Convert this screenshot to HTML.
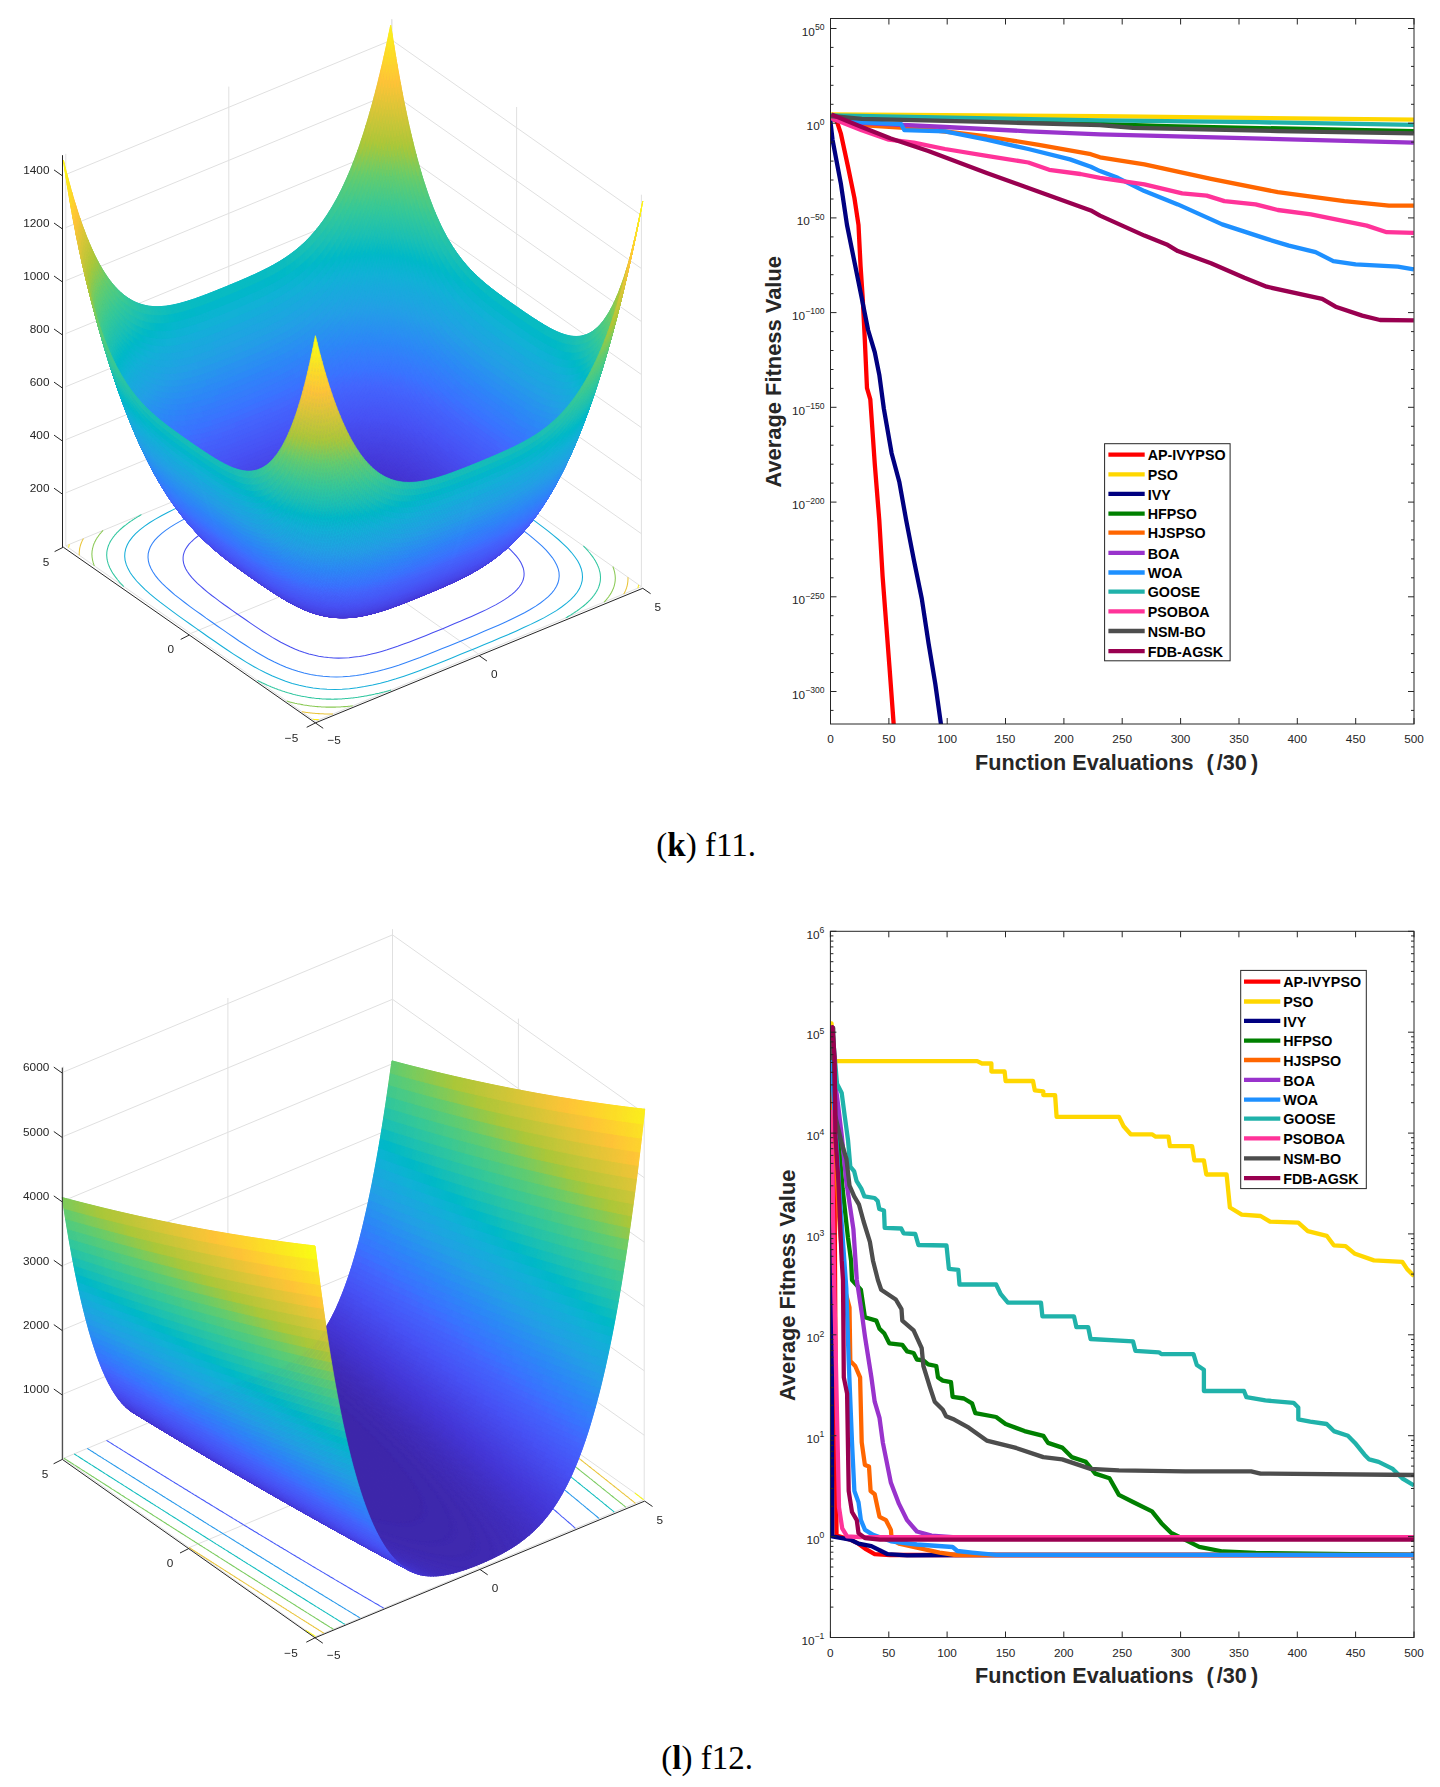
<!DOCTYPE html>
<html><head><meta charset="utf-8"><style>
html,body{margin:0;padding:0;background:#fff;}
body{position:relative;width:1440px;height:1787px;overflow:hidden;}
svg,canvas{display:block;position:absolute;left:0;}
</style></head><body>
<svg width="1440" height="1787" viewBox="0 0 1440 1787" style="top:0">
<rect width="1440" height="1787" fill="#fff"/>
<line x1="65.8" y1="545.8" x2="65.8" y2="153.8" stroke="#e0e0e0" stroke-width="1"/><line x1="228.8" y1="478.5" x2="228.8" y2="86.6" stroke="#e0e0e0" stroke-width="1"/><line x1="391.8" y1="411.3" x2="391.8" y2="19.3" stroke="#e0e0e0" stroke-width="1"/><line x1="641.4" y1="586.7" x2="641.4" y2="194.7" stroke="#e0e0e0" stroke-width="1"/><line x1="516.6" y1="499.0" x2="516.6" y2="107.0" stroke="#e0e0e0" stroke-width="1"/><line x1="391.8" y1="411.3" x2="391.8" y2="19.3" stroke="#e0e0e0" stroke-width="1"/><line x1="65.8" y1="492.8" x2="391.8" y2="358.3" stroke="#e0e0e0" stroke-width="1"/><line x1="391.8" y1="358.3" x2="641.4" y2="533.7" stroke="#e0e0e0" stroke-width="1"/><line x1="65.8" y1="439.7" x2="391.8" y2="305.2" stroke="#e0e0e0" stroke-width="1"/><line x1="391.8" y1="305.2" x2="641.4" y2="480.6" stroke="#e0e0e0" stroke-width="1"/><line x1="65.8" y1="386.7" x2="391.8" y2="252.2" stroke="#e0e0e0" stroke-width="1"/><line x1="391.8" y1="252.2" x2="641.4" y2="427.6" stroke="#e0e0e0" stroke-width="1"/><line x1="65.8" y1="333.6" x2="391.8" y2="199.1" stroke="#e0e0e0" stroke-width="1"/><line x1="391.8" y1="199.1" x2="641.4" y2="374.5" stroke="#e0e0e0" stroke-width="1"/><line x1="65.8" y1="280.6" x2="391.8" y2="146.1" stroke="#e0e0e0" stroke-width="1"/><line x1="391.8" y1="146.1" x2="641.4" y2="321.5" stroke="#e0e0e0" stroke-width="1"/><line x1="65.8" y1="227.6" x2="391.8" y2="93.1" stroke="#e0e0e0" stroke-width="1"/><line x1="391.8" y1="93.1" x2="641.4" y2="268.5" stroke="#e0e0e0" stroke-width="1"/><line x1="65.8" y1="174.5" x2="391.8" y2="40.0" stroke="#e0e0e0" stroke-width="1"/><line x1="391.8" y1="40.0" x2="641.4" y2="215.4" stroke="#e0e0e0" stroke-width="1"/><line x1="315.4" y1="721.2" x2="65.8" y2="545.8" stroke="#e0e0e0" stroke-width="1"/><line x1="478.4" y1="654.0" x2="228.8" y2="478.5" stroke="#e0e0e0" stroke-width="1"/><line x1="641.4" y1="586.7" x2="391.8" y2="411.3" stroke="#e0e0e0" stroke-width="1"/><line x1="315.4" y1="721.2" x2="641.4" y2="586.7" stroke="#e0e0e0" stroke-width="1"/><line x1="190.6" y1="633.5" x2="516.6" y2="499.0" stroke="#e0e0e0" stroke-width="1"/><line x1="65.8" y1="545.8" x2="391.8" y2="411.3" stroke="#e0e0e0" stroke-width="1"/><path d="M446.8 502.7 442.3 499.7 437.6 496.8 433.5 494.3 428.5 491.5 424.2 489.1 419.6 486.8 414.8 484.6 410.7 482.8 405.4 480.8 400.7 479.3 396.2 478.0 391.4 476.9 386.8 476.0 381.8 475.3 376.4 474.7 371.8 474.5 366.5 474.4 361.5 474.6 355.8 475.1 350.4 475.7 345.0 476.6 339.9 477.5 334.7 478.7 329.3 480.1 323.7 481.6 318.3 483.3 312.2 485.3 307.0 487.2 301.1 489.3 295.2 491.6 290.2 493.5 284.4 495.8 278.6 498.1 272.9 500.4 267.2 502.8 261.5 505.1 255.8 507.5 250.1 509.9 244.5 512.3 238.8 514.7 234.1 516.8 228.5 519.3 223.1 521.8 218.5 524.0 213.5 526.6 208.9 529.1 204.7 531.6 201.3 533.8 197.4 536.5 194.4 538.9 191.6 541.5 189.0 544.2 187.2 546.6 185.5 549.3 184.3 551.9 183.4 554.8 183.1 557.3 183.1 560.1 183.6 563.1 184.4 565.8 185.7 568.7 187.3 571.5 189.3 574.4 191.7 577.4 194.5 580.4 197.4 583.4 200.6 586.2 204.4 589.5 207.8 592.3 211.8 595.5 215.4 598.2 219.6 601.3 223.9 604.5 228.2 607.5 232.5 610.6 236.9 613.7 241.3 616.8 245.7 619.8 250.1 622.9 254.5 625.9 259.0 628.9 262.9 631.5 267.6 634.4 272.3 637.4 276.5 639.8 280.8 642.2 285.3 644.5 289.9 646.8 294.8 649.0 299.1 650.7 304.3 652.5 308.9 653.9 313.6 655.1 318.6 656.2 323.7 657.0 328.3 657.6 333.8 658.0 338.5 658.1 343.8 658.0 349.1 657.7 354.3 657.1 359.4 656.4 365.3 655.4 370.3 654.3 376.0 652.9 381.6 651.4 387.1 649.8 392.4 648.0 397.6 646.3 403.6 644.1 409.5 641.9 414.5 640.0 420.3 637.7 426.1 635.4 431.9 633.1 437.6 630.7 443.3 628.4 449.0 626.0 454.7 623.6 460.3 621.3 466.0 618.8 471.5 616.4 476.3 614.3 481.8 611.8 486.4 609.6 491.7 606.9 496.1 604.6 500.4 602.1 504.5 599.6 508.2 597.1 511.6 594.6 514.5 592.1 517.2 589.4 519.2 587.0 521.2 584.1 522.6 581.4 523.4 579.0 524.0 576.0 524.1 573.4 523.8 570.5 523.2 568.0 522.0 565.0 520.6 562.1 518.8 559.3 516.4 556.2 514.1 553.6 511.3 550.6 508.1 547.5 504.5 544.4 501.1 541.6 497.1 538.4 493.0 535.2 489.4 532.5 485.1 529.4 480.9 526.3 476.5 523.2 472.2 520.1 467.8 517.0 463.4 514.0 459.0 510.9 454.6 507.9 450.1 504.9 446.8 502.7" fill="none" stroke="#474ff0" stroke-width="1.05"/><path d="M483.5 502.1 477.9 498.2 472.2 494.3 466.5 490.5 460.6 486.6 455.3 483.2 449.2 479.5 443.6 476.2 437.8 473.1 431.7 470.0 426.1 467.4 420.3 465.0 414.0 462.7 407.8 460.7 401.6 459.1 395.5 457.8 389.2 456.8 382.8 456.1 376.0 455.6 369.4 455.6 363.3 455.8 356.3 456.3 349.7 457.2 342.4 458.4 335.3 459.8 328.6 461.4 321.1 463.4 314.8 465.3 306.9 467.9 299.9 470.3 293.1 472.8 285.5 475.7 278.0 478.6 270.6 481.6 263.2 484.6 256.7 487.2 249.3 490.2 242.0 493.3 234.7 496.3 228.2 499.0 220.9 502.1 213.7 505.2 206.5 508.3 199.8 511.4 193.3 514.5 187.2 517.5 181.3 520.6 175.6 523.9 170.7 526.9 165.6 530.4 161.8 533.3 157.9 536.9 154.8 540.2 152.3 543.5 150.3 547.0 149.0 550.5 148.2 553.7 148.0 557.2 148.4 561.1 149.3 564.5 150.9 568.3 152.8 571.8 155.4 575.6 158.4 579.3 162.1 583.3 166.1 587.2 170.4 591.0 174.8 594.8 179.4 598.4 184.7 602.5 190.1 606.6 195.6 610.6 201.2 614.5 206.1 618.1 211.7 622.0 217.3 626.0 223.0 629.9 228.0 633.4 233.7 637.3 239.4 641.2 245.3 645.0 251.2 648.9 256.6 652.2 262.2 655.5 267.9 658.7 273.9 661.7 280.3 664.7 286.1 667.2 292.3 669.5 297.9 671.3 304.0 673.0 310.5 674.5 316.5 675.5 323.0 676.3 329.8 676.8 336.5 676.9 342.7 676.8 349.8 676.3 356.4 675.5 362.8 674.5 369.9 673.1 376.7 671.6 384.2 669.6 391.5 667.4 398.6 665.2 405.6 662.8 412.4 660.3 420.0 657.5 427.5 654.5 435.0 651.6 442.3 648.6 448.9 645.9 456.2 642.9 463.6 639.9 470.9 636.9 477.4 634.2 484.7 631.1 491.9 628.0 499.1 624.9 506.2 621.7 512.4 618.8 518.5 615.8 524.5 612.7 530.2 609.5 535.8 606.1 540.4 603.0 544.7 599.7 548.3 596.6 551.7 593.1 554.2 590.0 556.5 586.2 558.0 582.8 558.8 579.6 559.2 576.1 559.0 572.4 558.2 568.8 556.8 565.2 554.7 561.2 552.5 557.8 549.3 553.8 546.1 550.2 542.1 546.2 537.9 542.4 533.5 538.7 528.7 534.7 523.7 530.9 518.3 526.8 512.8 522.8 507.3 518.9 502.3 515.3 496.7 511.4 491.1 507.4 485.5 503.5 483.5 502.1" fill="none" stroke="#3182f9" stroke-width="1.05"/><path d="M491.6 490.5 485.3 486.2 478.9 481.9 472.4 477.6 466.4 473.8 459.7 469.6 453.4 465.9 446.8 462.4 440.5 459.2 433.6 456.0 426.9 453.2 420.6 450.9 414.0 448.8 406.8 446.9 400.1 445.5 392.8 444.3 385.9 443.5 378.8 443.1 371.0 443.0 363.6 443.3 356.7 443.9 349.0 444.8 341.0 446.2 333.6 447.7 325.9 449.6 317.6 451.8 309.6 454.2 301.5 456.9 293.7 459.6 286.1 462.4 277.7 465.6 269.4 468.9 261.1 472.2 253.8 475.2 245.6 478.5 237.4 481.9 229.3 485.3 221.1 488.6 213.0 492.0 205.8 495.1 197.7 498.5 189.8 502.0 182.1 505.5 174.9 508.9 168.1 512.2 161.4 515.7 155.0 519.4 149.5 522.8 144.3 526.4 139.8 529.9 135.6 533.7 132.4 537.1 129.4 541.1 127.3 544.8 125.7 548.8 124.9 552.7 124.7 556.3 125.1 560.3 126.3 564.7 128.0 568.6 130.3 572.8 133.1 576.7 136.6 581.0 140.6 585.2 145.1 589.6 149.9 593.9 155.0 598.1 160.1 602.2 166.1 606.7 172.1 611.2 178.2 615.6 183.8 619.6 190.0 624.0 196.2 628.4 202.4 632.8 208.7 637.2 215.0 641.5 220.7 645.5 227.0 649.8 233.5 654.1 240.1 658.3 246.2 662.1 252.4 665.8 258.9 669.4 265.6 672.8 271.9 675.8 278.6 678.6 285.6 681.3 292.3 683.4 299.3 685.3 306.0 686.8 313.1 688.0 319.8 688.8 327.0 689.3 334.9 689.5 342.2 689.3 349.4 688.7 357.1 687.8 364.5 686.6 372.6 685.0 380.3 683.2 387.8 681.2 396.0 678.8 404.0 676.2 411.8 673.5 419.4 670.7 427.8 667.5 436.2 664.3 444.4 661.0 451.8 658.0 460.0 654.6 468.1 651.3 476.3 647.9 484.4 644.6 492.5 641.2 499.8 638.1 507.9 634.7 515.9 631.2 523.7 627.6 530.7 624.4 537.6 621.0 544.3 617.6 550.8 613.9 556.4 610.6 561.6 607.0 566.6 603.2 570.7 599.7 574.3 595.9 577.2 592.3 579.5 588.6 581.2 584.4 582.2 580.6 582.5 576.9 582.2 572.9 581.3 569.0 579.7 564.8 577.6 560.8 574.6 556.5 571.3 552.3 567.6 548.2 563.1 543.8 558.4 539.5 553.4 535.3 548.2 531.2 542.3 526.7 536.3 522.2 530.2 517.7 524.7 513.8 518.5 509.4 512.3 505.0 506.0 500.6 499.8 496.2 493.5 491.8 491.6 490.5" fill="none" stroke="#15aed9" stroke-width="1.05"/><path d="M257.4 680.5 258.1 680.8 258.9 681.2 259.7 681.6 260.4 681.9 261.2 682.3 261.7 682.6 262.0 682.7 262.8 683.1 263.6 683.4 264.4 683.8 265.2 684.2 265.5 684.3 266.0 684.5 266.8 684.9 267.6 685.2 268.4 685.6 269.0 685.9 269.2 686.0 270.1 686.3 270.9 686.7 271.7 687.0 272.2 687.2 272.6 687.4 273.5 687.7 274.3 688.0 275.1 688.4 275.2 688.4 276.1 688.7 276.9 689.0 277.8 689.4 277.9 689.4 278.7 689.7 279.6 690.0 280.5 690.3 280.6 690.4 281.5 690.7 282.4 691.0 283.1 691.2 283.3 691.3 284.3 691.6 285.2 691.9 285.5 692.0 286.2 692.2 287.1 692.5 287.8 692.7 288.1 692.8 289.1 693.1 290.0 693.3 290.1 693.4 291.1 693.6 292.1 693.9 292.1 693.9 293.1 694.2 294.2 694.5 294.2 694.5 295.2 694.7 296.1 694.9 296.3 695.0 297.4 695.2 298.1 695.4 298.5 695.5 299.6 695.7 300.0 695.8 300.7 696.0 301.8 696.2 301.8 696.2 303.0 696.4 303.6 696.5 304.1 696.6 305.3 696.8 305.3 696.8 306.5 697.0 307.0 697.1 307.7 697.2 308.7 697.4 308.9 697.4 310.2 697.6 310.3 697.6 311.4 697.8 311.9 697.9 312.7 698.0 313.5 698.0 314.0 698.1 315.0 698.2 315.3 698.3 316.6 698.4 316.7 698.4 318.1 698.5 318.1 698.5 319.5 698.6 319.5 698.7 320.9 698.8 321.0 698.8 322.3 698.9 322.4 698.9 323.8 698.9 323.8 698.9 325.2 699.0 325.3 699.0 326.6 699.1 326.9 699.1 327.9 699.1 328.5 699.1 329.3 699.1 330.1 699.1 330.6 699.1 331.7 699.2 331.9 699.2 333.2 699.2 333.4 699.2 334.5 699.1 335.2 699.1 335.7 699.1 336.9 699.1 337.0 699.1 338.2 699.0 338.8 699.0 339.4 699.0 340.6 698.9 340.7 698.9 341.8 698.9 342.6 698.8 343.0 698.8 344.2 698.7 344.6 698.7 345.4 698.6 346.5 698.5 346.7 698.5 347.7 698.4 348.8 698.3 348.9 698.3 350.0 698.2 351.1 698.1 351.1 698.1 352.2 698.0 353.3 697.9 353.5 697.8 354.4 697.7 355.5 697.6 355.9 697.5 356.6 697.4 357.7 697.3 358.5 697.2 358.8 697.1 359.8 697.0 360.9 696.8 361.1 696.8 361.9 696.6 363.0 696.5 364.0 696.3 364.0 696.3 365.0 696.1 366.1 695.9 367.0 695.7 367.1 695.7 368.1 695.5 369.1 695.3 370.1 695.1 370.2 695.1 371.1 694.9 372.1 694.7 373.1 694.5 373.6 694.4 374.1 694.3 375.1 694.1 376.1 693.8 377.0 693.6 377.4 693.6 378.0 693.4 379.0 693.2 379.9 692.9 380.9 692.7 381.4 692.6 381.9 692.5 382.8 692.2 383.8 692.0 384.7 691.7 385.6 691.5 386.0 691.4 386.6 691.2 387.5 691.0 388.4 690.7 389.4 690.5 390.3 690.2 391.1 690.0" fill="none" stroke="#2fc69f" stroke-width="1.05"/><path d="M141.5 514.6 140.9 514.9 140.2 515.3 139.5 515.8 138.8 516.2 138.1 516.6 137.6 516.9 137.4 517.0 136.7 517.4 136.0 517.9 135.3 518.3 134.6 518.7 134.3 518.9 134.0 519.2 133.3 519.6 132.6 520.0 132.0 520.5 131.5 520.8 131.3 520.9 130.6 521.4 130.0 521.8 129.3 522.3 129.0 522.5 128.7 522.7 128.1 523.2 127.4 523.7 126.8 524.1 126.8 524.1 126.2 524.6 125.6 525.1 124.9 525.5 124.9 525.6 124.3 526.0 123.7 526.5 123.1 527.0 123.1 527.0 122.5 527.5 122.0 528.0 121.5 528.4 121.4 528.5 120.8 529.0 120.2 529.5 120.1 529.7 119.7 530.0 119.1 530.6 118.8 530.9 118.6 531.1 118.1 531.6 117.6 532.1 117.5 532.2 117.0 532.7 116.5 533.2 116.5 533.2 116.0 533.8 115.5 534.3 115.5 534.4 115.0 534.9 114.6 535.4 114.5 535.5 114.1 536.1 113.8 536.5 113.6 536.7 113.1 537.3 113.0 537.5 112.7 537.9 112.3 538.5 112.3 538.5 111.9 539.1 111.6 539.4 111.5 539.7 111.1 540.3 111.1 540.4 110.7 541.0 110.5 541.3 110.3 541.6 110.0 542.2 110.0 542.3 109.6 543.0 109.6 543.0 109.3 543.6 109.2 543.9 109.0 544.3 108.8 544.8 108.7 545.0 108.5 545.6 108.4 545.8 108.2 546.4 108.2 546.5 107.9 547.2 107.9 547.2 107.7 548.0 107.7 548.0 107.5 548.7 107.5 548.8 107.3 549.5 107.3 549.6 107.1 550.3 107.1 550.3 107.0 551.1 107.0 551.1 106.9 551.8 106.9 552.0 106.8 552.5 106.8 552.8 106.8 553.2 106.8 553.7 106.8 554.0 106.7 554.6 106.7 554.7 106.7 555.4 106.7 555.5 106.8 556.0 106.8 556.4 106.8 556.7 106.9 557.4 106.9 557.4 106.9 558.1 107.0 558.4 107.0 558.7 107.1 559.4 107.1 559.4 107.2 560.0 107.3 560.4 107.4 560.7 107.5 561.3 107.6 561.5 107.7 561.9 107.9 562.6 107.9 562.6 108.0 563.2 108.2 563.8 108.2 563.8 108.4 564.4 108.7 565.0 108.7 565.0 108.9 565.6 109.1 566.2 109.2 566.3 109.4 566.8 109.6 567.4 109.7 567.6 109.9 568.0 110.2 568.5 110.4 569.0 110.5 569.1 110.8 569.7 111.1 570.3 111.2 570.4 111.4 570.8 111.7 571.4 112.0 571.9 112.1 572.0 112.4 572.5 112.7 573.1 113.0 573.5 113.1 573.6 113.5 574.2 113.8 574.7 114.2 575.2 114.2 575.3 114.6 575.8 115.0 576.3 115.4 576.9 115.6 577.1 115.7 577.4 116.2 577.9 116.6 578.4 117.0 579.0 117.1 579.1 117.4 579.5 117.8 580.0 118.3 580.5 118.7 581.0 118.9 581.3 119.1 581.6 119.6 582.1 120.0 582.6 120.5 583.1 121.0 583.6 121.1 583.8 121.4 584.1 121.9 584.6 122.4 585.1 122.9 585.6 123.3 586.1 123.8 586.5" fill="none" stroke="#2fc69f" stroke-width="1.05"/><path d="M565.7 617.9 566.3 617.6 567.0 617.2 567.7 616.7 568.4 616.3 569.1 615.9 569.6 615.6 569.8 615.5 570.5 615.1 571.2 614.6 571.9 614.2 572.6 613.8 572.9 613.6 573.2 613.3 573.9 612.9 574.6 612.5 575.2 612.0 575.7 611.7 575.9 611.6 576.6 611.1 577.2 610.7 577.9 610.2 578.2 610.0 578.5 609.8 579.1 609.3 579.8 608.8 580.4 608.4 580.4 608.4 581.0 607.9 581.6 607.4 582.3 607.0 582.3 606.9 582.9 606.5 583.5 606.0 584.1 605.5 584.1 605.5 584.7 605.0 585.2 604.5 585.7 604.1 585.8 604.0 586.4 603.5 587.0 603.0 587.1 602.8 587.5 602.5 588.1 601.9 588.4 601.6 588.6 601.4 589.1 600.9 589.6 600.4 589.7 600.3 590.2 599.8 590.7 599.3 590.7 599.3 591.2 598.7 591.7 598.2 591.7 598.1 592.2 597.6 592.6 597.1 592.7 597.0 593.1 596.4 593.4 596.0 593.6 595.8 594.1 595.2 594.2 595.0 594.5 594.6 594.9 594.0 594.9 594.0 595.3 593.4 595.6 593.1 595.7 592.8 596.1 592.2 596.1 592.1 596.5 591.5 596.7 591.2 596.9 590.9 597.2 590.3 597.2 590.2 597.6 589.5 597.6 589.5 597.9 588.9 598.0 588.6 598.2 588.2 598.4 587.7 598.5 587.5 598.7 586.9 598.8 586.7 599.0 586.1 599.0 586.0 599.3 585.3 599.3 585.3 599.5 584.5 599.5 584.5 599.7 583.8 599.7 583.7 599.9 583.0 599.9 582.9 600.1 582.2 600.1 582.2 600.2 581.4 600.2 581.4 600.3 580.7 600.3 580.5 600.4 580.0 600.4 579.7 600.4 579.3 600.4 578.8 600.4 578.5 600.5 577.9 600.5 577.8 600.5 577.1 600.5 577.0 600.4 576.5 600.4 576.1 600.4 575.8 600.3 575.1 600.3 575.1 600.3 574.4 600.2 574.1 600.2 573.8 600.1 573.1 600.1 573.1 600.0 572.5 599.9 572.1 599.8 571.8 599.7 571.2 599.6 571.0 599.5 570.6 599.3 569.9 599.3 569.9 599.2 569.3 599.0 568.7 599.0 568.7 598.8 568.1 598.5 567.5 598.5 567.5 598.3 566.9 598.1 566.3 598.0 566.2 597.8 565.7 597.6 565.1 597.5 564.9 597.3 564.5 597.0 564.0 596.8 563.5 596.7 563.4 596.4 562.8 596.1 562.2 596.0 562.1 595.8 561.7 595.5 561.1 595.2 560.6 595.1 560.5 594.8 560.0 594.5 559.4 594.2 559.0 594.1 558.9 593.7 558.3 593.4 557.8 593.0 557.3 593.0 557.2 592.6 556.7 592.2 556.2 591.8 555.6 591.6 555.4 591.5 555.1 591.0 554.6 590.6 554.1 590.2 553.5 590.1 553.4 589.8 553.0 589.4 552.5 588.9 552.0 588.5 551.5 588.3 551.2 588.1 550.9 587.6 550.4 587.2 549.9 586.7 549.4 586.2 548.9 586.1 548.7 585.8 548.4 585.3 547.9 584.8 547.4 584.3 546.9 583.9 546.4 583.4 546.0" fill="none" stroke="#2fc69f" stroke-width="1.05"/><path d="M449.8 452.0 449.1 451.7 448.3 451.3 447.5 450.9 446.8 450.6 446.0 450.2 445.5 449.9 445.2 449.8 444.4 449.4 443.6 449.1 442.8 448.7 442.0 448.3 441.7 448.2 441.2 448.0 440.4 447.6 439.6 447.3 438.8 446.9 438.2 446.6 438.0 446.5 437.1 446.2 436.3 445.8 435.5 445.5 435.0 445.3 434.6 445.1 433.7 444.8 432.9 444.5 432.1 444.1 432.0 444.1 431.1 443.8 430.3 443.5 429.4 443.1 429.3 443.1 428.5 442.8 427.6 442.5 426.7 442.2 426.6 442.1 425.7 441.8 424.8 441.5 424.1 441.3 423.9 441.2 422.9 440.9 422.0 440.6 421.7 440.5 421.0 440.3 420.1 440.0 419.4 439.8 419.1 439.7 418.1 439.4 417.2 439.2 417.1 439.1 416.1 438.9 415.1 438.6 415.1 438.6 414.1 438.3 413.0 438.0 413.0 438.0 412.0 437.8 411.1 437.6 410.9 437.5 409.8 437.3 409.1 437.1 408.7 437.0 407.6 436.8 407.2 436.7 406.5 436.5 405.4 436.3 405.4 436.3 404.2 436.1 403.6 436.0 403.1 435.9 401.9 435.7 401.9 435.7 400.7 435.5 400.2 435.4 399.5 435.3 398.5 435.1 398.3 435.1 397.0 434.9 396.9 434.9 395.8 434.7 395.3 434.6 394.5 434.5 393.7 434.5 393.2 434.4 392.2 434.3 391.9 434.2 390.6 434.1 390.5 434.1 389.1 434.0 389.1 434.0 387.7 433.9 387.7 433.8 386.3 433.7 386.2 433.7 384.9 433.6 384.8 433.6 383.4 433.6 383.4 433.6 382.0 433.5 381.9 433.5 380.6 433.4 380.3 433.4 379.3 433.4 378.7 433.4 377.9 433.4 377.1 433.4 376.6 433.4 375.5 433.3 375.3 433.3 374.0 433.3 373.8 433.3 372.7 433.4 372.0 433.4 371.5 433.4 370.3 433.4 370.2 433.4 369.0 433.5 368.4 433.5 367.8 433.5 366.6 433.6 366.5 433.6 365.4 433.6 364.6 433.7 364.2 433.7 363.0 433.8 362.6 433.8 361.8 433.9 360.7 434.0 360.5 434.0 359.5 434.1 358.4 434.2 358.3 434.2 357.2 434.3 356.1 434.4 356.1 434.4 355.0 434.5 353.9 434.6 353.7 434.7 352.8 434.8 351.7 434.9 351.3 435.0 350.6 435.1 349.5 435.2 348.7 435.3 348.4 435.4 347.4 435.5 346.3 435.7 346.1 435.7 345.3 435.9 344.2 436.0 343.2 436.2 343.2 436.2 342.2 436.4 341.1 436.6 340.2 436.8 340.1 436.8 339.1 437.0 338.1 437.2 337.1 437.4 337.0 437.4 336.1 437.6 335.1 437.8 334.1 438.0 333.6 438.1 333.1 438.2 332.1 438.4 331.1 438.7 330.2 438.9 329.8 438.9 329.2 439.1 328.2 439.3 327.3 439.6 326.3 439.8 325.8 439.9 325.3 440.0 324.4 440.3 323.4 440.5 322.5 440.8 321.6 441.0 321.2 441.1 320.6 441.3 319.7 441.5 318.8 441.8 317.8 442.0 316.9 442.3 316.1 442.5" fill="none" stroke="#2fc69f" stroke-width="1.05"/><path d="M286.8 701.1 287.6 701.3 288.6 701.6 289.0 701.7 289.7 701.9 290.7 702.2 291.0 702.2 291.8 702.4 292.8 702.7 293.0 702.7 293.9 702.9 294.9 703.2 295.0 703.2 296.1 703.4 296.8 703.6 297.2 703.7 298.3 703.9 298.6 704.0 299.4 704.1 300.4 704.3 300.6 704.3 301.8 704.6 302.2 704.6 302.9 704.8 303.9 704.9 304.1 705.0 305.4 705.2 305.6 705.2 306.6 705.3 307.2 705.4 307.8 705.5 308.8 705.7 309.1 705.7 310.4 705.9 310.4 705.9 311.7 706.0 312.0 706.1 313.0 706.2 313.5 706.2 314.4 706.3 315.0 706.4 315.7 706.4 316.5 706.5 317.1 706.6 317.9 706.6 318.6 706.7 319.4 706.7 320.0 706.8 320.8 706.8 321.5 706.9 322.2 706.9 323.0 706.9 323.6 707.0 324.5 707.0 325.0 707.0 326.1 707.1 326.3 707.1 327.7 707.1 327.7 707.1 329.0 707.1 329.3 707.1 330.3 707.1 331.0 707.1 331.6 707.1 332.7 707.1 332.9 707.1 334.1 707.1 334.4 707.1 335.4 707.1 336.2 707.0 336.6 707.0 337.9 707.0 338.1 707.0 339.1 706.9 340.0 706.9 340.3 706.9 341.5 706.8 341.9 706.8 342.7 706.7 343.9 706.7 343.9 706.6 345.0 706.6 346.0 706.5 346.2 706.5 347.3 706.4 348.1 706.3 348.5 706.3 349.6 706.2 350.4 706.1 350.7 706.0 351.9 705.9 352.7 705.8" fill="none" stroke="#89c953" stroke-width="1.05"/><path d="M103.1 530.4 102.7 530.8 102.2 531.4 102.0 531.5 101.7 531.9 101.2 532.5 101.0 532.7 100.7 533.1 100.2 533.6 100.1 533.7 99.7 534.2 99.3 534.8 99.3 534.8 98.8 535.4 98.5 535.8 98.4 536.0 98.0 536.6 97.8 536.8 97.5 537.2 97.2 537.7 97.1 537.8 96.7 538.4 96.6 538.7 96.3 539.1 96.0 539.6 96.0 539.7 95.6 540.4 95.5 540.5 95.3 541.0 95.1 541.4 94.9 541.7 94.7 542.2 94.6 542.4 94.3 543.1 94.3 543.1 94.0 543.8 93.9 543.9 93.7 544.5 93.6 544.8 93.5 545.2 93.3 545.6 93.2 546.0 93.1 546.4 93.0 546.7 92.9 547.2 92.8 547.5 92.7 547.9 92.6 548.3 92.5 548.7 92.4 549.1 92.4 549.5 92.3 549.9 92.2 550.2 92.2 550.7 92.1 550.9 92.1 551.5 92.0 551.7 92.0 552.4 92.0 552.4 92.0 553.1 91.9 553.3 91.9 553.8 91.9 554.2 91.9 554.5 91.9 555.1 92.0 555.2 92.0 555.9 92.0 556.0 92.0 556.5 92.1 557.0 92.1 557.2 92.2 557.9 92.2 558.0 92.3 558.5 92.4 559.0 92.4 559.2 92.5 559.8 92.6 560.1 92.6 560.5 92.8 561.1 92.8 561.1 93.0 561.7 93.1 562.3 93.1 562.4 93.3 563.0 93.5 563.4 93.5 563.6 93.7 564.2 93.9 564.6 93.9 564.8 94.2 565.4 94.4 565.9" fill="none" stroke="#89c953" stroke-width="1.05"/><path d="M604.1 602.1 604.5 601.7 605.0 601.1 605.2 601.0 605.5 600.6 606.0 600.0 606.2 599.8 606.5 599.4 607.0 598.9 607.1 598.8 607.5 598.3 607.9 597.7 607.9 597.7 608.4 597.1 608.7 596.7 608.8 596.5 609.2 595.9 609.4 595.7 609.7 595.3 610.0 594.8 610.1 594.7 610.5 594.1 610.6 593.8 610.9 593.4 611.2 592.9 611.2 592.8 611.6 592.1 611.7 592.0 611.9 591.5 612.1 591.1 612.3 590.8 612.5 590.3 612.6 590.1 612.9 589.4 612.9 589.4 613.2 588.7 613.3 588.6 613.5 588.0 613.6 587.7 613.7 587.3 613.9 586.9 614.0 586.5 614.1 586.1 614.2 585.8 614.3 585.3 614.4 585.0 614.5 584.6 614.6 584.2 614.7 583.8 614.8 583.4 614.8 583.0 614.9 582.6 615.0 582.3 615.0 581.8 615.1 581.6 615.1 581.0 615.2 580.8 615.2 580.1 615.2 580.1 615.2 579.4 615.3 579.2 615.3 578.7 615.3 578.3 615.3 578.0 615.3 577.4 615.2 577.3 615.2 576.6 615.2 576.5 615.2 576.0 615.1 575.5 615.1 575.3 615.0 574.6 615.0 574.5 614.9 574.0 614.8 573.5 614.8 573.3 614.7 572.7 614.6 572.4 614.6 572.0 614.4 571.4 614.4 571.4 614.2 570.8 614.1 570.2 614.1 570.1 613.9 569.5 613.7 569.1 613.7 568.9 613.5 568.3 613.3 567.9 613.3 567.7 613.0 567.1 612.8 566.6" fill="none" stroke="#89c953" stroke-width="1.05"/><path d="M420.4 431.4 419.6 431.2 418.6 430.9 418.2 430.8 417.5 430.6 416.5 430.3 416.2 430.3 415.4 430.1 414.4 429.8 414.2 429.8 413.3 429.6 412.3 429.3 412.2 429.3 411.1 429.1 410.4 428.9 410.0 428.8 408.9 428.6 408.6 428.5 407.8 428.4 406.8 428.2 406.6 428.2 405.4 427.9 405.0 427.9 404.3 427.7 403.3 427.6 403.1 427.5 401.8 427.3 401.6 427.3 400.6 427.2 400.0 427.1 399.4 427.0 398.4 426.8 398.1 426.8 396.8 426.6 396.8 426.6 395.5 426.5 395.2 426.4 394.2 426.3 393.7 426.3 392.8 426.2 392.2 426.1 391.5 426.1 390.7 426.0 390.1 425.9 389.3 425.9 388.6 425.8 387.8 425.8 387.2 425.7 386.4 425.7 385.7 425.6 385.0 425.6 384.2 425.6 383.6 425.5 382.7 425.5 382.2 425.5 381.1 425.4 380.9 425.4 379.5 425.4 379.5 425.4 378.2 425.4 377.9 425.4 376.9 425.4 376.2 425.4 375.6 425.4 374.5 425.4 374.3 425.4 373.1 425.4 372.8 425.4 371.8 425.4 371.0 425.5 370.6 425.5 369.3 425.5 369.1 425.5 368.1 425.6 367.2 425.6 366.9 425.6 365.7 425.7 365.3 425.7 364.5 425.8 363.3 425.8 363.3 425.9 362.2 425.9 361.2 426.0 361.0 426.0 359.9 426.1 359.1 426.2 358.7 426.2 357.6 426.3 356.8 426.4 356.5 426.5 355.3 426.6 354.5 426.7" fill="none" stroke="#89c953" stroke-width="1.05"/><path d="M301.9 711.7 302.7 711.8 303.6 712.0 303.9 712.0 305.1 712.2 305.2 712.2 306.4 712.4 306.8 712.5 307.7 712.6 308.4 712.7 309.0 712.7 310.0 712.8 310.3 712.9 311.5 713.0 311.6 713.0 313.0 713.2 313.0 713.2 314.3 713.3 314.5 713.3 315.7 713.4 316.0 713.4 317.2 713.5 317.4 713.5 318.6 713.6 318.9 713.6 320.1 713.7 320.3 713.7 321.6 713.8 321.7 713.8 323.0 713.8 323.1 713.8 324.4 713.9 324.7 713.9 325.7 713.9 326.3 713.9 327.1 713.9 327.9 714.0 328.4 714.0 329.6 714.0 329.7 714.0 331.0 714.0 331.3 714.0 332.2 713.9 333.0 713.9" fill="none" stroke="#e9c438" stroke-width="1.05"/><path d="M83.4 538.5 83.2 538.9 82.9 539.4 82.8 539.6 82.5 540.3 82.5 540.3 82.2 540.9 82.0 541.2 81.8 541.6 81.7 542.0 81.5 542.3 81.3 542.9 81.3 543.0 81.0 543.7 81.0 543.7 80.7 544.5 80.7 544.5 80.5 545.2 80.5 545.3 80.3 546.0 80.2 546.1 80.1 546.7 80.0 546.9 79.9 547.5 79.9 547.7 79.7 548.3 79.7 548.4 79.6 549.1 79.6 549.2 79.5 549.9 79.5 550.0 79.4 550.6 79.4 550.8 79.3 551.4 79.3 551.7 79.3 552.1 79.3 552.5 79.2 552.8 79.2 553.4 79.2 553.5 79.2 554.2 79.2 554.3 79.3 554.9 79.3 555.3" fill="none" stroke="#e9c438" stroke-width="1.05"/><path d="M623.8 594.0 624.0 593.6 624.3 593.1 624.4 592.9 624.7 592.2 624.7 592.2 625.0 591.6 625.2 591.3 625.4 590.9 625.5 590.5 625.7 590.2 625.9 589.6 625.9 589.5 626.2 588.8 626.2 588.8 626.5 588.0 626.5 588.0 626.7 587.3 626.7 587.2 626.9 586.5 627.0 586.4 627.1 585.8 627.2 585.6 627.3 585.0 627.3 584.8 627.5 584.2 627.5 584.1 627.6 583.4 627.6 583.3 627.7 582.6 627.7 582.5 627.8 581.9 627.8 581.7 627.9 581.1 627.9 580.8 627.9 580.4 627.9 580.0 628.0 579.7 628.0 579.1 628.0 579.0 628.0 578.3 628.0 578.2 627.9 577.6 627.9 577.2" fill="none" stroke="#e9c438" stroke-width="1.05"/><path d="M405.3 420.8 404.5 420.7 403.6 420.5 403.3 420.5 402.1 420.3 402.0 420.3 400.8 420.1 400.4 420.0 399.5 419.9 398.8 419.8 398.2 419.8 397.2 419.7 396.9 419.6 395.7 419.5 395.6 419.5 394.2 419.3 394.2 419.3 392.9 419.2 392.7 419.2 391.5 419.1 391.2 419.1 390.0 419.0 389.8 419.0 388.6 418.9 388.3 418.9 387.1 418.8 386.9 418.8 385.6 418.7 385.5 418.7 384.2 418.7 384.1 418.7 382.8 418.6 382.5 418.6 381.5 418.6 380.9 418.6 380.1 418.6 379.3 418.5 378.8 418.5 377.6 418.5 377.5 418.5 376.2 418.5 375.9 418.5 375.0 418.6 374.2 418.6" fill="none" stroke="#e9c438" stroke-width="1.05"/><path d="M312.7 719.3 313.2 719.3 314.1 719.4 314.6 719.4 315.6 719.5 316.0 719.5 317.0 719.6 317.5 719.6 318.4 719.7 319.0 719.7" fill="none" stroke="#fbec1e" stroke-width="1.05"/><path d="M69.4 544.3 69.3 544.6 69.1 545.1 69.1 545.4 68.9 545.9 68.9 546.1 68.8 546.7 68.7 546.9 68.6 547.4 68.5 547.7" fill="none" stroke="#fbec1e" stroke-width="1.05"/><path d="M637.8 588.2 637.9 587.9 638.1 587.4 638.1 587.1 638.3 586.6 638.3 586.4 638.4 585.8 638.5 585.6 638.6 585.1 638.7 584.8" fill="none" stroke="#fbec1e" stroke-width="1.05"/><path d="M394.5 413.2 394.0 413.2 393.1 413.1 392.6 413.1 391.6 413.0 391.2 413.0 390.2 412.9 389.7 412.9 388.8 412.8 388.2 412.8" fill="none" stroke="#fbec1e" stroke-width="1.05"/><g transform="scale(0.1)" stroke-width="9" stroke-linejoin="round"><path fill="#4434cf" stroke="#4434cf" d="M3660 6151l41-10-31 6-41 9zM4019 6038l41-16-31 10-41 15zM3937 6068l41-15-31 10-41 15zM3506 6174l41-4-32 2-41 4zM3896 6083l41-15-31 10-41 14zM3619 6158l41-7-31 5-41 8zM3855 6096l41-13-31 9-41 14zM3815 6109l40-13-31 10-41 13zM3320 6171l41 4-31-4-41-4zM3774 6121l41-12-32 10-41 12zM3908 4845l41-44-32-33-41 44zM3144 6133l41 11-32-11-41-11zM3578 6164l41-6-31 6-41 6zM3804 4818l41-41-32-37-41 41zM3248 6160l41 7-32-7-41-7zM4043 4890l41-49-31-28-41 48zM3733 6132l41-11-32 10-41 10zM4012 4861l41-48-32-29-41 48zM3692 6141l41-9-32 9-41 10zM3876 4812l41-44-31-35-41 44zM3175 6142l41 11-31-9-41-11zM3537 6168l41-4-31 6-41 4zM3352 6172l41 4-32-1-41-4zM4255 5942l41-17-31 14-41 17zM4214 5959l41-17-31 14-41 17zM4296 5925l41-17-31 14-41 17zM4173 5976l41-17-31 14-41 17zM4337 5908l41-17-31 14-41 17zM4133 5992l40-16-31 14-41 16zM4378 5891l41-17-32 13-40 18zM4092 6008l41-16-32 14-41 16zM4419 5874l41-18-32 14-41 17zM3772 4781l41-41-31-40-41 41zM4051 6024l41-16-32 14-41 16zM3279 6164l41 7-31-4-41-7zM4460 5856l41-18-32 13-41 19zM4010 6040l41-16-32 14-41 15zM3980 4832l41-48-31-32-41 49zM4501 5838l41-19-32 14-41 18zM3071 6108l41 14-31-12-41-15zM3651 6149l41-8-32 10-41 7zM3969 6055l41-15-32 13-41 15zM3928 6069l41-14-32 13-41 15zM3887 6083l41-14-32 14-41 13zM3845 4777l41-44-32-37-41 44zM3207 6149l41 11-32-7-41-11zM3497 6170l40-2-31 6-41 1zM4147 4894l41-53-31-25-41 52zM3846 6096l41-13-32 13-40 13zM3949 4801l41-49-32-32-41 48zM3103 6119l41 14-32-11-41-14zM3610 6155l41-6-32 9-41 6zM4116 4868l41-52-32-27-41 52zM3805 6107l41-11-31 13-41 12z"/><path fill="#4539d8" stroke="#4539d8" d="M3741 4741l41-41-32-43-41 41zM3311 6165l41 7-32-1-41-7zM3383 6170l41 4-31 2-41-4zM4084 4841l41-52-31-29-41 53zM4705 5737l41-23-31 14-41 23zM3764 6118l41-11-31 14-41 11zM3917 4768l41-48-31-35-41 48zM3134 6128l41 14-31-9-41-14zM3569 6159l41-4-32 9-41 4zM3813 4740l41-44-31-40-41 44zM3238 6153l41 11-31-4-41-11zM3456 6168l41 2-32 5-41-1zM4053 4813l41-53-32-29-41 53zM2999 6076l41 19-32-15-41-18zM3723 6127l41-9-31 14-41 9zM4287 5924l41-17-32 18-41 17zM4246 5941l41-17-32 18-41 17zM4021 4784l41-53-31-31-41 52zM4328 5907l41-17-32 18-41 17zM4205 5957l41-16-32 18-41 17zM3030 6089l41 19-31-13-41-19zM3682 6135l41-8-31 14-41 8zM4369 5890l41-17-32 18-41 17zM4164 5974l41-17-32 19-40 16zM4410 5873l40-18-31 19-41 17zM4123 5990l41-16-31 18-41 16zM4450 5855l41-18-31 19-41 18zM4082 6006l41-16-31 18-41 16zM3886 4733l41-48-32-38-41 49zM3166 6134l41 15-32-7-41-14zM3528 6160l41-1-32 9-40 2zM4491 5837l41-18-31 19-41 18zM4041 6021l41-15-31 18-41 16zM4532 5819l41-19-31 19-41 19zM4000 6036l41-15-31 19-41 15zM3709 4698l41-41-31-46-41 41zM3342 6163l41 7-31 2-41-7zM4573 5800l41-19-31 19-41 19zM2800 5968l41 24-31-20-41-23zM3959 6050l41-14-31 19-41 14zM3782 4700l41-44-32-43-41 44zM3270 6154l41 11-32-1-41-11zM3415 6164l41 4-32 6-41-4zM4220 4867l41-58-32-25-41 57zM4614 5781l41-20-31 19-41 20zM2832 5987l41 24-32-19-41-24zM3918 6064l41-14-31 19-41 14zM3990 4752l41-52-32-33-41 53zM3062 6100l41 19-32-11-41-19zM3641 6141l41-6-31 14-41 6zM4188 4841l41-57-31-26-41 58zM4655 5761l41-20-31 18-41 21zM2863 6005l41 24-31-18-41-24zM3878 6077l40-13-31 19-41 13zM4157 4816l41-58-32-27-41 58zM4696 5741l41-22-32 18-40 22zM2895 6022l41 24-32-17-41-24zM3837 6089l41-12-32 19-41 11zM3854 4696l41-49-31-40-41 49zM3197 6138l41 15-31-4-41-15zM3487 6159l41 1-31 10-41-2zM3958 4720l41-53-31-35-41 53zM3093 6109l41 19-31-9-41-19zM3600 6145l41-4-31 14-41 4zM4125 4789l41-58-31-28-41 57zM4737 5719l41-23-32 18-41 23zM2926 6038l41 24-31-16-41-24zM3796 6100l41-11-32 18-41 11zM4094 4760l41-57-32-29-41 57zM4778 5696l41-25-32 19-41 24zM2958 6052l41 24-32-14-41-24zM3755 6109l41-9-32 18-41 9zM3678 4652l41-41-32-49-41 41zM3750 4657l41-44-31-46-41 44zM3301 6152l41 11-31 2-41-11zM3374 6157l41 7-32 6-41-7zM3927 4685l41-53-32-37-41 52zM3125 6115l41 19-32-6-41-19zM3560 6146l40-1-31 14-41 1zM4062 4731l41-57-31-31-41 57zM4819 5671l41-26-32 19-41 26zM2989 6065l41 24-31-13-41-24zM3714 6117l41-8-32 18-41 8zM3605 4640l41-37-31-54-41 38zM3823 4656l41-49-32-43-41 49zM3229 6139l41 15-32-1-41-15zM3446 6155l41 4-31 9-41-4z"/><path fill="#463ede" stroke="#463ede" d="M4318 5900l41-17-31 24-41 17zM4277 5917l41-17-31 24-41 17zM2570 5816l41 28-31-22-41-28zM4359 5883l41-17-31 24-41 17zM4236 5934l41-17-31 24-41 16zM2602 5837l41 29-32-22-41-28zM4400 5866l41-17-31 24-41 17zM4196 5950l40-16-31 23-41 17zM4441 5849l41-17-32 23-40 18zM2633 5858l41 29-31-21-41-29zM4155 5966l41-16-32 24-41 16zM4482 5832l41-18-32 23-41 18zM4114 5982l41-16-32 24-41 16zM4523 5814l41-18-32 23-41 18zM2696 5900l41 29-31-21-41-29zM4073 5998l41-16-32 24-41 15zM4324 4857l41-62-32-24-41 63zM4564 5796l41-19-32 23-41 19zM2728 5920l41 29-32-20-41-29zM4032 6013l41-15-32 23-41 15zM4031 4700l41-57-32-33-41 57zM3021 6076l41 24-32-11-41-24zM3673 6122l41-5-32 18-41 6zM4292 4834l41-63-31-24-41 62zM4605 5777l41-19-32 23-41 19zM2759 5940l41 28-31-19-41-29zM3991 6027l41-14-32 23-41 14zM4261 4809l41-62-32-25-41 62zM4646 5758l41-20-32 23-41 20zM2791 5958l41 29-32-19-41-28zM3950 6041l41-14-32 23-41 14zM3895 4647l41-52-31-40-41 52zM3156 6119l41 19-31-4-41-19zM3519 6145l41 1-32 14-41-1zM4229 4784l41-62-32-26-40 62zM4687 5738l41-21-32 24-41 20zM2822 5976l41 29-31-18-41-29zM3909 6053l41-12-32 23-40 13zM3719 4611l41-44-32-50-41 45zM3333 6146l41 11-32 6-41-11zM3999 4667l41-57-32-35-40 57zM4198 4758l40-62-31-27-41 62zM3052 6085l41 24-31-9-41-24zM3632 6126l41-4-32 19-41 4zM4728 5717l40-22-31 24-41 22zM2854 5993l41 29-32-17-41-29zM3868 6065l41-12-31 24-41 12zM3646 4603l41-41-31-54-41 41zM3791 4613l41-49-31-46-41 49zM3260 6137l41 15-31 2-41-15zM3405 6148l41 7-31 9-41-7zM4166 4731l41-62-32-28-40 62zM4768 5695l41-23-31 24-41 23zM2886 6009l40 29-31-16-41-29zM3827 6076l41-11-31 24-41 11zM3574 4587l41-38-32-58-41 38zM3864 4607l41-52-32-43-41 52zM3188 6120l41 19-32-1-41-19zM3478 6141l41 4-32 14-41-4zM4135 4703l40-62-31-30-41 63zM4809 5672l41-24-31 23-41 25zM2917 6024l41 28-32-14-40-29zM3786 6085l41-9-31 24-41 9zM3968 4632l40-57-31-38-41 58zM3084 6092l41 23-32-6-41-24zM3591 6128l41-2-32 19-40 1zM4103 4674l41-63-32-31-40 63zM4850 5648l41-26-31 23-41 26zM2949 6036l40 29-31-13-41-28zM3745 6093l41-8-31 24-41 8zM3687 4562l41-45-31-53-41 44zM3760 4567l41-49-32-49-41 48zM3292 6132l41 14-32 6-41-15zM3364 6137l41 11-31 9-41-11zM3936 4595l41-58-32-40-40 58zM2466 5738l41 34-31-22-41-34zM2498 5760l41 34-32-22-41-34zM4072 4643l40-63-31-33-41 63zM4350 5871l41-17-32 29-41 17zM4309 5888l41-17-32 29-41 17zM3116 6096l40 23-31-4-41-23zM3550 6126l41 2-31 18-41-1zM4891 5622l41-28-31 24-41 27zM2435 5716l41 34-32-22-41-34zM2529 5781l41 35-31-22-41-34zM4391 5854l41-17-32 29-41 17zM4268 5905l41-17-32 29-41 17zM2980 6047l41 29-32-11-40-29zM3704 6099l41-6-31 24-41 5zM2403 5694l41 34-31-23-41-34zM2561 5803l41 34-32-21-41-35zM4432 5837l41-17-32 29-41 17zM4227 5921l41-16-32 29-40 16zM2372 5671l41 34-32-22-41-34zM4473 5820l41-17-32 29-41 17zM2592 5824l41 34-31-21-41-34zM4186 5937l41-16-31 29-41 16zM4428 4841l40-67-31-23-41 67zM2340 5649l41 34-31-23-41-34zM4514 5803l40-18-31 29-41 18zM2624 5845l41 34-32-21-41-34zM4145 5953l41-16-31 29-41 16zM4396 4818l41-67-32-24-40 68zM2309 5626l41 34-32-24-41-34zM4554 5785l41-18-31 29-41 18zM2656 5866l40 34-31-21-41-34zM4104 5969l41-16-31 29-41 16zM3615 4549l41-41-32-58-41 41zM3832 4564l41-52-31-46-41 52zM3219 6118l41 19-31 2-41-19zM3437 6134l41 7-32 14-41-7zM4365 4795l40-68-31-23-41 67zM2277 5602l41 34-31-23-41-35zM4595 5767l41-19-31 29-41 19zM2687 5886l41 34-32-20-40-34zM4063 5984l41-15-31 29-41 15zM4333 4771l41-67-32-25-40 68zM2246 5578l41 35-32-25-41-34zM4636 5748l41-19-31 29-41 19zM2719 5905l40 35-31-20-41-34zM4022 5998l41-14-31 29-41 14zM4302 4747l40-68-31-25-41 68zM2214 5554l41 34-31-25-41-34zM4677 5729l41-20-31 29-41 20zM2750 5924l41 34-32-18-40-35zM3981 6012l41-14-31 29-41 14z"/><path fill="#4644e4" stroke="#4644e4" d="M4040 4610l41-63-32-35-41 63zM4932 5594l41-30-31 24-41 30zM3012 6056l40 29-31-9-41-29zM3664 6103l40-4-31 23-41 4zM4270 4722l41-68-32-26-41 68zM2183 5529l41 34-32-26-41-34zM4718 5709l41-21-31 29-41 21zM2782 5942l40 34-31-18-41-34zM3941 6025l40-13-31 29-41 12zM4238 4696l41-68-31-27-41 68zM4759 5688l41-22-32 29-40 22zM2813 5959l41 34-32-17-40-34zM3900 6036l41-11-32 28-41 12zM3542 4529l41-38-31-62-41 38zM3905 4555l40-58-31-42-41 57zM3147 6097l41 23-32-1-40-23zM3509 6122l41 4-31 19-41-4zM4207 4669l41-68-32-28-41 68zM4800 5666l41-23-32 29-41 23zM2845 5975l41 34-32-16-41-34zM3859 6047l41-11-32 29-41 11zM3728 4517l41-48-31-54-41 49zM3323 6122l41 15-31 9-41-14zM4008 4575l41-63-31-37-41 62zM4973 5564l41-32-31 24-41 32zM3043 6063l41 29-32-7-40-29zM3623 6104l41-1-32 23-41 2zM3656 4508l41-44-32-58-41 44zM3801 4518l41-52-32-50-41 53zM3251 6113l41 19-32 5-41-19zM3396 6123l41 11-32 14-41-11zM4175 4641l41-68-31-29-41 67zM4841 5643l41-24-32 29-41 24zM2876 5990l41 34-31-15-41-34zM3818 6056l41-9-32 29-41 9zM4144 4611l41-67-32-31-41 67zM4882 5619l41-26-32 29-41 26zM2908 6002l41 34-32-12-41-34zM3777 6064l41-8-32 29-41 8zM3583 4491l41-41-31-62-41 41zM3873 4512l41-57-32-46-40 57zM3179 6095l40 23-31 2-41-23zM3468 6115l41 7-31 19-41-7zM3977 4537l41-62-32-40-41 62zM3075 6067l41 29-32-4-41-29zM3582 6103l41 1-32 24-41-2zM4112 4580l41-67-31-33-41 67zM4923 5593l41-28-32 29-41 28zM2939 6013l41 34-31-11-41-34zM3736 6070l41-6-32 29-41 6zM2426 5698l40 40-31-22-41-40zM2457 5720l41 40-32-22-40-40zM4381 5837l41-17-31 34-41 17zM4340 5853l41-16-31 34-41 17zM2629 4763l41-17-31-79-41 17zM2394 5676l41 40-32-22-41-40zM2489 5741l40 40-31-21-41-40zM4422 5820l41-17-31 34-41 17zM4299 5870l41-17-31 35-41 17zM2588 4779l41-16-31-79-41 16zM2362 5654l41 40-31-23-41-40zM2520 5763l41 40-32-22-40-40zM4463 5803l41-18-31 35-41 17zM4259 5886l40-16-31 35-41 16zM4500 4796l41-73-32-23-41 74zM2547 4795l41-16-31-79-41 16zM2331 5631l41 40-32-22-41-41zM4504 5785l41-17-31 35-41 17zM2552 5784l40 40-31-21-41-40zM4218 5902l41-16-32 35-41 16zM4468 4774l41-74-31-23-41 74zM2299 5608l41 41-31-23-41-40zM4545 5768l41-18-32 35-40 18zM2583 5805l41 40-32-21-40-40zM4177 5918l41-16-32 35-41 16zM4437 4751l41-74-32-23-41 73zM2268 5586l41 40-32-24-41-40zM4586 5750l41-18-32 35-41 18zM2615 5826l41 40-32-21-41-40zM4136 5934l41-16-32 35-41 16zM4405 4727l41-73-31-24-41 74zM2236 5562l41 40-31-24-41-40zM4627 5732l41-19-32 35-41 19zM2646 5846l41 40-31-20-41-40zM4095 5949l41-15-32 35-41 15zM3697 4464l41-49-32-57-41 48zM3769 4469l41-53-32-53-40 52zM3282 6103l41 19-31 10-41-19zM3355 6108l41 15-32 14-41-15zM4081 4547l41-67-32-35-41 67zM4964 5565l41-30-32 29-41 30zM2971 6022l41 34-32-9-41-34zM3695 6074l41-4-32 29-40 4zM4374 4704l41-74-32-24-41 73zM2205 5538l41 40-32-24-41-40zM4668 5713l41-19-32 35-41 19zM2678 5865l41 40-32-19-41-40zM4054 5963l41-14-32 35-41 14zM3511 4467l41-38-32-68-41 38zM3945 4497l41-62-31-43-41 63zM3106 6068l41 29-31-1-41-29zM3541 6099l41 4-32 23-41-4zM4342 4679l41-73-31-26-41 74zM2173 5514l41 40-31-25-41-40zM4709 5694l41-20-32 35-41 20zM2709 5884l41 40-31-19-41-40zM4013 5977l41-14-32 35-41 14zM4311 4654l41-74-32-25-41 73zM2142 5489l41 40-32-26-41-40zM4750 5674l41-21-32 35-41 21zM2741 5902l41 40-32-18-41-40zM3972 5990l41-13-32 35-40 13zM3624 4450l41-44-31-62-41 44zM3842 4466l40-57-31-50-41 57zM3210 6089l41 24-32 5-40-23zM3427 6104l41 11-31 19-41-11zM4279 4628l41-73-31-27-41 73zM2110 5463l41 40-31-27-41-40zM4791 5653l41-22-32 35-41 22zM2772 5919l41 40-31-17-41-40zM3931 6001l41-11-31 35-41 11z"/><path fill="#4749ea" stroke="#4749ea" d="M4049 4512l41-67-31-38-41 68zM5005 5535l41-32-32 29-41 32zM3002 6029l41 34-31-7-41-34zM3654 6075l41-1-31 29-41 1zM4248 4601l41-73-32-29-41 74zM2079 5436l41 40-32-28-41-40zM4832 5631l40-23-31 35-41 23zM2804 5935l41 40-32-16-41-40zM3890 6012l41-11-31 35-41 11zM4216 4573l41-74-31-29-41 74zM2047 5408l41 40-31-30-41-40zM4872 5608l41-24-31 35-41 24zM2835 5950l41 40-31-15-41-40zM3849 6021l41-9-31 35-41 9zM3552 4429l41-41-32-67-41 40zM3914 4455l41-63-32-46-41 63zM3138 6066l41 29-32 2-41-29zM3500 6092l41 7-32 23-41-7zM4018 4475l41-68-32-40-41 68zM5046 5503l40-35-31 29-41 35zM3034 6033l41 34-32-4-41-34zM3613 6074l41 1-31 29-41-1zM4185 4544l41-74-32-31-41 74zM2016 5378l41 40-32-31-41-40zM4913 5584l41-26-31 35-41 26zM2867 5962l41 40-32-12-41-40zM3808 6029l41-8-31 35-41 8zM3738 4415l40-52-31-58-41 53zM3314 6089l41 19-32 14-41-19zM3665 4406l41-48-31-63-41 49zM3810 4416l41-57-32-54-41 58zM3242 6079l40 24-31 10-41-24zM3386 6090l41 14-31 19-41-15zM4153 4513l41-74-31-33-41 74zM4954 5558l41-28-31 35-41 28zM2898 5973l41 40-31-11-41-40zM3767 6035l41-6-31 35-41 6zM3479 4399l41-38-31-72-41 37zM3986 4435l41-68-31-43-41 68zM3593 4388l41-44-32-68-41 45zM3882 4409l41-63-31-49-41 62zM5086 5468l41-37-31 29-41 37zM3065 6034l41 34-31-1-41-34zM3572 6070l41 4-31 29-41-4zM3169 6060l41 29-31 6-41-29zM3459 6081l41 11-32 23-41-11zM2680 4651l41-17-32-85-41 16zM2639 4667l41-16-32-86-41 17zM2385 5651l41 47-32-22-41-47zM2416 5673l41 47-31-22-41-47zM2721 4634l41-17-32-86-41 18zM2598 4684l41-17-32-85-41 17zM4413 5795l41-17-32 42-41 17zM4372 5812l41-17-32 42-41 16zM4604 4767l41-80-32-22-41 80zM2353 5629l41 47-32-22-40-47zM2448 5695l41 46-32-21-41-47zM4454 5778l41-17-32 42-41 17zM4331 5829l41-17-32 41-41 17zM4122 4480l41-74-32-35-41 74zM1953 5314l41 40-32-35-41-40zM4995 5530l41-30-31 35-41 30zM2762 4617l40-18-31-85-41 17zM2557 4700l41-16-32-85-41 16zM4572 4745l41-80-31-22-41 80zM2930 5982l41 40-32-9-41-40zM3727 6039l40-4-31 35-41 4zM2322 5607l40 47-31-23-41-46zM2479 5717l41 46-31-22-41-46zM4495 5761l41-17-32 41-41 18zM4290 5845l41-16-32 41-40 16zM2802 4599l41-17-31-85-41 17zM2516 4716l41-16-32-85-41 16zM4541 4723l41-80-32-23-41 80zM2290 5585l41 46-32-23-40-46zM2511 5738l41 46-32-21-41-46zM4536 5744l41-17-32 41-41 17zM4249 5861l41-16-31 41-41 16zM4509 4700l41-80-31-23-41 80zM2475 4732l41-16-32-85-40 16zM2259 5562l40 46-31-22-41-47zM4577 5727l40-18-31 41-41 18zM2542 5759l41 46-31-21-41-46zM4208 5877l41-16-31 41-41 16zM4478 4677l41-80-32-23-41 80zM2434 4748l41-16-31-85-41 16zM2227 5539l41 47-32-24-40-46zM4617 5709l41-18-31 41-41 18zM2574 5779l41 47-32-21-41-46zM4167 5892l41-15-31 41-41 16zM4446 4654l41-80-31-24-41 80zM2393 4763l41-15-31-85-41 15zM2196 5516l40 46-31-24-41-46zM4658 5691l41-19-31 41-41 19zM2605 5800l41 46-31-20-41-47zM4126 5907l41-15-31 42-41 15zM4415 4630l41-80-32-24-41 80zM2352 4777l41-14-31-85-41 14zM2164 5492l41 46-32-24-41-46zM4699 5672l41-19-31 41-41 19zM2637 5819l41 46-32-19-41-46zM4085 5922l41-15-31 42-41 14zM4383 4606l41-80-31-26-41 80zM2132 5468l41 46-31-25-41-46zM4740 5653l41-20-31 41-41 20zM2668 5838l41 46-31-19-41-46zM4045 5936l40-14-31 41-41 14zM4352 4580l41-80-32-25-41 80zM2101 5443l41 46-32-26-41-46zM4781 5633l41-21-31 41-41 21zM2700 5856l41 46-32-18-41-46zM4004 5948l41-12-32 41-41 13zM4090 4445l41-74-31-37-41 73zM5036 5500l41-32-31 35-41 32zM2961 5989l41 40-31-7-41-40zM3686 6040l41-1-32 35-41 1zM3706 4358l41-53-32-63-40 53zM3778 4363l41-58-31-57-41 57zM3273 6066l41 23-32 14-40-24zM3346 6071l40 19-31 18-41-19zM4320 4555l41-80-31-27-41 80zM2069 5417l41 46-31-27-41-46zM4822 5612l41-22-31 41-41 22zM2731 5873l41 46-31-17-41-46zM3963 5960l41-12-32 42-41 11z"/><path fill="#474ff0" stroke="#474ff0" d="M3520 4361l41-40-31-73-41 41zM3955 4392l41-68-32-46-41 68zM3097 6032l41 34-32 2-41-34zM3531 6063l41 7-31 29-41-7zM4289 4528l41-80-32-29-41 80zM2038 5390l41 46-32-28-41-46zM4863 5590l41-23-32 41-40 23zM2763 5889l41 46-32-16-41-46zM3922 5971l41-11-32 41-41 11zM3634 4344l41-49-32-67-41 48zM3851 4359l41-62-32-54-41 62zM3201 6051l41 28-32 10-41-29zM3418 6066l41 15-32 23-41-14zM4257 4499l41-80-31-29-41 80zM2006 5362l41 46-31-30-41-46zM4904 5567l41-24-32 41-41 24zM2794 5903l41 47-31-15-41-46zM3881 5980l41-9-32 41-41 9zM4059 4407l41-73-32-40-41 73zM5077 5468l41-35-32 35-40 35zM2993 5993l41 40-32-4-41-40zM3645 6039l41 1-32 35-41-1zM4226 4470l41-80-32-31-41 80zM1975 5332l41 46-32-31-41-46zM4945 5543l41-26-32 41-41 26zM2826 5916l41 46-32-12-41-47zM3840 5988l41-8-32 41-41 8zM3561 4321l41-45-31-73-41 45zM3923 4346l41-68-31-49-41 68zM3128 6026l41 34-31 6-41-34zM3490 6052l41 11-31 29-41-11zM4194 4439l41-80-31-33-41 80zM1943 5301l41 46-31-33-41-46zM4986 5517l41-28-32 41-41 28zM2857 5927l41 46-31-11-41-46zM3799 5994l41-6-32 41-41 6zM3448 4326l41-37-32-79-41 37zM4027 4367l41-73-31-43-41 73zM5118 5433l41-37-32 35-41 37zM3024 5994l41 40-31-1-41-40zM3604 6035l41 4-32 35-41-4zM3747 4305l41-57-32-63-41 57zM3305 6047l41 24-32 18-41-23zM3675 4295l40-53-31-67-41 53zM3819 4305l41-62-31-58-41 63zM4163 4406l41-80-32-35-41 80zM3232 6037l41 29-31 13-41-28zM3377 6047l41 19-32 24-40-19zM1912 5268l41 46-32-35-41-46zM5027 5489l41-30-32 41-41 30zM2889 5936l41 46-32-9-41-46zM3758 5998l41-4-32 41-40 4zM2648 4565l41-16-31-92-41 16zM2607 4582l41-17-31-92-41 17zM4676 4709l41-87-31-22-41 87zM4708 4731l41-87-32-22-41 87zM2344 5598l41 53-32-22-41-53zM2375 5620l41 53-31-22-41-53zM2689 4549l41-18-32-92-40 18zM2566 4599l41-17-31-92-41 17zM4444 5747l41-17-31 48-41 17zM4403 5764l41-17-31 48-41 17zM4645 4687l41-87-32-22-41 87zM2312 5576l41 53-31-22-41-53zM2407 5642l41 53-32-22-41-53zM4485 5730l41-17-31 48-41 17zM4363 5781l40-17-31 48-41 17zM2730 4531l41-17-32-92-41 17zM2525 4615l41-16-31-92-41 16zM4613 4665l41-87-31-22-41 87zM2281 5554l41 53-32-22-41-53zM2438 5663l41 54-31-22-41-53zM4526 5713l41-17-31 48-41 17zM4322 5797l41-16-32 48-41 16zM2771 4514l41-17-32-92-41 17zM2484 4631l41-16-31-92-41 16zM4582 4643l41-87-32-23-41 87zM2249 5532l41 53-31-23-41-53zM2470 5685l41 53-32-21-41-54zM4567 5696l41-17-31 48-41 17zM4281 5813l41-16-32 48-41 16zM2812 4497l41-18-32-92-41 18zM4550 4620l41-87-31-23-41 87zM2444 4647l40-16-31-92-41 16zM2218 5509l41 53-32-23-41-53zM4608 5679l41-18-32 48-40 18zM2501 5706l41 53-31-21-41-53zM4240 5829l41-16-32 48-41 16zM2853 4479l41-18-32-92-41 18zM4519 4597l41-87-32-23-41 87zM2403 4663l41-16-32-92-41 16zM2186 5486l41 53-31-23-41-53zM4649 5661l41-18-32 48-41 18zM2533 5726l41 53-32-20-41-53zM4199 5844l41-15-32 48-41 15zM2894 4461l41-19-32-92-41 19zM4487 4574l41-87-31-24-41 87zM2362 4678l41-15-32-92-41 15zM2155 5463l41 53-32-24-41-53zM4690 5643l41-19-32 48-41 19zM2564 5746l41 54-31-21-41-53zM4158 5859l41-15-32 48-41 15zM3489 4289l41-41-32-79-41 41zM3996 4324l41-73-32-46-41 73zM5159 5396l41-41-32 35-41 41zM3056 5992l41 40-32 2-41-40zM3563 6028l41 7-32 35-41-7zM4456 4550l41-87-32-24-41 87zM2321 4692l41-14-32-92-41 14zM2123 5439l41 53-32-24-40-53zM4731 5624l41-19-32 48-41 19zM2596 5766l41 53-32-19-41-54zM4117 5874l41-15-32 48-41 15zM4131 4371l41-80-31-37-41 80zM3602 4276l41-48-31-73-41 48zM3892 4297l41-68-32-54-41 68zM5068 5459l41-32-32 41-41 32zM2920 5943l41 46-31-7-41-46zM3717 5999l41-1-31 41-41 1zM3160 6017l41 34-32 9-41-34zM3449 6037l41 15-31 29-41-15zM4424 4526l41-87-31-25-41 86zM2280 4706l41-14-32-92-41 14zM2092 5415l40 53-31-25-41-54zM4772 5605l41-20-32 48-41 20zM2627 5785l41 53-31-19-41-53zM4076 5888l41-14-32 48-40 14z"/><path fill="#4754f5" stroke="#4754f5" d="M4393 4500l41-86-32-26-41 87zM2239 4719l41-13-32-92-41 13zM2060 5389l41 54-32-26-40-53zM4813 5585l41-21-32 48-41 21zM2659 5803l41 53-32-18-41-53zM4035 5900l41-12-31 48-41 12zM4361 4475l41-87-31-27-41 87zM2029 5364l40 53-31-27-41-53zM4854 5564l41-22-32 48-41 22zM2690 5820l41 53-31-17-41-53zM3994 5912l41-12-31 48-41 12zM4330 4448l41-87-32-28-41 86zM1997 5337l41 53-32-28-40-54zM4895 5542l40-23-31 48-41 23zM2722 5836l41 53-32-16-41-53zM3953 5923l41-11-31 48-41 11zM4100 4334l41-80-32-40-41 80zM1849 5196l41 46-32-40-41-46zM5109 5427l40-35-31 41-41 35zM2952 5947l41 46-32-4-41-46zM3676 5998l41 1-31 41-41-1zM4298 4419l41-86-31-30-41 87zM1966 5308l40 54-31-30-41-53zM4935 5519l41-24-31 48-41 24zM2753 5850l41 53-31-14-41-53zM3912 5932l41-9-31 48-41 9zM3715 4242l41-57-31-67-41 57zM3788 4248l41-63-32-62-41 62zM3264 6018l41 29-32 19-41-29zM3336 6023l41 24-31 24-41-24zM3530 4248l41-45-32-79-41 45zM3964 4278l41-73-31-50-41 74zM5200 5355l41-45-32 35-41 45zM3087 5986l41 40-31 6-41-40zM3522 6017l41 11-32 35-41-11zM4267 4390l41-87-32-31-41 87zM1934 5279l41 53-32-31-41-53zM4976 5495l41-26-31 48-41 26zM2785 5863l41 53-32-13-41-53zM3871 5940l41-8-31 48-41 8zM3643 4228l41-53-32-73-40 53zM3860 4243l41-68-31-57-41 67zM3191 6003l41 34-31 14-41-34zM3409 6018l40 19-31 29-41-19zM3416 4247l41-37-31-85-41 37zM4068 4294l41-80-31-43-41 80zM5149 5392l41-37-31 41-41 37zM2983 5948l41 46-31-1-41-46zM3635 5994l41 4-31 41-41-4zM4235 4359l41-87-31-33-41 87zM1902 5248l41 53-31-33-41-53zM5017 5469l41-28-31 48-41 28zM2816 5874l41 53-31-11-41-53zM3830 5946l41-6-31 48-41 6zM4204 4326l41-87-32-35-41 87zM1871 5215l41 53-32-35-41-53zM5058 5441l41-30-31 48-41 30zM2848 5883l41 53-32-9-41-53zM3790 5950l40-4-31 48-41 4zM3571 4203l41-48-32-79-41 48zM3933 4229l41-74-32-53-41 73zM5241 5310l41-48-32 35-41 48zM3119 5977l41 40-32 9-41-40zM3481 6002l41 15-32 35-41-15zM3457 4210l41-41-31-85-41 41zM4037 4251l41-80-32-46-41 80zM5190 5355l41-41-31 41-41 41zM3015 5945l41 47-32 2-41-46zM3594 5987l41 7-31 41-41-7z"/><path fill="#4659f8" stroke="#4659f8" d="M2617 4473l41-16-32-100-41 17zM2576 4490l41-17-32-99-41 17zM4717 4622l41-94-31-22-41 94zM4749 4644l41-94-32-22-41 94zM2303 5538l41 60-32-22-41-60zM2658 4457l40-18-31-99-41 17zM2334 5560l41 60-31-22-41-60zM2535 4507l41-17-32-99-41 17zM4686 4600l41-94-32-22-41 94zM4476 5692l41-17-32 55-41 17zM4435 5709l41-17-32 55-41 17zM4780 4666l41-94-31-22-41 94zM2271 5516l41 60-31-22-41-60zM2366 5581l41 61-32-22-41-60zM4517 5675l41-17-32 55-41 17zM4394 5725l41-16-32 55-40 17zM2698 4439l41-17-31-99-41 17zM2494 4523l41-16-32-99-41 16zM4654 4578l41-94-31-22-41 94zM4812 4688l41-95-32-21-41 94zM2240 5494l41 60-32-22-41-61zM2397 5603l41 60-31-21-41-61zM4558 5658l41-17-32 55-41 17zM4353 5742l41-17-31 56-41 16zM4172 4291l41-87-31-37-41 87zM3756 4185l41-62-31-68-41 63zM1839 5180l41 53-31-37-41-53zM2739 4422l41-17-31-100-41 18zM2453 4539l41-16-32-99-41 16zM4623 4556l41-94-32-23-41 94zM5099 5411l41-32-31 48-41 32zM2879 5889l41 54-31-7-41-53zM3749 5951l41-1-32 48-41 1zM2208 5471l41 61-31-23-41-60zM2429 5624l41 61-32-22-41-60zM4599 5641l41-18-32 56-41 17zM4312 5758l41-16-31 55-41 16zM3295 5995l41 28-31 24-41-29zM2780 4405l41-18-31-99-41 17zM4591 4533l41-94-31-23-41 94zM2412 4555l41-16-32-99-41 16zM2177 5449l41 60-32-23-41-60zM4640 5623l40-18-31 56-41 18zM2460 5645l41 61-31-21-41-61zM4271 5774l41-16-31 55-41 16zM2821 4387l41-18-31-100-41 19zM4560 4510l41-94-32-23-41 94zM2371 4571l41-16-32-99-40 15zM2145 5426l41 60-31-23-41-61zM4680 5605l41-18-31 56-41 18zM2492 5666l41 60-32-20-41-61zM4230 5789l41-15-31 55-41 15zM2862 4369l41-19-31-99-41 18zM4528 4487l41-94-31-24-41 94zM2330 4586l41-15-31-100-41 15zM2114 5402l41 61-32-24-41-61zM4721 5587l41-18-31 55-41 19zM2523 5686l41 60-31-20-41-60zM4189 5804l41-15-31 55-41 15zM3684 4175l41-57-32-73-41 57zM3829 4185l41-67-32-63-41 68zM3223 5984l41 34-32 19-41-34zM3368 5995l41 23-32 29-41-24zM2903 4350l41-19-31-99-41 19zM4497 4463l41-94-32-24-41 94zM2289 4600l41-14-31-100-41 15zM2082 5378l41 61-31-24-41-61zM4762 5569l41-20-31 56-41 19zM2555 5706l41 60-32-20-41-60zM4148 5819l41-15-31 55-41 15zM2944 4331l41-20-32-99-40 20zM4465 4439l41-94-31-25-41 94zM2248 4614l41-14-31-99-41 14zM2051 5354l41 61-32-26-41-60zM4803 5549l41-20-31 56-41 20zM2586 5724l41 61-31-19-41-60zM4108 5832l40-13-31 55-41 14zM4434 4414l41-94-32-26-41 94zM2207 4627l41-13-31-99-41 12zM2019 5329l41 60-31-25-41-61zM4844 5529l41-20-31 55-41 21zM2618 5742l41 61-32-18-41-61zM4067 5845l41-13-32 56-41 12zM4402 4388l41-94-31-27-41 94zM4141 4254l41-87-32-40-41 87zM2166 4638l41-11-31-100-41 12zM1988 5303l41 61-32-27-41-61zM1808 5143l41 53-32-40-41-53zM4885 5509l41-22-31 55-41 22zM5140 5379l41-35-32 48-40 35zM2649 5759l41 61-31-17-41-61zM4026 5857l41-12-32 55-41 12zM2911 5893l41 54-32-4-41-54zM3708 5950l41 1-32 48-41-1zM3498 4169l41-45-31-85-41 45zM4005 4205l41-80-31-50-41 80zM5231 5314l41-45-31 41-41 45zM3046 5940l41 46-31 6-41-47zM3553 5976l41 11-31 41-41-11zM3612 4155l40-53-31-79-41 53zM3901 4175l41-73-31-58-41 74zM3150 5963l41 40-31 14-41-40zM3440 5983l41 19-32 35-40-19zM4371 4361l41-94-32-28-41 94zM2126 4649l40-11-31-99-41 11zM1956 5276l41 61-31-29-41-60zM4926 5487l41-23-32 55-40 23zM2681 5775l41 61-32-16-41-61zM3985 5868l41-11-32 55-41 11zM4339 4333l41-94-31-30-41 94zM1925 5248l41 60-32-29-41-60zM4967 5464l41-25-32 56-41 24zM2712 5790l41 60-31-14-41-61zM3944 5877l41-9-32 55-41 9zM3385 4162l41-37-32-92-41 37zM4109 4214l41-87-31-43-41 87zM1776 5103l41 53-31-43-41-53zM5181 5344l41-38-32 49-41 37zM2942 5894l41 54-31-1-41-54zM3667 5946l41 4-32 48-41-4zM4308 4303l41-94-32-31-41 94zM1893 5219l41 60-32-31-40-61zM5008 5439l41-25-32 55-41 26zM2744 5802l41 61-32-13-41-60zM3903 5885l41-8-32 55-41 8zM4276 4272l41-94-31-33-41 94zM3539 4124l41-48-32-85-40 48zM3974 4155l41-80-32-53-41 80zM1862 5187l40 61-31-33-41-60zM5049 5414l41-28-32 55-41 28zM5272 5269l41-48-31 41-41 48zM2775 5813l41 61-31-11-41-61zM3862 5890l41-5-32 55-41 6zM3078 5930l41 47-32 9-41-46zM3512 5961l41 15-31 41-41-15zM3725 4118l41-63-32-72-41 62zM3797 4123l41-68-31-67-41 67zM3254 5961l41 34-31 23-41-34zM3327 5966l41 29-32 28-41-28zM3426 4125l41-41-32-92-41 41zM4078 4171l41-87-32-46-41 87zM5222 5306l41-40-32 48-41 41zM2974 5892l41 53-32 3-41-54zM3626 5939l41 7-32 48-41-7z"/><path fill="#455ffa" stroke="#455ffa" d="M3652 4102l41-57-31-79-41 57zM3870 4118l41-74-32-63-41 74zM4245 4239l41-94-32-35-41 94zM3182 5944l41 40-32 19-41-40zM3399 5960l41 23-31 35-41-23zM1830 5155l41 60-32-35-40-60zM5090 5386l41-30-32 55-41 30zM2807 5822l41 61-32-9-41-61zM3821 5894l41-4-32 56-40 4zM4213 4204l41-94-31-37-41 94zM1799 5120l40 60-31-37-41-61zM5131 5356l41-32-32 55-41 32zM2838 5829l41 60-31-6-41-61zM3780 5896l41-2-31 56-41 1zM2585 4374l41-17-31-107-41 17zM2544 4391l41-17-31-107-41 17zM4758 4528l41-101-31-23-41 102zM4790 4550l41-102-32-21-41 101zM2626 4357l41-17-32-107-40 17zM2262 5470l41 68-32-22-41-68zM2503 4408l41-17-31-107-41 17zM2293 5492l41 68-31-22-41-68zM4727 4506l41-102-32-22-41 102zM4507 5629l41-17-31 63-41 17zM4466 5646l41-17-31 63-41 17zM4821 4572l41-102-31-22-41 102zM2230 5448l41 68-31-22-41-69zM2325 5513l41 68-32-21-41-68zM4548 5612l41-17-31 63-41 17zM4426 5662l40-16-31 63-41 16zM2667 4340l41-17-32-107-41 17zM2462 4424l41-16-31-107-41 16zM4695 4484l41-102-31-22-41 102zM4853 4593l41-101-32-22-41 102zM2199 5425l41 69-32-23-41-68zM2356 5535l41 68-31-22-41-68zM4589 5595l41-17-31 63-41 17zM4385 5679l41-17-32 63-41 17zM3580 4076l41-53-32-85-41 53zM3942 4102l41-80-31-58-41 80zM5313 5221l41-53-31 41-41 53zM2708 4323l41-18-32-107-41 18zM2421 4440l41-16-31-107-41 16zM4664 4462l41-102-32-23-41 102zM4884 4615l41-102-31-21-41 101zM3109 5916l41 47-31 14-41-47zM3472 5942l40 19-31 41-41-19zM2167 5403l41 68-31-22-41-69zM2388 5556l41 68-32-21-41-68zM4630 5578l41-18-31 63-41 18zM4344 5695l41-16-32 63-41 16zM2749 4305l41-17-32-107-41 17zM4632 4439l41-102-31-23-41 102zM2380 4456l41-16-31-107-41 16zM4916 4636l41-102-32-21-41 102zM2136 5380l41 69-32-23-41-69zM4671 5560l41-18-32 63-40 18zM2419 5577l41 68-31-21-41-68zM4303 5711l41-16-32 63-41 16zM2790 4288l41-19-32-107-41 19zM4601 4416l41-102-32-23-41 102zM2340 4471l40-15-31-107-41 15zM4947 4656l41-102-31-20-41 102zM2104 5357l41 69-31-24-41-68zM4712 5542l41-18-32 63-41 18zM2451 5598l41 68-32-21-41-68zM4262 5726l41-15-32 63-41 15zM3467 4084l41-45-32-92-41 45zM4046 4125l41-87-31-50-41 87zM5263 5266l41-45-32 48-41 45zM3005 5887l41 53-31 5-41-53zM3585 5928l41 11-32 48-41-11zM2831 4269l41-18-32-107-41 18zM4569 4393l41-102-31-24-41 102zM2299 4486l41-15-32-107-41 15zM2073 5334l41 68-32-24-41-68zM4753 5524l41-19-32 64-41 18zM2482 5618l41 68-31-20-41-68zM4221 5741l41-15-32 63-41 15zM2872 4251l41-19-32-107-41 19zM4538 4369l41-102-32-24-41 102zM2258 4501l41-15-32-107-41 15zM2041 5310l41 68-31-24-41-68zM4794 5505l41-19-32 63-41 20zM2514 5637l41 69-32-20-41-68zM4180 5755l41-14-32 63-41 15zM2913 4232l40-20-31-107-41 20zM4506 4345l41-102-31-25-41 102zM2217 4515l41-14-32-107-41 14zM2010 5286l41 68-32-25-41-68zM4835 5486l41-20-32 63-41 20zM2545 5656l41 68-31-18-41-69zM4139 5769l41-14-32 64-40 13zM4182 4167l41-94-32-40-41 94zM1767 5082l41 61-32-40-40-61zM5172 5324l41-35-32 55-41 35zM2870 5833l41 60-32-4-41-60zM3739 5895l41 1-31 55-41-1zM2953 4212l41-21-31-107-41 21zM4475 4320l41-102-32-26-41 102zM2176 4527l41-12-32-107-41 12zM1978 5261l41 68-31-26-41-68zM4876 5466l41-20-32 63-41 20zM2577 5674l41 68-32-18-41-68zM4098 5782l41-13-31 63-41 13zM3766 4055l41-67-32-73-41 68zM3286 5932l41 34-32 29-41-34zM2994 4191l41-22-31-107-41 22zM4443 4294l41-102-31-27-41 102zM2135 4539l41-12-32-107-41 12zM1947 5235l41 68-32-27-41-68zM4917 5446l41-22-32 63-41 22zM2608 5691l41 68-31-17-41-68zM4057 5794l41-12-31 63-41 12zM3693 4045l41-62-31-79-41 62zM3838 4055l41-74-31-67-41 74zM3213 5921l41 40-31 23-41-40zM3358 5931l41 29-31 35-41-29zM4412 4267l41-102-32-28-41 102zM2094 4550l41-11-32-107-40 11zM1915 5208l41 68-31-28-41-68zM4958 5424l40-23-31 63-41 23zM2640 5707l41 68-32-16-41-68zM4016 5805l41-11-31 63-41 11zM3353 4070l41-37-31-100-41 38zM4150 4127l41-94-31-43-41 94zM1736 5042l40 61-31-43-41-61zM5213 5289l40-38-31 55-41 38zM2901 5834l41 60-31-1-41-60zM3698 5891l41 4-31 55-41-4zM4380 4239l41-102-31-30-41 102zM2053 4559l41-9-31-107-41 9zM1884 5180l41 68-32-29-41-69zM4998 5401l41-25-31 63-41 25zM2671 5721l41 69-31-15-41-68zM3975 5814l41-9-31 63-41 9zM3508 4039l40-48-31-92-41 48zM4015 4075l41-87-32-53-41 87zM5304 5221l41-48-32 48-41 48zM3037 5877l41 53-32 10-41-53zM3544 5913l41 15-32 48-41-15zM4349 4209l41-102-32-31-41 102zM2012 4567l41-8-31-107-41 8zM1852 5150l41 69-31-32-41-68zM5039 5376l41-26-31 64-41 25zM2703 5734l41 68-32-12-41-69zM3934 5822l41-8-31 63-41 8z"/><path fill="#4464fc" stroke="#4464fc" d="M3621 4023l41-57-32-85-41 57zM3911 4044l41-80-32-63-41 80zM5354 5168l41-57-31 41-41 57zM3141 5898l41 46-32 19-41-47zM3431 5918l41 24-32 41-41-23zM4317 4178l41-102-32-33-40 102zM1971 4573l41-6-31-107-41 6zM1821 5119l41 68-32-32-41-69zM5080 5350l41-27-31 63-41 28zM2735 5745l40 68-31-11-41-68zM3894 5827l40-5-31 63-41 5zM3394 4033l41-41-31-99-41 40zM4119 4084l41-94-32-46-41 94zM1704 4999l41 61-32-46-41-61zM5253 5251l41-41-31 56-41 40zM2933 5832l41 60-32 2-41-60zM3657 5883l41 8-31 55-41-7zM4286 4145l40-102-31-35-41 102zM1789 5086l41 69-31-35-41-69zM5121 5323l41-30-31 63-41 30zM2766 5754l41 68-32-9-40-68zM3853 5831l41-4-32 63-41 4zM3548 3991l41-53-31-92-41 53zM3983 4022l41-87-31-58-41 87zM5345 5173l41-53-32 48-41 53zM3068 5863l41 53-31 14-41-53zM3503 5894l41 19-32 48-40-19zM3734 3983l41-68-31-79-41 68zM3807 3988l41-74-32-73-41 74zM3245 5892l41 40-32 29-41-40zM3317 5897l41 34-31 35-41-34zM4254 4110l41-102-32-37-40 102zM1758 5051l41 69-32-38-41-68zM5162 5293l41-32-31 63-41 32zM2798 5761l40 68-31-7-41-68zM3812 5833l41-2-32 63-41 2zM3435 3992l41-45-31-99-41 45zM4087 4038l41-94-32-50-40 94zM5294 5210l41-44-31 55-41 45zM2965 5826l40 61-31 5-41-60zM3616 5872l41 11-31 56-41-11zM3662 3966l41-62-32-85-41 62zM3879 3981l41-80-31-67-41 80zM3172 5874l41 47-31 23-41-46zM3390 5890l41 28-32 42-41-29zM2554 4267l41-17-32-115-41 17zM2513 4284l41-17-32-115-41 17zM4799 4427l41-111-31-22-41 110zM4831 4448l41-110-32-22-41 111zM2595 4250l40-17-31-115-41 17zM2472 4301l41-17-32-115-41 16zM2221 5393l41 77-32-22-41-77zM2252 5415l41 77-31-22-41-77zM4768 4404l41-110-32-22-41 110zM4862 4470l41-110-31-22-41 110zM4539 5558l41-17-32 71-41 17zM4498 5574l41-16-32 71-41 17zM2189 5371l41 77-31-23-41-76zM2284 5437l41 76-32-21-41-77zM4580 5541l41-17-32 71-41 17zM4457 5591l41-17-32 72-40 16zM2635 4233l41-17-31-115-41 17zM2431 4317l41-16-32-116-41 17zM4736 4382l41-110-31-22-41 110zM4894 4492l41-111-32-21-41 110zM2158 5349l41 76-32-22-41-77zM2315 5458l41 77-31-22-41-76zM4621 5524l41-18-32 72-41 17zM4416 5607l41-16-31 71-41 17zM2676 4216l41-18-31-115-41 18zM2390 4333l41-16-32-115-41 16zM4705 4360l41-110-32-23-41 110zM4925 4513l41-110-31-22-41 111zM2126 5326l41 77-31-23-41-76zM2347 5480l41 76-32-21-41-77zM4662 5506l41-17-32 71-41 18zM4375 5623l41-16-31 72-41 16zM2717 4198l41-17-31-116-41 18zM4673 4337l41-110-31-23-41 110zM2349 4349l41-16-32-115-41 16zM4957 4534l41-110-32-21-41 110zM4223 4073l40-102-31-40-41 102zM2095 5304l41 76-32-23-41-76zM4703 5489l41-18-32 71-41 18zM2378 5500l41 77-31-21-41-76zM4334 5639l41-16-31 72-41 16zM1726 5014l41 68-31-40-41-68zM5203 5261l41-35-31 63-41 35zM2829 5765l41 68-32-4-40-68zM3771 5832l41 1-32 63-41-1zM2758 4181l41-19-31-115-41 18zM4642 4314l41-110-32-23-41 110zM2308 4364l41-15-32-115-40 15zM4988 4554l41-110-31-20-41 110zM2063 5281l41 76-31-23-41-76zM4744 5471l40-18-31 71-41 18zM2410 5521l41 77-32-21-41-77zM4293 5655l41-16-31 72-41 15zM2799 4162l41-18-31-115-41 18zM4610 4291l41-110-31-24-41 110zM2267 4379l41-15-31-115-41 15zM5020 4575l41-111-32-20-41 110zM2032 5258l41 76-32-24-41-76zM4784 5453l41-19-31 71-41 19zM2441 5541l41 77-31-20-41-77zM4252 5670l41-15-31 71-41 15zM2840 4144l41-19-32-116-40 20zM4579 4267l41-110-32-24-41 110zM2226 4394l41-15-31-115-41 14zM5051 4594l41-110-31-20-41 111zM2000 5234l41 76-31-24-41-77zM4825 5434l41-19-31 71-41 19zM2473 5561l41 76-32-19-41-77zM4212 5684l40-14-31 71-41 14zM2881 4125l41-20-32-116-41 20zM4547 4243l41-110-32-25-40 110zM2185 4408l41-14-31-116-41 14zM5083 4613l41-110-32-19-41 110zM1969 5209l41 77-32-25-41-77zM4866 5415l41-20-31 71-41 20zM2505 5580l40 76-31-19-41-76zM4171 5698l41-14-32 71-41 14z"/><path fill="#416afe" stroke="#416afe" d="M2922 4105l41-21-32-115-41 20zM4516 4218l40-110-31-26-41 110zM2144 4420l41-12-31-116-41 13zM1937 5184l41 77-31-26-41-77zM4907 5395l41-21-31 72-41 20zM2536 5598l41 76-32-18-40-76zM4130 5711l41-13-32 71-41 13zM3589 3938l41-57-31-92-41 57zM3952 3964l41-87-32-62-41 86zM5386 5120l41-57-32 48-41 57zM3100 5845l41 53-32 18-41-53zM3462 5870l41 24-31 48-41-24zM2963 4084l41-22-32-115-41 22zM4484 4192l41-110-32-27-40 110zM2103 4432l41-12-31-115-41 12zM1906 5158l41 77-32-27-41-77zM4948 5374l41-22-31 72-41 22zM2568 5615l40 76-31-17-41-76zM4089 5723l41-12-32 71-41 12zM3476 3947l41-48-32-99-40 48zM4056 3988l40-94-31-53-41 94zM5335 5166l41-49-31 56-41 48zM2996 5817l41 60-32 10-40-61zM3576 5858l40 14-31 56-41-15zM3322 3971l41-38-32-107-41 38zM4191 4033l41-102-32-43-40 102zM1695 4974l41 68-32-43-41-68zM5244 5226l41-38-32 63-40 38zM2861 5766l40 68-31-1-41-68zM3730 5827l41 5-32 63-41-4zM3004 4062l41-23-32-115-41 23zM4453 4165l40-110-31-28-41 110zM2063 4443l40-11-31-115-41 11zM1874 5131l41 77-31-28-41-77zM4989 5352l41-23-32 72-40 23zM2599 5630l41 77-32-16-40-76zM4048 5733l41-10-32 71-41 11zM3045 4039l41-24-32-116-41 25zM4421 4137l41-110-32-30-40 110zM2022 4452l41-9-32-115-41 9zM1843 5103l41 77-32-30-41-76zM5030 5329l41-24-32 71-41 25zM2631 5645l40 76-31-14-41-77zM4007 5742l41-9-32 72-41 9zM3775 3915l41-74-31-79-41 74zM3276 5857l41 40-31 35-41-40zM4390 4107l40-110-31-31-41 110zM1981 4460l41-8-32-115-41 8zM1811 5074l41 76-31-31-41-76zM5071 5305l41-26-32 71-41 26zM2662 5658l41 76-32-13-40-76zM3966 5750l41-8-32 72-41 8zM3703 3904l41-68-32-85-41 68zM3848 3914l41-80-32-73-41 80zM3204 5845l41 47-32 29-41-47zM3349 5856l41 34-32 41-41-34zM3363 3933l41-40-32-107-41 40zM4160 3990l40-102-31-46-41 102zM1663 4931l41 68-32-46-40-68zM5285 5188l41-41-32 63-41 41zM2892 5764l41 68-32 2-40-68zM3689 5820l41 7-32 64-41-8zM4358 4076l41-110-32-33-41 110zM1940 4466l41-6-32-115-41 5zM1780 5043l41 76-32-33-41-76zM5112 5279l41-28-32 72-41 27zM2694 5669l41 76-32-11-41-76zM3925 5756l41-6-32 72-40 5zM3517 3899l41-53-32-99-41 53zM4024 3935l41-94-32-58-40 94zM5376 5117l41-52-31 55-41 53zM3028 5803l40 60-31 14-41-60zM3535 5839l41 19-32 55-41-19zM3630 3881l41-62-31-92-41 62zM3920 3901l41-86-31-68-41 87zM5427 5063l40-62-31 48-41 62zM3131 5821l41 53-31 24-41-53zM3421 5842l41 28-31 48-41-28zM4326 4043l41-110-31-35-41 110zM1899 4470l41-4-32-116-41 4zM1748 5010l41 76-31-35-41-76zM5153 5251l41-30-32 72-41 30zM2725 5678l41 76-31-9-41-76zM3884 5760l41-4-31 71-41 4zM3404 3893l41-45-32-107-41 45zM4128 3944l41-102-32-50-41 102zM1632 4885l40 68-31-49-41-68zM5326 5147l41-44-32 63-41 44zM2924 5758l41 68-32 6-41-68zM3648 5809l41 11-32 63-41-11z"/><path fill="#3c71ff" stroke="#3c71ff" d="M4295 4008l41-110-32-37-41 110zM1858 4471l41-1-32-116-41 2zM1717 4975l41 76-32-37-41-77zM5194 5221l41-32-32 72-41 32zM2757 5684l41 77-32-7-41-76zM3843 5761l41-1-31 71-41 2zM3558 3846l41-57-32-99-41 57zM3993 3877l40-94-31-62-41 94zM5417 5065l41-57-31 55-41 57zM3059 5784l41 61-32 18-40-60zM3494 5815l41 24-32 55-41-24zM4263 3971l41-110-31-40-41 110zM1817 4470l41 1-32-115-41-1zM1685 4937l41 77-31-40-41-76zM5235 5189l41-35-32 72-41 35zM2788 5688l41 77-31-4-41-77zM3802 5760l41 1-31 72-41-1zM3744 3836l41-74-32-85-41 74zM3816 3841l41-80-31-79-41 80zM3235 5810l41 47-31 35-41-47zM3308 5816l41 40-32 41-41-40zM2522 4152l41-17-31-124-41 17zM2481 4169l41-17-31-124-41 17zM4840 4316l41-119-31-22-41 119zM4872 4338l41-119-32-22-41 119zM2563 4135l41-17-32-124-40 17zM2440 4185l41-16-31-124-41 16zM2180 5308l41 85-32-22-41-85zM2211 5330l41 85-31-22-41-85zM4809 4294l41-119-32-22-41 119zM4903 4360l41-119-31-22-41 119zM4570 5477l41-17-31 81-41 17zM4529 5494l41-17-31 81-41 16zM2148 5286l41 85-31-22-41-85zM2243 5351l41 86-32-22-41-85zM4611 5460l41-17-31 81-41 17zM4489 5511l40-17-31 80-41 17zM2604 4118l41-17-32-124-41 17zM2399 4202l41-17-31-124-41 16zM4777 4272l41-119-32-22-40 119zM4935 4381l41-119-32-21-41 119zM2117 5264l41 85-32-23-41-85zM2275 5373l40 85-31-21-41-86zM4652 5443l41-17-31 80-41 18zM4448 5527l41-16-32 80-41 16zM2645 4101l41-18-32-124-41 18zM2358 4218l41-16-31-125-41 17zM4746 4250l40-119-31-23-41 119zM4966 4403l41-119-31-22-41 119zM2085 5241l41 85-31-22-41-86zM2306 5394l41 86-32-22-40-85zM4693 5426l41-17-31 80-41 17zM4407 5543l41-16-32 80-41 16zM3445 3848l40-48-31-107-41 48zM4096 3894l41-102-31-53-41 102zM1600 4836l41 68-32-54-40-68zM5367 5103l41-49-32 63-41 49zM2955 5748l41 69-31 9-41-68zM3607 5795l41 14-32 63-40-14zM2686 4083l41-18-32-124-41 18zM4714 4227l41-119-32-23-40 119zM2317 4234l41-16-31-124-41 15zM4998 4424l41-119-32-21-41 119zM2054 5218l41 86-32-23-41-85zM4734 5409l41-18-31 80-41 18zM2338 5415l40 85-31-20-41-86zM4366 5559l41-16-32 80-41 16zM2727 4065l41-18-32-124-41 18zM4683 4204l40-119-31-23-41 119zM2277 4249l40-15-31-125-41 16zM5029 4444l41-119-31-20-41 119zM2022 5196l41 85-31-23-41-86zM4775 5391l41-18-32 80-40 18zM2369 5436l41 85-32-21-40-85zM4325 5574l41-15-32 80-41 16zM2768 4047l41-18-32-125-41 19zM4651 4181l41-119-32-24-40 119zM2236 4264l41-15-32-124-41 15zM5061 4464l41-119-32-20-41 119zM1991 5172l41 86-32-24-41-86zM4816 5373l41-19-32 80-41 19zM2401 5456l40 85-31-20-41-85zM4284 5589l41-15-32 81-41 15zM2809 4029l40-20-31-124-41 19zM4620 4157l40-119-31-24-41 119zM2195 4278l41-14-32-124-41 14zM5092 4484l41-119-31-20-41 119zM1959 5148l41 86-31-25-41-85zM4857 5354l41-19-32 80-41 19zM2432 5475l41 86-32-20-40-85zM4243 5604l41-15-32 81-40 14zM2849 4009l41-20-31-124-41 20zM4588 4133l41-119-32-26-41 120zM2154 4292l41-14-32-124-41 14zM5124 4503l41-119-32-19-41 119zM1928 5124l41 85-32-25-41-85zM4898 5335l41-20-32 80-41 20zM2464 5494l41 86-32-19-41-86zM4202 5618l41-14-31 80-41 14zM3671 3819l41-68-31-92-41 68zM3889 3834l41-87-32-73-41 87zM5467 5001l41-68-31 48-41 68zM3163 5792l41 53-32 29-41-53zM3380 5808l41 34-31 48-41-34zM3290 3864l41-38-31-115-41 38zM4232 3931l41-110-32-43-41 110zM1654 4898l41 76-32-43-41-76zM5276 5154l40-37-31 71-41 38zM2890 3989l41-20-31-125-41 21zM4556 4108l41-120-31-25-41 119zM2820 5689l41 77-32-1-41-77zM2113 4305l41-13-32-124-41 13zM3761 5756l41 4-31 72-41-5zM5155 4521l41-119-31-18-41 119zM1896 5099l41 85-31-26-41-85zM4939 5315l41-21-32 80-41 21zM2495 5512l41 86-31-18-41-86zM4161 5630l41-12-31 80-41 13zM2931 3969l41-22-31-124-41 21zM4525 4082l41-119-32-27-41 119zM2072 4317l41-12-32-124-41 12zM5187 4538l41-119-32-17-41 119zM1865 5073l41 85-32-27-41-85zM4980 5294l41-22-32 80-41 22zM2527 5529l41 86-32-17-41-86zM4120 5642l41-12-31 81-41 12zM2972 3947l41-23-31-124-41 23zM4493 4055l41-119-31-28-41 119zM2031 4328l41-11-32-124-41 10zM1833 5046l41 85-31-28-41-85zM5021 5272l41-23-32 80-41 23zM2558 5545l41 85-31-15-41-86zM4079 5653l41-11-31 81-41 10zM3013 3924l41-25-31-124-41 25zM4462 4027l41-119-32-30-41 119zM1990 4337l41-9-32-125-40 10zM1802 5018l41 85-32-29-41-86zM5062 5249l40-24-31 80-41 24zM2590 5559l41 86-32-15-41-85zM4038 5662l41-9-31 80-41 9z"/><path fill="#3877fd" stroke="#3877fd" d="M3599 3789l41-62-32-100-41 63zM3961 3815l41-94-32-68-40 94zM3485 3800l41-53-31-107-41 53zM4065 3841l41-102-32-58-41 102zM3331 3826l41-40-31-116-41 41zM4200 3888l41-110-31-46-41 110zM5458 5008l41-63-32 56-40 62zM1569 4782l40 68-31-57-41-69zM5408 5054l41-52-32 63-41 52zM1622 4855l41 76-31-46-41-76zM3091 5761l40 60-31 24-41-61zM3453 5786l41 29-32 55-41-28zM5316 5117l41-41-31 71-41 41zM2987 5735l41 68-32 14-41-69zM3566 5776l41 19-31 63-41-19zM2851 5687l41 77-31 2-41-77zM3720 5749l41 7-31 71-41-7zM3054 3899l41-26-31-124-41 26zM4430 3997l41-119-31-31-41 119zM1949 4345l41-8-31-124-41 7zM1770 4988l41 86-31-31-41-86zM5102 5225l41-26-31 80-41 26zM2621 5572l41 86-31-13-41-86zM3997 5670l41-8-31 80-41 8zM3095 3873l41-27-32-124-40 27zM4399 3966l41-119-32-33-41 119zM1908 4350l41-5-31-125-41 6zM1739 4957l41 86-32-33-41-86zM5143 5199l41-28-31 80-41 28zM2653 5583l41 86-32-11-41-86zM3957 5676l40-6-31 80-41 6zM3785 3762l41-80-32-85-41 80zM3267 5769l41 47-32 41-41-47zM4367 3933l41-119-31-35-41 119zM1867 4354l41-4-31-124-41 4zM1707 4924l41 86-31-35-41-86zM5184 5171l41-30-31 80-41 30zM2684 5592l41 86-31-9-41-86zM3916 5680l41-4-32 80-41 4zM3372 3786l41-45-31-115-41 44zM4169 3842l41-110-32-50-41 110zM1591 4809l41 76-32-49-41-77zM5357 5076l41-45-31 72-41 44zM2883 5681l41 77-32 6-41-77zM3679 5738l41 11-31 71-41-11zM3712 3751l41-74-31-92-41 74zM3857 3761l41-87-32-78-40 86zM3195 5757l40 53-31 35-41-53zM3339 5768l41 40-31 48-41-40zM3526 3747l41-57-31-107-41 57zM4033 3783l41-102-31-62-41 102zM5449 5002l41-58-32 64-41 57zM3018 5716l41 68-31 19-41-68zM3525 5752l41 24-31 63-41-24zM4336 3898l41-119-32-37-41 119zM1826 4356l41-2-31-124-41 2zM1676 4889l41 86-32-38-41-85zM5225 5141l41-32-31 80-41 32zM2716 5599l41 85-32-6-41-86zM3875 5681l41-1-32 80-41 1zM3640 3727l41-68-32-99-41 67zM3930 3747l40-94-31-73-41 94zM5499 4945l41-68-32 56-41 68zM3122 5732l41 60-32 29-40-60zM3412 5752l41 34-32 56-41-34zM3413 3741l41-48-32-116-40 49zM4137 3792l41-110-31-53-41 110zM1559 4759l41 77-31-54-41-76zM5398 5031l41-48-31 71-41 49zM2914 5672l41 76-31 10-41-77zM3639 5723l40 15-31 71-41-14zM3218 3784l41-35-32-124-41 34zM4304 3861l41-119-31-40-41 119zM1785 4355l41 1-31-124-41-2zM1644 4852l41 85-31-39-41-86zM5266 5109l41-35-31 80-41 35zM2747 5603l41 85-31-4-41-85zM3834 5680l41 1-32 80-41-1z"/><path fill="#347dfb" stroke="#347dfb" d="M2491 4028l41-17-32-134-41 17zM2450 4045l41-17-32-134-41 17zM4881 4197l41-128-32-22-40 128zM4913 4219l40-128-31-22-41 128zM2532 4011l40-17-31-134-41 17zM2409 4061l41-16-32-134-41 17zM2139 5213l41 95-32-22-40-95zM4850 4175l40-128-31-22-41 128zM2171 5235l40 95-31-22-41-95zM4944 4241l41-128-32-22-40 128zM4602 5388l41-17-32 89-41 17zM4561 5404l41-16-32 89-41 17zM2108 5191l40 95-31-22-41-95zM2202 5257l41 94-32-21-40-95zM4643 5371l41-17-32 89-41 17zM4520 5421l41-17-32 90-40 17zM2572 3994l41-17-31-134-41 17zM2368 4077l41-16-32-133-41 16zM4818 4153l41-128-32-23-41 129zM4976 4262l40-128-31-21-41 128zM2076 5169l41 95-32-23-40-95zM2234 5278l41 95-32-22-41-94zM4684 5354l41-18-32 90-41 17zM4479 5437l41-16-31 90-41 16zM2613 3977l41-18-31-134-41 18zM2327 4094l41-17-32-133-41 16zM4786 4131l41-129-31-22-41 128zM5007 4284l41-129-32-21-40 128zM2045 5146l40 95-31-23-41-94zM2265 5299l41 95-31-21-41-95zM4725 5336l41-17-32 90-41 17zM4438 5454l41-17-31 90-41 16zM2654 3959l41-18-31-133-41 17zM4755 4108l41-128-32-23-41 128zM2286 4109l41-15-32-134-41 16zM5039 4305l41-129-32-21-41 129zM2013 5124l41 94-32-22-41-95zM4766 5319l41-18-32 90-41 18zM2297 5320l41 95-32-21-41-95zM4397 5469l41-15-31 89-41 16zM2695 3941l41-18-31-134-41 19zM4723 4085l41-128-31-24-41 129zM2245 4125l41-16-32-133-40 15zM5070 4325l41-128-31-21-41 129zM1981 5101l41 95-31-24-41-95zM4807 5301l40-18-31 90-41 18zM2328 5341l41 95-31-21-41-95zM4356 5485l41-16-31 90-41 15zM3259 3749l41-38-32-124-41 38zM4273 3821l41-119-32-43-41 119zM1745 4350l40 5-31-125-41-4zM1613 4812l41 86-32-43-41-86zM5307 5074l41-37-32 80-40 37zM2779 5604l41 85-32-1-41-85zM3793 5676l41 4-32 80-41-4zM2736 3923l41-19-31-133-41 18zM4692 4062l41-129-32-23-41 128zM2204 4140l41-15-31-134-41 15zM5102 4345l41-128-32-20-41 128zM1950 5077l41 95-32-24-41-94zM4847 5283l41-19-31 90-41 19zM2360 5361l41 95-32-20-41-95zM4315 5500l41-15-31 89-41 15zM2777 3904l41-19-32-133-40 19zM4660 4038l41-128-31-25-41 129zM2163 4154l41-14-31-134-41 15zM5133 4365l41-128-31-20-41 128zM1918 5054l41 94-31-24-41-95zM4888 5264l41-19-31 90-41 19zM2391 5381l41 94-31-19-41-95zM4275 5514l40-14-31 89-41 15zM3567 3690l41-63-31-107-41 63zM4002 3721l41-102-32-68-41 102zM2818 3885l41-20-32-133-41 20zM4629 4014l41-129-32-25-41 128zM2122 4168l41-14-31-133-41 14zM5165 4384l41-129-32-18-41 128zM5490 4944l41-62-32 63-41 63zM1887 5029l41 95-32-25-41-95zM4929 5245l41-20-31 90-41 20zM2423 5400l41 94-32-19-41-94zM4234 5528l41-14-32 90-41 14zM3050 5693l41 68-32 23-41-68zM3484 5723l41 29-31 63-41-29zM2859 3865l41-21-32-133-41 21zM4597 3988l41-128-31-26-41 129zM2081 4181l41-13-31-133-41 12zM5196 4402l41-129-31-18-41 129zM1855 5004l41 95-31-26-41-95zM4970 5225l41-21-31 90-41 21zM2454 5418l41 94-31-18-41-94zM4193 5541l41-13-32 90-41 12zM3753 3677l41-80-31-92-41 80zM3826 3682l40-86-31-86-41 87zM3226 5716l41 53-32 41-40-53zM3298 5721l41 47-31 48-41-47zM2900 3844l41-21-32-134-41 22zM4566 3963l41-129-32-27-41 129zM3454 3693l41-53-32-115-41 52zM2040 4193l41-12-31-134-41 12zM4106 3739l41-110-32-58-41 110zM5228 4419l41-129-32-17-41 129zM1824 4978l41 95-32-27-41-95zM1528 4706l41 76-32-58-41-76zM5011 5204l41-21-31 89-41 22zM2486 5435l41 94-32-17-41-94zM5439 4983l41-53-31 72-41 52zM4152 5553l41-12-32 89-41 12zM2946 5658l41 77-32 13-41-76zM3598 5704l41 19-32 72-41-19zM2941 3823l41-23-32-134-41 23zM4534 3936l41-129-31-28-41 129zM1999 4203l41-10-31-134-41 11zM5259 4435l41-129-31-16-41 129zM1792 4951l41 95-31-28-41-95zM5052 5183l41-23-31 89-41 23zM2517 5450l41 95-31-16-41-94zM4111 5563l41-10-32 89-41 11zM3300 3711l41-41-32-124-41 41zM4241 3778l41-119-31-46-41 119zM1704 4343l41 7-32-124-41-7zM1581 4769l41 86-31-46-41-86zM5348 5037l41-41-32 80-41 41zM2810 5602l41 85-31 2-41-85zM3752 5669l41 7-32 80-41-7zM2982 3800l41-25-32-133-41 24zM4503 3908l41-129-32-29-41 128zM1959 4213l40-10-31-133-41 9zM5291 4449l41-128-32-15-41 129zM1761 4923l41 95-32-30-41-94zM5093 5160l41-25-32 90-40 24zM2549 5465l41 94-32-14-41-95zM4070 5573l41-10-32 90-41 9zM3681 3659l41-74-32-99-41 74zM3898 3674l41-94-32-79-41 95zM5540 4877l41-73-32 55-41 74zM3154 5697l41 60-32 35-41-60zM3371 5712l41 40-32 56-41-40zM3023 3775l41-26-32-133-41 26zM4471 3878l41-128-31-31-41 128zM1918 4220l41-7-32-134-41 8zM5322 4462l41-129-31-12-41 128zM1729 4894l41 94-31-31-41-94zM5134 5135l41-26-32 90-41 26zM2580 5478l41 94-31-13-41-94zM4029 5580l41-7-32 89-41 8z"/><path fill="#3182f9" stroke="#3182f9" d="M3064 3749l40-27-31-134-41 28zM4440 3847l41-128-32-33-41 128zM1877 4226l41-6-32-133-41 6zM5354 4473l41-129-32-11-41 129zM1698 4863l41 94-32-33-41-94zM5175 5109l41-28-32 90-41 28zM2612 5489l41 94-32-11-41-94zM3988 5586l41-6-32 90-40 6zM3341 3670l41-44-32-124-41 44zM4210 3732l41-119-32-50-41 119zM1663 4332l41 11-32-124-41-11zM1550 4723l41 86-32-50-41-85zM5389 4996l41-45-32 80-41 45zM2842 5596l41 85-32 6-41-85zM3711 5658l41 11-32 80-41-11zM3495 3640l41-57-32-116-41 58zM4074 3681l41-110-31-62-41 110zM1496 4648l41 76-31-62-41-77zM5480 4930l41-57-31 71-41 58zM2977 5640l41 76-31 19-41-77zM3557 5681l41 23-32 72-41-24zM3608 3627l41-67-31-107-41 67zM3970 3653l41-102-31-73-41 102zM5531 4882l40-68-31 63-41 68zM3081 5664l41 68-31 29-41-68zM3443 5689l41 34-31 63-41-34zM3104 3722l41-30-31-134-41 30zM4408 3814l41-128-31-35-41 128zM1836 4230l41-4-32-133-41 4zM1666 4830l41 94-31-35-41-94zM5216 5081l41-29-32 89-41 30zM2643 5498l41 94-31-9-41-94zM3947 5590l41-4-31 90-41 4zM4377 3779l41-128-32-38-41 129zM1795 4232l41-2-32-133-41 1zM1635 4795l41 94-32-37-41-95zM5257 5052l41-33-32 90-41 32zM2675 5504l41 95-32-7-41-94zM3906 5591l41-1-31 90-41 1zM3382 3626l40-49-31-124-41 49zM4178 3682l41-119-31-53-41 119zM1622 4318l41 14-32-124-41-14zM1518 4674l41 85-31-53-41-86zM5430 4951l41-48-32 80-41 48zM2873 5587l41 85-31 9-41-85zM3670 5643l41 15-32 80-40-15zM3794 3597l41-87-32-92-40 87zM3258 5668l40 53-31 48-41-53zM3722 3585l41-80-32-99-41 80zM3866 3596l41-95-31-85-41 94zM3185 5656l41 60-31 41-41-60zM3330 5666l41 46-32 56-41-47zM3186 3659l41-34-31-134-41 35zM4345 3742l41-129-31-40-41 129zM1754 4230l41 2-32-134-41-1zM1603 4757l41 95-31-40-41-95zM5298 5019l41-34-32 89-41 35zM2706 5508l41 95-31-4-41-95zM3865 5590l41 1-31 90-41-1zM3536 3583l41-63-32-115-41 62zM4043 3619l41-110-32-68-41 110zM5521 4873l41-62-31 71-41 62zM3009 5616l41 77-32 23-41-76zM3516 5652l41 29-32 71-41-29z"/><path fill="#2d88f6" stroke="#2d88f6" d="M3227 3625l41-38-31-134-41 38zM4314 3702l41-129-32-42-41 128zM1713 4226l41 4-32-133-40-4zM1572 4717l41 95-32-43-41-94zM5339 4985l40-38-31 90-41 37zM2738 5509l41 95-32-1-41-95zM3824 5586l41 4-31 90-41-4zM3649 3560l41-74-31-107-41 74zM3939 3580l41-102-32-78-41 101zM5571 4814l41-73-31 63-41 73zM3113 5629l41 68-32 35-41-68zM3402 5649l41 40-31 63-41-40zM3422 3577l41-52-31-124-41 52zM4147 3629l41-119-32-58-41 119zM1487 4620l41 86-32-58-41-86zM5471 4903l41-53-32 80-41 53zM2905 5573l41 85-32 14-41-85zM3629 5624l41 19-31 80-41-19zM2459 3894l41-17-32-143-40 17zM2418 3911l41-17-31-143-41 17zM4922 4069l41-138-32-22-41 138zM4953 4091l41-139-31-21-41 138zM2500 3877l41-17-32-143-41 17zM2377 3928l41-17-31-143-41 16zM4890 4047l41-138-31-23-41 139zM2098 5108l41 105-31-22-41-105zM2130 5130l41 105-32-22-41-105zM4985 4113l41-139-32-22-41 139zM4633 5288l41-17-31 100-41 17zM4593 5305l40-17-31 100-41 16zM2067 5086l41 105-32-22-41-105zM2161 5152l41 105-31-22-41-105zM4674 5271l41-17-31 100-41 17zM4552 5321l41-16-32 99-41 17zM2541 3860l41-17-32-143-41 17zM2336 3944l41-16-31-144-41 16zM4859 4025l41-139-32-22-41 138zM5016 4134l41-138-31-22-41 139zM2035 5064l41 105-31-23-41-104zM2193 5173l41 105-32-21-41-105zM4715 5254l41-17-31 99-41 18zM4511 5338l41-17-32 100-41 16zM2582 3843l41-18-32-143-41 18zM2295 3960l41-16-31-144-41 17zM4827 4002l41-138-31-23-41 139zM5048 4155l41-138-32-21-41 138zM2004 5042l41 104-32-22-41-105zM2224 5195l41 104-31-21-41-105zM4756 5237l41-18-31 100-41 17zM4470 5354l41-16-32 99-41 17zM2623 3825l41-17-32-144-41 18zM4796 3980l41-139-32-23-41 139zM2254 3976l41-16-31-143-41 15zM5080 4176l40-138-31-21-41 138zM1972 5019l41 105-32-23-40-105zM4797 5219l41-17-31 99-41 18zM2256 5216l41 104-32-21-41-104zM4429 5370l41-16-32 100-41 15zM2664 3808l41-19-32-143-41 18zM4764 3957l41-139-31-23-41 138zM2214 3991l40-15-31-144-41 16zM5111 4197l41-138-32-21-40 138zM1941 4996l40 105-31-24-41-104zM4838 5202l41-19-32 100-40 18zM2287 5236l41 105-31-21-41-104zM4388 5385l41-15-32 99-41 16zM2705 3789l41-18-32-144-41 19zM4733 3933l41-138-32-24-41 139zM2173 4006l41-15-32-143-41 15zM5143 4217l40-138-31-20-41 138zM1909 4973l41 104-32-23-40-105zM4879 5183l41-18-32 99-41 19zM2319 5256l41 105-32-20-41-105zM4347 5400l41-15-32 100-41 15zM2746 3771l40-19-31-144-41 19zM4701 3910l41-139-31-24-41 138zM2132 4021l41-15-32-143-41 14zM5174 4237l41-139-32-19-40 138zM1878 4949l40 105-31-25-41-104zM4920 5165l41-19-32 99-41 19zM2350 5276l41 105-31-20-41-105zM4306 5415l41-15-32 100-40 14zM2786 3752l41-20-31-144-41 20zM4670 3885l41-138-32-25-41 138zM2091 4035l41-14-32-144-41 14zM5206 4255l40-138-31-19-41 139zM1846 4925l41 104-32-25-40-104zM4961 5146l41-20-32 99-41 20zM2382 5295l41 105-32-19-41-105zM4265 5428l41-13-31 99-41 14zM2827 3732l41-21-31-144-41 21zM4638 3860l41-138-31-26-41 138zM2050 4047l41-12-32-144-41 13zM5237 4273l41-138-32-18-40 138zM1815 4900l40 104-31-26-41-104zM5002 5126l41-21-32 99-41 21zM2413 5313l41 105-31-18-41-105zM4224 5441l41-13-31 100-41 13zM3268 3587l41-41-31-133-41 40zM4282 3659l41-128-31-47-41 129zM1672 4219l41 7-31-133-41-7zM1540 4675l41 94-31-46-41-94zM5379 4947l41-41-31 90-41 41zM2769 5507l41 95-31 2-41-95zM3783 5579l41 7-31 90-41-7zM2868 3711l41-22-31-143-41 21zM4607 3834l41-138-32-27-41 138zM2009 4059l41-12-32-143-41 12zM5269 4290l41-138-32-17-41 138zM1783 4874l41 104-32-27-41-104zM5043 5105l41-22-32 100-41 21zM2445 5330l41 105-32-17-41-105zM4183 5453l41-12-31 100-41 12zM2909 3689l41-23-31-143-41 23zM4575 3807l41-138-31-28-41 138zM1968 4070l41-11-32-143-41 10zM5300 4306l41-138-31-16-41 138zM1751 4847l41 104-31-28-41-104zM5084 5083l41-23-32 100-41 23zM2476 5346l41 104-31-15-41-105zM4142 5464l41-11-31 100-41 10zM2950 3666l41-24-31-144-41 25zM4544 3779l41-138-32-30-41 139zM1927 4079l41-9-32-144-40 10zM5332 4321l41-139-32-14-41 138zM1720 4819l41 104-32-29-41-105zM5125 5060l40-24-31 99-41 25zM2508 5360l41 105-32-15-41-104zM4101 5473l41-9-31 99-41 10zM3577 3520l41-67-32-116-41 68zM4011 3551l41-110-31-73-41 110zM5562 4811l41-68-32 71-40 68zM3040 5587l41 77-31 29-41-77zM3475 5618l41 34-32 71-41-34zM3463 3525l41-58-31-124-41 58zM4115 3571l41-119-31-62-41 119zM1455 4562l41 86-31-63-41-85zM5512 4850l41-57-32 80-41 57zM2936 5554l41 86-31 18-41-85zM3588 5600l41 24-31 80-41-23zM2991 3642l41-26-31-144-41 26zM4512 3750l41-139-31-31-41 139zM1886 4087l41-8-31-143-41 7zM5363 4333l41-138-31-13-41 139zM1688 4789l41 105-31-31-41-105zM5165 5036l41-26-31 99-41 26zM2539 5373l41 105-31-13-41-105zM4060 5481l41-8-31 100-41 7zM3763 3505l40-87-31-99-41 87zM3835 3510l41-94-32-92-41 94zM3217 5608l41 60-32 48-41-60zM3289 5613l41 53-32 55-40-53zM3309 3546l41-44-32-134-40 45zM4251 3613l41-129-32-49-41 128zM1631 4208l41 11-31-133-41-11zM1509 4629l41 94-32-49-41-95zM5420 4906l41-44-31 89-41 45zM2801 5501l41 95-32 6-41-95zM3742 5568l41 11-31 90-41-11zM3032 3616l41-28-32-143-40 27zM4481 3719l41-139-32-33-41 139zM1845 4093l41-6-31-144-41 6zM5395 4344l41-138-32-11-41 138zM1657 4758l41 105-32-33-41-105zM5206 5010l41-28-31 99-41 28zM2571 5384l41 105-32-11-41-105zM4020 5487l40-6-31 99-41 6z"/><path fill="#2b8df2" stroke="#2b8df2" d="M3690 3486l41-80-31-107-41 80zM3907 3501l41-101-31-86-41 102zM5612 4741l41-80-31 63-41 80zM3144 5587l41 69-31 41-41-68zM3361 5603l41 46-31 63-41-46zM3073 3588l41-30-32-143-41 30zM4449 3686l41-139-31-35-41 139zM1804 4097l41-4-31-144-41 4zM5426 4353l41-138-31-9-41 138zM1625 4725l41 105-31-35-41-105zM5247 4982l41-30-31 100-41 29zM2602 5393l41 105-31-9-41-105zM3979 5490l41-3-32 99-41 4zM3350 3502l41-49-32-133-41 48zM4219 3563l41-128-31-54-41 129zM1590 4194l41 14-31-133-41-15zM1477 4579l41 95-31-54-41-95zM5461 4862l41-49-31 90-41 48zM2832 5492l41 95-31 9-41-95zM3702 5553l40 15-31 90-41-15zM3114 3558l41-32-32-144-41 33zM4418 3651l41-139-32-37-41 138zM1763 4098l41-1-31-144-41 2zM5458 4360l41-138-32-7-41 138zM1594 4690l41 105-32-38-41-104zM5288 4952l41-32-31 99-41 33zM2634 5399l41 105-32-6-41-105zM3938 5492l41-2-32 100-41 1zM3504 3467l41-62-31-124-41 62zM4084 3509l41-119-32-68-41 119zM1424 4500l41 85-32-67-41-85zM5553 4793l41-62-32 80-41 62zM2968 5531l41 85-32 24-41-86zM3547 5572l41 28-31 81-41-29zM3618 3453l41-74-32-115-41 73zM3980 3478l41-110-32-79-41 111zM5603 4743l41-74-32 72-41 73zM3072 5552l41 77-32 35-41-77zM3434 5578l41 40-32 71-41-40zM3155 3526l41-35-32-143-41 34zM4386 3613l41-138-31-40-41 138zM1722 4097l41 1-31-143-41-2zM5489 4364l41-138-31-4-41 138zM1562 4653l41 104-31-40-41-104zM5329 4920l41-35-31 100-41 34zM2665 5403l41 105-31-4-41-105zM3897 5491l41 1-32 99-41-1zM3391 3453l41-52-32-134-41 53zM4188 3510l41-129-32-57-41 128zM1549 4175l41 19-31-134-41-19zM1446 4525l41 95-32-58-41-94zM5502 4813l41-52-31 89-41 53zM2864 5478l41 95-32 14-41-95zM3661 5534l41 19-32 90-41-19zM3196 3491l41-38-32-143-41 38zM4355 3573l41-138-32-43-41 139zM1682 4093l40 4-31-144-41-4zM1531 4613l41 104-32-42-41-105zM5370 4885l41-38-32 100-40 38zM2697 5404l41 105-32-1-41-105zM3856 5487l41 4-32 99-41-4z"/><path fill="#2993ee" stroke="#2993ee" d="M3803 3418l41-94-31-99-41 94zM3248 5552l41 61-31 55-41-60zM3731 3406l41-87-32-107-40 87zM3876 3416l41-102-32-92-41 102zM5653 4661l41-87-31 63-41 87zM3176 5539l41 69-32 48-41-69zM3321 5550l40 53-31 63-41-53zM2428 3751l40-17-31-154-41 17zM2387 3768l41-17-32-154-41 17zM4963 3931l41-149-32-22-41 149zM4994 3952l41-148-31-22-41 149zM2468 3734l41-17-31-154-41 17zM2346 3784l41-16-32-154-41 16zM4931 3909l41-149-31-23-41 149zM2057 4993l41 115-31-22-41-115zM5026 3974l41-149-32-21-41 148zM2089 5015l41 115-32-22-41-115zM4665 5178l41-17-32 110-41 17zM4624 5195l41-17-32 110-40 17zM2026 4971l41 115-32-22-41-115zM2120 5037l41 115-31-22-41-115zM4706 5161l41-17-32 110-41 17zM4583 5211l41-16-31 110-41 16zM2509 3717l41-17-31-154-41 17zM2305 3800l41-16-32-154-41 16zM4900 3886l41-149-32-22-41 149zM5057 3996l41-149-31-22-41 149zM1994 4949l41 115-31-22-41-116zM2152 5058l41 115-32-21-41-115zM4747 5144l41-17-32 110-41 17zM4542 5228l41-17-31 110-41 17zM2550 3700l41-18-31-154-41 18zM2264 3817l41-17-32-154-41 17zM4868 3864l41-149-31-23-41 149zM5089 4017l41-149-32-21-41 149zM1963 4926l41 116-32-23-41-115zM2183 5079l41 116-31-22-41-115zM4788 5127l41-18-32 110-41 18zM4501 5244l41-16-31 110-41 16zM3545 3405l41-68-31-124-41 68zM4052 3441l41-119-31-73-41 119zM1392 4433l41 85-31-73-41-85zM5594 4731l40-68-31 80-41 68zM2999 5502l41 85-31 29-41-85zM3506 5538l41 34-31 80-41-34zM2591 3682l41-18-31-154-41 18zM2223 3832l41-15-32-154-41 15zM4837 3841l41-149-32-23-41 149zM5120 4038l41-149-31-21-41 149zM1931 4904l41 115-31-23-41-115zM2215 5100l41 116-32-21-41-116zM4829 5109l41-18-32 111-41 17zM4460 5260l41-16-31 110-41 16zM2632 3664l41-18-31-154-41 18zM4805 3818l41-149-31-23-41 149zM2182 3848l41-16-32-154-41 16zM5152 4059l41-149-32-21-41 149zM1900 4881l41 115-32-23-41-115zM4870 5091l40-18-31 110-41 19zM2246 5121l41 115-31-20-41-116zM4419 5275l41-15-31 110-41 15zM2673 3646l41-19-31-154-41 19zM4774 3795l41-149-32-24-41 149zM2141 3863l41-15-32-154-40 15zM5183 4079l41-149-31-20-41 149zM1868 4858l41 115-31-24-41-115zM4910 5073l41-18-31 110-41 18zM2278 5141l41 115-32-20-41-115zM4378 5290l41-15-31 110-41 15zM3237 3453l41-40-32-144-41 41zM4323 3531l41-139-31-46-41 138zM1641 4086l41 7-32-144-41-7zM1499 4570l41 105-31-46-41-105zM5411 4847l41-41-32 100-41 41zM2728 5402l41 105-31 2-41-105zM3815 5479l41 8-32 99-41-7zM2714 3627l41-19-32-154-40 19zM4742 3771l41-149-31-24-41 149zM2100 3877l41-14-31-154-41 14zM5215 4098l41-149-32-19-41 149zM1837 4834l41 115-32-24-41-116zM4951 5055l41-20-31 111-41 19zM2309 5161l41 115-31-20-41-115zM4338 5305l40-15-31 110-41 15zM2755 3608l41-20-32-154-41 20zM4711 3747l41-149-32-25-41 149zM2059 3891l41-14-31-154-41 14zM5246 4117l41-149-31-19-41 149zM1805 4809l41 116-31-25-41-116zM4992 5035l41-20-31 111-41 20zM2341 5180l41 115-32-19-41-115zM4297 5318l41-13-32 110-41 13zM2796 3588l41-21-32-154-41 21zM4679 3722l41-149-31-26-41 149zM2018 3904l41-13-31-154-41 13zM5278 4135l41-149-32-18-41 149zM1774 4784l41 116-32-26-41-116zM5033 5015l41-20-31 110-41 21zM2372 5198l41 115-31-18-41-115zM4256 5331l41-13-32 110-41 13zM3432 3401l41-58-32-133-41 57zM4156 3452l41-128-31-63-41 129zM1508 4151l41 24-31-134-41-24zM1414 4468l41 94-31-62-41-95zM5543 4761l41-58-31 90-41 57zM2895 5459l41 95-31 19-41-95zM3620 5511l41 23-32 90-41-24zM3659 3379l41-80-32-115-41 80zM3948 3400l41-111-31-85-41 110zM2837 3567l41-21-32-154-41 21zM4648 3696l41-149-32-27-41 149zM1977 3916l41-12-31-154-41 12zM5310 4152l40-149-31-17-41 149zM5644 4669l41-80-32 72-41 80zM1742 4758l41 116-32-27-40-116zM5074 4995l41-22-31 110-41 22zM3103 5511l41 76-31 42-41-77zM2404 5215l41 115-32-17-41-115zM3393 5532l41 46-32 71-41-46zM4215 5343l41-12-32 110-41 12zM2878 3546l41-23-32-154-41 23zM4616 3669l41-149-31-28-41 149zM1936 3926l41-10-31-154-41 10zM5341 4168l41-149-32-16-40 149zM1711 4731l40 116-31-28-41-116zM5115 4973l41-23-31 110-41 23zM2435 5230l41 116-31-16-41-115zM4174 5354l41-11-32 110-41 11zM2919 3523l41-25-32-154-41 25zM4585 3641l41-149-32-30-41 149zM1896 3936l40-10-31-154-41 10zM5373 4182l40-149-31-14-41 149zM1679 4703l41 116-32-30-40-115zM5156 4950l41-24-32 110-40 24zM2467 5245l41 115-32-14-41-116zM4133 5363l41-9-32 110-41 9zM3278 3413l40-45-31-143-41 44zM4292 3484l41-138-32-49-41 138zM1600 4075l41 11-32-144-41-11zM1468 4524l41 105-32-50-41-105zM5452 4806l41-44-32 100-41 44zM2760 5397l41 104-32 6-41-105zM3774 5469l41 10-32 100-41-11zM2960 3498l41-26-32-154-41 26zM4553 3611l41-149-31-31-41 149zM1855 3943l41-7-32-154-41 7zM5404 4195l41-149-32-13-40 149zM1648 4674l40 115-31-31-41-115zM5197 4926l41-26-32 110-41 26zM2498 5258l41 115-31-13-41-115zM4092 5371l41-8-32 110-41 8z"/><path fill="#2698ea" stroke="#2698ea" d="M3001 3472l40-27-31-155-41 28zM4522 3580l41-149-32-33-41 149zM1814 3949l41-6-32-154-41 6zM5436 4206l40-149-31-11-41 149zM1616 4643l41 115-32-33-40-115zM5238 4900l41-28-32 110-41 28zM2530 5269l41 115-32-11-41-115zM4051 5377l41-6-32 110-40 6zM3586 3337l41-73-31-124-41 73zM4021 3368l41-119-32-79-41 119zM5634 4663l41-74-31 80-41 74zM3031 5467l41 85-32 35-41-85zM3465 5498l41 40-31 80-41-40zM3473 3343l41-62-32-134-41 63zM4125 3390l41-129-32-67-41 128zM1467 4122l41 29-31-134-41-28zM1383 4405l41 95-32-67-41-95zM5584 4703l41-62-31 90-41 62zM2927 5436l41 95-32 23-41-95zM3579 5482l41 29-32 89-41-28zM3041 3445l41-30-31-154-41 29zM4490 3547l41-149-31-35-41 149zM1773 3953l41-4-32-154-41 4zM5467 4215l41-149-32-9-40 149zM1585 4610l40 115-31-35-41-115zM5279 4872l41-30-32 110-41 30zM2561 5278l41 115-31-9-41-115zM4010 5380l41-3-31 110-41 3zM3318 3368l41-48-31-144-41 49zM4260 3435l41-138-31-54-41 138zM1559 4060l41 15-32-144-41-14zM1436 4474l41 105-31-54-41-104zM5493 4762l41-48-32 99-41 49zM2791 5387l41 105-31 9-41-104zM3733 5454l41 15-32 99-40-15zM3772 3319l41-94-32-107-41 94zM3844 3324l41-102-31-99-41 102zM3207 5484l41 68-31 56-41-69zM3280 5489l41 61-32 63-41-61zM3082 3415l41-33-31-154-41 33zM4459 3512l41-149-32-37-41 149zM1732 3955l41-2-32-154-41 1zM5499 4222l41-149-32-7-41 149zM1553 4575l41 115-32-37-41-116zM5320 4842l41-32-32 110-41 32zM2593 5284l41 115-32-6-41-115zM3969 5382l41-2-31 110-41 2zM3700 3299l40-87-31-115-41 87zM3917 3314l41-110-32-92-41 110zM5685 4589l41-86-32 71-41 87zM3135 5463l41 76-32 48-41-76zM3352 5478l41 54-32 71-40-53zM3123 3382l41-34-31-154-41 34zM4427 3475l41-149-31-40-41 149zM1691 3953l41 2-32-155-41-1zM5530 4226l41-149-31-4-41 149zM1521 4537l41 116-31-40-41-115zM5361 4810l41-35-32 110-41 35zM2624 5288l41 115-31-4-41-115zM3928 5381l41 1-31 110-41-1zM3359 3320l41-53-31-143-41 52zM4229 3381l41-138-32-58-41 139zM1518 4041l41 19-32-143-41-19zM1405 4421l41 104-32-57-41-105zM5534 4714l41-53-32 100-41 52zM2823 5373l41 105-32 14-41-105zM3692 5435l41 19-31 99-41-19z"/><path fill="#249ee6" stroke="#249ee6" d="M3514 3281l41-68-32-133-41 67zM4093 3322l41-128-31-73-41 128zM1427 4088l40 34-31-133-41-34zM1351 4338l41 95-31-73-41-95zM5625 4641l41-68-32 90-40 68zM2958 5407l41 95-31 29-41-95zM3538 5448l41 34-32 90-41-34zM3164 3348l41-38-31-154-41 38zM4396 3435l41-149-32-43-41 149zM1650 3949l41 4-32-154-41-4zM5562 4227l41-149-32-1-41 149zM1490 4498l41 115-32-43-41-115zM5402 4775l41-38-32 110-41 38zM2656 5289l41 115-32-1-41-115zM3887 5377l41 4-31 110-41-4zM3627 3264l41-80-32-124-40 80zM3989 3289l41-119-31-85-41 119zM5675 4589l41-80-31 80-41 80zM3062 5426l41 85-31 41-41-85zM3425 5451l40 47-31 80-41-46zM3205 3310l41-41-31-154-41 41zM4364 3392l41-149-31-46-41 149zM1609 3942l41 7-32-154-40-7zM5593 4225l41-149-31 2-41 149zM1458 4455l41 115-31-46-41-115zM5443 4737l40-41-31 110-41 41zM2687 5287l41 115-31 2-41-115zM3846 5369l41 8-31 110-41-8zM3400 3267l41-57-31-144-41 58zM4197 3324l41-139-31-62-41 138zM1477 4017l41 24-32-143-41-24zM1373 4363l41 105-31-63-41-104zM5575 4661l41-57-32 99-41 58zM2854 5355l41 104-31 19-41-105zM3651 5411l41 24-31 99-41-23zM2396 3597l41-17-32-165-40 17zM2355 3614l41-17-31-165-41 16zM5004 3782l41-160-32-22-41 160zM5035 3804l41-160-31-22-41 160zM2437 3580l41-17-32-165-41 17zM2314 3630l41-16-31-166-41 17zM4972 3760l41-160-31-23-41 160zM5067 3825l41-160-32-21-41 160zM2016 4867l41 126-31-22-41-126zM2048 4889l41 126-32-22-41-126zM4696 5057l41-17-31 121-41 17zM4656 5074l40-17-31 121-41 17zM1985 4845l41 126-32-22-41-127zM2079 4910l41 127-31-22-41-126zM4737 5040l41-17-31 121-41 17zM4615 5090l41-16-32 121-41 16zM2478 3563l41-17-32-166-41 18zM2273 3646l41-16-31-165-41 16zM4941 3737l41-160-32-22-41 160zM5098 3847l41-160-31-22-41 160zM1953 4822l41 127-31-23-41-126zM2111 4932l41 126-32-21-41-127zM4778 5023l41-17-31 121-41 17zM4574 5107l41-17-32 121-41 17zM2519 3546l41-18-32-165-41 17zM2232 3663l41-17-31-165-41 16zM4909 3715l41-160-31-23-41 160zM5130 3868l41-160-32-21-41 160zM1922 4800l41 126-32-22-41-127zM2142 4953l41 126-31-21-41-126zM4819 5006l41-18-31 121-41 18zM4533 5123l41-16-32 121-41 16zM2560 3528l41-18-32-165-41 18zM2191 3678l41-15-31-166-41 16zM4878 3692l41-160-32-23-41 160zM5161 3889l41-160-31-21-41 160zM1890 4777l41 127-31-23-41-127zM2174 4974l41 126-32-21-41-126zM4860 4988l41-18-31 121-41 18zM4492 5139l41-16-32 121-41 16zM2601 3510l41-18-32-165-41 18zM4846 3669l41-160-31-23-41 160zM2150 3694l41-16-31-165-41 16zM5193 3910l41-160-32-21-41 160zM1859 4754l41 127-32-23-41-127zM4901 4970l41-18-32 121-40 18zM2205 4995l41 126-31-21-41-126zM4451 5154l41-15-32 121-41 15zM2642 3492l41-19-32-165-41 19zM4815 3646l41-160-32-24-41 160zM2110 3709l40-15-31-165-41 15zM5224 3930l41-160-31-20-41 160zM1827 4731l41 127-31-24-41-127zM4942 4952l41-19-32 122-41 18zM2237 5015l41 126-32-20-41-126zM4410 5169l41-15-32 121-41 15zM2683 3473l40-19-31-165-41 19zM4783 3622l41-160-31-24-41 160zM2069 3723l41-14-32-165-41 14zM5256 3949l41-160-32-19-41 160zM1796 4707l41 127-32-25-41-126zM4983 4933l41-19-32 121-41 20zM2268 5034l41 127-31-20-41-126zM4369 5183l41-14-32 121-40 15zM2723 3454l41-20-31-165-41 20zM4752 3598l41-160-32-25-41 160zM2028 3737l41-14-32-165-41 14zM5287 3968l41-160-31-19-41 160zM1764 4683l41 126-31-25-41-126zM5024 4914l41-20-32 121-41 20zM2300 5053l41 127-32-19-41-127zM4328 5197l41-14-31 122-41 13zM3813 3225l41-102-32-107-41 102zM3239 5421l41 68-32 63-41-68zM2764 3434l41-21-31-165-41 21zM4720 3573l41-160-31-26-41 160zM1987 3750l41-13-32-165-41 13zM5319 3986l41-160-32-18-41 160zM1733 4658l41 126-32-26-41-126zM5065 4894l41-21-32 122-41 20zM2331 5071l41 127-31-18-41-127zM4287 5210l41-13-31 121-41 13zM2805 3413l41-21-31-166-41 22zM4689 3547l41-160-32-27-41 160zM1946 3762l41-12-32-165-41 12zM5350 4003l41-160-31-17-41 160zM1701 4632l41 126-31-27-41-126zM5106 4873l41-21-32 121-41 22zM2363 5088l41 127-32-17-41-127zM4246 5222l41-12-31 121-41 12zM3740 3212l41-94-31-115-41 94zM3885 3222l41-110-31-99-41 110zM5726 4503l41-95-32 72-41 94zM3166 5408l41 76-31 55-41-76zM3311 5418l41 60-31 72-41-61zM3246 3269l41-44-32-154-40 44zM4333 3346l41-149-32-49-41 149zM1568 3931l41 11-31-154-41-11zM5625 4219l41-149-32 6-41 149zM1427 4409l41 115-32-50-41-115zM5483 4696l41-44-31 110-41 44zM2719 5281l41 116-32 5-41-115zM3806 5359l40 10-31 110-41-10zM2846 3392l41-23-31-166-41 23zM4657 3520l41-160-31-28-41 160zM1905 3772l41-10-32-165-41 10zM5382 4019l41-160-32-16-41 160zM1670 4605l41 126-32-28-41-126zM5147 4852l41-23-32 121-41 23zM2394 5104l41 126-31-15-41-127zM4205 5232l41-10-31 121-41 11zM3555 3213l41-73-32-134-41 74zM4062 3249l41-128-32-79-41 128zM1386 4048l41 40-32-133-41-40zM5666 4573l41-74-32 90-41 74zM2990 5372l41 95-32 35-41-95zM3497 5408l41 40-32 90-41-40z"/><path fill="#21a2e3" stroke="#21a2e3" d="M2887 3369l41-25-31-165-41 24zM4626 3492l41-160-32-30-41 160zM1864 3782l41-10-32-165-40 10zM5413 4033l41-160-31-14-41 160zM1638 4577l41 126-31-29-41-127zM5188 4829l40-25-31 122-41 24zM2426 5118l41 127-32-15-41-126zM4164 5242l41-10-31 122-41 9zM2928 3344l41-26-32-165-40 26zM4594 3462l41-160-31-31-41 160zM1823 3789l41-7-31-165-41 7zM5445 4046l41-160-32-13-41 160zM1607 4547l41 127-32-31-41-127zM5228 4804l41-26-31 122-41 26zM2457 5131l41 127-31-13-41-127zM4124 5249l40-7-31 121-41 8zM3441 3210l41-63-31-143-41 62zM4166 3261l41-138-32-68-41 139zM1436 3989l41 28-32-143-41-29zM1342 4301l41 104-32-67-41-105zM5616 4604l41-63-32 100-41 62zM2886 5331l41 105-32 23-41-104zM3610 5383l41 28-31 100-41-29zM3668 3184l41-87-32-124-41 87zM3958 3204l41-119-32-92-41 119zM5716 4509l41-87-31 81-41 86zM3094 5378l41 85-32 48-41-85zM3384 5398l41 53-32 81-41-54zM2969 3318l41-28-32-165-41 28zM4563 3431l41-160-32-33-41 160zM1782 3795l41-6-31-165-41 6zM5476 4057l41-160-31-11-41 160zM1575 4516l41 127-31-33-41-127zM5269 4778l41-27-31 121-41 28zM2489 5142l41 127-32-11-41-127zM4083 5255l41-6-32 122-41 6zM3287 3225l41-49-32-154-41 49zM4301 3297l41-149-31-54-41 149zM1527 3917l41 14-31-154-41-15zM5656 4209l41-149-31 10-41 149zM1395 4359l41 115-31-53-41-115zM5524 4652l41-49-31 111-41 48zM2750 5272l41 115-31 10-41-116zM3765 5344l41 15-32 110-41-15zM3010 3290l41-29-32-166-41 30zM4531 3398l41-160-31-35-41 160zM1741 3799l41-4-31-165-41 4zM5508 4066l41-160-32-9-41 160zM1544 4483l41 127-32-35-41-127zM5310 4751l41-30-31 121-41 30zM2520 5151l41 127-31-9-41-127zM4042 5259l41-4-32 122-41 3zM3051 3261l41-33-32-165-41 32zM4500 3363l41-160-32-37-41 160zM1700 3800l41-1-31-165-41 1zM5540 4073l40-160-31-7-41 160zM1512 4448l41 127-32-38-40-126zM5351 4721l41-32-31 121-41 32zM2552 5158l41 126-32-6-41-127zM4001 5261l41-2-32 121-41 2zM3596 3140l40-80-31-134-41 80zM4030 3170l41-128-31-85-41 128zM3328 3176l41-52-32-154-41 52zM1345 4002l41 46-32-133-41-47zM4270 3243l41-149-32-58-41 149zM5707 4499l41-80-32 90-41 80zM1486 3898l41 19-31-155-41-18zM1364 4306l41 115-32-58-41-115zM3021 5331l41 95-31 41-41-95zM3456 5362l41 46-32 90-40-47zM5565 4603l41-52-31 110-41 53zM2782 5258l41 115-32 14-41-115zM3724 5325l41 19-32 110-41-19zM3482 3147l41-67-31-144-41 68zM4134 3194l41-139-31-73-41 139zM1395 3955l41 34-32-144-40-34zM1310 4233l41 105-31-73-41-105zM5657 4541l40-67-31 99-41 68zM2917 5302l41 105-31 29-41-105zM3569 5348l41 35-31 99-41-34z"/><path fill="#1da6e0" stroke="#1da6e0" d="M3092 3228l41-34-32-166-41 35zM4468 3326l41-160-32-40-40 160zM1659 3799l41 1-31-165-41-1zM5571 4077l41-160-32-4-40 160zM1481 4411l40 126-31-39-41-127zM5392 4689l41-35-31 121-41 35zM2583 5162l41 126-31-4-41-126zM3960 5259l41 2-32 121-41-1zM3781 3118l41-102-31-115-41 102zM3854 3123l41-110-32-107-41 110zM3198 5345l41 76-32 63-41-76zM3270 5350l41 68-31 71-41-68zM3133 3194l41-38-32-165-41 37zM4437 3286l40-160-31-43-41 160zM1618 3795l41 4-31-165-41-4zM5603 4078l40-160-31-1-41 160zM1449 4371l41 127-32-43-40-127zM5433 4654l41-38-31 121-41 38zM2615 5163l41 126-32-1-41-126zM3919 5255l41 4-32 122-41-4zM3709 3097l41-94-32-124-41 94zM3926 3112l41-119-31-99-41 119zM5757 4422l41-94-31 80-41 95zM3125 5322l41 86-31 55-41-85zM3343 5338l41 60-32 80-41-60zM3369 3124l41-58-32-154-41 58zM4238 3185l41-149-31-62-41 149zM1445 3874l41 24-31-154-41-24zM1332 4248l41 115-31-62-41-116zM5606 4551l41-57-31 110-41 57zM2813 5240l41 115-31 18-41-115zM3683 5301l41 24-32 110-41-24zM3174 3156l41-41-32-165-41 41zM4405 3243l41-160-32-46-40 160zM1578 3788l40 7-31-165-41-7zM5634 4076l41-160-32 2-40 160zM1418 4328l40 127-31-46-41-127zM5474 4616l41-41-32 121-40 41zM2647 5161l40 126-31 2-41-126zM3878 5248l41 7-32 122-41-8zM3523 3080l41-74-31-143-41 73zM4103 3121l41-139-32-78-41 138zM1354 3915l41 40-31-144-41-40zM1279 4160l41 105-32-79-41-105zM5697 4474l41-74-31 99-41 74zM2949 5267l41 105-32 35-41-105zM3528 5308l41 40-31 100-41-40zM2365 3432l40-17-31-177-41 17zM2324 3448l41-16-32-177-41 16zM5045 3622l41-172-32-22-41 172zM5076 3644l41-172-31-22-41 172zM2405 3415l41-17-31-177-41 17zM2283 3465l41-17-32-177-41 17zM5013 3600l41-172-31-22-41 171zM5108 3665l41-171-32-22-41 172zM1975 4729l41 138-31-22-41-138zM2007 4751l41 138-32-22-41-138zM4728 4924l41-17-32 133-41 17zM4687 4941l41-17-32 133-40 17zM1944 4707l41 138-32-23-41-138zM2038 4772l41 138-31-21-41-138zM4769 4907l41-17-32 133-41 17zM4646 4957l41-16-31 133-41 16zM2446 3398l41-18-31-177-41 18zM2242 3481l41-16-32-177-41 16zM4982 3577l41-171-32-23-41 172zM5139 3687l41-172-31-21-41 171zM1912 4684l41 138-31-22-41-138zM2070 4794l41 138-32-22-41-138zM4810 4890l41-17-32 133-41 17zM4605 4974l41-17-31 133-41 17zM2487 3380l41-17-31-177-41 17zM2201 3497l41-16-32-177-41 17zM4950 3555l41-172-31-22-41 171zM5171 3708l41-172-32-21-41 172zM1881 4662l41 138-32-23-41-138zM2101 4815l41 138-31-21-41-138zM4851 4873l41-18-32 133-41 18zM4564 4990l41-16-31 133-41 16z"/><path fill="#19aadc" stroke="#19aadc" d="M2528 3363l41-18-31-177-41 18zM2160 3513l41-16-32-176-41 15zM4919 3532l41-171-32-23-41 171zM5202 3729l41-172-31-21-41 172zM3636 3060l41-87-31-134-41 87zM3999 3085l41-128-32-92-41 128zM1849 4639l41 138-31-23-41-138zM1304 3949l41 53-32-134-41-53zM2133 4836l41 138-32-21-41-138zM4892 4855l41-18-32 133-41 18zM4523 5006l41-16-31 133-41 16zM5748 4419l41-86-32 89-41 87zM3053 5283l41 95-32 48-41-95zM3415 5309l41 53-31 89-41-53zM2569 3345l41-18-31-177-41 18zM4887 3509l41-171-31-24-41 172zM2119 3529l41-16-32-177-41 16zM5234 3750l41-172-32-21-41 172zM1818 4616l41 138-32-23-41-138zM4933 4837l41-18-32 133-41 18zM2164 4857l41 138-31-21-41-138zM4482 5021l41-15-31 133-41 15zM2610 3327l41-19-32-177-40 19zM4856 3486l41-172-32-23-41 171zM2078 3544l41-15-32-177-40 15zM5265 3770l41-172-31-20-41 172zM1786 4593l41 138-31-24-41-138zM4974 4819l40-19-31 133-41 19zM2196 4877l41 138-32-20-41-138zM4442 5036l40-15-31 133-41 15zM2651 3308l41-19-32-177-41 19zM4824 3462l41-171-31-25-41 172zM2037 3558l41-14-31-177-41 14zM5297 3789l41-171-32-20-41 172zM1755 4569l41 138-32-24-41-138zM5014 4800l41-19-31 133-41 19zM2227 4896l41 138-31-19-41-138zM4401 5050l41-14-32 133-41 14zM2692 3289l41-20-32-177-41 20zM4793 3438l41-172-32-25-41 172zM1996 3572l41-14-31-177-41 14zM5328 3808l41-172-31-18-41 171zM1723 4545l41 138-31-25-41-138zM5055 4781l41-20-31 133-41 20zM2259 4915l41 138-32-19-41-138zM4360 5064l41-14-32 133-41 14zM3215 3115l40-44-31-166-41 45zM4374 3197l40-160-31-49-41 160zM1537 3777l41 11-32-165-41-11zM5666 4070l40-160-31 6-41 160zM1386 4282l41 127-32-50-40-126zM5515 4575l41-44-32 121-41 44zM2678 5155l41 126-32 6-40-126zM3837 5237l41 11-32 121-40-10zM2733 3269l41-21-32-177-41 21zM4761 3413l41-172-31-26-41 172zM1955 3585l41-13-31-177-41 13zM5360 3826l41-172-32-18-41 172zM1692 4520l41 138-32-26-41-138zM5096 4761l41-21-31 133-41 21zM2290 4933l41 138-31-18-41-138zM4319 5077l41-13-32 133-41 13zM3410 3066l41-62-32-154-41 62zM4207 3123l41-149-32-68-41 149zM1404 3845l41 29-31-154-41-29zM1301 4185l41 116-32-68-41-115zM5647 4494l41-63-31 110-41 63zM2845 5216l41 115-32 24-41-115zM3642 5273l41 28-32 110-41-28zM2774 3248l41-22-32-176-41 21zM4730 3387l41-172-32-27-41 172zM1914 3597l41-12-31-177-41 12zM5391 3843l41-172-31-17-41 172zM1660 4494l41 138-31-27-41-138zM5137 4740l41-21-31 133-41 21zM2322 4950l41 138-32-17-41-138zM4278 5089l41-12-32 133-41 12zM2815 3226l41-23-32-176-41 23zM4698 3360l41-172-31-28-41 172zM1873 3607l41-10-31-177-41 10zM5423 3859l41-172-32-16-41 172zM1629 4467l41 138-32-28-41-138zM5178 4719l41-23-31 133-41 23zM2354 4966l40 138-31-16-41-138zM4237 5099l41-10-32 133-41 10zM2856 3203l41-24-32-177-41 25zM4667 3332l41-172-32-29-41 171zM1833 3617l40-10-31-177-41 10zM5454 3873l41-171-31-15-41 172zM1597 4439l41 138-31-30-41-138zM5219 4696l41-25-32 133-40 25zM2385 4980l41 138-32-14-40-138zM4196 5109l41-10-32 133-41 10zM2897 3179l40-26-31-177-41 26zM4635 3302l41-171-32-32-40 172zM1792 3624l41-7-32-177-41 7zM5486 3886l41-172-32-12-41 171zM1566 4409l41 138-32-31-41-138zM5260 4671l41-26-32 133-41 26zM2417 4993l40 138-31-13-41-138zM4155 5116l41-7-32 133-40 7zM3255 3071l41-49-31-165-41 48zM4342 3148l41-160-32-54-40 160zM1496 3762l41 15-32-165-41-15zM5697 4060l41-160-32 10-40 160zM1355 4233l40 126-31-53-41-127zM5556 4531l41-49-32 121-41 49zM2710 5145l40 127-31 9-41-126zM3796 5223l41 14-31 122-41-15zM3822 3016l41-110-31-115-41 110zM3229 5273l41 77-31 71-41-76zM2937 3153l41-28-31-177-41 28zM4604 3271l40-172-31-32-41 171zM1751 3630l41-6-32-177-41 6zM5517 3897l41-172-31-11-41 172zM1534 4378l41 138-31-33-41-138zM5301 4645l41-27-32 133-41 27zM2448 5004l41 138-32-11-40-138zM4114 5122l41-6-31 133-41 6zM3750 3003l41-102-32-124-41 102zM3895 3013l41-119-32-107-41 119zM5798 4328l41-102-31 81-41 101zM3157 5259l41 86-32 63-41-86zM3302 5269l41 69-32 80-41-68zM3564 3006l41-80-32-143-40 80zM4071 3042l41-138-31-85-41 138zM1313 3868l41 47-31-144-41-46zM1247 4081l41 105-31-85-41-105zM5738 4400l41-80-31 99-41 80zM2980 5226l41 105-31 41-41-105zM3488 5262l40 46-31 100-41-46zM2978 3125l41-30-31-176-41 29zM4572 3238l41-171-32-35-40 171zM1710 3634l41-4-32-177-41 4zM5549 3906l41-172-32-9-41 172zM1503 4345l41 138-32-35-41-138zM5342 4618l41-30-32 133-41 30zM2480 5013l40 138-31-9-41-138zM4073 5126l41-4-31 133-41 4z"/><path fill="#15aed9" stroke="#15aed9" d="M3451 3004l41-68-32-154-41 68zM4175 3055l41-149-32-72-40 148zM1364 3811l40 34-31-154-41-34zM1269 4118l41 115-31-73-41-115zM5688 4431l41-68-32 111-40 67zM2877 5187l40 115-31 29-41-115zM3601 5238l41 35-32 110-41-35zM3296 3022l41-52-31-166-41 53zM4311 3094l40-160-31-58-41 160zM1455 3744l41 18-32-165-41-19zM5729 4047l41-160-32 13-41 160zM1323 4179l41 127-32-58-41-127zM5597 4482l41-52-32 121-41 52zM2741 5132l41 126-32 14-40-127zM3755 5204l41 19-31 121-41-19zM3019 3095l41-32-31-177-41 33zM4541 3203l40-171-31-38-41 172zM1669 3635l41-1-32-177-41 1zM5580 3913l41-172-31-7-41 172zM1471 4310l41 138-31-37-41-138zM5383 4588l41-32-32 133-41 32zM2511 5020l41 138-32-7-40-138zM4032 5128l41-2-31 133-41 2zM3677 2973l41-94-31-134-41 94zM3967 2993l41-128-31-99-41 128zM1263 3888l41 61-32-134-41-60zM5789 4333l41-94-32 89-41 94zM3084 5228l41 94-31 56-41-95zM3374 5248l41 61-31 89-41-60zM3060 3063l41-35-31-176-41 34zM4509 3166l41-172-32-40-41 172zM1628 3634l41 1-32-177-41-1zM5612 3917l41-172-32-4-41 172zM1440 4273l41 138-32-40-41-138zM5424 4556l41-35-32 133-41 35zM2543 5024l40 138-31-4-41-138zM3991 5126l41 2-31 133-41-2zM3101 3028l41-37-31-177-41 38zM4477 3126l41-172-31-43-41 172zM1587 3630l41 4-32-177-41-4zM5643 3918l41-172-31-1-41 172zM1408 4233l41 138-31-43-41-138zM5465 4521l41-38-32 133-41 38zM2574 5025l41 138-32-1-40-138zM3950 5122l41 4-31 133-41-4zM3337 2970l41-58-31-165-41 57zM4279 3036l41-160-32-62-40 160zM1414 3720l41 24-32-166-41-23zM5760 4028l41-160-31 19-41 160zM1291 4121l41 127-31-63-41-126zM5638 4430l41-58-32 122-41 57zM2773 5113l40 127-31 18-41-126zM3714 5180l41 24-31 121-41-24zM3605 2926l41-87-32-143-41 87zM4040 2957l41-138-32-92-41 138zM1272 3815l41 53-31-143-41-53zM3492 2936l41-73-32-154-41 73zM5779 4320l41-87-31 100-41 86zM4144 2982l40-148-31-79-41 149zM1323 3771l41 40-32-154-41-40zM3012 5178l41 105-32 48-41-105zM3447 5209l41 53-32 100-41-53zM1238 4045l41 115-32-79-41-115zM5729 4363l41-73-32 110-41 74zM2908 5152l41 115-32 35-40-115zM3560 5198l41 40-32 110-41-40z"/><path fill="#11b1d6" stroke="#11b1d6" d="M3142 2991l41-41-31-177-41 41zM4446 3083l41-172-32-46-41 172zM1546 3623l41 7-32-177-40-7zM5675 3916l41-172-32 2-41 172zM1377 4190l41 138-32-46-41-138zM5506 4483l40-41-31 133-41 41zM2606 5023l41 138-32 2-41-138zM3909 5115l41 7-31 133-41-7zM3791 2901l41-110-32-124-41 110zM3863 2906l41-119-31-115-41 119zM5839 4226l41-110-32 80-40 111zM3188 5188l41 85-31 72-41-86zM3261 5193l41 76-32 81-41-77zM3378 2912l41-62-31-165-41 62zM4248 2974l40-160-31-68-41 160zM1373 3691l41 29-32-165-41-29zM5792 4005l41-160-32 23-41 160zM1260 4059l41 126-32-67-41-126zM5679 4372l41-62-32 121-41 63zM2804 5090l41 126-32 24-40-127zM3673 5151l41 29-31 121-41-28zM3718 2879l41-102-31-134-41 102zM3936 2894l41-128-32-107-41 128zM1222 3820l41 68-32-133-41-69zM5830 4239l41-102-32 89-41 102zM3116 5164l41 95-32 63-41-94zM3333 5180l41 68-31 90-41-69zM3183 2950l41-45-32-177-40 45zM4414 3037l41-172-31-49-41 172zM1505 3612l41 11-31-177-41-11zM5706 3910l41-172-31 6-41 172zM1345 4144l41 138-31-49-41-138zM5546 4442l41-44-31 133-41 44zM2637 5017l41 138-31 6-41-138zM3869 5104l40 11-31 133-41-11zM2333 3255l41-17-32-190-40 17zM2292 3271l41-16-31-190-41 17zM5086 3450l41-184-32-22-41 184zM5117 3472l41-184-31-22-41 184zM2374 3238l41-17-32-190-41 17zM2251 3288l41-17-31-189-41 17zM5054 3428l41-184-31-23-41 185zM5149 3494l41-185-32-21-41 184zM1934 4578l41 151-31-22-41-151zM1966 4600l41 151-32-22-41-151zM4759 4778l41-16-31 145-41 17zM4719 4795l40-17-31 146-41 17zM1903 4556l41 151-32-23-41-150zM1997 4622l41 150-31-21-41-151zM4800 4762l41-18-31 146-41 17zM4678 4812l41-17-32 146-41 16zM2415 3221l41-18-32-189-41 17zM2210 3304l41-16-31-189-41 16zM5023 3406l41-185-32-22-41 184zM5180 3515l41-184-31-22-41 185zM1871 4534l41 150-31-22-41-151zM2029 4643l41 151-32-22-41-150zM4841 4744l41-17-31 146-41 17zM4637 4828l41-16-32 145-41 17zM2456 3203l41-17-32-189-41 17zM2169 3321l41-17-31-189-41 16zM4991 3383l41-184-31-23-41 185zM5212 3536l41-184-32-21-41 184zM1840 4511l41 151-32-23-41-150zM2060 4664l41 151-31-21-41-151zM4882 4727l41-17-31 145-41 18zM4596 4844l41-16-32 146-41 16zM2497 3186l41-18-32-189-41 18zM2128 3336l41-15-31-190-41 16zM4960 3361l41-185-32-23-41 185zM5243 3557l41-184-31-21-41 184zM1808 4489l41 150-31-23-41-150zM2092 4685l41 151-32-21-41-151zM4923 4710l41-18-31 145-41 18zM4555 4860l41-16-32 146-41 16zM2538 3168l41-18-32-189-41 18zM4928 3338l41-185-31-23-41 184zM2087 3352l41-16-31-189-41 16zM5275 3578l41-184-32-21-41 184zM1777 4466l41 150-32-23-41-150zM4964 4692l41-18-31 145-41 18zM2123 4706l41 151-31-21-41-151zM4514 4876l41-16-32 146-41 15zM2579 3150l40-19-31-189-41 19zM4897 3314l41-184-32-24-41 185zM2047 3367l40-15-31-189-41 15zM5306 3598l41-184-31-20-41 184zM1745 4443l41 150-31-24-41-150zM5005 4674l41-19-32 145-40 19zM2155 4726l41 151-32-20-41-151zM4473 4891l41-15-32 145-40 15zM2619 3131l41-19-31-189-41 19zM4865 3291l41-185-32-24-40 184zM2006 3381l41-14-32-189-41 14zM5338 3618l41-185-32-19-41 184zM1714 4419l41 150-32-24-41-151zM5046 4655l41-19-32 145-41 19zM2187 4746l40 150-31-19-41-151zM4432 4905l41-14-31 145-41 14zM2660 3112l41-20-31-189-41 20zM4834 3266l40-184-31-25-41 184zM1965 3395l41-14-32-189-41 14zM5369 3636l41-184-31-19-41 185zM1682 4394l41 151-31-25-41-151zM5087 4636l41-20-32 145-41 20zM2218 4765l41 150-32-19-40-150zM4391 4919l41-14-31 145-41 14zM2701 3092l41-21-31-189-41 21zM4802 3241l41-184-32-26-40 184zM1924 3408l41-13-32-189-41 13zM5401 3654l41-184-32-18-41 184zM1651 4369l41 151-32-26-41-151zM5128 4616l41-21-32 145-41 21zM2250 4783l40 150-31-18-41-150zM4350 4932l41-13-31 145-41 13zM2742 3071l41-21-31-190-41 22zM4771 3215l40-184-31-27-41 184zM3533 2863l40-80-31-154-41 80zM4112 2904l41-149-32-85-40 149zM1883 3420l41-12-32-189-41 11zM5432 3671l41-184-31-17-41 184zM1282 3725l41 46-32-154-41-46zM1619 4343l41 151-31-27-41-151zM1206 3966l41 115-31-85-41-115zM5169 4595l41-22-32 146-41 21zM5770 4290l41-80-32 110-41 80zM2281 4800l41 150-32-17-40-150zM4309 4943l41-11-31 145-41 12zM2940 5111l40 115-31 41-41-115zM3519 5152l41 46-32 110-40-46z"/><path fill="#0bb4d0" stroke="#0bb4d0" d="M2783 3050l41-23-31-190-41 23zM4739 3188l41-184-32-28-40 184zM1842 3430l41-10-32-190-41 11zM5464 3687l41-184-32-16-41 184zM1588 4316l41 151-32-28-41-151zM5210 4573l41-23-32 146-41 23zM2313 4815l41 151-32-16-41-150zM4268 4954l41-11-31 146-41 10zM3224 2905l41-48-32-177-41 48zM4383 2988l41-172-32-54-41 172zM1464 3597l41 15-31-177-41-15zM5738 3900l41-171-32 9-41 172zM1314 4095l41 138-32-54-41-138zM5587 4398l41-49-31 133-41 49zM2669 5007l41 138-32 10-41-138zM3828 5090l41 14-32 133-41-14zM2824 3027l41-25-31-189-41 24zM4708 3160l40-184-31-30-41 185zM1801 3440l41-10-32-189-41 9zM5495 3702l41-185-31-14-41 184zM1556 4288l41 151-31-30-41-150zM5251 4550l41-24-32 145-41 25zM2344 4830l41 150-31-14-41-151zM4227 4963l41-9-31 145-41 10zM3646 2839l41-94-32-143-41 94zM4008 2865l41-138-32-100-40 139zM1231 3755l41 60-31-143-41-61zM5820 4233l41-94-31 100-41 94zM3043 5123l41 105-31 55-41-105zM3406 5149l41 60-32 100-41-61zM2865 3002l41-26-32-189-40 26zM4676 3131l41-185-32-31-41 184zM1760 3447l41-7-32-190-40 8zM5527 3714l41-184-32-13-41 185zM1525 4259l41 150-32-31-41-150zM5292 4526l40-26-31 145-41 26zM2376 4843l41 150-32-13-41-150zM4187 4971l40-8-31 146-41 7zM3419 2850l41-68-31-165-41 68zM4216 2906l41-160-32-72-41 160zM1332 3657l41 34-32-165-41-34zM1228 3992l41 126-31-73-41-126zM5720 4310l41-68-32 121-41 68zM2836 5061l41 126-32 29-41-126zM3632 5117l41 34-31 122-41-35zM2906 2976l41-28-32-189-41 28zM4644 3099l41-184-31-33-41 185zM1719 3453l41-6-31-189-41 6zM5558 3725l41-184-31-11-41 184zM1493 4228l41 150-31-33-41-150zM5332 4500l41-28-31 146-41 27zM2407 4854l41 150-31-11-41-150zM4146 4977l41-6-32 145-41 6zM2947 2948l41-29-32-190-41 30zM4613 3067l41-185-32-35-41 185zM1678 3457l41-4-31-189-41 4zM5590 3734l41-184-32-9-41 184zM1462 4195l41 150-32-35-41-150zM5373 4472l41-30-31 146-41 30zM2439 4863l41 150-32-9-41-150zM4105 4981l41-4-32 145-41 4zM3265 2857l41-53-32-177-41 53zM4351 2934l41-172-31-57-41 171zM1423 3578l41 19-31-177-41-19zM5770 3887l40-172-31 14-41 171zM1282 4041l41 138-32-58-40-138zM5628 4349l41-52-31 133-41 52zM2700 4994l41 138-31 13-41-138zM3787 5071l41 19-32 133-41-19zM2988 2919l41-33-32-189-41 32zM4581 3032l41-185-31-37-41 184zM1637 3458l41-1-31-189-41 1zM5621 3741l41-184-31-7-41 184zM1430 4160l41 150-31-37-41-151zM5414 4442l41-32-31 146-41 32zM2470 4869l41 151-31-7-41-150zM4064 4982l41-1-32 145-41 2zM3832 2791l41-119-32-124-41 119zM3220 5108l41 85-32 80-41-85z"/><path fill="#04b7cb" stroke="#04b7cb" d="M3573 2783l41-87-31-154-41 87zM4081 2819l40-149-31-92-41 149zM1241 3672l41 53-32-154-41-53zM1175 3881l41 115-32-92-41-115zM5811 4210l41-87-32 110-41 87zM2971 5063l41 115-32 48-40-115zM3478 5099l41 53-31 110-41-53zM3759 2777l41-110-31-134-41 110zM3904 2787l41-128-31-116-41 129zM1181 3743l41 77-32-134-41-76zM5871 4137l41-110-32 89-41 110zM3147 5093l41 95-31 71-41-95zM3292 5103l41 77-31 89-41-76zM3029 2886l41-34-32-190-41 35zM4550 2994l41-184-32-40-41 184zM1596 3457l41 1-31-189-41-1zM5653 3745l41-184-32-4-41 184zM1399 4122l41 151-32-40-41-150zM5455 4410l41-35-31 146-41 35zM2502 4873l41 151-32-4-41-151zM4023 4981l41 1-32 146-41-2zM3460 2782l41-73-31-166-41 74zM4184 2834l41-160-31-79-41 160zM1291 3617l41 40-32-165-40-40zM1197 3919l41 126-32-79-41-126zM5761 4242l40-73-31 121-41 73zM2867 5026l41 126-31 35-41-126zM3591 5077l41 40-31 121-41-40zM3306 2804l41-57-32-177-41 57zM4320 2876l41-171-32-63-41 172zM1382 3555l41 23-31-177-41-23zM5801 3868l41-172-32 19-40 172zM1251 3983l40 138-31-62-41-138zM5669 4297l41-58-31 133-41 58zM2732 4975l41 138-32 19-41-138zM3746 5047l41 24-32 133-41-24zM3070 2852l41-38-32-189-41 37zM4518 2954l41-184-31-43-41 184zM1555 3453l41 4-31-189-41-4zM5684 3746l41-184-31-1-41 184zM1367 4083l41 150-31-43-41-150zM5496 4375l41-37-31 145-41 38zM2533 4874l41 151-31-1-41-151zM3982 4977l41 4-32 145-41-4zM3687 2745l41-102-32-143-41 102zM3977 2766l40-139-31-107-41 139zM1190 3686l41 69-31-144-41-68zM5861 4139l41-102-31 100-41 102zM3075 5060l41 104-32 64-41-105zM3365 5080l41 69-32 99-41-68zM3111 2814l41-41-32-189-41 41zM4487 2911l41-184-32-46-41 184zM1515 3446l40 7-31-189-41-7zM5716 3744l41-184-32 2-41 184zM1336 4040l41 150-32-46-41-150zM5537 4338l41-41-32 145-40 41zM2565 4872l41 151-32 2-41-151zM3941 4970l41 7-32 145-41-7zM3347 2747l41-62-32-177-41 62zM4288 2814l41-172-31-67-41 171zM1341 3526l41 29-31-177-41-29zM5833 3845l40-172-31 23-41 172zM1219 3921l41 138-32-67-40-139zM5710 4239l41-62-31 133-41 62zM2763 4952l41 138-31 23-41-138zM3705 5018l41 29-32 133-41-29z"/><path fill="#04bac4" stroke="#04bac4" d="M3501 2709l41-80-32-166-40 80zM4153 2755l41-160-32-85-41 160zM1250 3571l41 46-31-165-41-46zM1165 3840l41 126-31-85-41-126zM5801 4169l41-80-31 121-41 80zM2899 4985l41 126-32 41-41-126zM3551 5031l40 46-31 121-41-46zM3614 2696l41-94-31-154-41 94zM4049 2727l41-149-32-100-41 149zM1200 3611l41 61-32-154-41-61zM1143 3789l41 115-31-99-41-115zM5852 4123l41-94-32 110-41 94zM3003 5008l40 115-31 55-41-115zM3437 5038l41 61-31 110-41-60zM3152 2773l40-45-31-189-41 45zM4455 2865l41-184-31-49-41 184zM1474 3435l41 11-32-189-41-11zM5747 3738l41-184-31 6-41 184zM1304 3994l41 150-31-49-41-151zM5578 4297l41-45-32 146-41 44zM2596 4866l41 151-31 6-41-151zM3900 4959l41 11-32 145-40-11zM2302 3065l40-17-31-202-41 17zM2261 3082l41-17-32-202-41 17zM5127 3266l41-197-32-23-41 198zM5158 3288l41-198-31-21-41 197zM2342 3048l41-17-31-202-41 17zM2220 3099l41-17-32-202-41 16zM5095 3244l41-198-32-22-40 197zM5190 3309l41-197-32-22-41 198zM1894 4415l40 163-31-22-41-164zM1925 4436l41 164-32-22-40-163zM4791 4620l41-17-32 159-41 16zM4750 4637l41-17-32 158-40 17zM1862 4392l41 164-32-22-41-164zM1957 4458l40 164-31-22-41-164zM4832 4603l41-17-32 158-41 18zM4709 4653l41-16-31 158-41 17zM2383 3031l41-17-31-202-41 17zM2179 3115l41-16-32-203-41 17zM5064 3221l40-197-31-22-41 197zM5221 3331l41-197-31-22-41 197zM1830 4370l41 164-31-23-41-163zM1988 4480l41 163-32-21-40-164zM4873 4586l41-17-32 158-41 17zM4668 4670l41-17-31 159-41 16zM2424 3014l41-17-31-203-41 18zM2138 3131l41-16-32-202-41 16zM5032 3199l41-197-32-23-40 197zM5253 3352l41-197-32-21-41 197zM1799 4348l41 163-32-22-41-164zM2020 4501l40 163-31-21-41-163zM4914 4569l41-18-32 159-41 17zM4627 4686l41-16-31 158-41 16zM2465 2997l41-18-31-203-41 18zM2097 3147l41-16-32-202-41 16zM5001 3176l40-197-31-23-41 197zM5284 3373l41-197-31-21-41 197zM1767 4325l41 164-31-23-41-164zM2051 4522l41 163-32-21-40-163zM4955 4551l41-18-32 159-41 18zM4586 4702l41-16-31 158-41 16zM2506 2979l41-18-31-203-41 18zM4969 3153l41-197-32-23-40 197zM2056 3163l41-16-32-202-41 15zM5316 3394l41-198-32-20-41 197zM1736 4302l41 164-32-23-41-164zM4996 4533l41-18-32 159-41 18zM2083 4542l40 164-31-21-41-163zM4545 4717l41-15-31 158-41 16zM2547 2961l41-19-32-202-40 18zM4938 3130l40-197-31-24-41 197zM2015 3178l41-15-32-203-40 15zM5347 3414l41-197-31-21-41 198zM1704 4279l41 164-31-24-41-164zM5037 4515l40-18-31 158-41 19zM2114 4563l41 163-32-20-40-164zM4505 4732l40-15-31 159-41 15zM2588 2942l41-19-32-203-41 20zM4906 3106l41-197-32-24-41 197zM1974 3192l41-14-31-203-41 15zM5379 3433l41-197-32-19-41 197zM1673 4255l41 164-32-25-41-163zM5077 4497l41-20-31 159-41 19zM2146 4582l41 164-32-20-41-163zM4464 4747l41-15-32 159-41 14zM3800 2667l41-119-31-134-41 119zM3873 2672l41-129-32-124-41 129zM1140 3658l41 85-32-133-40-85zM5912 4027l40-119-31 89-41 119zM3179 5013l41 95-32 80-41-95zM3251 5018l41 85-31 90-41-85zM2629 2923l41-20-32-203-41 20zM4874 3082l41-197-31-25-41 197zM1933 3206l41-14-31-202-41 13zM5410 3452l41-197-31-19-41 197zM1641 4231l41 163-31-25-41-163zM5118 4477l41-20-31 159-41 20zM2177 4601l41 164-31-19-41-164zM4423 4760l41-13-32 158-41 14zM2670 2903l41-21-32-202-41 20zM4843 3057l41-197-32-26-41 197zM1892 3219l41-13-31-203-41 13zM5442 3470l41-197-32-18-41 197zM1610 4206l41 163-32-26-41-163zM5159 4457l41-20-31 158-41 21zM2209 4619l41 164-32-18-41-164zM4382 4773l41-13-32 159-41 13zM3192 2728l41-48-31-189-41 48zM4424 2816l41-184-32-54-41 184zM1433 3420l41 15-32-189-41-15zM5779 3729l41-185-32 10-41 184zM1273 3944l41 151-32-54-41-151zM5619 4252l41-48-32 145-41 49zM2628 4857l41 150-32 10-41-151zM3859 4944l41 15-31 145-41-14zM3388 2685l41-68-32-177-41 68zM4257 2746l41-171-32-73-41 172zM1300 3492l41 34-31-177-41-34zM5864 3816l41-172-32 29-40 172zM1188 3853l40 139-31-73-41-139zM5751 4177l41-68-31 133-41 68zM2795 4923l41 138-32 29-41-138zM3664 4984l41 34-32 133-41-34zM2711 2882l41-22-32-202-41 22zM4811 3031l41-197-31-27-41 197zM1851 3230l41-11-31-203-41 12zM5473 3487l41-197-31-17-41 197zM1578 4180l41 163-31-27-41-163zM5200 4437l41-22-31 158-41 22zM2240 4636l41 164-31-17-41-164zM4341 4785l41-12-32 159-41 11zM2752 2860l41-23-32-202-41 23zM4780 3004l41-197-32-28-41 197zM1810 3241l41-11-31-202-41 11zM5505 3503l41-197-32-16-41 197zM1547 4153l41 163-32-28-41-163zM5241 4415l41-23-31 158-41 23zM2272 4652l41 163-32-15-41-164zM4300 4796l41-11-32 158-41 11zM3728 2643l41-110-32-143-41 110zM3945 2659l41-139-32-115-40 138zM1149 3610l41 76-31-143-41-77zM5902 4037l41-110-31 100-41 110zM3107 4988l40 105-31 71-41-104zM3324 5004l41 76-32 100-41-77z"/><path fill="#0fbdbd" stroke="#0fbdbd" d="M2793 2837l41-24-32-202-41 24zM4748 2976l41-197-31-30-41 197zM1769 3250l41-9-31-202-41 9zM5536 3517l41-197-31-14-41 197zM1515 4125l41 163-31-29-41-164zM5282 4392l41-24-31 158-41 24zM2303 4666l41 164-31-15-41-163zM4259 4805l41-9-32 158-41 9zM2834 2813l40-26-31-202-41 26zM4717 2946l41-197-32-31-41 197zM1729 3258l40-8-31-202-41 8zM5568 3530l41-197-32-13-41 197zM1484 4095l41 164-32-31-41-164zM5323 4368l41-26-32 158-40 26zM2335 4679l41 164-32-13-41-164zM4218 4813l41-8-32 158-40 8zM3542 2629l41-87-32-165-41 86zM4121 2670l41-160-31-92-41 160zM1209 3518l41 53-31-165-41-54zM1134 3755l41 126-32-92-41-126zM5842 4089l41-87-31 121-41 87zM2930 4937l41 126-31 48-41-126zM3510 4978l41 53-32 121-41-53zM2874 2787l41-28-31-202-41 28zM4685 2915l41-197-31-33-41 197zM3233 2680l41-53-31-189-41 53zM4392 2762l41-184-31-58-41 185zM1688 3264l41-6-32-202-41 6zM5599 3541l41-197-31-11-41 197zM1392 3401l41 19-32-189-41-19zM5810 3715l41-184-31 13-41 185zM1452 4064l41 164-31-33-41-164zM1241 3890l41 151-31-58-41-150zM5364 4342l41-28-32 158-41 28zM5660 4204l41-53-32 146-41 52zM2366 4690l41 164-31-11-41-164zM4177 4819l41-6-31 158-41 6zM2659 4843l41 151-31 13-41-150zM3818 4925l41 19-31 146-41-19zM2915 2759l41-30-31-202-41 30zM4654 2882l41-197-32-35-41 197zM1647 3268l41-4-32-202-41 3zM5631 3550l41-197-32-9-41 197zM1421 4031l41 164-32-35-41-164zM5405 4314l41-30-32 158-41 30zM2398 4699l41 164-32-9-41-164zM4136 4822l41-3-31 158-41 4zM3655 2602l41-102-31-154-41 102zM4017 2627l41-149-31-107-41 149zM1159 3543l41 68-32-154-41-68zM1112 3690l41 115-32-107-41-115zM5893 4029l41-102-32 110-41 102zM3034 4945l41 115-32 63-40-115zM3396 4970l41 68-31 111-41-69zM3429 2617l41-74-32-177-41 74zM4225 2674l41-172-31-79-41 172zM1260 3452l40 40-31-177-41-40zM5896 3781l40-172-31 35-41 172zM1156 3780l41 139-32-79-40-138zM5792 4109l41-73-32 133-40 73zM2826 4888l41 138-31 35-41-138zM3623 4944l41 40-32 133-41-40zM2956 2729l41-32-31-202-41 32zM4622 2847l41-197-31-37-41 197zM1606 3269l41-1-32-203-41 2zM5662 3557l41-197-31-7-41 197zM1389 3996l41 164-31-38-41-163zM5446 4284l41-32-32 158-41 32zM2429 4706l41 163-31-6-41-164zM4095 4824l41-2-31 159-41 1zM3274 2627l41-57-31-189-41 57zM4361 2705l41-185-32-62-41 184zM1351 3378l41 23-32-189-41-23zM5842 3696l41-184-32 19-41 184zM1210 3833l41 150-32-62-41-151zM5701 4151l41-57-32 145-41 58zM2691 4825l41 150-32 19-41-151zM3777 4902l41 23-31 146-41-24z"/><path fill="#19bfb6" stroke="#19bfb6" d="M2997 2697l41-35-31-202-41 35zM4591 2810l41-197-32-40-41 197zM1565 3268l41 1-32-202-41-1zM5694 3561l41-197-32-4-41 197zM1358 3959l41 163-32-39-41-164zM5487 4252l41-35-32 158-41 35zM2461 4710l41 163-32-4-41-163zM4054 4823l41 1-31 158-41-1zM3038 2662l41-37-31-203-41 38zM4559 2770l41-197-31-43-41 197zM1524 3264l41 4-32-202-41-4zM5725 3562l41-197-31-1-41 197zM1326 3919l41 164-31-43-41-164zM5528 4217l41-38-32 159-41 37zM2492 4711l41 163-31-1-41-163zM4013 4819l41 4-31 158-41-4zM3841 2548l41-129-31-133-41 128zM1099 3563l41 95-31-133-41-95zM3210 4923l41 95-31 90-41-95zM3583 2542l41-94-32-166-41 95zM4090 2578l41-160-32-100-41 160zM1168 3457l41 61-31-166-41-60zM1102 3663l41 126-31-99-41-126zM5883 4002l41-94-31 121-41 94zM2962 4881l41 127-32 55-41-126zM3469 4917l41 61-32 121-41-61zM3769 2533l41-119-32-143-41 119zM3914 2543l40-138-31-124-41 138zM1109 3525l40 85-31-144-41-85zM5943 3927l41-119-32 100-40 119zM3138 4908l41 105-32 80-40-105zM3283 4918l41 86-32 99-41-85zM3315 2570l41-62-31-189-41 62zM4329 2642l41-184-31-67-41 184zM1310 3349l41 29-32-189-41-29zM5873 3673l41-184-31 23-41 184zM1178 3770l41 151-31-68-41-150zM5742 4094l41-62-32 145-41 62zM2722 4801l41 151-31 23-41-150zM3736 4873l41 29-31 145-41-29zM3470 2543l40-80-31-177-41 80zM4194 2595l41-172-32-85-41 172zM1219 3406l41 46-32-177-41-46zM5927 3740l41-172-32 41-40 172zM1125 3702l40 138-31-85-41-138zM5833 4036l41-80-32 133-41 80zM2858 4846l41 139-32 41-41-138zM3582 4898l41 46-32 133-40-46zM3079 2625l41-41-32-203-40 41zM4528 2727l41-197-32-46-41 197zM1483 3257l41 7-32-202-40-8zM5757 3560l41-197-32 2-41 197zM1295 3876l41 164-32-46-41-164zM5569 4179l40-41-31 159-41 41zM2524 4709l41 163-32 2-41-163zM3972 4811l41 8-31 158-41-7z"/><path fill="#20c1ae" stroke="#20c1ae" d="M3696 2500l41-110-31-154-41 110zM3986 2520l41-149-32-115-41 149zM1118 3466l41 77-32-154-41-77zM1080 3583l41 115-31-115-41-115zM5934 3927l41-110-32 110-41 110zM3066 4873l41 115-32 72-41-115zM3355 4894l41 76-31 110-41-76zM3120 2584l41-45-32-202-41 44zM4496 2681l41-197-31-50-41 198zM1442 3246l41 11-31-203-41-11zM5788 3554l41-197-31 6-41 197zM1263 3830l41 164-31-50-41-164zM5609 4138l41-44-31 158-41 45zM2555 4703l41 163-31 6-41-163zM3932 4800l40 11-31 159-41-11zM3356 2508l41-68-31-189-41 68zM4298 2575l41-184-32-73-41 184zM1269 3315l41 34-32-189-41-34zM5905 3644l41-184-32 29-41 184zM1147 3703l41 150-32-73-41-150zM5783 4032l41-68-32 145-41 68zM2754 4772l41 151-32 29-41-151zM3695 4839l41 34-31 145-41-34zM3161 2539l41-48-32-203-41 49zM4465 2632l41-198-32-53-41 197zM1401 3231l41 15-31-203-41-14zM5820 3544l41-197-32 10-41 197zM1232 3780l41 164-32-54-41-163zM5650 4094l41-49-31 159-41 48zM2587 4693l41 164-32 9-41-163zM3891 4786l41 14-32 159-41-15zM3510 2463l41-86-31-177-41 86zM4162 2510l41-172-31-92-41 172zM1178 3352l41 54-32-177-41-53zM5959 3692l41-172-32 48-41 172zM1093 3617l41 138-32-92-41-138zM5874 3956l41-87-32 133-41 87zM2889 4798l41 139-31 48-41-139zM3541 4845l41 53-31 133-41-53zM3624 2448l41-102-32-165-41 101zM4058 2478l41-160-31-107-41 160zM1127 3389l41 68-31-165-41-68zM1071 3564l41 126-32-107-41-126zM5924 3908l41-102-31 121-41 102zM2993 4818l41 127-31 63-41-127zM3428 4849l41 68-32 121-41-68z"/><path fill="#28c4a7" stroke="#28c4a7" d="M3202 2491l41-53-32-202-41 52zM4433 2578l41-197-31-58-41 197zM1360 3212l41 19-31-202-41-19zM5851 3531l41-198-31 14-41 197zM1200 3727l41 163-31-57-41-164zM5691 4045l41-52-31 158-41 53zM2618 4679l41 164-31 14-41-164zM3850 4767l41 19-32 158-41-19zM3397 2440l41-74-32-189-40 74zM4266 2502l41-184-31-79-41 184zM1228 3275l41 40-32-189-40-40zM5936 3609l41-184-31 35-41 184zM1115 3630l41 150-31-78-41-151zM5824 3964l40-74-31 146-41 73zM2785 4737l41 151-31 35-41-151zM3655 4799l40 40-31 145-41-40zM3810 2414l41-128-32-144-41 129zM3882 2419l41-138-32-134-40 139zM1068 3430l41 95-32-144-41-95zM1058 3459l41 104-31-133-41-105zM5984 3808l41-128-32 99-41 129zM3170 4819l40 104-31 90-41-105zM3242 4824l41 94-32 100-41-95zM3737 2390l41-119-31-154-41 119zM3954 2405l41-149-31-124-41 149zM1077 3381l41 85-32-154-40-85zM5975 3817l40-119-31 110-41 119zM3097 4793l41 115-31 80-41-115zM3314 4808l41 86-31 110-41-86zM3243 2438l41-57-32-202-41 57zM4402 2520l41-197-32-62-41 197zM1319 3189l41 23-31-202-41-24zM5883 3512l41-197-32 18-41 198zM1169 3669l41 164-32-63-41-163zM5732 3993l41-57-31 158-41 57zM2650 4661l41 164-32 18-41-164zM3809 4743l41 24-32 158-41-23zM3551 2377l41-95-31-176-41 94zM4131 2418l41-172-32-99-41 171zM1137 3292l41 60-32-176-41-61zM1061 3525l41 138-31-99-41-139zM5915 3869l41-94-32 133-41 94zM2921 4743l41 138-32 56-41-139zM3500 4784l41 61-31 133-41-61z"/><path fill="#2fc69f" stroke="#2fc69f" d="M3438 2366l41-80-32-189-41 80zM4235 2423l41-184-32-85-41 184zM1187 3229l41 46-31-189-41-47zM5968 3568l41-184-32 41-41 184zM1084 3551l41 151-32-85-41-151zM5864 3890l41-80-31 146-41 80zM3665 2346l41-110-32-166-41 111zM4027 2371l41-160-32-115-41 160zM2817 4696l41 150-32 42-41-151zM3614 4752l41 47-32 145-41-46zM1086 3312l41 77-31-165-41-77zM5965 3806l41-110-31 121-41 110zM3025 4747l41 126-32 72-41-127zM3387 4772l41 77-32 121-41-76zM3284 2381l41-62-32-203-41 63zM4370 2458l41-197-31-68-41 198zM1278 3160l41 29-31-203-41-29zM5914 3489l41-198-31 24-41 197zM1137 3607l41 163-31-67-41-164zM5773 3936l41-63-31 159-41 62zM2681 4637l41 164-31 24-41-164zM3768 4714l41 29-32 159-41-29z"/><path fill="#37c897" stroke="#37c897" d="M3851 2286l40-139-31-143-41 138zM1027 3325l41 105-32-144-41-104zM6025 3680l41-139-32 100-41 138zM3201 4719l41 105-32 99-40-104zM3325 2319l41-68-32-203-41 68zM4339 2391l41-198-32-73-41 198zM1237 3126l41 34-31-203-41-34zM5946 3460l41-198-32 29-41 198zM1106 3539l41 164-32-73-41-164zM3592 2282l41-101-31-177-41 102zM4099 2318l41-171-31-107-41 171zM5814 3873l41-68-31 159-41 68zM2713 4608l41 164-32 29-41-164zM1096 3224l41 68-32-177-41-68zM3727 4680l41 34-32 159-41-34zM1030 3425l41 139-32-107-41-139zM5956 3775l41-102-32 133-41 102zM2952 4680l41 138-31 63-41-138zM3459 4716l41 68-31 133-41-68zM3479 2286l41-86-32-190-41 87zM4203 2338l41-184-31-92-41 184zM1146 3176l41 53-31-190-41-53zM6000 3520l40-184-31 48-41 184zM1052 3466l41 151-32-92-40-151zM5905 3810l41-87-31 146-41 87zM2848 4648l41 150-31 48-41-150zM3573 4699l41 53-32 146-41-53zM3778 2271l41-129-32-154-40 129zM3923 2281l41-149-32-134-41 149zM1036 3286l41 95-31-154-41-95zM1017 3343l41 116-31-134-41-115zM6015 3698l41-128-31 110-41 128zM3129 4703l41 116-32 89-41-115zM3273 4714l41 94-31 110-41-94zM3706 2236l41-119-32-166-41 119zM3995 2256l41-160-31-124-41 160zM1046 3227l40 85-31-165-41-85zM1008 3341l41 127-32-125-41-126zM6006 3696l41-119-32 121-40 119zM3056 4667l41 126-31 80-41-126zM3346 4687l41 85-32 122-41-86z"/><path fill="#40c98f" stroke="#40c98f" d="M3366 2251l40-74-31-202-41 73zM4307 2318l41-198-31-78-41 197zM1197 3086l40 40-31-203-41-40zM5977 3425l41-197-31 34-41 198zM1074 3466l41 164-31-79-41-163zM5855 3805l41-73-32 158-40 74zM2744 4574l41 163-31 35-41-164zM3686 4640l41 40-32 159-40-40zM3520 2200l41-94-32-190-41 94zM4172 2246l41-184-32-99-41 184zM1105 3115l41 61-31-190-41-60zM6031 3464l41-184-32 56-40 184zM1021 3374l40 151-31-100-41-150zM5946 3723l41-94-31 146-41 94zM2880 4593l41 150-32 55-41-150zM3532 4639l41 60-32 146-41-61zM3633 2181l41-111-31-176-41 110zM4068 2211l41-171-32-116-41 172zM1055 3147l41 77-32-177-41-77zM998 3318l41 139-31-116-41-138zM5997 3673l41-110-32 133-41 110zM2984 4609l41 138-32 71-41-138zM3418 4639l41 77-31 133-41-77z"/><path fill="#4aca86" stroke="#4aca86" d="M3406 2177l41-80-31-202-41 80zM4276 2239l41-197-32-86-41 198zM1156 3039l41 47-32-203-41-46zM6009 3384l41-198-32 42-41 197zM1043 3388l41 163-32-85-41-164zM5896 3732l41-80-32 158-41 80zM2776 4532l41 164-32 41-41-163zM3645 4594l41 46-31 159-41-47zM3819 2142l41-138-32-154-41 138zM3891 2147l41-149-31-143-41 149zM995 3182l41 104-31-154-41-104zM986 3210l41 115-32-143-41-116zM6056 3570l41-139-31 110-41 139zM3160 4604l41 115-31 100-41-116zM3233 4609l40 105-31 110-41-105zM3747 2117l40-129-31-165-41 128zM3964 2132l41-160-32-134-41 160zM1005 3132l41 95-32-165-41-95zM976 3217l41 126-31-133-41-126zM6047 3577l41-129-32 122-41 128zM3088 4577l41 126-32 90-41-126zM3305 4592l41 95-32 121-41-94zM3561 2106l41-102-32-190-41 102zM4140 2147l41-184-31-107-41 184zM1064 3047l41 68-31-189-41-68zM989 3275l41 150-32-107-40-150zM6063 3401l40-184-31 63-41 184zM5987 3629l41-102-31 146-41 102zM2911 4530l41 150-31 63-41-150zM3491 4571l41 68-32 145-41-68z"/><path fill="#54cb7d" stroke="#54cb7d" d="M3447 2097l41-87-31-202-41 87zM4244 2154l41-198-31-91-41 197zM1115 2986l41 53-32-202-41-53zM6040 3336l41-198-31 48-41 198zM1011 3302l41 164-31-92-41-163zM5937 3652l41-87-32 158-41 87zM2807 4484l41 164-31 48-41-164zM3604 4541l41 53-31 158-41-53zM3674 2070l41-119-31-176-41 119zM4036 2096l41-172-31-124-41 172zM1014 3062l41 85-32-177-41-85zM967 3203l41 138-32-124-41-138zM6038 3563l40-119-31 133-41 119zM3015 4528l41 139-31 80-41-138zM3377 4554l41 85-31 133-41-85z"/><path fill="#5ecc74" stroke="#5ecc74" d="M3602 2004l41-110-32-190-41 110zM4109 2040l41-184-32-116-41 184zM3860 2004l41-149-32-154-41 149zM1023 2970l41 77-31-189-41-77zM958 3168l40 150-31-115-41-150zM6094 3330l41-184-32 71-40 184zM6028 3527l41-110-31 146-41 110zM954 3066l41 116-31-154-41-116zM6097 3431l41-149-31 110-41 149zM2943 4458l41 151-32 71-41-150zM3450 4494l41 77-32 145-41-77zM3192 4494l41 115-32 110-41-115zM3488 2010l41-94-31-202-41 94zM4213 2062l41-197-32-100-41 198zM1074 2926l41 60-32-202-41-61zM6072 3280l41-197-32 55-41 198zM980 3211l41 163-32-99-41-164zM5978 3565l41-94-32 158-41 94zM2839 4429l41 164-32 55-41-164zM3563 4480l41 61-31 158-41-60zM3787 1988l41-138-31-165-41 138zM3932 1998l41-160-31-143-41 160zM964 3028l41 104-32-165-41-105zM945 3084l41 126-32-144-41-126zM6088 3448l41-138-32 121-41 139zM3119 4477l41 127-31 99-41-126zM3264 4488l41 104-32 122-40-105z"/><path fill="#69cc6a" stroke="#69cc6a" d="M3715 1951l41-128-32-177-40 129zM4005 1972l41-172-32-133-41 171zM973 2967l41 95-32-177-40-95zM935 3079l41 138-31-133-41-139zM6078 3444l41-129-31 133-41 129zM3047 4439l41 138-32 90-41-139zM3337 4459l40 95-31 133-41-95zM3529 1916l41-102-31-202-41 102zM4181 1963l41-198-31-107-41 198zM1033 2858l41 68-32-203-41-68zM948 3111l41 164-31-107-41-164zM6103 3217l41-197-31 63-41 197zM6019 3471l41-102-32 158-41 102zM2870 4366l41 164-31 63-41-164zM3522 4412l41 68-31 159-41-68z"/><path fill="#79cb5e" stroke="#79cb5e" d="M3643 1894l41-119-32-190-41 119zM4077 1924l41-184-31-124-41 184zM982 2885l41 85-31-189-41-85zM926 3053l41 150-32-124-40-151zM6126 3250l40-184-31 80-41 184zM6069 3417l41-119-32 146-40 119zM2974 4378l41 150-31 81-41-151zM3409 4409l41 85-32 145-41-85zM3828 1850l41-149-31-165-41 149zM3901 1855l41-160-32-154-41 160zM923 2912l41 116-32-166-41-115zM913 2940l41 126-31-154-41-126zM6129 3310l41-149-32 121-41 149zM3151 4367l41 127-32 110-41-127zM3223 4372l41 116-31 121-41-115z"/><path fill="#89c953" stroke="#89c953" d="M3756 1823l41-138-32-177-41 138zM3973 1838l41-171-31-144-41 172zM932 2862l41 105-31-177-41-104zM904 2945l41 139-32-144-41-138zM6119 3315l41-138-31 133-41 138zM3078 4339l41 138-31 100-41-138zM3296 4355l41 104-32 133-41-104zM3570 1814l41-110-31-202-41 110zM4150 1856l41-198-32-115-41 197zM992 2781l41 77-32-203-41-76zM917 3004l41 164-32-115-41-164zM6135 3146l41-197-32 71-41 197zM6060 3369l41-110-32 158-41 110zM2902 4295l41 163-32 72-41-164zM3481 4336l41 76-31 159-41-77zM3684 1775l40-129-31-189-41 128zM4046 1800l41-184-32-133-41 184zM942 2790l40 95-31-189-41-95zM895 2928l40 151-31-134-41-150zM6110 3298l41-128-32 145-41 129zM3006 4288l41 151-32 89-41-150zM3368 4314l41 95-32 145-40-95z"/><path fill="#99c847" stroke="#99c847" d="M3611 1704l41-119-31-202-41 119zM4118 1740l41-197-31-124-41 197zM951 2696l41 85-32-202-41-86zM885 2889l41 164-31-125-41-163zM6166 3066l41-198-31 81-41 197zM6101 3259l41-119-32 158-41 119zM2933 4214l41 164-31 80-41-163zM3440 4250l41 86-31 158-41-85z"/><path fill="#a8c73b" stroke="#a8c73b" d="M3869 1701l41-160-31-165-41 160zM882 2786l41 126-32-165-41-126zM6170 3161l41-160-32 121-41 160zM3182 4246l41 126-31 122-41-127zM3797 1685l41-149-32-177-41 149zM3942 1695l41-172-32-154-41 172zM891 2747l41 115-31-176-41-116zM872 2802l41 138-31-154-41-138zM6160 3177l41-149-31 133-41 149zM3110 4229l41 138-32 110-41-138zM3255 4239l41 116-32 133-41-116zM3724 1646l41-138-31-190-41 139zM4014 1667l41-184-31-144-41 184zM901 2686l41 104-32-189-41-105zM863 2795l41 150-32-143-41-151zM6151 3170l41-138-32 145-41 138zM3037 4189l41 150-31 100-41-151zM3327 4209l41 105-31 145-41-104z"/><path fill="#b3c639" stroke="#b3c639" d="M3652 1585l41-128-32-203-40 129zM4087 1616l41-197-32-134-41 198zM910 2601l41 95-32-203-40-94zM854 2765l41 163-32-133-41-164zM6198 2976l41-197-32 89-41 198zM6142 3140l40-129-31 159-41 128zM2965 4125l41 163-32 90-41-164zM3400 4156l40 94-31 159-41-95z"/><path fill="#bcc639" stroke="#bcc639" d="M3838 1536l41-160-32-177-41 160zM3910 1541l41-172-31-165-41 172zM850 2621l41 126-31-177-41-126zM841 2648l41 138-32-165-41-138zM6201 3028l41-160-31 133-41 160zM3141 4108l41 138-31 121-41-138zM3214 4113l41 126-32 133-41-126zM3765 1508l41-149-31-189-41 148zM3983 1523l41-184-32-154-41 184zM860 2570l41 116-32-190-41-115zM831 2651l41 151-31-154-41-151zM6192 3032l41-149-32 145-41 149zM3069 4079l41 150-32 110-41-150zM3286 4094l41 115-31 146-41-116z"/><path fill="#c5c639" stroke="#c5c639" d="M3693 1457l41-139-32-202-41 138zM4055 1483l41-198-31-143-41 197zM869 2496l41 105-31-202-41-105zM822 2631l41 164-32-144-40-163zM6230 2876l40-197-31 100-41 197zM6182 3011l41-138-31 159-41 138zM2996 4025l41 164-31 99-41-163zM3359 4051l41 105-32 158-41-105z"/><path fill="#cec538" stroke="#cec538" d="M3879 1376l41-172-32-177-41 172zM809 2483l41 138-31-177-41-138zM6242 2868l41-172-31 133-41 172zM3173 3975l41 138-32 133-41-138z"/><path fill="#d7c538" stroke="#d7c538" d="M3806 1359l41-160-31-189-41 160zM3951 1369l41-184-31-165-41 184zM819 2444l41 126-32-189-41-126zM800 2497l41 151-32-165-41-151zM6233 2883l41-160-32 145-41 160zM3100 3957l41 151-31 121-41-150zM3245 3968l41 126-31 145-41-126zM3734 1318l41-148-32-203-41 149zM4024 1339l41-197-32-154-41 197zM828 2381l41 115-31-202-41-115zM791 2488l40 163-31-154-41-163zM6261 2766l41-197-32 110-40 197zM6223 2873l41-149-31 159-41 149zM3028 3915l41 164-32 110-41-164zM3318 3936l41 115-32 158-41-115z"/><path fill="#e9c438" stroke="#e9c438" d="M3847 1199l41-172-31-189-41 172zM3920 1204l41-184-32-177-41 184zM778 2306l41 138-32-189-41-138zM768 2332l41 151-31-177-41-151zM6283 2696l41-184-31 133-41 184zM6274 2723l41-172-32 145-41 172zM3132 3824l41 151-32 133-41-151zM3204 3830l41 138-31 145-41-138z"/><path fill="#f2c438" stroke="#f2c438" d="M3775 1170l41-160-32-203-41 160zM3992 1185l41-197-31-165-41 197zM787 2255l41 126-31-202-41-127zM759 2334l41 163-32-165-40-163zM6293 2645l40-197-31 121-41 197zM6264 2724l41-160-31 159-41 160zM3059 3794l41 163-31 122-41-164zM3277 3809l41 127-32 158-41-126z"/><path fill="#fec736" stroke="#fec736" d="M3888 1027l41-184-31-189-41 184zM737 2155l41 151-32-189-41-151zM6315 2551l41-184-32 145-41 184zM3163 3679l41 151-31 145-41-151zM3816 1010l41-172-32-203-41 172zM3961 1020l41-197-32-177-41 197zM746 2117l41 138-31-203-41-138zM728 2169l40 163-31-177-41-163zM6324 2512l41-197-32 133-40 197zM6305 2564l41-172-31 159-41 172zM3091 3661l41 163-32 133-41-163zM3236 3671l41 138-32 159-41-138z"/><path fill="#fcd92a" stroke="#fcd92a" d="M3857 838l41-184-32-203-41 184zM3929 843l41-197-31-190-41 198zM705 1966l41 151-31-203-41-150zM696 1992l41 163-32-189-40-164zM6356 2367l40-197-31 145-41 197zM6346 2392l41-184-31 159-41 184zM3122 3516l41 163-31 145-41-163zM3195 3521l41 150-32 159-41-151z"/><path fill="#fbec1e" stroke="#fbec1e" d="M3898 654l41-198-32-202-41 197zM665 1802l40 164-31-202-41-164zM6387 2208l41-197-32 159-40 197zM3154 3357l41 164-32 158-41-163z"/></g>
<line x1="63.3" y1="1458.4" x2="63.3" y2="1066.6" stroke="#e0e0e0" stroke-width="1"/><line x1="227.9" y1="1389.8" x2="227.9" y2="998.0" stroke="#e0e0e0" stroke-width="1"/><line x1="392.5" y1="1321.2" x2="392.5" y2="929.4" stroke="#e0e0e0" stroke-width="1"/><line x1="644.2" y1="1499.6" x2="644.2" y2="1107.8" stroke="#e0e0e0" stroke-width="1"/><line x1="518.4" y1="1410.4" x2="518.4" y2="1018.6" stroke="#e0e0e0" stroke-width="1"/><line x1="392.5" y1="1321.2" x2="392.5" y2="929.4" stroke="#e0e0e0" stroke-width="1"/><line x1="63.3" y1="1394.0" x2="392.5" y2="1256.8" stroke="#e0e0e0" stroke-width="1"/><line x1="392.5" y1="1256.8" x2="644.2" y2="1435.2" stroke="#e0e0e0" stroke-width="1"/><line x1="63.3" y1="1329.6" x2="392.5" y2="1192.4" stroke="#e0e0e0" stroke-width="1"/><line x1="392.5" y1="1192.4" x2="644.2" y2="1370.8" stroke="#e0e0e0" stroke-width="1"/><line x1="63.3" y1="1265.3" x2="392.5" y2="1128.1" stroke="#e0e0e0" stroke-width="1"/><line x1="392.5" y1="1128.1" x2="644.2" y2="1306.5" stroke="#e0e0e0" stroke-width="1"/><line x1="63.3" y1="1200.9" x2="392.5" y2="1063.7" stroke="#e0e0e0" stroke-width="1"/><line x1="392.5" y1="1063.7" x2="644.2" y2="1242.1" stroke="#e0e0e0" stroke-width="1"/><line x1="63.3" y1="1136.5" x2="392.5" y2="999.3" stroke="#e0e0e0" stroke-width="1"/><line x1="392.5" y1="999.3" x2="644.2" y2="1177.7" stroke="#e0e0e0" stroke-width="1"/><line x1="63.3" y1="1072.1" x2="392.5" y2="934.9" stroke="#e0e0e0" stroke-width="1"/><line x1="392.5" y1="934.9" x2="644.2" y2="1113.3" stroke="#e0e0e0" stroke-width="1"/><line x1="315.0" y1="1636.8" x2="63.3" y2="1458.4" stroke="#e0e0e0" stroke-width="1"/><line x1="479.6" y1="1568.2" x2="227.9" y2="1389.8" stroke="#e0e0e0" stroke-width="1"/><line x1="644.2" y1="1499.6" x2="392.5" y2="1321.2" stroke="#e0e0e0" stroke-width="1"/><line x1="315.0" y1="1636.8" x2="644.2" y2="1499.6" stroke="#e0e0e0" stroke-width="1"/><line x1="189.2" y1="1547.6" x2="518.4" y2="1410.4" stroke="#e0e0e0" stroke-width="1"/><line x1="63.3" y1="1458.4" x2="392.5" y2="1321.2" stroke="#e0e0e0" stroke-width="1"/><path d="M106.5 1440.4 107.9 1441.2 109.3 1442.1 110.6 1442.9 111.6 1443.5 112.7 1444.2 114.0 1445.1 115.4 1445.9 116.7 1446.7 118.1 1447.6 119.5 1448.4 120.8 1449.3 122.2 1450.1 122.9 1450.6 124.2 1451.4 125.6 1452.3 127.0 1453.1 128.3 1454.0 129.7 1454.8 131.1 1455.7 132.4 1456.5 133.2 1457.0 134.5 1457.8 135.8 1458.6 137.2 1459.5 138.6 1460.3 139.9 1461.2 141.3 1462.0 142.7 1462.9 143.7 1463.5 144.7 1464.1 146.1 1465.0 147.4 1465.8 148.8 1466.7 150.2 1467.5 151.5 1468.4 152.9 1469.2 154.1 1469.9 155.0 1470.5 156.3 1471.3 157.7 1472.2 159.1 1473.0 160.4 1473.9 161.8 1474.7 163.2 1475.6 164.3 1476.3 165.2 1476.8 166.6 1477.7 168.0 1478.5 169.3 1479.4 170.7 1480.2 172.1 1481.1 173.4 1481.9 174.4 1482.5 175.5 1483.2 176.9 1484.0 178.3 1484.9 179.6 1485.7 181.0 1486.5 182.4 1487.4 183.7 1488.2 184.4 1488.7 185.8 1489.5 187.2 1490.3 188.5 1491.2 189.9 1492.0 191.3 1492.9 192.7 1493.7 194.0 1494.6 194.7 1495.0 196.1 1495.8 197.5 1496.7 198.9 1497.5 200.2 1498.4 201.6 1499.2 203.0 1500.0 203.8 1500.5 205.0 1501.3 206.4 1502.2 207.8 1503.0 209.2 1503.8 210.6 1504.7 211.9 1505.5 213.3 1506.4 214.0 1506.8 215.4 1507.6 216.8 1508.5 218.1 1509.3 219.5 1510.2 220.9 1511.0 222.3 1511.8 223.0 1512.3 224.4 1513.1 225.7 1513.9 227.1 1514.8 228.5 1515.6 229.9 1516.5 231.3 1517.3 232.0 1517.7 233.3 1518.6 234.7 1519.4 236.1 1520.2 237.5 1521.1 238.9 1521.9 240.2 1522.8 241.1 1523.3 242.3 1524.0 243.7 1524.9 245.1 1525.7 246.5 1526.5 247.9 1527.4 249.2 1528.2 250.1 1528.8 251.3 1529.5 252.7 1530.3 254.1 1531.2 255.5 1532.0 256.9 1532.8 258.3 1533.7 259.0 1534.2 260.3 1534.9 261.7 1535.8 263.1 1536.6 264.5 1537.4 265.9 1538.3 267.3 1539.1 268.0 1539.5 269.4 1540.4 270.8 1541.2 272.1 1542.0 273.5 1542.9 274.9 1543.7 276.3 1544.6 277.0 1545.0 278.4 1545.8 279.8 1546.7 281.2 1547.5 282.6 1548.3 284.0 1549.2 285.1 1549.8 286.1 1550.4 287.5 1551.2 288.9 1552.1 290.2 1552.9 291.6 1553.8 293.0 1554.6 293.7 1555.0 295.1 1555.8 296.5 1556.7 297.9 1557.5 299.3 1558.3 300.7 1559.2 301.9 1559.9 302.8 1560.4 304.2 1561.3 305.6 1562.1 307.0 1562.9 308.4 1563.8 309.8 1564.6 310.5 1565.0 311.9 1565.9 313.3 1566.7 314.7 1567.5 316.1 1568.4 317.5 1569.2 318.3 1569.6 319.6 1570.4 321.0 1571.3 322.4 1572.1 323.8 1572.9 325.2 1573.8 326.3 1574.4 327.3 1575.0 328.7 1575.8 330.1 1576.7 331.5 1577.5 332.9 1578.3 334.2 1579.1 335.0 1579.6 336.4 1580.4 337.8 1581.2 339.3 1582.1 340.7 1582.9 342.1 1583.7 342.8 1584.1 344.2 1585.0 345.6 1585.8 347.0 1586.6 348.4 1587.5 349.8 1588.3 350.5 1588.7 351.9 1589.5 353.3 1590.4 354.7 1591.2 356.2 1592.0 357.5 1592.8 358.3 1593.3 359.7 1594.1 361.1 1594.9 362.5 1595.8 363.9 1596.6 365.0 1597.2 366.0 1597.8 367.5 1598.6 368.9 1599.5 370.3 1600.3 371.7 1601.1 372.5 1601.6 373.8 1602.4 375.2 1603.2 376.7 1604.0 378.1 1604.8 379.5 1605.7 380.2 1606.1 381.6 1606.9 383.0 1607.7 383.8 1608.1" fill="none" stroke="#4659f8" stroke-width="1.05"/><path d="M575.4 1528.3 574.3 1527.3 573.3 1526.3 572.4 1525.6 571.6 1524.9 570.5 1523.9 569.4 1523.0 568.3 1522.0 567.2 1521.1 566.7 1520.6 565.5 1519.6 564.4 1518.7 563.3 1517.7 562.2 1516.8 561.1 1515.8 560.6 1515.3 559.5 1514.4 558.4 1513.4 557.3 1512.5 556.2 1511.5 555.1 1510.5 554.5 1510.1 553.4 1509.1 552.3 1508.2 551.2 1507.2 550.1 1506.2 549.0 1505.3 548.4 1504.8 547.3 1503.9 546.2 1502.9 545.1 1501.9 544.0 1501.0 542.9 1500.0 542.3 1499.6 541.2 1498.6 540.1 1497.7 539.0 1496.7 537.9 1495.7 536.8 1494.8 536.2 1494.3 535.1 1493.4 534.0 1492.4 532.9 1491.5 531.8 1490.5 530.7 1489.6 530.1 1489.1 529.0 1488.1 527.9 1487.2 526.7 1486.2 525.6 1485.3 524.5 1484.3 524.0 1483.8 522.8 1482.9 521.7 1481.9 520.6 1481.0 519.5 1480.0 518.4 1479.1 517.5 1478.4 516.7 1477.7 515.6 1476.7 514.5 1475.8 513.3 1474.8 512.2 1473.9 511.1 1472.9 510.5 1472.4 509.4 1471.5 508.3 1470.5 507.2 1469.6 506.1 1468.6 504.9 1467.7 504.2 1467.1 503.3 1466.3 502.1 1465.3 501.0 1464.4 499.9 1463.4 498.8 1462.5 497.6 1461.5 497.1 1461.1 496.0 1460.1 494.8 1459.2 493.7 1458.2 492.6 1457.3 491.5 1456.3 490.5 1455.5 489.8 1454.9 488.6 1453.9 487.5 1453.0 486.4 1452.0 485.3 1451.1 484.1 1450.2 483.5 1449.6 482.4 1448.7 481.3 1447.8 480.2 1446.8 479.1 1445.9 477.9 1445.0 476.8 1444.0 476.2 1443.5 475.1 1442.6 474.0 1441.6 472.8 1440.7 471.7 1439.8 470.6 1438.8 469.5 1437.9 468.9 1437.4 467.8 1436.4 466.6 1435.5 465.5 1434.6 464.4 1433.6 463.2 1432.7 462.1 1431.7 461.5 1431.2 460.4 1430.3 459.3 1429.4 458.1 1428.4 457.0 1427.5 455.9 1426.5 454.7 1425.6 454.2 1425.1 453.0 1424.2 451.9 1423.2 450.8 1422.3 449.6 1421.3 448.5 1420.4 447.3 1419.5 446.5 1418.8 445.6 1418.0 444.5 1417.1 443.4 1416.2 442.2 1415.2 441.1 1414.3 439.9 1413.3 438.8 1412.4 438.2 1411.9 437.1 1411.0 436.0 1410.0 434.8 1409.1 433.7 1408.1 432.5 1407.2 431.4 1406.3 430.8 1405.8 429.7 1404.9 428.6 1403.9 427.4 1403.0 426.3 1402.0 425.1 1401.1 424.0 1400.1 422.9 1399.3 422.3 1398.7 421.1 1397.8 420.0 1396.9 418.8 1395.9 417.7 1395.0 416.6 1394.0 415.4 1393.1 414.7 1392.5 413.7 1391.7 412.6 1390.7 411.4 1389.8 410.3 1388.9 409.1 1387.9 408.0 1387.0 406.8 1386.1 406.3 1385.6 405.1 1384.6 404.0 1383.7 402.8 1382.8 401.7 1381.8 400.5 1380.9 399.4 1380.0 398.2 1379.0 397.7 1378.5 396.5 1377.6 395.4 1376.7 394.2 1375.7 393.1 1374.8 391.9 1373.9 390.8 1372.9 389.6 1372.0 389.0 1371.5 387.9 1370.6 386.7 1369.6 385.6 1368.7 384.4 1367.8 383.3 1366.8 382.1 1365.9 381.0 1364.9 380.4 1364.5 379.3 1363.5 378.1 1362.6 377.0 1361.7 375.8 1360.7 374.7 1359.8 373.5 1358.9 372.4 1357.9 371.8 1357.5 370.6 1356.5 369.5 1355.6 368.3 1354.7 367.2 1353.7 366.0 1352.8 364.9 1351.8 363.7 1350.9 362.8 1350.2 362.0 1349.5 360.8 1348.6 359.7 1347.6 358.5 1346.7 357.4 1345.8 356.2 1344.8 355.0 1343.9 353.9 1343.0 353.3 1342.5 352.2 1341.6 351.0 1340.6 349.8 1339.7 349.3 1339.2" fill="none" stroke="#4659f8" stroke-width="1.05"/><path d="M87.3 1448.4 88.6 1449.3 90.0 1450.1 91.3 1451.0 92.7 1451.8 94.0 1452.7 95.4 1453.5 96.7 1454.4 97.9 1455.2 98.7 1455.7 100.1 1456.5 101.4 1457.4 102.8 1458.2 104.1 1459.1 105.5 1459.9 106.8 1460.8 108.2 1461.6 109.5 1462.5 110.2 1462.9 111.6 1463.8 112.9 1464.6 114.3 1465.5 115.6 1466.3 117.0 1467.2 118.3 1468.0 119.7 1468.9 121.0 1469.8 122.0 1470.3 123.1 1471.0 124.4 1471.9 125.8 1472.7 127.1 1473.6 128.5 1474.4 129.8 1475.3 131.2 1476.1 132.5 1477.0 133.8 1477.8 134.6 1478.3 135.9 1479.1 137.3 1480.0 138.6 1480.8 140.0 1481.7 141.3 1482.5 142.7 1483.4 144.0 1484.2 145.4 1485.1 146.1 1485.5 147.4 1486.4 148.8 1487.2 150.1 1488.1 151.5 1488.9 152.9 1489.8 154.2 1490.6 155.6 1491.5 156.9 1492.3 157.6 1492.8 159.0 1493.6 160.3 1494.5 161.7 1495.3 163.0 1496.2 164.4 1497.0 165.7 1497.9 167.1 1498.7 168.3 1499.5 169.1 1500.0 170.5 1500.8 171.8 1501.7 173.2 1502.5 174.6 1503.4 175.9 1504.2 177.3 1505.1 178.6 1505.9 179.5 1506.5 180.7 1507.2 182.0 1508.1 183.4 1508.9 184.7 1509.8 186.1 1510.6 187.5 1511.5 188.8 1512.3 190.2 1513.2 190.9 1513.6 192.2 1514.4 193.6 1515.3 194.9 1516.1 196.3 1517.0 197.7 1517.8 199.0 1518.7 200.4 1519.5 201.6 1520.3 202.4 1520.8 203.8 1521.7 205.2 1522.5 206.5 1523.4 207.9 1524.2 209.2 1525.1 210.6 1525.9 212.0 1526.8 212.6 1527.2 214.0 1528.0 215.4 1528.9 216.7 1529.7 218.1 1530.6 219.5 1531.4 220.8 1532.3 222.2 1533.1 223.2 1533.8 224.2 1534.4 225.6 1535.2 227.0 1536.1 228.3 1536.9 229.7 1537.8 231.1 1538.6 232.4 1539.5 233.8 1540.3 234.5 1540.8 235.8 1541.6 237.2 1542.5 238.6 1543.3 239.9 1544.1 241.3 1545.0 242.7 1545.8 244.0 1546.7 244.7 1547.1 246.1 1548.0 247.4 1548.8 248.8 1549.7 250.2 1550.5 251.5 1551.3 252.9 1552.2 254.3 1553.0 255.0 1553.5 256.3 1554.3 257.7 1555.2 259.1 1556.0 260.4 1556.8 261.8 1557.7 263.2 1558.5 264.5 1559.4 265.2 1559.8 266.6 1560.7 268.0 1561.5 269.3 1562.3 270.7 1563.2 272.1 1564.0 273.4 1564.9 274.8 1565.7 275.5 1566.2 276.9 1567.0 278.2 1567.8 279.6 1568.7 281.0 1569.5 282.3 1570.4 283.7 1571.2 285.1 1572.1 285.8 1572.5 287.1 1573.3 288.5 1574.2 289.9 1575.0 291.3 1575.9 292.6 1576.7 294.0 1577.6 295.1 1578.2 296.1 1578.8 297.4 1579.7 298.8 1580.5 300.2 1581.4 301.6 1582.2 302.9 1583.0 304.3 1583.9 305.0 1584.3 306.4 1585.2 307.7 1586.0 309.1 1586.8 310.5 1587.7 311.9 1588.5 313.2 1589.4 314.6 1590.2 315.3 1590.6 316.7 1591.5 318.1 1592.3 319.4 1593.2 320.8 1594.0 322.2 1594.8 323.6 1595.7 324.3 1596.1 325.6 1597.0 327.0 1597.8 328.4 1598.6 329.8 1599.5 331.2 1600.3 332.5 1601.2 333.7 1601.9 334.6 1602.4 336.0 1603.3 337.4 1604.1 338.7 1605.0 340.1 1605.8 341.5 1606.6 342.9 1607.5 343.6 1607.9 344.9 1608.7 346.3 1609.6 347.7 1610.4 349.1 1611.3 350.5 1612.1 351.8 1612.9 352.5 1613.4 353.9 1614.2 355.3 1615.0 356.7 1615.9 358.1 1616.7 359.4 1617.6 360.1 1618.0" fill="none" stroke="#2698ea" stroke-width="1.05"/><path d="M599.1 1518.4 597.9 1517.5 596.8 1516.5 595.7 1515.6 594.5 1514.6 593.4 1513.7 592.7 1513.1 591.7 1512.3 590.5 1511.3 589.4 1510.4 588.3 1509.5 587.1 1508.5 586.0 1507.6 585.0 1506.7 584.3 1506.2 583.2 1505.2 582.0 1504.3 580.9 1503.3 579.7 1502.4 578.6 1501.4 577.5 1500.5 576.9 1500.0 575.8 1499.1 574.6 1498.1 573.5 1497.2 572.3 1496.3 571.2 1495.3 570.1 1494.4 569.4 1493.8 568.4 1493.0 567.2 1492.0 566.1 1491.1 564.9 1490.1 563.8 1489.2 562.7 1488.3 561.5 1487.3 560.9 1486.8 559.8 1485.9 558.7 1485.0 557.5 1484.0 556.4 1483.1 555.2 1482.1 554.1 1481.2 553.4 1480.6 552.4 1479.8 551.2 1478.9 550.1 1477.9 548.9 1477.0 547.8 1476.0 546.7 1475.1 545.5 1474.2 544.9 1473.7 543.8 1472.7 542.7 1471.8 541.5 1470.9 540.4 1469.9 539.2 1469.0 538.1 1468.0 537.0 1467.1 536.4 1466.6 535.2 1465.7 534.1 1464.8 532.9 1463.8 531.8 1462.9 530.6 1461.9 529.5 1461.0 528.6 1460.3 527.8 1459.6 526.6 1458.7 525.5 1457.7 524.3 1456.8 523.2 1455.8 522.0 1454.9 520.9 1454.0 520.1 1453.3 519.2 1452.6 518.0 1451.6 516.9 1450.7 515.7 1449.7 514.6 1448.8 513.4 1447.9 512.3 1446.9 511.5 1446.3 510.5 1445.5 509.4 1444.6 508.2 1443.7 507.1 1442.7 505.9 1441.8 504.8 1440.8 503.6 1439.9 502.8 1439.2 501.9 1438.5 500.8 1437.6 499.6 1436.6 498.5 1435.7 497.3 1434.8 496.2 1433.8 495.0 1432.9 493.9 1432.0 493.3 1431.5 492.1 1430.5 491.0 1429.6 489.8 1428.7 488.7 1427.7 487.5 1426.8 486.4 1425.9 485.2 1424.9 484.6 1424.5 483.5 1423.5 482.3 1422.6 481.2 1421.6 480.0 1420.7 478.9 1419.8 477.7 1418.8 476.6 1417.9 475.9 1417.3 474.8 1416.5 473.7 1415.6 472.5 1414.6 471.4 1413.7 470.2 1412.8 469.0 1411.8 467.9 1410.9 466.7 1410.0 466.2 1409.5 465.0 1408.6 463.8 1407.6 462.7 1406.7 461.5 1405.7 460.4 1404.8 459.2 1403.9 458.1 1402.9 457.3 1402.3 456.3 1401.5 455.2 1400.6 454.0 1399.7 452.9 1398.7 451.7 1397.8 450.5 1396.9 449.4 1395.9 448.2 1395.0 447.6 1394.5 446.5 1393.6 445.3 1392.7 444.2 1391.7 443.0 1390.8 441.8 1389.9 440.7 1388.9 439.5 1388.0 438.4 1387.1 437.8 1386.6 436.6 1385.7 435.5 1384.7 434.3 1383.8 433.1 1382.9 432.0 1381.9 430.8 1381.0 429.7 1380.1 428.5 1379.2 427.9 1378.7 426.8 1377.7 425.6 1376.8 424.4 1375.9 423.3 1374.9 422.1 1374.0 421.0 1373.1 419.8 1372.1 418.7 1371.2 418.1 1370.8 416.9 1369.8 415.7 1368.9 414.6 1368.0 413.4 1367.0 412.2 1366.1 411.1 1365.2 409.9 1364.2 408.8 1363.3 408.2 1362.8 407.0 1361.9 405.8 1361.0 404.7 1360.0 403.5 1359.1 402.3 1358.2 401.2 1357.2 400.0 1356.3 398.9 1355.4 398.3 1354.9 397.1 1354.0 395.9 1353.1 394.8 1352.1 393.6 1351.2 392.4 1350.3 391.3 1349.3 390.1 1348.4 389.0 1347.5 388.2 1346.9 387.2 1346.1 386.0 1345.1 384.9 1344.2 383.7 1343.3 382.5 1342.4 381.4 1341.4 380.2 1340.5 379.0 1339.6 377.9 1338.6 377.3 1338.2 376.1 1337.2 374.9 1336.3 373.8 1335.4 372.6 1334.4 371.4 1333.5 370.3 1332.6 369.1 1331.7 368.5 1331.2" fill="none" stroke="#2698ea" stroke-width="1.05"/><path d="M74.1 1453.9 75.5 1454.7 76.8 1455.6 78.2 1456.4 79.5 1457.3 80.9 1458.2 82.2 1459.0 83.5 1459.9 84.9 1460.7 85.6 1461.2 86.9 1462.0 88.2 1462.9 89.6 1463.7 90.9 1464.6 92.3 1465.4 93.6 1466.3 95.0 1467.2 96.3 1468.0 97.7 1468.9 98.3 1469.3 99.7 1470.2 101.0 1471.0 102.4 1471.9 103.7 1472.7 105.0 1473.6 106.4 1474.4 107.7 1475.3 109.1 1476.2 110.4 1477.0 111.1 1477.4 112.4 1478.3 113.8 1479.1 115.1 1480.0 116.5 1480.9 117.8 1481.7 119.2 1482.6 120.5 1483.4 121.9 1484.3 123.2 1485.1 123.9 1485.6 125.2 1486.4 126.6 1487.3 127.9 1488.1 129.3 1489.0 130.6 1489.8 132.0 1490.7 133.3 1491.6 134.6 1492.4 136.0 1493.3 136.7 1493.7 138.0 1494.5 139.4 1495.4 140.7 1496.3 142.1 1497.1 143.4 1498.0 144.8 1498.8 146.1 1499.7 147.4 1500.5 148.6 1501.3 149.5 1501.8 150.8 1502.7 152.2 1503.5 153.5 1504.4 154.9 1505.2 156.2 1506.1 157.6 1506.9 158.9 1507.8 160.3 1508.6 161.0 1509.1 162.3 1509.9 163.6 1510.8 165.0 1511.6 166.3 1512.5 167.7 1513.3 169.0 1514.2 170.4 1515.1 171.7 1515.9 173.1 1516.8 173.8 1517.2 175.1 1518.0 176.5 1518.9 177.8 1519.7 179.2 1520.6 180.5 1521.5 181.9 1522.3 183.2 1523.2 184.6 1524.0 185.2 1524.4 186.6 1525.3 187.9 1526.1 189.3 1527.0 190.6 1527.9 192.0 1528.7 193.3 1529.6 194.7 1530.4 196.0 1531.3 197.2 1532.0 198.1 1532.5 199.4 1533.4 200.8 1534.3 202.1 1535.1 203.5 1536.0 204.8 1536.8 206.2 1537.7 207.5 1538.5 208.9 1539.4 209.6 1539.8 210.9 1540.6 212.3 1541.5 213.6 1542.4 215.0 1543.2 216.3 1544.1 217.7 1544.9 219.0 1545.8 220.4 1546.6 221.1 1547.0 222.4 1547.9 223.8 1548.7 225.1 1549.6 226.5 1550.4 227.9 1551.3 229.2 1552.2 230.6 1553.0 231.9 1553.9 232.6 1554.3 234.0 1555.1 235.3 1556.0 236.7 1556.8 238.0 1557.7 239.4 1558.5 240.7 1559.4 242.1 1560.2 243.4 1561.1 244.1 1561.5 245.5 1562.4 246.8 1563.2 248.2 1564.1 249.6 1564.9 250.9 1565.8 252.3 1566.6 253.6 1567.5 255.0 1568.3 255.7 1568.8 257.0 1569.6 258.4 1570.5 259.7 1571.3 261.1 1572.2 262.4 1573.0 263.8 1573.9 265.2 1574.7 266.3 1575.4 267.2 1576.0 268.6 1576.8 269.9 1577.7 271.3 1578.5 272.6 1579.4 274.0 1580.2 275.4 1581.1 276.7 1581.9 277.4 1582.4 278.8 1583.2 280.1 1584.1 281.5 1584.9 282.8 1585.8 284.2 1586.6 285.6 1587.5 286.9 1588.3 288.3 1589.2 289.0 1589.6 290.3 1590.4 291.7 1591.3 293.0 1592.1 294.4 1593.0 295.8 1593.8 297.1 1594.7 298.5 1595.5 299.3 1596.0 300.5 1596.8 301.9 1597.6 303.3 1598.5 304.6 1599.3 306.0 1600.2 307.3 1601.0 308.7 1601.9 310.0 1602.7 310.8 1603.2 312.1 1604.0 313.5 1604.9 314.8 1605.7 316.2 1606.6 317.6 1607.4 318.9 1608.2 320.3 1609.1 321.0 1609.5 322.3 1610.4 323.7 1611.2 325.1 1612.1 326.4 1612.9 327.8 1613.8 329.2 1614.6 330.5 1615.5 331.3 1615.9 332.6 1616.7 333.9 1617.6 335.3 1618.4 336.7 1619.3 338.0 1620.1 339.4 1621.0 340.8 1621.8 341.7 1622.4 342.8 1623.1 344.2 1623.9 344.9 1624.3" fill="none" stroke="#0fbdbd" stroke-width="1.05"/><path d="M614.3 1512.1 613.2 1511.1 612.0 1510.2 611.4 1509.7 610.3 1508.8 609.1 1507.8 608.0 1506.9 606.8 1506.0 605.7 1505.0 604.5 1504.1 603.4 1503.2 602.8 1502.7 601.7 1501.7 600.5 1500.8 599.4 1499.9 598.2 1498.9 597.1 1498.0 595.9 1497.1 594.8 1496.1 594.0 1495.5 593.0 1494.7 591.9 1493.8 590.7 1492.9 589.6 1491.9 588.4 1491.0 587.3 1490.0 586.1 1489.1 584.9 1488.2 584.4 1487.7 583.2 1486.8 582.1 1485.8 580.9 1484.9 579.8 1484.0 578.6 1483.0 577.4 1482.1 576.3 1481.2 575.7 1480.7 574.6 1479.8 573.4 1478.8 572.2 1477.9 571.1 1477.0 569.9 1476.0 568.8 1475.1 567.6 1474.1 566.6 1473.3 565.9 1472.7 564.7 1471.8 563.6 1470.9 562.4 1469.9 561.3 1469.0 560.1 1468.1 558.9 1467.1 557.8 1466.2 557.2 1465.7 556.1 1464.8 554.9 1463.9 553.7 1462.9 552.6 1462.0 551.4 1461.1 550.3 1460.1 549.1 1459.2 548.0 1458.3 547.4 1457.8 546.2 1456.9 545.1 1455.9 543.9 1455.0 542.7 1454.1 541.6 1453.1 540.4 1452.2 539.3 1451.3 538.2 1450.4 537.5 1449.9 536.4 1448.9 535.2 1448.0 534.0 1447.1 532.9 1446.1 531.7 1445.2 530.6 1444.3 529.4 1443.3 528.5 1442.6 527.7 1441.9 526.5 1441.0 525.3 1440.1 524.2 1439.1 523.0 1438.2 521.9 1437.3 520.7 1436.3 519.5 1435.4 518.7 1434.7 517.8 1434.0 516.6 1433.1 515.5 1432.1 514.3 1431.2 513.1 1430.3 512.0 1429.3 510.8 1428.4 509.7 1427.5 508.7 1426.7 507.9 1426.1 506.7 1425.2 505.6 1424.2 504.4 1423.3 503.3 1422.4 502.1 1421.4 500.9 1420.5 499.8 1419.6 498.7 1418.7 498.0 1418.2 496.9 1417.2 495.7 1416.3 494.5 1415.4 493.4 1414.4 492.2 1413.5 491.0 1412.6 489.9 1411.6 488.7 1410.7 488.1 1410.2 487.0 1409.3 485.8 1408.4 484.6 1407.5 483.5 1406.5 482.3 1405.6 481.1 1404.7 480.0 1403.7 478.8 1402.8 478.2 1402.3 477.1 1401.4 475.9 1400.5 474.7 1399.5 473.6 1398.6 472.4 1397.7 471.2 1396.8 470.1 1395.8 468.9 1394.9 467.8 1394.0 467.1 1393.5 466.0 1392.6 464.8 1391.6 463.6 1390.7 462.5 1389.8 461.3 1388.8 460.1 1387.9 459.0 1387.0 457.8 1386.1 457.2 1385.6 456.0 1384.7 454.9 1383.7 453.7 1382.8 452.5 1381.9 451.4 1380.9 450.2 1380.0 449.0 1379.1 447.9 1378.2 446.7 1377.2 446.1 1376.8 444.9 1375.8 443.8 1374.9 442.6 1374.0 441.4 1373.0 440.3 1372.1 439.1 1371.2 437.9 1370.3 436.8 1369.3 435.7 1368.5 435.0 1367.9 433.8 1367.0 432.7 1366.1 431.5 1365.2 430.3 1364.2 429.1 1363.3 428.0 1362.4 426.8 1361.4 425.6 1360.5 424.8 1359.8 423.9 1359.1 422.7 1358.2 421.5 1357.3 420.4 1356.3 419.2 1355.4 418.0 1354.5 416.9 1353.5 415.7 1352.6 414.5 1351.7 413.7 1351.0 412.8 1350.3 411.6 1349.4 410.4 1348.4 409.2 1347.5 408.1 1346.6 406.9 1345.7 405.7 1344.7 404.5 1343.8 403.4 1342.9 402.5 1342.2 401.6 1341.5 400.4 1340.6 399.3 1339.6 398.1 1338.7 396.9 1337.8 395.7 1336.8 394.6 1335.9 393.4 1335.0 392.2 1334.1 391.1 1333.2 390.5 1332.7 389.3 1331.7 388.1 1330.8 386.9 1329.9 385.8 1329.0 384.6 1328.0 383.4 1327.1 382.2 1326.2 381.7 1325.7" fill="none" stroke="#0fbdbd" stroke-width="1.05"/><path d="M63.9 1458.1 65.2 1459.0 66.6 1459.9 67.6 1460.5 68.6 1461.2 69.9 1462.0 71.3 1462.9 72.6 1463.7 73.9 1464.6 75.3 1465.4 76.6 1466.3 78.0 1467.2 79.3 1468.0 80.6 1468.9 81.4 1469.4 82.6 1470.2 84.0 1471.0 85.3 1471.9 86.7 1472.7 88.0 1473.6 89.3 1474.5 90.7 1475.3 92.0 1476.2 93.4 1477.0 94.7 1477.9 95.4 1478.3 96.7 1479.2 98.0 1480.0 99.4 1480.9 100.7 1481.8 102.1 1482.6 103.4 1483.5 104.7 1484.3 106.1 1485.2 107.4 1486.0 108.7 1486.8 109.4 1487.3 110.8 1488.2 112.1 1489.1 113.5 1489.9 114.8 1490.8 116.1 1491.6 117.5 1492.5 118.8 1493.3 120.2 1494.2 121.5 1495.1 122.2 1495.5 123.5 1496.3 124.8 1497.2 126.2 1498.1 127.5 1498.9 128.9 1499.8 130.2 1500.6 131.6 1501.5 132.9 1502.3 134.2 1503.2 135.4 1503.9 136.3 1504.5 137.6 1505.3 138.9 1506.2 140.3 1507.1 141.6 1507.9 143.0 1508.8 144.3 1509.6 145.7 1510.5 147.0 1511.3 148.3 1512.2 149.0 1512.6 150.4 1513.5 151.7 1514.3 153.0 1515.2 154.4 1516.1 155.7 1516.9 157.1 1517.8 158.4 1518.6 159.8 1519.5 161.1 1520.3 161.8 1520.8 163.1 1521.6 164.5 1522.5 165.8 1523.3 167.1 1524.2 168.5 1525.0 169.8 1525.9 171.2 1526.8 172.5 1527.6 173.9 1528.5 174.5 1528.9 175.9 1529.8 177.2 1530.6 178.6 1531.5 179.9 1532.3 181.3 1533.2 182.6 1534.0 184.0 1534.9 185.3 1535.7 186.6 1536.6 187.3 1537.0 188.7 1537.9 190.0 1538.7 191.4 1539.6 192.7 1540.5 194.1 1541.3 195.4 1542.2 196.7 1543.0 198.1 1543.9 199.4 1544.7 200.1 1545.2 201.5 1546.0 202.8 1546.9 204.2 1547.7 205.5 1548.6 206.8 1549.4 208.2 1550.3 209.5 1551.1 210.9 1552.0 212.2 1552.9 212.9 1553.3 214.3 1554.1 215.6 1555.0 217.0 1555.8 218.3 1556.7 219.6 1557.6 221.0 1558.4 222.3 1559.3 223.7 1560.1 224.7 1560.8 225.7 1561.4 227.1 1562.3 228.4 1563.1 229.8 1564.0 231.1 1564.8 232.5 1565.7 233.8 1566.5 235.2 1567.4 236.5 1568.2 237.2 1568.7 238.5 1569.5 239.9 1570.4 241.2 1571.2 242.6 1572.1 243.9 1572.9 245.3 1573.8 246.6 1574.6 248.0 1575.5 249.1 1576.2 250.0 1576.8 251.4 1577.6 252.7 1578.5 254.1 1579.3 255.4 1580.2 256.8 1581.0 258.1 1581.9 259.5 1582.7 260.8 1583.6 261.5 1584.0 262.8 1584.9 264.2 1585.7 265.5 1586.6 266.9 1587.4 268.2 1588.3 269.6 1589.1 271.0 1590.0 272.3 1590.9 273.1 1591.4 274.3 1592.1 275.7 1593.0 277.0 1593.8 278.4 1594.7 279.7 1595.5 281.1 1596.4 282.4 1597.2 283.8 1598.1 284.9 1598.8 285.8 1599.4 287.2 1600.2 288.5 1601.1 289.9 1601.9 291.2 1602.8 292.6 1603.6 294.0 1604.5 295.3 1605.3 296.6 1606.2 297.3 1606.6 298.7 1607.5 300.0 1608.3 301.4 1609.2 302.8 1610.0 304.1 1610.9 305.5 1611.7 306.8 1612.6 308.2 1613.4 308.9 1613.9 310.2 1614.7 311.6 1615.6 312.9 1616.4 314.3 1617.3 315.6 1618.1 317.0 1619.0 318.3 1619.8 319.7 1620.7 320.4 1621.1 321.7 1622.0 323.1 1622.8 324.4 1623.7 325.8 1624.5 327.2 1625.4 328.5 1626.2 329.9 1627.1 331.1 1627.8 331.9 1628.3 333.3 1629.2" fill="none" stroke="#79cb5e" stroke-width="1.05"/><path d="M625.9 1507.2 624.8 1506.3 624.1 1505.7 623.0 1504.9 621.9 1503.9 620.7 1503.0 619.6 1502.1 618.4 1501.1 617.2 1500.2 616.1 1499.3 614.9 1498.3 614.3 1497.9 613.2 1497.0 612.0 1496.0 610.8 1495.1 609.7 1494.2 608.5 1493.2 607.4 1492.3 606.2 1491.4 605.0 1490.4 604.5 1490.0 603.3 1489.0 602.1 1488.1 601.0 1487.2 599.8 1486.2 598.6 1485.3 597.5 1484.4 596.3 1483.4 595.2 1482.5 594.6 1482.0 593.4 1481.1 592.3 1480.2 591.1 1479.2 589.9 1478.3 588.8 1477.4 587.6 1476.4 586.4 1475.5 585.3 1474.6 584.5 1474.0 583.5 1473.2 582.4 1472.3 581.2 1471.3 580.0 1470.4 578.9 1469.5 577.7 1468.5 576.5 1467.6 575.4 1466.7 574.3 1465.8 573.6 1465.3 572.5 1464.3 571.3 1463.4 570.1 1462.5 569.0 1461.5 567.8 1460.6 566.6 1459.7 565.5 1458.8 564.3 1457.8 563.7 1457.4 562.6 1456.4 561.4 1455.5 560.2 1454.6 559.1 1453.6 557.9 1452.7 556.7 1451.8 555.6 1450.8 554.4 1449.9 553.7 1449.3 552.6 1448.5 551.5 1447.6 550.3 1446.7 549.1 1445.7 548.0 1444.8 546.8 1443.9 545.6 1442.9 544.5 1442.0 543.3 1441.1 542.7 1440.6 541.6 1439.7 540.4 1438.8 539.2 1437.8 538.1 1436.9 536.9 1436.0 535.7 1435.0 534.6 1434.1 533.4 1433.2 532.5 1432.5 531.6 1431.8 530.5 1430.8 529.3 1429.9 528.1 1429.0 527.0 1428.1 525.8 1427.1 524.6 1426.2 523.4 1425.3 522.3 1424.3 521.7 1423.9 520.5 1423.0 519.4 1422.0 518.2 1421.1 517.0 1420.2 515.8 1419.2 514.7 1418.3 513.5 1417.4 512.3 1416.4 511.2 1415.5 510.6 1415.1 509.4 1414.1 508.2 1413.2 507.1 1412.3 505.9 1411.3 504.7 1410.4 503.6 1409.5 502.4 1408.6 501.2 1407.6 500.0 1406.7 499.5 1406.2 498.3 1405.3 497.1 1404.4 495.9 1403.4 494.8 1402.5 493.6 1401.6 492.4 1400.7 491.3 1399.7 490.1 1398.8 488.9 1397.9 488.3 1397.4 487.2 1396.5 486.0 1395.6 484.8 1394.6 483.6 1393.7 482.5 1392.8 481.3 1391.9 480.1 1390.9 478.9 1390.0 477.8 1389.1 477.2 1388.6 476.0 1387.7 474.8 1386.7 473.7 1385.8 472.5 1384.9 471.3 1384.0 470.1 1383.0 469.0 1382.1 467.8 1381.2 466.6 1380.3 466.0 1379.8 464.9 1378.9 463.7 1377.9 462.5 1377.0 461.3 1376.1 460.2 1375.2 459.0 1374.2 457.8 1373.3 456.6 1372.4 455.5 1371.4 454.7 1370.8 453.7 1370.1 452.5 1369.1 451.4 1368.2 450.2 1367.3 449.0 1366.4 447.8 1365.4 446.6 1364.5 445.5 1363.6 444.3 1362.6 443.1 1361.7 442.5 1361.3 441.4 1360.3 440.2 1359.4 439.0 1358.5 437.8 1357.6 436.7 1356.6 435.5 1355.7 434.3 1354.8 433.1 1353.8 431.9 1352.9 431.3 1352.4 430.2 1351.5 429.0 1350.6 427.8 1349.7 426.7 1348.8 425.5 1347.8 424.3 1346.9 423.1 1346.0 421.9 1345.0 420.8 1344.1 419.6 1343.2 419.0 1342.7 417.8 1341.8 416.6 1340.9 415.5 1340.0 414.3 1339.0 413.1 1338.1 411.9 1337.2 410.8 1336.3 409.6 1335.3 408.4 1334.4 407.3 1333.5 406.6 1333.0 405.5 1332.1 404.3 1331.2 403.1 1330.2 401.9 1329.3 400.7 1328.4 399.6 1327.5 398.4 1326.5 397.2 1325.6 396.0 1324.7 395.1 1324.0 394.3 1323.3 393.1 1322.4 391.9 1321.5" fill="none" stroke="#79cb5e" stroke-width="1.05"/><path d="M189.0 1547.5 189.2 1547.6 189.8 1548.0 190.5 1548.5 191.2 1548.9 191.8 1549.3 192.5 1549.7 193.2 1550.2 193.9 1550.6 194.5 1551.0 195.2 1551.5 195.9 1551.9 196.5 1552.3 197.2 1552.7 197.9 1553.2 198.6 1553.6 199.2 1554.0 199.9 1554.5 200.6 1554.9 201.2 1555.3 201.9 1555.7 202.2 1556.0 202.6 1556.2 203.3 1556.6 203.9 1557.0 204.6 1557.5 205.3 1557.9 205.9 1558.3 206.6 1558.7 207.3 1559.2 208.0 1559.6 208.6 1560.0 209.3 1560.5 210.0 1560.9 210.6 1561.3 211.3 1561.7 212.0 1562.2 212.7 1562.6 213.3 1563.0 214.0 1563.5 214.7 1563.9 215.3 1564.3 215.3 1564.3 216.0 1564.7 216.7 1565.2 217.4 1565.6 218.0 1566.0 218.7 1566.4 219.4 1566.9 220.0 1567.3 220.7 1567.7 221.4 1568.2 222.1 1568.6 222.7 1569.0 223.4 1569.4 224.1 1569.9 224.7 1570.3 225.4 1570.7 226.1 1571.2 226.8 1571.6 227.4 1572.0 228.1 1572.4 228.3 1572.6 228.8 1572.9 229.4 1573.3 230.1 1573.7 230.8 1574.2 231.5 1574.6 232.1 1575.0 232.8 1575.4 233.5 1575.9 234.2 1576.3 234.8 1576.7 235.5 1577.2 236.2 1577.6 236.8 1578.0 237.5 1578.4 238.2 1578.9 238.9 1579.3 239.5 1579.7 240.2 1580.2 240.9 1580.6 241.2 1580.8 241.5 1581.0 242.2 1581.4 242.9 1581.9 243.6 1582.3 244.2 1582.7 244.9 1583.1 245.6 1583.6 246.3 1584.0 246.9 1584.4 247.6 1584.9 248.3 1585.3 248.9 1585.7 249.6 1586.1 250.3 1586.6 251.0 1587.0 251.6 1587.4 252.3 1587.9 253.0 1588.3 253.7 1588.7 253.9 1588.9 254.3 1589.1 255.0 1589.6 255.7 1590.0 256.3 1590.4 257.0 1590.8 257.7 1591.3 258.4 1591.7 259.0 1592.1 259.7 1592.6 260.4 1593.0 261.1 1593.4 261.7 1593.8 262.4 1594.3 263.1 1594.7 263.8 1595.1 264.4 1595.6 265.1 1596.0 265.8 1596.4 266.4 1596.8 266.6 1596.9 267.1 1597.3 267.8 1597.7 268.5 1598.1 269.1 1598.5 269.8 1599.0 270.5 1599.4 271.2 1599.8 271.8 1600.3 272.5 1600.7 273.2 1601.1 273.9 1601.5 274.5 1602.0 275.2 1602.4 275.9 1602.8 276.5 1603.2 277.2 1603.7 277.9 1604.1 278.6 1604.5 279.1 1604.9 279.2 1605.0 279.9 1605.4 280.6 1605.8 281.3 1606.2 281.9 1606.7 282.6 1607.1 283.3 1607.5 284.0 1608.0 284.6 1608.4 285.3 1608.8 286.0 1609.2 286.7 1609.7 287.3 1610.1 288.0 1610.5 288.7 1610.9 289.4 1611.4 290.0 1611.8 290.7 1612.2 291.4 1612.7 291.5 1612.7 292.0 1613.1 292.7 1613.5 293.4 1613.9 294.1 1614.4 294.7 1614.8 295.4 1615.2 296.1 1615.6 296.8 1616.1 297.4 1616.5 298.1 1616.9 298.8 1617.4 299.5 1617.8 300.1 1618.2 300.8 1618.6 301.5 1619.1 302.2 1619.5 302.8 1619.9 303.5 1620.3 303.8 1620.5 304.2 1620.8 304.9 1621.2 305.5 1621.6 306.2 1622.0 306.9 1622.5 307.6 1622.9 308.2 1623.3 308.9 1623.8 309.6 1624.2 310.3 1624.6 310.9 1625.0 311.6 1625.5 312.3 1625.9 313.0 1626.3 313.6 1626.7 314.3 1627.2 315.0 1627.6 315.7 1628.0 316.0 1628.2 316.3 1628.5 317.0 1628.9 317.7 1629.3 318.4 1629.7 319.0 1630.2 319.7 1630.6 320.4 1631.0 321.1 1631.4 321.7 1631.9 322.4 1632.3 323.1 1632.7 323.8 1633.1" fill="none" stroke="#e9c438" stroke-width="1.05"/><path d="M635.4 1503.3 634.9 1502.8 634.3 1502.3 633.7 1501.9 633.1 1501.4 632.5 1500.9 631.9 1500.5 631.4 1500.0 630.8 1499.5 630.2 1499.1 629.6 1498.6 629.0 1498.1 628.7 1497.9 628.4 1497.7 627.9 1497.2 627.3 1496.7 626.7 1496.3 626.1 1495.8 625.5 1495.3 624.9 1494.9 624.4 1494.4 623.8 1493.9 623.2 1493.5 622.6 1493.0 622.0 1492.6 621.4 1492.1 620.9 1491.6 620.3 1491.2 619.7 1490.7 619.1 1490.2 618.5 1489.8 618.2 1489.5 617.9 1489.3 617.3 1488.8 616.8 1488.4 616.2 1487.9 615.6 1487.4 615.0 1487.0 614.4 1486.5 613.8 1486.0 613.3 1485.6 612.7 1485.1 612.1 1484.7 611.5 1484.2 610.9 1483.7 610.3 1483.3 609.8 1482.8 609.2 1482.3 608.6 1481.9 608.0 1481.4 607.5 1481.0 607.4 1480.9 606.8 1480.5 606.3 1480.0 605.7 1479.5 605.1 1479.1 604.5 1478.6 603.9 1478.1 603.3 1477.7 602.7 1477.2 602.2 1476.8 601.6 1476.3 601.0 1475.8 600.4 1475.4 599.8 1474.9 599.2 1474.4 598.7 1474.0 598.1 1473.5 597.5 1473.0 596.9 1472.6 596.8 1472.5 596.3 1472.1 595.7 1471.6 595.1 1471.2 594.6 1470.7 594.0 1470.2 593.4 1469.8 592.8 1469.3 592.2 1468.9 591.6 1468.4 591.0 1467.9 590.5 1467.5 589.9 1467.0 589.3 1466.5 588.7 1466.1 588.1 1465.6 587.5 1465.1 587.0 1464.7 586.4 1464.2 585.9 1463.8 585.8 1463.7 585.2 1463.3 584.6 1462.8 584.0 1462.4 583.4 1461.9 582.9 1461.4 582.3 1461.0 581.7 1460.5 581.1 1460.0 580.5 1459.6 579.9 1459.1 579.3 1458.6 578.8 1458.2 578.2 1457.7 577.6 1457.2 577.0 1456.8 576.4 1456.3 575.8 1455.9 575.2 1455.4 574.9 1455.1 574.7 1454.9 574.1 1454.5 573.5 1454.0 572.9 1453.5 572.3 1453.1 571.7 1452.6 571.1 1452.1 570.6 1451.7 570.0 1451.2 569.4 1450.7 568.8 1450.3 568.2 1449.8 567.6 1449.4 567.0 1448.9 566.5 1448.4 565.9 1448.0 565.3 1447.5 564.7 1447.0 564.1 1446.6 563.8 1446.3 563.5 1446.1 562.9 1445.6 562.4 1445.2 561.8 1444.7 561.2 1444.2 560.6 1443.8 560.0 1443.3 559.4 1442.9 558.8 1442.4 558.3 1441.9 557.7 1441.5 557.1 1441.0 556.5 1440.5 555.9 1440.1 555.3 1439.6 554.7 1439.1 554.2 1438.7 553.6 1438.2 553.0 1437.8 552.6 1437.4 552.4 1437.3 551.8 1436.8 551.2 1436.4 550.6 1435.9 550.0 1435.4 549.5 1435.0 548.9 1434.5 548.3 1434.0 547.7 1433.6 547.1 1433.1 546.5 1432.7 545.9 1432.2 545.4 1431.7 544.8 1431.3 544.2 1430.8 543.6 1430.3 543.0 1429.9 542.4 1429.4 541.8 1428.9 541.3 1428.5 541.2 1428.5 540.7 1428.0 540.1 1427.6 539.5 1427.1 538.9 1426.6 538.3 1426.2 537.7 1425.7 537.1 1425.2 536.5 1424.8 536.0 1424.3 535.4 1423.8 534.8 1423.4 534.2 1422.9 533.6 1422.5 533.0 1422.0 532.4 1421.5 531.9 1421.1 531.3 1420.6 530.7 1420.1 530.1 1419.7 529.8 1419.4 529.5 1419.2 528.9 1418.7 528.3 1418.3 527.7 1417.8 527.2 1417.4 526.6 1416.9 526.0 1416.4 525.4 1416.0 524.8 1415.5 524.2 1415.0 523.6 1414.6 523.0 1414.1 522.5 1413.6 521.9 1413.2 521.3 1412.7 520.7 1412.3 520.1 1411.8 519.5 1411.3 518.9 1410.9 518.3 1410.4 518.2 1410.3" fill="none" stroke="#e9c438" stroke-width="1.05"/><path d="M305.6 1630.2 306.2 1630.5 306.9 1631.0 307.6 1631.4 308.2 1631.8 308.9 1632.3 309.6 1632.7 310.3 1633.1 310.9 1633.5 311.6 1634.0 312.3 1634.4 313.0 1634.8 313.6 1635.2 314.3 1635.7 315.0 1636.1 315.6 1636.5" fill="none" stroke="#f9f816" stroke-width="1.05"/><path d="M643.6 1499.9 643.0 1499.4 642.4 1498.9 641.8 1498.5 641.2 1498.0 640.6 1497.5 640.0 1497.1 639.5 1496.6 638.9 1496.2 638.3 1495.7 637.7 1495.2 637.1 1494.8 636.5 1494.3 635.9 1493.8 635.4 1493.4 634.8 1493.0" fill="none" stroke="#f9f816" stroke-width="1.05"/><g transform="scale(0.1)" stroke-width="9" stroke-linejoin="round"><path fill="#3f28ae" stroke="#3f28ae" d="M3564 14601l33-13-84-60-33 14zM3513 14528l33-13-84-60-33 14zM3531 14615l33-14-84-59-33 13zM3546 14515l33-14-84-60-33 14zM3597 14588l33-14-84-59-33 13zM3480 14542l33-14-84-59-33 13zM3583 14688l33-14-85-59-33 14zM3616 14674l33-13-85-60-33 14zM3462 14455l33-14-84-59-33 13zM3550 14702l33-14-85-59-33 13zM3498 14629l33-14-84-60-33 14zM3495 14441l33-14-84-59-33 14zM3649 14661l33-14-85-59-33 13zM3517 14715l33-13-85-60-33 14zM3601 14775l33-14-84-59-33 13zM3634 14761l33-14-84-59-33 14zM3568 14788l33-13-84-60-33 14zM3667 14747l33-14-84-59-33 14zM3630 14574l33-15-84-58-33 14zM3579 14501l33-15-84-59-33 14zM3444 14368l33-14-85-60-33 14zM3682 14647l33-15-85-58-33 14zM3700 14733l33-14-84-58-33 13zM3528 14427l33-14-84-59-33 14zM3619 14861l33-14-84-59-33 14zM3586 14874l33-13-84-59-33 14zM3652 14847l33-14-84-58-33 13zM3685 14833l33-14-84-58-33 14zM3733 14719l33-14-84-58-33 14zM3718 14819l33-13-84-59-33 14zM3663 14559l33-14-84-59-33 15zM3751 14806l33-14-84-59-33 14zM3715 14632l32-14-84-59-33 15zM3477 14354l32-15-84-59-33 14zM3612 14486l33-15-84-58-33 14zM3784 14792l33-15-84-58-33 14zM3766 14705l33-15-84-58-33 15zM3703 14919l33-14-84-58-33 14zM3670 14933l33-14-84-58-33 13zM3736 14905l33-13-84-59-33 14zM3638 14946l32-13-84-59-33 14zM3561 14413l33-16-85-58-32 15zM3769 14892l33-14-84-59-33 14zM3605 14960l33-14-85-58-33 13zM3425 14280l33-15-84-59-33 15zM3802 14878l33-14-84-58-33 13zM3817 14777l33-14-84-58-33 14zM3747 14618l33-16-84-57-33 14zM3696 14545l33-16-84-58-33 15zM3835 14864l33-14-84-58-33 14zM3799 14690l33-15-85-57-32 14zM3509 14339l33-16-84-58-33 15zM3645 14471l33-15-84-59-33 16zM3868 14850l33-15-84-58-33 15zM3850 14763l33-15-84-58-33 15zM3788 14977l33-14-85-58-33 14zM3755 14991l33-14-85-58-33 14zM3821 14963l33-14-85-57-33 13zM3722 15004l33-13-85-58-32 13zM3854 14949l33-13-85-58-33 14zM3689 15018l33-14-84-58-33 14zM3594 14397l33-16-85-58-33 16zM3887 14936l33-15-85-57-33 14zM3656 15031l33-13-84-58-33 13zM3458 14265l33-16-84-59-33 16zM3901 14835l33-15-84-57-33 14zM3832 14675l33-15-85-58-33 16zM3780 14602l33-15-84-58-33 16zM3920 14921l33-14-85-57-33 14zM3623 15044l33-13-84-58-33 13zM3883 14748l33-15-84-58-33 15zM3729 14529l33-16-84-57-33 15zM3542 14323l33-16-84-58-33 16zM3872 15035l33-14-84-58-33 14zM3839 15048l33-13-84-58-33 14zM3953 14907l33-15-85-57-33 15zM3934 14820l33-15-84-57-33 15zM3905 15021l33-14-84-58-33 14zM3806 15062l33-14-84-57-33 13zM3678 14456l33-17-84-58-33 16zM3938 15007l33-14-84-57-33 13zM3773 15075l33-13-84-58-33 14zM3407 14190l33-16-84-58-33 16zM3971 14993l33-14-84-58-33 15zM3740 15088l33-13-84-57-33 13zM3986 14892l32-14-84-58-33 15zM3865 14660l33-16-85-57-33 15zM3916 14733l33-16-84-57-33 15zM3813 14587l33-17-84-57-33 16zM3627 14381l33-16-85-58-33 16zM4004 14979l33-15-84-57-33 14zM3707 15101l33-13-84-57-33 13zM3491 14249l33-17-84-58-33 16zM3967 14805l33-15-84-57-33 15zM3762 14513l33-17-84-57-33 17zM3956 15092l33-14-84-57-33 14zM3923 15105l33-13-84-57-33 13zM4037 14964l33-15-84-57-33 15zM3674 15113l33-12-84-57-33 13zM3989 15078l33-14-84-57-33 14zM3890 15119l33-14-84-57-33 14zM4018 14878l33-16-84-57-33 15zM4022 15064l33-14-84-57-33 14zM3857 15132l33-13-84-57-33 13zM3575 14307l33-18-84-57-33 17zM4055 15050l33-15-84-56-33 14zM3824 15145l33-13-84-57-33 13zM3711 14439l33-17-84-57-33 16zM3949 14717l33-16-84-57-33 16zM4070 14949l33-15-85-56-32 14zM4000 14790l33-16-84-57-33 16zM3440 14174l33-18-84-57-33 17zM3898 14644l33-17-85-57-33 17zM4088 15035l33-14-84-57-33 15zM3791 15158l33-13-84-57-33 13zM4051 14862l33-16-84-56-33 15zM3846 14570l33-17-84-57-33 17zM4040 15148l33-13-84-57-33 14zM4007 15162l33-14-84-56-33 13zM3660 14365l33-18-85-58-33 18zM4073 15135l33-14-84-57-33 14zM3974 15175l33-13-84-57-33 14zM4121 15021l33-15-84-57-33 15zM3758 15170l33-12-84-57-33 12zM4103 14934l33-15-85-57-33 16zM3524 14232l33-18-84-58-33 18zM4106 15121l33-15-84-56-33 14zM3941 15188l33-13-84-56-33 13zM3795 14496l33-18-84-56-33 17zM4139 15106l33-14-84-57-33 15zM3909 15201l32-13-84-56-33 13zM4033 14774l33-17-84-56-33 16zM3389 14099l33-19-85-58-33 18zM4154 15006l33-15-84-57-33 15zM3982 14701l33-18-84-56-33 17zM3725 15182l33-12-84-57-33 13zM4084 14846l33-16-84-56-33 16zM4172 15092l33-15-84-56-33 14zM3876 15214l33-13-85-56-33 13zM3931 14627l33-18-85-56-33 17zM4136 14919l33-16-85-57-33 16zM3608 14289l33-18-84-57-33 18zM3744 14422l33-19-84-56-33 18zM4125 15205l33-14-85-56-33 13zM4092 15218l33-13-85-57-33 14zM4158 15191l33-14-85-56-33 14zM4059 15231l33-13-85-56-33 13zM3473 14156l33-19-84-57-33 19zM4205 15077l33-15-84-56-33 15zM3843 15226l33-12-85-56-33 12zM4187 14991l33-16-84-56-33 15zM3692 15193l33-11-84-56-33 11zM3879 14553l33-18-84-57-33 18zM4191 15177l33-15-85-56-33 15zM4026 15244l33-13-85-56-33 13zM4224 15162l33-14-85-56-33 14zM3993 15257l33-13-85-56-32 13zM4117 14830l33-17-84-56-33 17zM4066 14757l33-18-84-56-33 18zM3693 14347l33-20-85-56-33 18zM4238 15062l33-16-84-55-33 15zM3810 15238l33-12-85-56-33 12zM4169 14903l33-17-85-56-33 16zM3828 14478l33-18-84-57-33 19zM3557 14214l33-20-84-57-33 19zM4015 14683l33-18-84-56-33 18zM4257 15148l32-15-84-56-33 15zM3960 15270l33-13-84-56-33 13zM4220 14975l33-17-84-55-33 16zM4209 15260l33-13-84-56-33 14zM4176 15274l33-14-84-55-33 13zM3964 14609l33-18-85-56-33 18zM4242 15247l33-14-84-56-33 14zM4143 15287l33-13-84-56-33 13zM3422 14080l33-20-85-57-33 19zM4289 15133l33-15-84-56-33 15zM3927 15282l33-12-84-56-33 12zM4271 15046l33-16-84-55-33 16zM3777 15249l33-11-85-56-33 11zM4275 15233l33-15-84-56-33 15zM4110 15300l33-13-84-56-33 13zM3777 14403l33-19-84-57-33 20zM3641 14271l33-20-84-57-33 20zM4308 15218l33-15-84-55-33 14zM4077 15313l33-13-84-56-33 13zM4202 14886l33-18-85-55-33 17zM4150 14813l33-18-84-56-33 18zM3912 14535l33-20-84-55-33 18zM4253 14958l33-17-84-55-33 17zM4322 15118l33-16-84-56-33 16zM3894 15293l33-11-84-56-33 12zM4099 14739l33-18-84-56-33 18zM3506 14137l33-20-84-57-33 20zM4341 15203l33-15-85-55-32 15zM4044 15325l33-12-84-56-33 13zM4304 15030l33-16-84-56-33 17zM3744 15260l33-11-85-56-33 11zM4048 14665l33-19-84-55-33 18zM4293 15316l33-14-84-55-33 13zM4260 15329l33-13-84-56-33 14zM4326 15302l33-14-84-55-33 14zM4227 15343l33-14-84-55-33 13zM4374 15188l33-15-85-55-33 15zM4011 15337l33-12-84-55-33 12zM3726 14327l33-20-85-56-33 20zM4355 15102l33-17-84-55-33 16zM3861 15304l33-11-84-55-33 11zM3861 14460l33-21-84-55-33 19zM3370 14003l33-21-84-57-33 21zM4359 15288l33-15-84-55-33 15zM4194 15355l33-12-84-56-33 13zM3590 14194l33-21-84-56-33 20zM3997 14591l33-20-85-56-33 20zM4392 15273l33-14-84-56-33 15zM4161 15368l33-13-84-55-33 13zM4286 14941l33-18-84-55-33 18zM4235 14868l33-18-85-55-33 18zM4337 15014l33-18-84-55-33 17zM3711 15270l33-10-85-56-33 11zM4407 15173l33-16-85-55-33 16zM3978 15348l33-11-84-55-33 11zM4183 14795l33-19-84-55-33 18zM4425 15259l33-16-84-55-33 15zM4128 15380l33-12-84-55-33 12zM3455 14060l33-21-85-57-33 21zM4388 15085l33-17-84-54-33 16zM3828 15315l33-11-84-55-33 11zM4132 14721l33-20-84-55-33 19zM3810 14384l33-22-84-55-33 20zM4377 15371l33-14-84-55-33 14zM4344 15384l33-13-84-55-33 13zM3945 14515l33-20-84-56-33 21zM3674 14251l33-22-84-56-33 21zM4410 15357l33-14-84-55-33 14zM4311 15397l33-13-84-55-33 14zM4458 15243l33-15-84-55-33 15zM4095 15392l33-12-84-55-33 12zM4440 15157l33-17-85-55-33 17zM3945 15359l33-11-84-55-33 11zM4443 15343l33-15-84-55-33 15zM4278 15410l33-13-84-54-33 12zM4081 14646l33-20-84-55-33 20zM3539 14117l33-22-84-56-33 21zM4476 15328l33-15-84-54-33 14zM4245 15423l33-13-84-55-33 13zM4319 14923l33-18-84-55-33 18zM4370 14996l33-18-84-55-33 18zM4421 15068l33-17-84-55-33 18zM3795 15324l33-9-84-55-33 10zM4268 14850l33-19-85-55-33 19zM4491 15228l33-17-84-54-33 16zM4062 15403l33-11-84-55-33 11zM3894 14439l33-22-84-55-33 22zM4509 15313l33-15-84-55-33 16zM4212 15435l33-12-84-55-33 12zM3759 14307l33-23-85-55-33 22zM4473 15140l33-17-85-55-33 17zM3912 15369l33-10-84-55-33 11zM4216 14776l33-20-84-55-33 20zM4030 14571l33-22-85-54-33 20zM3403 13982l33-23-84-56-33 22zM4462 15425l33-14-85-54-33 14zM4429 15439l33-14-85-54-33 13zM4495 15411l33-14-85-54-33 14zM4396 15452l33-13-85-55-33 13zM3623 14173l33-23-84-55-33 22zM4542 15298l33-16-84-54-33 15zM4180 15446l32-11-84-55-33 12zM4524 15211l33-17-84-54-33 17zM4029 15413l33-10-84-55-33 11zM4528 15397l32-14-84-55-33 15zM4363 15465l33-13-85-55-33 13zM4165 14701l33-21-84-54-33 20zM4403 14978l33-19-84-54-33 18zM4560 15383l33-16-84-54-33 15zM4330 15477l33-12-85-55-33 13zM4454 15051l33-19-84-54-33 18zM3762 15333l33-9-84-54-33 9zM4352 14905l33-20-84-54-33 19zM3488 14039l33-24-85-56-33 23zM3978 14495l33-23-84-55-33 22zM4506 15123l33-18-85-54-33 17zM3879 15378l33-9-84-54-33 9zM3843 14362l33-23-84-55-33 23zM4575 15282l33-17-84-54-33 17zM4147 15457l33-11-85-54-33 11zM4593 15367l33-15-84-54-33 15zM4297 15489l33-12-85-54-33 12zM4114 14626l33-22-84-55-33 22zM4301 14831l33-21-85-54-33 20zM3707 14229l33-24-84-55-33 23zM4557 15194l33-17-84-54-33 17zM3996 15423l33-10-84-54-33 10zM4546 15479l33-13-84-55-33 14zM4513 15493l33-14-84-54-33 14zM4579 15466l33-15-84-54-33 14zM4480 15506l33-13-84-54-33 13zM4626 15352l33-16-84-54-33 16zM4264 15500l33-11-85-54-32 11zM4608 15265l33-17-84-54-33 17zM4114 15467l33-10-85-54-33 10zM4249 14756l33-22-84-54-33 21zM3572 14095l33-25-84-55-33 24zM4612 15451l33-15-85-53-32 14zM3352 13903l33-25-84-55-33 23zM4447 15519l33-13-84-54-33 13zM3927 14417l33-23-84-55-33 23zM4487 15032l33-19-84-54-33 19zM4539 15105l33-19-85-54-33 19zM3846 15387l33-9-84-54-33 9zM4645 15436l33-15-85-54-33 16zM4414 15531l33-12-84-54-33 12zM4063 14549l32-23-84-54-33 23zM4436 14959l33-20-84-54-33 20zM3792 14284l32-24-84-55-33 24zM4590 15177l33-18-84-54-33 18zM3963 15432l33-9-84-54-33 9zM4659 15336l33-17-84-54-33 17zM4231 15511l33-11-84-54-33 11zM4198 14680l33-22-84-54-33 22zM4678 15421l33-15-85-54-33 15zM4381 15542l33-11-84-54-33 12zM4385 14885l33-21-84-54-33 21zM3436 13959l33-25-84-56-33 25zM4641 15248l33-18-84-53-33 17zM4081 15477l33-10-85-54-33 10zM3656 14150l33-25-84-55-33 25zM4630 15533l33-14-84-53-33 13zM4597 15547l33-14-84-54-33 14zM4663 15519l33-14-84-54-33 15zM4564 15560l33-13-84-54-33 13zM4334 14810l32-22-84-54-33 22zM4711 15406l33-17-85-53-33 16zM4348 15553l33-11-84-53-33 11zM4692 15319l33-17-84-54-33 17zM4198 15520l33-9-84-54-33 10zM4696 15505l33-15-84-54-33 15zM4531 15572l33-12-84-54-33 13zM4011 14472l33-24-84-54-33 23zM4147 14604l33-24-85-54-32 23zM3876 14339l33-24-85-55-32 24zM4572 15086l33-20-85-53-33 19zM3813 15394l33-7-84-54-33 8zM4623 15159l33-20-84-53-33 19zM3930 15440l33-8-84-54-33 9zM4729 15490l33-15-84-54-33 15zM4498 15584l33-12-84-53-33 12zM3521 14015l33-26-85-55-33 25zM4520 15013l33-21-84-53-33 20zM4674 15230l33-18-84-53-33 18zM4048 15485l33-8-85-54-33 9zM4282 14734l33-23-84-53-33 22zM4744 15389l33-17-85-53-33 17zM4315 15564l33-11-84-53-33 11zM3740 14205l33-25-84-55-33 25zM4469 14939l33-22-84-53-33 21zM4762 15475l33-16-84-53-33 15zM4465 15596l33-12-84-53-33 11zM4725 15302l33-18-84-54-33 18zM4165 15530l33-10-84-53-33 10zM4714 15586l33-14-84-53-33 14zM4681 15600l33-14-84-53-33 14zM4418 14864l33-23-85-53-32 22zM4747 15572l33-14-84-53-33 14zM4648 15613l33-13-84-53-33 13zM4095 14526l33-24-84-54-33 24zM4795 15459l33-17-84-53-33 17zM4432 15606l33-10-84-54-33 11zM3605 14070l33-26-84-55-33 26zM4777 15372l33-17-85-53-33 17zM4282 15573l33-9-84-53-33 9zM3960 14394l33-26-84-53-33 24zM3385 13878l33-26-84-56-33 27zM4780 15558l33-15-84-53-33 15zM4615 15625l33-12-84-53-33 12zM4231 14658l33-24-84-54-33 24zM4656 15139l33-20-84-53-33 20zM3897 15447l33-7-84-53-33 7zM3824 14260l33-26-84-54-33 25zM4707 15212l33-20-84-53-33 20zM4015 15493l33-8-85-53-33 8zM4813 15543l33-15-84-53-33 15zM4582 15637l33-12-84-53-33 12zM4605 15066l32-21-84-53-33 21zM3780 15400l33-6-84-53-33 6zM4366 14788l33-23-84-54-33 23zM4758 15284l33-19-84-53-33 18zM4132 15538l33-8-84-53-33 8zM4828 15442l33-17-84-53-33 17zM4399 15617l33-11-84-53-33 11zM4553 14992l33-22-84-53-33 22zM4846 15528l33-16-84-53-33 16zM4549 15648l33-11-84-53-33 12zM3469 13934l33-27-84-55-33 26zM4810 15355l33-19-85-52-33 18zM4249 15582l33-9-84-53-33 10zM3689 14125l33-27-84-54-33 26zM4180 14580l33-25-85-53-33 24zM4798 15639l33-14-84-53-33 14zM4766 15653l32-14-84-53-33 14zM4044 14448l33-26-84-54-33 26zM4502 14917l33-23-84-53-33 23zM4831 15625l33-14-84-53-33 14zM4733 15665l33-12-85-53-33 13zM4879 15512l33-17-84-53-33 17zM4516 15659l33-11-84-52-33 10zM4315 14711l33-24-84-53-33 24zM4861 15425l33-18-84-52-33 17zM4366 15626l33-9-84-53-33 9zM4864 15611l33-15-84-53-33 15zM4700 15678l33-13-85-52-33 12zM3909 14315l33-27-85-54-33 26zM4740 15192l33-21-84-52-33 20zM3982 15499l33-6-85-53-33 7zM4791 15265l33-20-84-53-33 20zM4099 15545l33-7-84-53-33 8zM4897 15596l33-16-84-52-33 15zM4667 15690l33-12-85-53-33 12zM4689 15119l33-22-85-52-32 21zM3864 15453l33-6-84-53-33 6zM3554 13989l32-28-84-54-33 27zM4451 14841l33-24-85-52-33 23zM4843 15336l33-19-85-52-33 19zM4216 15590l33-8-84-52-33 8zM3773 14180l33-28-84-54-33 27zM4912 15495l33-17-84-53-33 17zM4483 15669l33-10-84-53-33 11zM3334 13796l33-28-84-55-33 28zM4637 15045l33-23-84-52-33 22zM4930 15580l33-16-84-52-33 16zM4634 15701l33-11-85-53-33 11zM4894 15407l33-18-84-53-33 19zM4333 15635l33-9-84-53-33 9zM4128 14502l33-27-84-53-33 26zM4264 14634l33-26-84-53-33 25zM4586 14970l33-24-84-52-33 23zM3993 14368l33-27-84-53-33 27zM4399 14765l33-26-84-52-33 24zM4963 15564l33-17-84-52-33 17zM4601 15711l33-10-85-53-33 11zM4945 15478l33-19-84-52-33 18zM4451 15678l32-9-84-52-33 9zM3638 14044l33-29-85-54-32 28zM3418 13852l33-30-84-54-33 28z"/><path fill="#402cb9" stroke="#402cb9" d="M4824 15245l33-22-84-52-33 21zM4066 15551l33-6-84-52-33 6zM3857 14234l33-29-84-53-33 28zM4535 14894l33-24-84-53-33 24zM4876 15317l32-20-84-52-33 20zM4183 15597l33-7-84-52-33 7zM4773 15171l33-22-84-52-33 22zM3949 15505l33-6-85-52-33 6zM4927 15389l33-20-84-52-33 19zM4300 15642l33-7-84-53-33 8zM4996 15547l33-17-84-52-33 17zM4568 15721l33-10-85-52-33 10zM4722 15097l33-23-85-52-33 23zM3832 15457l32-4-84-53-33 5zM4213 14555l33-27-85-53-33 27zM4348 14687l33-27-84-52-33 26zM4978 15459l33-19-84-51-33 18zM4418 15687l33-9-85-52-33 9zM4077 14422l33-28-84-53-33 27zM3502 13907l33-31-84-54-33 30zM3722 14098l33-30-84-53-33 29zM4670 15022l33-24-84-52-33 24zM4484 14817l33-26-85-52-33 26zM5029 15530l33-19-84-52-33 19zM4535 15730l33-9-85-52-32 9zM3942 14288l33-30-85-53-33 29zM4908 15297l33-22-84-52-33 22zM4150 15603l33-6-84-52-33 6zM4619 14946l33-25-84-51-33 24zM4960 15369l33-21-85-51-32 20zM4267 15649l33-7-84-52-33 7zM4857 15223l33-22-84-52-33 22zM4033 15556l33-5-84-52-33 6zM5011 15440l33-20-84-51-33 20zM4385 15694l33-7-85-52-33 7zM3586 13961l33-31-84-54-33 31zM4806 15149l33-23-84-52-33 23zM3916 15509l33-4-85-52-32 4zM4297 14608l33-28-84-52-33 27zM3806 14152l33-31-84-53-33 30zM4432 14739l33-27-84-52-33 27zM4161 14475l33-29-84-52-33 28zM3367 13768l33-32-85-54-32 31zM5062 15511l33-19-84-52-33 19zM4502 15738l33-8-84-52-33 9zM4755 15074l33-24-85-52-33 24zM4568 14870l33-27-84-52-33 26zM4026 14341l33-30-84-53-33 30zM3671 14015l33-32-85-53-33 31zM4703 14998l33-25-84-52-33 25zM4993 15348l33-22-85-51-33 22zM4234 15654l33-5-84-52-33 6zM5044 15420l33-21-84-51-33 21zM4352 15700l33-6-85-52-33 7zM4941 15275l33-23-84-51-33 22zM4117 15608l33-5-84-52-33 5zM3451 13822l33-32-84-54-33 32zM3890 14205l33-31-84-53-33 31zM4381 14660l33-28-84-52-33 28zM5095 15492l33-20-84-52-33 20zM4469 15745l33-7-84-51-33 7zM4246 14528l33-30-85-52-33 29zM4890 15201l33-24-84-51-33 23zM4000 15560l33-4-84-51-33 4zM4517 14791l33-27-85-52-33 27zM4110 14394l33-31-84-52-33 30zM4652 14921l33-27-84-51-33 27zM4839 15126l33-25-84-51-33 24zM3883 15511l33-2-84-52-33 3zM3755 14068l33-32-84-53-33 32zM3535 13876l33-33-84-53-33 32zM3975 14258l33-32-85-52-33 31zM4788 15050l33-26-85-51-33 25zM5077 15399l33-22-84-51-33 22zM4319 15705l33-5-85-51-33 5zM5026 15326l33-23-85-51-33 23zM4201 15658l33-4-84-51-33 5zM5128 15472l33-22-84-51-33 21zM4436 15751l33-6-84-51-33 6zM4465 14712l33-29-84-51-33 28zM3315 13682l33-34-84-53-33 33zM4330 14580l33-30-84-52-33 30zM4601 14843l33-28-84-51-33 27zM4974 15252l33-24-84-51-33 24zM4084 15611l33-3-84-52-33 4zM4194 14446l33-31-84-52-33 31zM3839 14121l33-33-84-52-33 32zM3619 13930l33-34-84-53-33 33zM4736 14973l33-28-84-51-33 27zM4923 15177l33-25-84-51-33 25zM3967 15562l33-2-84-51-33 2zM4059 14311l33-33-84-52-33 32zM3400 13736l33-34-85-54-33 34zM4872 15101l33-27-84-50-33 26zM4550 14764l33-30-85-51-33 29zM5161 15450l33-23-84-50-33 22zM4403 15755l33-4-84-51-33 5zM4414 14632l33-31-84-51-33 30zM5110 15377l33-24-84-50-33 23zM4286 15709l33-4-85-51-33 4zM4685 14894l33-28-84-51-33 28zM4279 14498l33-32-85-51-33 31zM3704 13983l33-35-85-52-33 34zM5059 15303l33-25-85-50-33 24zM4168 15661l33-3-84-50-33 3zM3923 14174l33-34-84-52-33 33zM3484 13790l33-36-84-52-33 34zM4821 15024l33-28-85-51-33 28zM5007 15228l33-26-84-50-33 25zM4051 15612l33-1-84-51-33 2zM4143 14363l33-33-84-52-33 33zM4956 15152l33-28-84-50-33 27zM3934 15562l33 0-84-51-33 1zM4498 14683l33-32-84-50-33 31zM4634 14815l33-31-84-50-33 30zM3788 14036l33-36-84-52-33 35zM5194 15427l33-24-84-50-33 24zM4370 15759l33-4-84-50-33 4zM4008 14226l33-34-85-52-33 34zM4363 14550l33-33-84-51-33 32zM4769 14945l33-29-84-50-33 28zM3568 13843l33-36-84-53-33 36zM5143 15353l33-25-84-50-33 25zM4253 15711l33-2-85-51-33 3zM4227 14415l33-35-84-50-33 33zM4905 15074l33-28-84-50-33 28zM3348 13648l33-37-84-53-33 37zM5092 15278l33-26-85-50-33 26zM4135 15662l33-1-84-50-33 1zM3872 14088l33-36-84-52-33 36zM3652 13896l33-37-84-52-33 36zM4583 14734l33-32-85-51-33 32zM4718 14866l33-32-84-50-33 31zM5040 15202l33-28-84-50-33 28zM4018 15612l33 0-84-50-33 0zM4092 14278l33-35-84-51-33 34zM4447 14601l33-34-84-50-33 33zM4854 14996l33-30-85-50-33 29zM3433 13702l33-39-85-52-33 37zM5227 15403l33-26-84-49-33 25zM4337 15760l33-1-84-50-33 2zM4312 14466l33-35-85-51-33 35zM4989 15124l33-29-84-49-33 28zM3901 15560l33 2-84-50-33-1zM5176 15328l33-27-84-49-33 26zM4220 15711l33 0-85-50-33 1zM3956 14140l33-37-84-51-33 36zM3737 13948l33-38-85-51-33 37zM4176 14330l33-37-84-50-33 35zM4667 14784l33-33-84-49-33 32zM4802 14916l33-32-84-50-33 32zM3517 13754l33-39-84-52-33 39zM5125 15252l33-29-85-49-33 28zM4103 15661l32 1-84-50-33 0zM4531 14651l33-34-84-50-33 34z"/><path fill="#4230c4" stroke="#4230c4" d="M4938 15046l33-31-84-49-33 30zM4396 14517l33-36-84-50-33 35zM3297 13558l33-40-84-52-33 39zM3821 14000l33-39-84-51-33 38zM4041 14192l33-38-85-51-33 37zM5073 15174l33-30-84-49-33 29zM3985 15609l33 3-84-50-33-2zM5260 15377l33-27-84-49-33 27zM4304 15760l33 0-84-49-33 0zM3601 13807l33-40-84-52-33 39zM4260 14380l33-37-84-50-33 37zM4751 14834l33-33-84-50-33 33zM4887 14966l33-33-85-49-33 32zM4616 14702l33-35-85-50-33 34zM5209 15301l33-29-84-49-33 29zM4187 15710l33 1-85-49-32-1zM3381 13611l33-41-84-52-33 40zM5022 15095l33-31-84-49-33 31zM4480 14567l33-36-84-50-33 36zM3905 14052l33-40-84-51-33 39zM4125 14243l33-39-84-50-33 38zM3685 13859l33-41-84-51-33 40zM5158 15223l33-30-85-49-33 30zM4070 15658l33 3-85-49-33-3zM4345 14431l33-38-85-50-33 37zM4835 14884l33-34-84-49-33 33zM3466 13663l33-42-85-51-33 41zM4700 14751l33-35-84-49-33 35zM4971 15015l33-33-84-49-33 33zM5293 15350l33-29-84-49-33 29zM4271 15758l33 2-84-49-33-1zM3989 14103l33-41-84-50-33 40zM4564 14617l33-37-84-49-33 36zM5106 15144l33-31-84-49-33 31zM3952 15605l33 4-84-49-33-4zM4209 14293l33-39-84-50-33 39zM3770 13910l33-41-85-51-33 41zM5242 15272l33-31-84-48-33 30zM4154 15706l33 4-84-49-33-3zM4429 14481l33-39-84-49-33 38zM3550 13715l33-43-84-51-33 42zM4920 14933l33-35-85-48-33 34zM4784 14801l33-37-84-48-33 35zM5055 15064l33-34-84-48-33 33zM4074 14154l33-42-85-50-33 41zM3854 13961l33-42-84-50-33 41zM4649 14667l33-38-85-49-33 37zM4293 14343l33-40-84-49-33 39zM3330 13518l33-44-84-52-33 44zM1517 14239l33 17-84-52-33-16zM5191 15193l32-32-84-48-33 31zM4037 15653l33 5-85-49-33-4zM3634 13767l33-44-84-51-33 43zM4513 14531l33-40-84-49-33 39zM5326 15321l33-32-84-48-33 31zM4238 15754l33 4-84-48-33-4zM5004 14982l33-36-84-48-33 35zM4158 14204l33-43-84-49-33 42zM4868 14850l33-37-84-49-33 37zM3414 13570l33-45-84-51-33 44zM1601 14290l33 18-84-52-33-17zM3938 14012l33-43-84-50-33 42zM5139 15113l33-35-84-48-33 34zM4378 14393l33-41-85-49-33 40zM4733 14716l33-39-84-48-33 38zM3718 13818l33-45-84-50-33 44zM5275 15241l33-33-85-47-32 32zM4121 15700l33 6-84-48-33-5zM4597 14580l33-40-84-49-33 40zM3499 13621l33-46-85-50-33 45zM1685 14341l33 19-84-52-33-18zM4242 14254l33-44-84-49-33 43zM4022 14062l33-44-84-49-33 43zM5088 15030l33-36-84-48-33 36zM4953 14898l32-38-84-47-33 37zM4462 14442l33-42-84-48-33 41zM3803 13869l33-46-85-50-33 45zM2055 14561l33 18-84-50-33-18zM5223 15161l33-35-84-48-33 35zM4004 15645l33 8-85-48-33-7zM4817 14764l33-39-84-48-33 39zM5359 15289l33-33-84-48-33 33zM4205 15748l33 6-84-48-33-6zM3279 13422l33-47-84-51-33 47zM1400 14168l33 20-85-52-33-19zM4682 14629l32-41-84-48-33 40zM3583 13672l33-47-84-50-33 46zM1770 14391l32 20-84-51-33-19zM4107 14112l33-45-85-49-33 44zM4326 14303l33-44-84-49-33 44zM3887 13919l33-47-84-49-33 46zM2139 14610l33 20-84-51-33-18z"/><path fill="#4434cf" stroke="#4434cf" d="M5172 15078l33-37-84-47-33 36zM5037 14946l33-38-85-48-32 38zM4546 14491l33-43-84-48-33 42zM5308 15208l33-35-85-47-33 35zM4088 15692l33 8-84-47-33-8zM4901 14813l33-40-84-48-33 39zM3363 13474l33-49-84-50-33 47zM1484 14218l33 21-84-51-33-20zM3667 13723l33-48-84-50-33 47zM1854 14440l33 21-85-50-32-20zM4766 14677l33-42-85-47-32 41zM4191 14161l33-46-84-48-33 45zM4411 14352l32-45-84-48-33 44zM3971 13969l33-48-84-49-33 47zM2224 14659l33 20-85-49-33-20zM3447 13525l33-50-84-50-33 49zM1568 14268l33 22-84-51-33-21zM4630 14540l33-44-84-48-33 43zM5121 14994l33-39-84-47-33 38zM5256 15126l33-38-84-47-33 37zM3751 13773l33-49-84-49-33 48zM1938 14490l33 21-84-50-33-21zM4985 14860l33-40-84-47-33 40zM5392 15256l33-37-84-46-33 35zM4172 15739l33 9-84-48-33-8zM4850 14725l33-43-84-47-33 42zM4275 14210l33-47-84-48-33 46zM2594 14874l33 20-85-49-33-19zM4495 14400l33-45-85-48-32 45zM2879 15038l33 18-84-48-33-17zM4055 14018l33-48-84-49-33 48zM2308 14708l33 21-84-50-33-20zM3532 13575l33-50-85-50-33 50zM1652 14317l33 24-84-51-33-22zM4714 14588l33-45-84-47-33 44zM3836 13823l33-50-85-49-33 49zM2022 14538l33 23-84-50-33-21zM5205 15041l33-40-84-46-33 39zM5341 15173l33-39-85-46-33 38zM4055 15681l33 11-84-47-33-10zM5070 14908l33-42-85-46-33 40zM4359 14259l33-48-84-48-33 47zM2678 14922l33 20-84-48-33-20zM4934 14773l33-44-84-47-33 43zM3312 13375l33-53-84-50-33 52zM1367 14143l33 25-85-51-33-24zM3616 13625l33-51-84-49-33 50zM1737 14367l33 24-85-50-33-24zM4140 14067l32-49-84-48-33 48zM2392 14756l33 22-84-49-33-21zM4579 14448l33-46-84-47-33 45zM2963 15085l33 20-84-49-33-18zM3920 13872l33-51-84-48-33 50zM2106 14587l33 23-84-49-33-23zM4799 14635l33-45-85-47-33 45zM3249 15246l33 18-84-47-33-18zM5289 15088l33-41-84-46-33 40zM5425 15219l33-39-84-46-33 39zM4139 15727l33 12-84-47-33-11zM5154 14955l33-42-84-47-33 42zM3396 13425l33-53-84-50-33 53zM1451 14192l33 26-84-50-33-25zM3700 13675l33-53-84-48-33 51zM1821 14415l33 25-84-49-33-24zM4443 14307l33-49-84-47-33 48zM2762 14969l33 22-84-49-33-20zM4224 14115l33-50-85-47-32 49zM2476 14803l33 23-84-48-33-22zM5018 14820l33-44-84-47-33 44zM4663 14496l33-47-84-47-33 46zM3048 15132l33 20-85-47-33-20zM4004 13921l33-52-84-48-33 51zM2191 14635l33 24-85-49-33-23zM4883 14682l33-46-84-46-33 45zM3333 15293l33 18-84-47-33-18zM3480 13475l33-54-84-49-33 53zM1535 14241l33 27-84-50-33-26zM5374 15134l33-41-85-46-33 41zM4022 15667l33 14-84-46-33-13zM3784 13724l33-53-84-49-33 53zM1905 14463l33 27-84-50-33-25zM5238 15001l33-43-84-45-33 42zM4528 14355l33-50-85-47-33 49zM2846 15016l33 22-84-47-33-22zM4308 14163l33-51-84-47-33 50zM2561 14850l33 24-85-48-33-23zM5103 14866l33-45-85-45-33 44zM3619 15450l33 18-84-47-33-17zM4747 14543l33-48-84-46-33 47zM3132 15179l33 20-84-47-33-20zM4088 13970l33-53-84-48-33 52zM2275 14682l33 26-84-49-33-24zM3565 13525l33-56-85-48-33 54zM1619 14289l33 28-84-49-33-27zM4967 14729l33-47-84-46-33 46zM3418 15339l33 19-85-47-33-18z"/><path fill="#4539d8" stroke="#4539d8" d="M3869 13773l32-55-84-47-33 53zM1989 14511l33 27-84-48-33-27zM5458 15180l33-42-84-45-33 41zM4106 15712l33 15-84-46-33-14zM4392 14211l33-52-84-47-33 51zM2645 14897l33 25-84-48-33-24zM5322 15047l33-43-84-46-33 43zM4612 14402l33-51-84-46-33 50zM2930 15062l33 23-84-47-33-22zM4172 14018l33-54-84-47-33 53zM2359 14729l33 27-84-48-33-26zM4832 14590l33-49-85-46-33 48zM3216 15225l33 21-84-47-33-20zM5187 14913l33-46-84-46-33 45zM3703 15496l33 18-84-46-33-18zM3649 13574l33-57-84-48-33 56zM1704 14337l33 30-85-50-33-28zM3345 13322l33-57-84-49-33 56zM1334 14112l33 31-85-50-33-29zM3953 13821l33-55-85-48-32 55zM2073 14559l33 28-84-49-33-27zM5051 14776l33-48-84-46-33 47zM3502 15384l33 20-84-46-33-19zM4476 14258l33-53-84-46-33 52zM2729 14944l33 25-84-47-33-25zM4696 14449l33-52-84-46-33 51zM3015 15108l33 24-85-47-33-23zM5407 15093l33-44-85-45-33 43zM3989 15650l33 17-84-45-33-17zM4257 14065l33-54-85-47-33 54zM2443 14776l33 27-84-47-33-27zM3733 13622l33-57-84-48-33 57zM1788 14385l33 30-84-48-33-30zM3429 13372l33-59-84-48-33 57zM1418 14161l33 31-84-49-33-31zM4916 14636l33-49-84-46-33 49zM3300 15270l33 23-84-47-33-21zM5271 14958l33-46-84-45-33 46zM3787 15541l33 19-84-46-33-18zM4037 13869l33-56-84-47-33 55zM2158 14606l33 29-85-48-33-28zM5136 14821l33-48-85-45-33 48zM3586 15429l33 21-84-46-33-20zM4561 14305l33-54-85-46-33 53zM2813 14989l33 27-84-47-33-25zM4780 14495l33-52-84-46-33 52zM3099 15154l33 25-84-47-33-24zM3513 13421l33-60-84-48-33 59zM1502 14209l33 32-84-49-33-31zM4341 14112l33-55-84-46-33 54zM2528 14822l33 28-85-47-33-27zM3817 13671l33-59-84-47-33 57zM1872 14432l33 31-84-48-33-30zM5491 15138l33-45-84-44-33 44zM4073 15695l33 17-84-45-33-17zM5000 14682l33-50-84-45-33 49zM3385 15315l33 24-85-46-33-23zM5355 15004l33-48-84-44-33 46zM3872 15585l33 20-85-45-33-19zM4121 13917l33-58-84-46-33 56zM2242 14652l33 30-84-47-33-29zM5220 14867l33-49-84-45-33 48zM3670 15474l33 22-84-46-33-21zM3598 13469l33-60-85-48-33 60zM1586 14256l33 33-84-48-33-32zM4645 14351l33-54-84-46-33 54zM2898 15035l32 27-84-46-33-27zM3901 13718l33-59-84-47-33 59zM1956 14479l33 32-84-48-33-31zM4425 14159l33-56-84-46-33 55zM2612 14868l33 29-84-47-33-28zM4865 14541l33-53-85-45-33 52zM3183 15199l33 26-84-46-33-25zM4205 13964l33-59-84-46-33 58zM2326 14698l33 31-84-47-33-30zM5084 14728l33-52-84-44-33 50zM3469 15360l33 24-84-45-33-24zM5440 15049l33-48-85-45-33 48zM3956 15629l33 21-84-45-33-20zM3682 13517l33-61-84-47-33 60zM1671 14303l33 34-85-48-33-33zM3378 13265l33-63-84-48-33 62zM1301 14077l33 35-85-48-33-35zM3986 13766l33-61-85-46-33 59zM2040 14526l33 33-84-48-33-32zM5304 14912l33-50-84-44-33 49zM3755 15518l32 23-84-45-33-22zM4729 14397l33-55-84-45-33 54zM2982 15080l33 28-85-46-32-27zM4509 14205l33-57-84-45-33 56zM2696 14913l33 31-84-47-33-29zM4949 14587l33-54-84-45-33 53zM3267 15243l33 27-84-45-33-26z"/><path fill="#463ede" stroke="#463ede" d="M4290 14011l33-60-85-46-33 59zM2410 14744l33 32-84-47-33-31zM5169 14773l33-52-85-45-33 52zM3553 15404l33 25-84-45-33-24zM5524 15093l33-49-84-43-33 48zM4040 15673l33 22-84-45-33-21zM3766 13565l33-63-84-46-33 61zM1755 14350l33 35-84-48-33-34zM3462 13313l33-64-84-47-33 63zM1385 14124l33 37-84-49-33-35zM4070 13813l33-62-84-46-33 61zM2125 14571l33 35-85-47-33-33zM5388 14956l33-50-84-44-33 50zM3839 15562l33 23-85-44-32-23zM4813 14443l33-57-84-44-33 55zM3066 15124l33 30-84-46-33-28zM4594 14251l33-58-85-45-33 57zM2780 14958l33 31-84-45-33-31zM5033 14632l33-55-84-44-33 54zM3352 15288l33 27-85-45-33-27zM4374 14057l33-61-84-45-33 60zM2495 14789l33 33-85-46-33-32zM5253 14818l33-54-84-43-33 52zM3637 15448l33 26-84-45-33-25zM3850 13612l33-64-84-46-33 63zM1839 14396l33 36-84-47-33-35zM3546 13361l33-65-84-47-33 64zM1469 14171l33 38-84-48-33-37zM4154 13859l33-62-84-46-33 62zM2209 14617l33 35-84-46-33-35zM4898 14488l33-58-85-44-33 57zM3150 15169l33 30-84-45-33-30zM4678 14297l33-60-84-44-33 58zM2865 15003l33 32-85-46-33-31zM5473 15001l33-52-85-43-33 50zM3923 15605l33 24-84-44-33-23zM5117 14676l33-55-84-44-33 55zM3436 15331l33 29-84-45-33-27zM4458 14103l33-62-84-45-33 61zM2579 14834l33 34-84-46-33-33zM3631 13409l32-67-84-46-33 65zM1553 14217l33 39-84-47-33-38zM3934 13659l33-65-84-46-33 64zM1923 14442l33 37-84-47-33-36zM5337 14862l33-54-84-44-33 54zM3722 15491l33 27-85-44-33-26zM4238 13905l33-63-84-45-33 62zM2293 14662l33 36-84-46-33-35zM4762 14342l33-61-84-44-33 60zM2949 15047l33 33-84-45-33-32zM4982 14533l33-59-84-44-33 58zM3234 15212l33 31-84-44-33-30zM5557 15044l33-52-84-43-33 52zM4007 15648l33 25-84-44-33-24zM4542 14148l33-62-84-45-33 62zM2663 14878l33 35-84-45-33-34zM5202 14721l33-57-85-43-33 55zM3520 15375l33 29-84-44-33-29zM3715 13456l33-68-85-46-32 67zM1638 14263l33 40-85-47-33-39zM4019 13705l33-66-85-45-33 65zM2008 14487l32 39-84-47-33-37zM3411 13202l33-69-84-46-33 67zM1268 14035l33 42-85-48-33-40zM4323 13951l33-64-85-45-33 63zM2377 14707l33 37-84-46-33-36zM5421 14906l33-55-84-43-33 54zM3806 15534l33 28-84-44-33-27zM4846 14386l33-61-84-44-33 61zM3033 15091l33 33-84-44-33-33zM5066 14577l33-60-84-43-33 59zM3319 15256l33 32-85-45-33-31zM3799 13502l33-68-84-46-33 68zM1722 14309l33 41-84-47-33-40zM4627 14193l33-64-85-43-33 62zM2747 14922l33 36-84-45-33-35zM4103 13751l33-67-84-45-33 66zM2092 14532l33 39-85-45-32-39zM5286 14764l33-57-84-43-33 57zM3604 15418l33 30-84-44-33-29zM3495 13249l33-70-84-46-33 69zM1352 14081l33 43-84-47-33-42z"/><path fill="#4644e4" stroke="#4644e4" d="M4407 13996l33-65-84-44-33 64zM2462 14751l33 38-85-45-33-37zM5506 14949l33-56-85-42-33 55zM3890 15577l33 28-84-43-33-28zM3883 13548l33-69-84-45-33 68zM1806 14354l33 42-84-46-33-41zM4931 14430l33-62-85-43-33 61zM3117 15134l33 35-84-45-33-33zM5150 14621l33-61-84-43-33 60zM3403 15299l33 32-84-43-33-32zM3579 13296l33-71-84-46-33 70zM1436 14127l33 44-84-47-33-43zM4187 13797l33-68-84-45-33 67zM2176 14576l33 41-84-46-33-39zM4711 14237l33-64-84-44-33 64zM2832 14966l33 37-85-45-33-36zM5370 14808l33-59-84-42-33 57zM3689 15460l33 31-85-43-33-30zM4491 14041l33-66-84-44-33 65zM2546 14795l33 39-84-45-33-38zM5590 14992l33-57-84-42-33 56zM3974 15619l33 29-84-43-33-28zM3967 13594l33-70-84-45-33 69zM1890 14399l33 43-84-46-33-42zM3663 13342l33-72-84-45-33 71zM1520 14172l33 45-84-46-33-44zM5015 14474l33-63-84-43-33 62zM3201 15177l33 35-84-43-33-35zM4271 13842l33-69-84-44-33 68zM2260 14620l33 42-84-45-33-41zM5235 14664l33-61-85-43-33 61zM3487 15341l33 34-84-44-33-32zM4795 14281l33-65-84-43-33 64zM2916 15009l33 38-84-44-33-37zM5454 14851l33-60-84-42-33 59zM3773 15502l33 32-84-43-33-31zM4575 14086l33-68-84-43-33 66zM2630 14838l33 40-84-44-33-39zM4052 13639l33-71-85-44-33 70zM1975 14443l33 44-85-45-33-43zM3748 13388l33-73-85-45-33 72zM1605 14217l33 46-85-46-33-45zM4356 13887l33-71-85-43-33 69zM2344 14664l33 43-84-45-33-42zM5099 14517l33-64-84-42-33 63zM3286 15219l33 37-85-44-33-35zM3444 13133l33-75-85-45-32 74zM1235 13988l33 47-85-46-32-47zM5319 14707l33-62-84-42-33 61zM3571 15383l33 35-84-43-33-34zM4879 14325l33-66-84-43-33 65zM3000 15052l33 39-84-44-33-38zM5539 14893l32-60-84-42-33 60zM3857 15544l33 33-84-43-33-32zM4660 14129l33-68-85-43-33 68zM2714 14881l33 41-84-44-33-40zM4136 13684l33-72-84-44-33 71zM2059 14487l33 45-84-45-33-44zM3832 13434l33-75-84-44-33 73zM1689 14262l33 47-84-46-33-46zM4440 13931l33-71-84-44-33 71zM2429 14707l33 44-85-44-33-43zM3528 13179l33-76-84-45-33 75zM1319 14033l33 48-84-46-33-47zM5183 14560l33-65-84-42-33 64zM3370 15261l33 38-84-43-33-37zM4964 14368l33-67-85-42-33 66zM3084 15094l33 40-84-43-33-39zM5403 14749l33-63-84-41-33 62zM3656 15425l33 35-85-42-33-35z"/><path fill="#4749ea" stroke="#4749ea" d="M4744 14173l33-70-84-42-33 68zM2799 14924l33 42-85-44-33-41zM5623 14935l33-61-85-41-32 60zM3941 15585l33 34-84-42-33-33zM3916 13479l33-76-84-44-33 75zM1773 14306l33 48-84-45-33-47zM4220 13729l33-74-84-43-33 72zM2143 14530l33 46-84-44-33-45zM3612 13225l33-77-84-45-33 76zM1403 14077l33 50-84-46-33-48zM4524 13975l33-73-84-42-33 71zM2513 14750l33 45-84-44-33-44zM5268 14603l32-66-84-42-33 65zM3454 15302l33 39-84-42-33-38zM5048 14411l33-68-84-42-33 67zM3169 15136l32 41-84-43-33-40zM5487 14791l33-63-84-42-33 63zM3740 15466l33 36-84-42-33-35zM4828 14216l33-71-84-42-33 70zM2883 14966l33 43-84-43-33-42zM4000 13524l33-77-84-44-33 76zM1857 14349l33 50-84-45-33-48zM4304 13773l33-75-84-43-33 74zM2227 14573l33 47-84-44-33-46zM3696 13270l33-78-84-44-33 77zM1487 14121l33 51-84-45-33-50zM4608 14018l33-73-84-43-33 73zM2597 14792l33 46-84-43-33-45zM5352 14645l33-67-85-41-32 66zM3538 15343l33 40-84-42-33-39zM5132 14453l33-69-84-41-33 68zM3253 15177l33 42-85-42-32-41zM5571 14833l33-65-84-40-33 63zM3824 15506l33 38-84-42-33-36zM4085 13568l33-78-85-43-33 77zM1942 14392l33 51-85-44-33-50zM4912 14259l33-72-84-42-33 71zM2967 15007l33 45-84-43-33-43zM4389 13816l33-75-85-43-33 75zM2311 14615l33 49-84-44-33-47zM3781 13315l33-80-85-43-33 78zM1572 14165l33 52-85-45-33-51zM4693 14061l33-74-85-42-33 73zM2681 14834l33 47-84-43-33-46zM3477 13058l33-82-85-44-33 81zM1202 13933l33 55-84-46-33-53zM5436 14686l33-67-84-41-33 67zM3623 15384l33 41-85-42-33-40zM5216 14495l33-70-84-41-33 69zM3337 15218l33 43-84-42-33-42zM4169 13612l33-79-84-43-33 78zM2026 14435l33 52-84-44-33-51zM5656 14874l33-65-85-41-33 65zM3908 15547l33 38-84-41-33-38zM3865 13359l33-80-84-44-33 80zM1656 14208l33 54-84-45-33-52zM4997 14301l33-73-85-41-33 72zM3051 15049l33 45-84-42-33-45zM4473 13860l33-77-84-42-33 75zM2396 14658l33 49-85-43-33-49zM3561 13103l33-83-84-44-33 82zM1286 13977l33 56-84-45-33-55zM4777 14103l33-75-84-41-33 74zM2766 14876l33 48-85-43-33-47z"/><path fill="#474ff0" stroke="#474ff0" d="M4253 13655l33-80-84-42-33 79zM2110 14477l33 53-84-43-33-52zM5520 14728l33-69-84-40-33 67zM5300 14537l33-71-84-41-33 70zM3707 15424l33 42-84-41-33-41zM3421 15259l33 43-84-41-33-43zM3949 13403l33-81-84-43-33 80zM1740 14251l33 55-84-44-33-54zM4557 13902l33-78-84-41-33 77zM2480 14699l33 51-84-43-33-49zM5081 14343l33-74-84-41-33 73zM3136 15089l33 47-85-42-33-45zM3645 13148l33-84-84-44-33 83zM1370 14020l33 57-84-44-33-56zM4861 14145l33-76-84-41-33 75zM2850 14917l33 49-84-42-33-48zM4337 13698l33-81-84-42-33 80zM2194 14519l33 54-84-43-33-53zM4033 13447l33-83-84-42-33 81zM1824 14294l33 55-84-43-33-55zM5385 14578l33-72-85-40-33 71zM3505 15299l33 44-84-41-33-43zM5604 14768l33-69-84-40-33 69zM3791 15464l33 42-84-40-33-42zM4641 13945l33-79-84-42-33 78zM2564 14740l33 52-84-42-33-51zM5165 14384l33-74-84-41-33 74zM3220 15130l33 47-84-41-33-47zM3729 13192l33-86-84-42-33 84zM1454 14063l33 58-84-44-33-57zM4945 14187l33-77-84-41-33 76zM2934 14957l33 50-84-41-33-49zM4422 13741l33-83-85-41-33 81zM2279 14561l32 54-84-42-33-54zM4118 13490l33-84-85-42-33 83zM1909 14335l33 57-85-43-33-55zM5469 14619l33-74-84-39-33 72zM3590 15338l33 46-85-41-33-44zM4726 13987l33-81-85-40-33 79zM2648 14781l33 53-84-42-33-52zM5689 14809l33-71-85-39-33 69zM3875 15503l33 44-84-41-33-42zM3814 13235l33-86-85-43-33 86zM1539 14106l33 59-85-44-33-58zM5249 14425l33-76-84-39-33 74zM3304 15170l33 48-84-41-33-47zM5030 14228l32-78-84-40-33 77zM3018 14997l33 52-84-42-33-50zM3510 12976l33-88-85-43-33 87zM1169 13872l33 61-84-44-33-60zM4202 13533l33-86-84-41-33 84zM1993 14377l33 58-84-43-33-57zM4506 13783l33-84-84-41-33 83zM2363 14602l33 56-85-43-32-54z"/><path fill="#4754f5" stroke="#4754f5" d="M3898 13279l33-88-84-42-33 86zM1623 14148l33 60-84-43-33-59zM4810 14028l33-81-84-41-33 81zM2733 14822l33 54-85-42-33-53zM5553 14659l33-74-84-40-33 74zM3674 15378l33 46-84-40-33-46zM5333 14466l33-77-84-40-33 76zM3388 15209l33 50-84-41-33-48zM3594 13020l33-90-84-42-33 88zM1253 13914l33 63-84-44-33-61zM5114 14269l33-79-85-40-32 78zM3103 15037l33 52-85-40-33-52zM4286 13575l33-86-84-42-33 86zM2077 14418l33 59-84-42-33-58zM4590 13824l33-84-84-41-33 84zM2447 14642l33 57-84-41-33-56zM3982 13322l33-89-84-42-33 88zM1707 14190l33 61-84-43-33-60zM4894 14069l33-82-84-40-33 81zM2817 14862l33 55-84-41-33-54zM5637 14699l33-76-84-38-33 74zM3758 15416l33 48-84-40-33-46zM5418 14506l33-78-85-39-33 77zM3472 15248l33 51-84-40-33-50zM3678 13064l33-92-84-42-33 90zM1337 13957l33 63-84-43-33-63zM5198 14310l33-81-84-39-33 79zM3187 15077l33 53-84-41-33-52zM4370 13617l33-88-84-40-33 86zM2161 14459l33 60-84-42-33-59zM4674 13866l33-86-84-40-33 84zM2531 14682l33 58-84-41-33-57zM4066 13364l33-90-84-41-33 89zM1791 14231l33 63-84-43-33-61zM4978 14110l33-84-84-39-33 82zM2901 14901l33 56-84-40-33-55zM3762 13106l33-92-84-42-33 92zM1422 13998l32 65-84-43-33-63zM5722 14738l33-76-85-39-33 76zM3842 15455l33 48-84-39-33-48zM5502 14545l33-78-84-39-33 78zM3557 15287l33 51-85-39-33-51zM5282 14349l33-81-84-39-33 81zM3271 15115l33 55-84-40-33-53zM4455 13658l33-88-85-41-33 88zM2246 14499l33 62-85-42-33-60zM4759 13906l32-86-84-40-33 86zM2615 14722l33 59-84-41-33-58zM4151 13406l33-91-85-41-33 90zM1876 14272l33 63-85-41-33-63zM5062 14150l33-85-84-39-33 84zM2985 14940l33 57-84-40-33-56zM3847 13149l33-94-85-41-33 92zM1506 14040l33 66-85-43-32-65z"/><path fill="#4659f8" stroke="#4659f8" d="M5586 14585l33-80-84-38-33 78zM3641 15325l33 53-84-40-33-51zM4539 13699l33-90-84-39-33 88zM2330 14539l33 63-84-41-33-62zM5366 14389l33-83-84-38-33 81zM3355 15154l33 55-84-39-33-55zM4235 13447l33-92-84-40-33 91zM1960 14312l33 65-84-42-33-63zM3543 12888l33-97-85-42-33 96zM1136 13803l33 69-84-43-33-68zM4843 13947l33-88-85-39-32 86zM2700 14761l33 61-85-41-33-59zM3931 13191l33-95-84-41-33 94zM1590 14080l33 68-84-42-33-66zM5147 14190l33-86-85-39-33 85zM3070 14979l33 58-85-40-33-57zM5670 14623l33-80-84-38-33 80zM3725 15363l33 53-84-38-33-53zM3627 12930l33-97-84-42-33 97zM1220 13844l33 70-84-42-33-69zM4623 13740l33-91-84-40-33 90zM2414 14578l33 64-84-40-33-63zM4319 13489l33-94-84-40-33 92zM2044 14352l33 66-84-41-33-65zM5451 14428l33-84-85-38-33 83zM3439 15192l33 56-84-39-33-55zM4927 13987l33-89-84-39-33 88zM2784 14800l33 62-84-40-33-61zM4015 13233l33-96-84-41-33 95zM1674 14121l33 69-84-42-33-68zM5231 14229l33-87-84-38-33 86zM3154 15017l33 60-84-40-33-58zM3711 12972l33-99-84-40-33 97zM1304 13885l33 72-84-43-33-70zM5755 14662l33-82-85-37-33 80zM3809 15400l33 55-84-39-33-53zM4707 13780l33-92-84-39-33 91zM2498 14617l33 65-84-40-33-64zM4403 13529l33-94-84-40-33 94zM2128 14391l33 68-84-41-33-66zM5011 14026l33-90-84-38-33 89zM2868 14839l33 62-84-39-33-62zM5535 14467l33-85-84-38-33 84zM3524 15230l33 57-85-39-33-56zM4099 13274l33-97-84-40-33 96zM1758 14161l33 70-84-41-33-69zM5315 14268l33-88-84-38-33 87zM3238 15055l33 60-84-38-33-60z"/><path fill="#455ffa" stroke="#455ffa" d="M3795 13014l33-100-84-41-33 99zM1389 13926l33 72-85-41-33-72zM4791 13820l33-94-84-38-33 92zM2582 14656l33 66-84-40-33-65zM4488 13570l32-96-84-39-33 94zM2213 14431l33 68-85-40-33-68zM5095 14065l33-91-84-38-33 90zM2952 14876l33 64-84-39-33-62zM4184 13315l33-99-85-39-33 97zM1843 14200l33 72-85-41-33-70zM5619 14505l33-86-84-37-33 85zM3608 15267l33 58-84-38-33-57zM5399 14306l33-89-84-37-33 88zM3322 15092l33 62-84-39-33-60zM3880 13055l33-101-85-40-33 100zM1473 13966l33 74-84-42-33-72zM4572 13609l33-97-85-38-32 96zM2297 14469l33 70-84-40-33-68zM4876 13859l33-95-85-38-33 94zM2667 14694l33 67-85-39-33-66zM4268 13355l33-100-84-39-33 99zM1927 14240l33 72-84-40-33-72zM5180 14104l33-92-85-38-33 91zM3037 14914l33 65-85-39-33-64zM5703 14543l33-87-84-37-33 86zM3692 15303l33 60-84-38-33-58zM3576 12791l33-104-85-41-33 103zM1103 13726l33 77-84-42-33-76zM3964 13096l33-102-84-40-33 101zM1557 14005l33 75-84-40-33-74zM5484 14344l33-90-85-37-33 89zM3407 15129l32 63-84-38-33-62zM4656 13649l33-98-84-39-33 97zM2381 14507l33 71-84-39-33-70zM4960 13898l33-96-84-38-33 95zM2751 14732l33 68-84-39-33-67zM4352 13395l33-101-84-39-33 100zM2011 14278l33 74-84-40-33-72zM5264 14142l33-93-84-37-33 92zM3121 14951l33 66-84-38-33-65zM3660 12833l33-106-84-40-33 104zM1187 13766l33 78-84-41-33-77zM5788 14580l33-88-85-36-33 87zM3776 15340l33 60-84-37-33-60zM4048 13137l33-104-84-39-33 102zM1641 14044l33 77-84-41-33-75z"/><path fill="#4464fc" stroke="#4464fc" d="M5568 14382l33-91-84-37-33 90zM3491 15166l33 64-85-38-32-63zM4740 13688l33-100-84-37-33 98zM2465 14545l33 72-84-39-33-71zM5044 13936l33-97-84-37-33 96zM2835 14769l33 70-84-39-33-68zM4436 13435l33-103-84-38-33 101zM2095 14317l33 74-84-39-33-74zM3744 12873l33-106-84-40-33 106zM1271 13806l33 79-84-41-33-78zM5348 14180l33-94-84-37-33 93zM3205 14988l33 67-84-38-33-66zM4132 13177l33-105-84-39-33 104zM1725 14083l33 78-84-40-33-77zM5652 14419l33-92-84-36-33 91zM3575 15202l33 65-84-37-33-64zM4824 13726l33-100-84-38-33 100zM2550 14583l32 73-84-39-33-72zM5128 13974l33-98-84-37-33 97zM2919 14806l33 70-84-37-33-70zM4520 13474l33-104-84-38-33 103zM2180 14354l33 77-85-40-33-74zM3828 12914l33-108-84-39-33 106zM1356 13845l33 81-85-41-33-79zM5432 14217l33-95-84-36-33 94zM3289 15024l33 68-84-37-33-67zM4217 13216l32-106-84-38-33 105zM1810 14121l33 79-85-39-33-78zM5736 14456l33-93-84-36-33 92zM3659 15238l33 65-84-36-33-65zM4909 13764l33-101-85-37-33 100zM2634 14620l33 74-85-38-32-73zM3913 12954l33-109-85-39-33 108zM1440 13883l33 83-84-40-33-81zM4605 13512l33-104-85-38-33 104zM2264 14392l33 77-84-38-33-77zM5213 14012l33-99-85-37-33 98zM3004 14842l33 72-85-38-33-70zM4301 13255l33-107-85-38-32 106zM1894 14159l33 81-84-40-33-79zM5517 14254l33-96-85-36-33 95zM3374 15060l33 69-85-37-33-68z"/><path fill="#416afe" stroke="#416afe" d="M3609 12687l33-113-85-39-33 111zM1070 13640l33 86-84-41-33-84zM3997 12994l33-111-84-38-33 109zM1524 13922l33 83-84-39-33-83zM4993 13802l33-103-84-36-33 101zM2718 14656l33 76-84-38-33-74zM5821 14492l33-94-85-35-33 93zM3743 15273l33 67-84-37-33-65zM4689 13551l33-106-84-37-33 104zM2348 14429l33 78-84-38-33-77zM5297 14049l33-100-84-36-33 99zM3088 14878l33 73-84-37-33-72zM4385 13294l33-109-84-37-33 107zM1978 14197l33 81-84-38-33-81zM5601 14291l33-98-84-35-33 96zM3458 15095l33 71-84-37-33-69zM3693 12727l33-114-84-39-33 113zM1154 13679l33 87-84-40-33-86zM4081 13033l33-112-84-38-33 111zM1608 13960l33 84-84-39-33-83zM5077 13839l33-104-84-36-33 103zM2802 14692l33 77-84-37-33-76zM4773 13588l33-107-84-36-33 106zM2432 14465l33 80-84-38-33-78zM5381 14086l33-102-84-35-33 100zM3172 14914l33 74-84-37-33-73zM4469 13332l33-110-84-37-33 109zM2062 14234l33 83-84-39-33-81zM5685 14327l33-99-84-35-33 98zM3542 15130l33 72-84-36-33-71zM3777 12767l33-116-84-38-33 114zM1238 13717l33 89-84-40-33-87zM4165 13072l33-114-84-37-33 112zM1693 13997l32 86-84-39-33-84zM5161 13876l33-105-84-36-33 104zM2886 14728l33 78-84-37-33-77zM4857 13626l33-109-84-36-33 107zM2517 14502l33 81-85-38-33-80zM5465 14122l33-103-84-35-33 102zM3256 14949l33 75-84-36-33-74z"/><path fill="#3c71ff" stroke="#3c71ff" d="M4553 13370l33-111-84-37-33 110zM2147 14270l33 84-85-37-33-83zM3861 12806l33-117-84-38-33 116zM1323 13755l33 90-85-39-33-89zM5769 14363l33-100-84-35-33 99zM3626 15165l33 73-84-36-33-72zM4249 13110l33-115-84-37-33 114zM1777 14034l33 87-85-38-32-86zM5246 13913l33-107-85-35-33 105zM2971 14763l33 79-85-36-33-78zM4942 13663l33-110-85-36-33 109zM2601 14537l33 83-84-37-33-81zM5550 14158l33-104-85-35-33 103zM3341 14984l33 76-85-36-33-75zM4638 13408l33-113-85-36-33 111zM2231 14307l33 85-84-38-33-84zM3946 12845l32-118-84-38-33 117zM1407 13793l33 90-84-38-33-90zM5854 14398l33-101-85-34-33 100zM3710 15199l33 74-84-35-33-73zM4334 13148l33-116-85-37-33 115zM1861 14071l33 88-84-38-33-87zM5026 13699l33-111-84-35-33 110zM2685 14573l33 83-84-36-33-83zM5330 13949l33-108-84-35-33 107zM3055 14798l33 80-84-36-33-79zM4722 13445l33-114-84-36-33 113zM2315 14342l33 87-84-37-33-85zM5634 14193l33-105-84-34-33 104zM3425 15018l33 77-84-35-33-76zM3642 12574l33-121-85-38-33 120zM1037 13546l33 94-84-39-33-93zM4030 12883l33-119-85-37-32 118zM1491 13830l33 92-84-39-33-90zM4418 13185l33-117-84-36-33 116zM1945 14107l33 90-84-38-33-88z"/><path fill="#3877fd" stroke="#3877fd" d="M5110 13735l33-112-84-35-33 111zM2769 14607l33 85-84-36-33-83zM5414 13984l33-109-84-34-33 108zM3139 14832l33 82-84-36-33-80zM3726 12613l33-123-84-37-33 121zM1121 13583l33 96-84-39-33-94zM4806 13481l33-115-84-35-33 114zM2399 14378l33 87-84-36-33-87zM4114 12921l33-121-84-36-33 119zM1575 13866l33 94-84-38-33-92zM5718 14228l33-106-84-34-33 105zM3509 15052l33 78-84-35-33-77zM4502 13222l33-118-84-36-33 117zM2029 14143l33 91-84-37-33-90zM5194 13771l33-113-84-35-33 112zM2853 14642l33 86-84-36-33-85zM5498 14019l33-110-84-34-33 109zM3223 14866l33 83-84-35-33-82zM3810 12651l33-124-84-37-33 123zM1205 13620l33 97-84-38-33-96zM4890 13517l33-116-84-35-33 115zM2484 14413l33 89-85-37-33-87zM4198 12958l33-122-84-36-33 121zM1660 13902l33 95-85-37-33-94zM5802 14263l33-108-84-33-33 106zM3593 15085l33 80-84-35-33-78zM4586 13259l33-120-84-35-33 118zM2114 14178l33 92-85-36-33-91zM3894 12689l33-126-84-36-33 124zM1290 13657l33 98-85-38-33-97zM5279 13806l33-114-85-34-33 113zM2938 14676l33 87-85-35-33-86zM5583 14054l33-111-85-34-33 110zM3308 14900l33 84-85-35-33-83zM4282 12995l33-123-84-36-33 122zM1744 13938l33 96-84-37-33-95zM4975 13553l33-118-85-34-33 116zM2568 14447l33 90-84-35-33-89z"/><path fill="#347dfb" stroke="#347dfb" d="M5887 14297l32-109-84-33-33 108zM3678 15118l32 81-84-34-33-80zM4671 13295l33-121-85-35-33 120zM2198 14213l33 94-84-37-33-92zM3978 12727l33-128-84-36-33 126zM1374 13693l33 100-84-38-33-98zM5363 13841l33-116-84-33-33 114zM3022 14709l33 89-84-35-33-87zM4367 13032l33-125-85-35-33 123zM1828 13973l33 98-84-37-33-96zM5667 14088l33-112-84-33-33 111zM3392 14933l33 85-84-34-33-84zM5059 13588l33-118-84-35-33 118zM2652 14481l33 92-84-36-33-90zM4755 13331l33-123-84-34-33 121zM2282 14247l33 95-84-35-33-94zM4063 12764l33-129-85-36-33 128zM1458 13729l33 101-84-37-33-100zM3675 12453l33-132-85-36-33 130zM1004 13442l33 104-84-38-33-102zM4451 13068l33-126-84-35-33 125zM1912 14008l33 99-84-36-33-98zM5447 13875l33-117-84-33-33 116zM3106 14743l33 89-84-34-33-89zM5143 13623l33-120-84-33-33 118zM2736 14515l33 92-84-34-33-92zM5751 14122l33-114-84-32-33 112zM3476 14965l33 87-84-34-33-85zM4839 13366l33-123-84-35-33 123zM2366 14281l33 97-84-36-33-95zM4147 12800l33-130-84-35-33 129zM1542 13764l33 102-84-36-33-101zM3759 12490l33-133-84-36-33 132zM1088 13478l33 105-84-37-33-104z"/><path fill="#3182f9" stroke="#3182f9" d="M4535 13104l33-127-84-35-33 126zM1996 14043l33 100-84-36-33-99zM5531 13909l33-118-84-33-33 117zM3190 14775l33 91-84-34-33-89zM5227 13658l33-122-84-33-33 120zM2821 14548l32 94-84-35-33-92zM5835 14155l33-114-84-33-33 114zM3560 14997l33 88-84-33-33-87zM4923 13401l33-125-84-33-33 123zM2451 14315l33 98-85-35-33-97zM4231 12836l33-131-84-35-33 130zM1627 13799l33 103-85-36-33-102zM3843 12527l33-134-84-36-33 133zM1172 13514l33 106-84-37-33-105zM4619 13139l33-128-84-34-33 127zM2081 14077l33 101-85-35-33-100zM5616 13943l32-120-84-32-33 118zM3275 14808l33 92-85-34-33-91zM5312 13692l33-123-85-33-33 122zM2905 14581l33 95-85-34-32-94zM5919 14188l33-116-84-31-33 114zM3645 15029l33 89-85-33-33-88zM5008 13435l33-126-85-33-33 125zM2535 14348l33 99-84-34-33-98zM3927 12563l33-135-84-35-33 134zM1257 13549l33 108-85-37-33-106zM4315 12872l33-133-84-34-33 131zM1711 13833l33 105-84-36-33-103zM4704 13174l33-130-85-33-33 128zM2165 14110l33 103-84-35-33-101zM5700 13976l33-121-85-32-32 120zM3359 14839l33 94-84-33-33-92z"/><path fill="#2d88f6" stroke="#2d88f6" d="M5396 13725l33-124-84-32-33 123zM2989 14613l33 96-84-33-33-95zM5092 13470l33-128-84-33-33 126zM2619 14381l33 100-84-34-33-99zM4011 12599l33-136-84-35-33 135zM1341 13584l33 109-84-36-33-108zM4400 12907l33-134-85-34-33 133zM1795 13867l33 106-84-35-33-105zM4788 13208l33-131-84-33-33 130zM2249 14143l33 104-84-34-33-103zM5784 14008l33-121-84-32-33 121zM3443 14871l33 94-84-32-33-94zM5480 13758l33-125-84-32-33 124zM3073 14645l33 98-84-34-33-96zM5176 13503l33-129-84-32-33 128zM2703 14413l33 102-84-34-33-100zM4096 12635l33-138-85-34-33 136zM1425 13618l33 111-84-36-33-109zM4484 12942l33-135-84-34-33 134zM1879 13900l33 108-84-35-33-106zM3708 12321l32-141-84-35-33 140zM971 13329l33 113-84-36-33-112zM4872 13243l33-133-84-33-33 131zM2333 14176l33 105-84-34-33-104zM5564 13791l33-126-84-32-33 125zM3157 14676l33 99-84-32-33-98zM5868 14041l33-123-84-31-33 121zM3527 14902l33 95-84-32-33-94zM4180 12670l33-139-84-34-33 138zM1509 13652l33 112-84-35-33-111zM5260 13536l33-130-84-32-33 129zM2788 14445l33 103-85-33-33-102zM4568 12977l33-137-84-33-33 135zM1964 13934l32 109-84-35-33-108z"/><path fill="#2b8df2" stroke="#2b8df2" d="M3792 12357l33-142-85-35-32 141zM1055 13363l33 115-84-36-33-113zM4956 13276l33-134-84-32-33 133zM2418 14208l33 107-85-34-33-105zM5648 13823l33-127-84-31-33 126zM3242 14707l33 101-85-33-33-99zM5952 14072l33-124-84-30-33 123zM3612 14932l33 97-85-32-33-95zM4264 12705l33-141-84-33-33 139zM1594 13685l33 114-85-35-33-112zM3876 12393l33-144-84-34-33 142zM1139 13397l33 117-84-36-33-115zM4652 13011l33-138-84-33-33 137zM2048 13966l33 111-85-34-32-109zM5345 13569l32-131-84-32-33 130zM2872 14477l33 104-84-33-33-103zM5041 13309l33-135-85-32-33 134zM2502 14240l33 108-84-33-33-107zM4348 12739l33-142-84-33-33 141zM1678 13718l33 115-84-34-33-114zM5733 13855l33-129-85-30-33 127zM3326 14738l33 101-84-31-33-101zM3960 12428l33-145-84-34-33 144zM1224 13431l33 118-85-35-33-117zM4737 13044l33-139-85-32-33 138zM2132 13998l33 112-84-33-33-111zM5429 13601l33-132-85-31-32 131zM2956 14508l33 105-84-32-33-104z"/><path fill="#2993ee" stroke="#2993ee" d="M5125 13342l33-137-84-31-33 135zM2586 14272l33 109-84-33-33-108zM4433 12773l33-143-85-33-33 142zM1762 13751l33 116-84-34-33-115zM4044 12463l33-147-84-33-33 145zM1308 13464l33 120-84-35-33-118zM5817 13887l33-131-84-30-33 129zM3410 14768l33 103-84-32-33-101zM4821 13077l33-140-84-32-33 139zM2216 14030l33 113-84-33-33-112zM5513 13633l33-134-84-30-33 132zM3040 14538l33 107-84-32-33-105zM5209 13374l33-138-84-31-33 137zM2670 14303l33 110-84-32-33-109zM4517 12807l33-145-84-32-33 143zM1846 13783l33 117-84-33-33-116zM4129 12497l33-148-85-33-33 147zM1392 13497l33 121-84-34-33-120zM4905 13110l33-142-84-31-33 140zM2300 14062l33 114-84-33-33-113zM5901 13918l33-132-84-30-33 131zM3494 14798l33 104-84-31-33-103zM3740 12180l33-151-84-33-33 149zM938 13205l33 124-84-35-33-123zM5597 13665l33-136-84-30-33 134zM3124 14568l33 108-84-31-33-107zM5293 13406l33-139-84-31-33 138zM2755 14333l33 112-85-32-33-110z"/><path fill="#2698ea" stroke="#2698ea" d="M4601 12840l33-146-84-32-33 145zM1931 13814l33 120-85-34-33-117zM4213 12531l33-150-84-32-33 148zM1476 13530l33 122-84-34-33-121zM4989 13142l33-143-84-31-33 142zM2385 14092l33 116-85-32-33-114zM3825 12215l33-153-85-33-33 151zM1022 13238l33 125-84-34-33-124zM5985 13948l33-132-84-30-33 132zM3579 14827l33 105-85-30-33-104zM5681 13696l33-137-84-30-33 136zM3209 14598l33 109-85-31-33-108zM5377 13438l33-141-84-30-33 139zM2839 14363l33 114-84-32-33-112zM4297 12564l33-151-84-32-33 150zM1561 13562l33 123-85-33-33-122zM4685 12873l33-148-84-31-33 146zM2015 13846l33 120-84-32-33-120zM3909 12249l33-154-84-33-33 153zM1106 13270l33 127-84-34-33-125zM5074 13174l32-145-84-30-33 143zM2469 14123l33 117-84-32-33-116zM5766 13726l33-137-85-30-33 137zM3293 14627l33 111-84-31-33-109zM5462 13469l33-142-85-30-33 141zM2923 14393l33 115-84-31-33-114zM4381 12597l33-152-84-32-33 151zM1645 13593l33 125-84-33-33-123zM4770 12905l33-149-85-31-33 148zM2099 13877l33 121-84-32-33-120z"/><path fill="#249ee6" stroke="#249ee6" d="M3993 12283l33-156-84-32-33 154zM1191 13303l33 128-85-34-33-127zM5158 13205l33-146-85-30-32 145zM2553 14153l33 119-84-32-33-117zM5850 13756l33-139-84-28-33 137zM3377 14656l33 112-84-30-33-111zM5546 13499l33-143-84-29-33 142zM3007 14422l33 116-84-30-33-115zM4466 12630l33-154-85-31-33 152zM1729 13624l33 127-84-33-33-125zM4854 12937l33-151-84-30-33 149zM2183 13907l33 123-84-32-33-121zM4077 12316l33-157-84-32-33 156zM1275 13334l33 130-84-33-33-128zM5242 13236l33-147-84-30-33 146zM2637 14183l33 120-84-31-33-119zM5934 13786l33-140-84-29-33 139zM3461 14685l33 113-84-30-33-112zM5630 13529l33-144-84-29-33 143zM3092 14451l32 117-84-30-33-116zM4550 12662l33-155-84-31-33 154zM1813 13655l33 128-84-32-33-127zM4938 12968l33-152-84-30-33 151zM2267 13937l33 125-84-32-33-123zM4162 12349l33-159-85-31-33 157zM1359 13366l33 131-84-33-33-130z"/><path fill="#21a2e3" stroke="#21a2e3" d="M5326 13267l33-149-84-29-33 147zM2722 14212l33 121-85-30-33-120zM3773 12029l33-162-84-32-33 161zM905 13070l33 135-84-34-33-133zM6018 13816l33-142-84-28-33 140zM3546 14713l33 114-85-29-33-113zM4634 12694l33-157-84-30-33 155zM1898 13685l33 129-85-31-33-128zM5714 13559l33-146-84-28-33 144zM3176 14480l33 118-85-30-32-117zM4246 12381l33-160-84-31-33 159zM1443 13397l33 133-84-33-33-131zM5022 12999l33-153-84-30-33 152zM2352 13966l33 126-85-30-33-125zM3858 12062l33-164-85-31-33 162zM989 13101l33 137-84-33-33-135zM5410 13297l33-150-84-29-33 149zM2806 14241l33 122-84-30-33-121zM4718 12725l33-158-84-30-33 157zM1982 13715l33 131-84-32-33-129zM4330 12413l33-161-84-31-33 160zM1528 13427l33 135-85-32-33-133zM5799 13589l33-148-85-28-33 146zM3260 14508l33 119-84-29-33-118zM5106 13029l33-154-84-29-33 153zM2436 13996l33 127-84-31-33-126zM3942 12095l33-166-84-31-33 164zM1074 13132l32 138-84-32-33-137z"/><path fill="#1da6e0" stroke="#1da6e0" d="M5495 13327l33-152-85-28-33 150zM2890 14269l33 124-84-30-33-122zM4803 12756l33-160-85-29-33 158zM2066 13744l33 133-84-31-33-131zM4414 12445l33-163-84-30-33 161zM1612 13457l33 136-84-31-33-135zM5191 13059l33-156-85-28-33 154zM2520 14024l33 129-84-30-33-127zM5883 13617l33-148-84-28-33 148zM3344 14535l33 121-84-29-33-119zM4026 12127l33-167-84-31-33 166zM1158 13163l33 140-85-33-32-138zM5579 13356l33-153-84-28-33 152zM2974 14297l33 125-84-29-33-124zM4887 12786l33-161-84-29-33 160zM2150 13773l33 134-84-30-33-133zM4499 12476l33-165-85-29-33 163zM1696 13487l33 137-84-31-33-136zM5275 13089l33-157-84-29-33 156zM2604 14052l33 131-84-30-33-129zM5967 13646l33-150-84-27-33 148zM3428 14562l33 123-84-29-33-121zM4110 12159l33-169-84-30-33 167zM1242 13193l33 141-84-31-33-140z"/><path fill="#19aadc" stroke="#19aadc" d="M5663 13385l33-154-84-28-33 153zM3059 14324l33 127-85-29-33-125zM4971 12816l33-162-84-29-33 161zM2234 13802l33 135-84-30-33-134zM4583 12507l33-166-84-30-33 165zM1780 13516l33 139-84-31-33-137zM5359 13118l33-159-84-27-33 157zM2689 14080l33 132-85-29-33-131zM4195 12190l33-170-85-30-33 169zM1326 13223l33 143-84-32-33-141zM6051 13674l33-151-84-27-33 150zM3513 14589l33 124-85-28-33-123zM5747 13413l33-155-84-27-33 154zM3143 14351l33 129-84-29-33-127zM3806 11867l33-174-84-31-33 173zM872 12923l33 147-84-32-33-145zM4667 12537l33-168-84-28-33 166zM1865 13545l33 140-85-30-33-139zM5055 12846l33-164-84-28-33 162zM2319 13830l33 136-85-29-33-135zM4279 12221l33-171-84-30-33 170zM1410 13253l33 144-84-31-33-143zM5443 13147l33-160-84-28-33 159zM2773 14108l33 133-84-29-33-132z"/><path fill="#15aed9" stroke="#15aed9" d="M3891 11898l33-175-85-30-33 174zM956 12953l33 148-84-31-33-147zM5832 13441l33-157-85-26-33 155zM3227 14378l33 130-84-28-33-129zM4751 12567l33-169-84-29-33 168zM1949 13573l33 142-84-30-33-140zM5139 12875l33-166-84-27-33 164zM2403 13858l33 138-84-30-33-136zM4363 12252l33-173-84-29-33 171zM1495 13282l33 145-85-30-33-144zM5528 13175l33-161-85-27-33 160zM2857 14135l33 134-84-28-33-133zM3975 11929l33-176-84-30-33 175zM1041 12983l33 149-85-31-33-148zM5916 13469l33-158-84-27-33 157zM3311 14404l33 131-84-27-33-130zM4836 12596l32-170-84-28-33 169zM2033 13601l33 143-84-29-33-142zM5224 12903l33-166-85-28-33 166zM2487 13885l33 139-84-28-33-138zM4447 12282l33-175-84-28-33 173zM1579 13310l33 147-84-30-33-145zM5612 13203l33-163-84-26-33 161zM2941 14161l33 136-84-28-33-134z"/><path fill="#11b1d6" stroke="#11b1d6" d="M4059 11960l33-178-84-29-33 176zM1125 13012l33 151-84-31-33-149zM6000 13496l33-160-84-25-33 158zM3395 14430l33 132-84-27-33-131zM4920 12625l33-172-85-27-32 170zM2117 13629l33 144-84-29-33-143zM5308 12932l33-169-84-26-33 166zM2571 13912l33 140-84-28-33-139zM4532 12311l33-175-85-29-33 175zM1663 13339l33 148-84-30-33-147zM5696 13231l33-165-84-26-33 163zM3026 14187l33 137-85-27-33-136zM4143 11990l33-179-84-29-33 178zM1209 13041l33 152-84-30-33-151zM6084 13523l33-161-84-26-33 160zM3480 14455l33 134-85-27-33-132zM5004 12654l33-174-84-27-33 172zM2202 13656l32 146-84-29-33-144zM5392 12959l33-169-84-27-33 169zM2656 13938l33 142-85-28-33-140zM4616 12341l33-178-84-27-33 175zM1747 13366l33 150-84-29-33-148zM5780 13258l33-166-84-26-33 165zM3110 14213l33 138-84-27-33-137zM4228 12020l33-181-85-28-33 179zM1293 13069l33 154-84-30-33-152z"/><path fill="#0bb4d0" stroke="#0bb4d0" d="M5088 12682l33-175-84-27-33 174zM2286 13683l33 147-85-28-32-146zM3839 11693l33-186-84-29-33 184zM839 12765l33 158-84-30-33-157zM4700 12369l33-178-84-28-33 178zM1832 13394l33 151-85-29-33-150zM5476 12987l33-171-84-26-33 169zM2740 13964l33 144-84-28-33-142zM4312 12050l33-183-84-28-33 181zM1377 13097l33 156-84-30-33-154zM5865 13284l33-167-85-25-33 166zM3194 14238l33 140-84-27-33-138zM5172 12709l33-176-84-26-33 175zM2370 13709l33 149-84-28-33-147zM3924 11723l33-188-85-28-33 186zM923 12793l33 160-84-30-33-158zM4784 12398l33-181-84-26-33 178zM1916 13420l33 153-84-28-33-151zM5561 13014l33-173-85-25-33 171zM2824 13990l33 145-84-27-33-144z"/><path fill="#04b7cb" stroke="#04b7cb" d="M4396 12079l33-185-84-27-33 183zM1462 13125l33 157-85-29-33-156zM5949 13311l33-169-84-25-33 167zM3278 14263l33 141-84-26-33-140zM4008 11753l33-189-84-29-33 188zM1008 12821l33 162-85-30-33-160zM5257 12737l33-178-85-26-33 176zM2454 13735l33 150-84-27-33-149zM4868 12426l33-182-84-27-33 181zM2000 13447l33 154-84-28-33-153zM5645 13040l33-174-84-25-33 173zM2908 14015l33 146-84-26-33-145zM4480 12107l33-186-84-27-33 185zM1546 13152l33 158-84-28-33-157zM6033 13336l33-170-84-24-33 169zM3362 14287l33 143-84-26-33-141zM4092 11782l33-191-84-27-33 189zM1092 12849l33 163-84-29-33-162zM5341 12763l33-179-84-25-33 178zM2538 13760l33 152-84-27-33-150zM4953 12453l33-183-85-26-33 182zM2084 13473l33 156-84-28-33-154zM5729 13066l33-175-84-25-33 174zM2993 14039l33 148-85-26-33-146z"/><path fill="#04bac4" stroke="#04bac4" d="M4565 12136l32-188-84-27-33 186zM1630 13178l33 161-84-29-33-158zM6117 13362l33-172-84-24-33 170zM3447 14311l33 144-85-25-33-143zM4176 11811l33-193-84-27-33 191zM1176 12876l33 165-84-29-33-163zM5425 12790l33-181-84-25-33 179zM2623 13785l33 153-85-26-33-152zM5037 12480l33-184-84-26-33 183zM2169 13499l33 157-85-27-33-156zM5813 13092l33-177-84-24-33 175zM3077 14064l33 149-84-26-33-148zM4649 12163l33-189-85-26-32 188zM1714 13204l33 162-84-27-33-161zM4261 11839l33-194-85-27-33 193zM1260 12903l33 166-84-28-33-165zM5509 12816l33-182-84-25-33 181zM2707 13809l33 155-84-26-33-153zM5121 12507l33-186-84-25-33 184zM2253 13524l33 159-84-27-33-157z"/><path fill="#0fbdbd" stroke="#0fbdbd" d="M5898 13117l33-178-85-24-33 177zM3161 14087l33 151-84-25-33-149zM4733 12191l33-191-84-26-33 189zM1799 13230l33 164-85-28-33-162zM3872 11507l33-199-84-27-33 197zM806 12593l33 172-84-29-33-170zM4345 11867l33-195-84-27-33 194zM1345 12929l32 168-84-28-33-166zM5205 12533l33-188-84-24-33 186zM2337 13548l33 161-84-26-33-159zM5594 12841l33-183-85-24-33 182zM2791 13833l33 157-84-26-33-155zM4817 12217l33-192-84-25-33 191zM1883 13256l33 164-84-26-33-164zM5982 13142l33-179-84-24-33 178zM3245 14111l33 152-84-25-33-151zM3957 11535l33-200-85-27-33 199zM890 12620l33 173-84-28-33-172zM4429 11894l33-197-84-25-33 195zM1429 12955l33 170-85-28-32-168z"/><path fill="#19bfb6" stroke="#19bfb6" d="M5290 12559l33-189-85-25-33 188zM2421 13573l33 162-84-26-33-161zM5678 12866l33-185-84-23-33 183zM2875 13857l33 158-84-25-33-157zM4901 12244l33-194-84-25-33 192zM1967 13281l33 166-84-27-33-164zM6066 13166l33-180-84-23-33 179zM3330 14134l32 153-84-24-33-152zM4041 11564l33-202-84-27-33 200zM975 12647l33 174-85-28-33-173zM4513 11921l33-198-84-26-33 197zM1513 12981l33 171-84-27-33-170zM5374 12584l33-190-84-24-33 189zM2505 13597l33 163-84-25-33-162zM5762 12891l33-186-84-24-33 185zM2960 13880l33 159-85-24-33-158zM4986 12270l33-195-85-25-33 194zM2051 13305l33 168-84-26-33-166zM4125 11591l33-203-84-26-33 202zM1059 12673l33 176-84-28-33-174zM6150 13190l33-182-84-22-33 180zM3414 14156l33 155-85-24-32-153zM4597 11948l33-200-84-25-33 198zM1597 13006l33 172-84-26-33-171z"/><path fill="#20c1ae" stroke="#20c1ae" d="M5458 12609l33-192-84-23-33 190zM2590 13620l33 165-85-25-33-163zM5846 12915l33-188-84-22-33 186zM3044 13903l33 161-84-25-33-159zM5070 12296l33-197-84-24-33 195zM2136 13329l33 170-85-26-33-168zM4209 11618l33-204-84-26-33 203zM1143 12699l33 177-84-27-33-176zM4682 11974l33-201-85-25-33 200zM1681 13030l33 174-84-26-33-172zM5542 12634l33-194-84-23-33 192zM2674 13643l33 166-84-24-33-165zM5931 12939l33-189-85-23-33 188zM3128 13925l33 162-84-23-33-161zM4294 11645l32-206-84-25-33 204zM1227 12724l33 179-84-27-33-177zM5154 12321l33-199-84-23-33 197zM2220 13353l33 171-84-25-33-170z"/><path fill="#28c4a7" stroke="#28c4a7" d="M4766 12000l33-203-84-24-33 201zM1766 13055l33 175-85-26-33-174zM3905 11308l33-211-84-26-33 210zM773 12409l33 184-84-27-33-183zM5627 12658l33-195-85-23-33 194zM2758 13666l33 167-84-24-33-166zM4378 11672l33-209-85-24-32 206zM1312 12748l33 181-85-26-33-179zM6015 12963l33-191-84-22-33 189zM3212 13947l33 164-84-24-33-162zM5238 12345l33-199-84-24-33 199zM2304 13376l33 172-84-24-33-171zM4850 12025l33-204-84-24-33 203zM1850 13078l33 178-84-26-33-175zM3990 11335l33-213-85-25-33 211zM857 12434l33 186-84-27-33-184zM4462 11697l33-209-84-25-33 209zM1396 12773l33 182-84-26-33-181zM5711 12681l33-196-84-22-33 195zM2842 13688l33 169-84-24-33-167z"/><path fill="#2fc69f" stroke="#2fc69f" d="M5323 12370l33-202-85-22-33 199zM2388 13399l33 174-84-25-33-172zM6099 12986l33-193-84-21-33 191zM3297 13969l33 165-85-23-33-164zM4934 12050l33-206-84-23-33 204zM1934 13102l33 179-84-25-33-178zM4074 11362l33-215-84-25-33 213zM942 12459l33 188-85-27-33-186zM4546 11723l33-211-84-24-33 209zM1480 12797l33 184-84-26-33-182zM5795 12705l33-199-84-21-33 196zM2927 13709l33 171-85-23-33-169zM5407 12394l33-203-84-23-33 202zM2473 13421l32 176-84-24-33-174zM6183 13008l33-194-84-21-33 193zM3381 13990l33 166-84-22-33-165zM5019 12075l33-208-85-23-33 206zM2018 13125l33 180-84-24-33-179zM4158 11388l33-217-84-24-33 215zM1026 12484l33 189-84-26-33-188z"/><path fill="#37c897" stroke="#37c897" d="M4630 11748l33-213-84-23-33 211zM1564 12820l33 186-84-25-33-184zM5879 12727l33-199-84-22-33 199zM3011 13731l33 172-84-23-33-171zM5491 12417l33-204-84-22-33 203zM2557 13443l33 177-85-23-32-176zM5103 12099l33-210-84-22-33 208zM2103 13147l33 182-85-24-33-180zM4242 11414l33-219-84-24-33 217zM1110 12508l33 191-84-26-33-189zM4715 11773l33-215-85-23-33 213zM1648 12843l33 187-84-24-33-186zM5964 12750l32-201-84-21-33 199zM3095 13752l33 173-84-22-33-172zM5575 12440l33-206-84-21-33 204zM2641 13464l33 179-84-23-33-177zM5187 12122l33-210-84-23-33 210zM2187 13169l33 184-84-24-33-182z"/><path fill="#40c98f" stroke="#40c98f" d="M4326 11439l33-220-84-24-33 219zM1194 12531l33 193-84-25-33-191zM4799 11797l33-216-84-23-33 215zM1733 12866l33 189-85-25-33-187zM6048 12772l33-203-85-20-32 201zM3179 13772l33 175-84-22-33-173zM5660 12463l33-208-85-21-33 206zM2725 13485l33 181-84-23-33-179zM5271 12146l33-213-84-21-33 210zM2271 13191l33 185-84-23-33-184zM3938 11097l33-226-84-24-33 224zM740 12211l33 198-84-26-33-196zM4411 11463l33-221-85-23-33 220zM1279 12554l33 194-85-24-33-193zM4883 11821l33-218-84-22-33 216zM1817 12888l33 190-84-23-33-189z"/><path fill="#4aca86" stroke="#4aca86" d="M6132 12793l33-204-84-20-33 203zM3264 13792l33 177-85-22-33-175zM5744 12485l33-209-84-21-33 208zM2809 13506l33 182-84-22-33-181zM5356 12168l33-214-85-21-33 213zM2355 13212l33 187-84-23-33-185zM4023 11122l32-227-84-24-33 226zM824 12235l33 199-84-25-33-198zM4495 11488l33-223-84-23-33 221zM1363 12577l33 196-84-25-33-194zM4967 11844l33-219-84-22-33 218zM1901 12910l33 192-84-24-33-190zM5828 12506l33-210-84-20-33 209zM2894 13526l33 183-85-21-33-182zM6216 12814l33-205-84-20-33 204zM3348 13812l33 178-84-21-33-177zM4107 11147l33-229-85-23-32 227zM909 12258l33 201-85-25-33-199zM5440 12191l33-216-84-21-33 214zM2440 13233l33 188-85-22-33-187zM4579 11512l33-225-84-22-33 223zM1447 12599l33 198-84-24-33-196z"/><path fill="#54cb7d" stroke="#54cb7d" d="M5052 11867l33-221-85-21-33 219zM1985 12931l33 194-84-23-33-192zM5912 12528l33-212-84-20-33 210zM2978 13546l33 185-84-22-33-183zM4191 11171l33-230-84-23-33 229zM993 12281l33 203-84-25-33-201zM5524 12213l33-217-84-21-33 216zM2524 13253l33 190-84-22-33-188zM4663 11535l33-226-84-22-33 225zM1531 12621l33 199-84-23-33-198zM5136 11889l33-222-84-21-33 221zM2070 12952l33 195-85-22-33-194zM5996 12549l33-214-84-19-33 212zM3062 13565l33 187-84-21-33-185zM4275 11195l33-232-84-22-33 230zM1077 12303l33 205-84-24-33-203z"/><path fill="#5ecc74" stroke="#5ecc74" d="M4748 11558l33-228-85-21-33 226zM1616 12643l32 200-84-23-33-199zM5608 12234l33-219-84-19-33 217zM2608 13273l33 191-84-21-33-190zM5220 11912l33-224-84-21-33 222zM2154 12972l33 197-84-22-33-195zM4359 11219l33-234-84-22-33 232zM1161 12325l33 206-84-23-33-205zM6081 12569l33-215-85-19-33 214zM3146 13584l33 188-84-20-33-187zM4832 11581l33-230-84-21-33 228zM1700 12664l33 202-85-23-32-200zM5693 12255l32-220-84-20-33 219zM2692 13293l33 192-84-21-33-191zM5304 11933l33-225-84-20-33 224zM2238 12993l33 198-84-22-33-197z"/><path fill="#69cc6a" stroke="#69cc6a" d="M4444 11242l33-235-85-22-33 234zM1246 12346l33 208-85-23-33-206zM3971 10871l33-239-84-23-33 238zM707 11999l33 212-84-24-33-211zM6165 12589l33-217-84-18-33 215zM3231 13603l33 189-85-20-33-188zM4916 11603l33-231-84-21-33 230zM1784 12684l33 204-84-22-33-202zM5777 12276l33-222-85-19-32 220zM2776 13312l33 194-84-21-33-192zM5389 11954l33-227-85-19-33 225zM2322 13012l33 200-84-21-33-198zM4528 11265l33-237-84-21-33 235zM1330 12367l33 210-84-23-33-208zM4055 10895l33-241-84-22-33 239zM791 12021l33 214-84-24-33-212zM5000 11625l33-233-84-20-33 231zM1868 12704l33 206-84-22-33-204zM6249 12609l33-218-84-19-33 217zM3315 13621l33 191-84-20-33-189zM5861 12296l33-223-84-19-33 222zM2861 13330l33 196-85-20-33-194z"/><path fill="#79cb5e" stroke="#79cb5e" d="M5473 11975l33-229-84-19-33 227zM2407 13031l33 202-85-21-33-200zM4612 11287l33-239-84-20-33 237zM1414 12388l33 211-84-22-33-210zM4140 10918l33-243-85-21-33 241zM876 12042l33 216-85-23-33-214zM5085 11646l33-234-85-20-33 233zM1952 12724l33 207-84-21-33-206zM5945 12316l33-225-84-18-33 223zM2945 13348l33 198-84-20-33-196zM5557 11996l33-231-84-19-33 229zM2491 13050l33 203-84-20-33-202z"/><path fill="#89c953" stroke="#89c953" d="M4696 11309l33-241-84-20-33 239zM1498 12408l33 213-84-22-33-211zM4224 10941l33-245-84-21-33 243zM960 12063l33 218-84-23-33-216zM5169 11667l33-236-84-19-33 234zM2037 12743l33 209-85-21-33-207zM6029 12335l33-226-84-18-33 225zM3029 13366l33 199-84-19-33-198zM5641 12015l33-232-84-18-33 231zM2575 13068l33 205-84-20-33-203zM4308 10963l33-246-84-21-33 245zM1044 12084l33 219-84-22-33-218zM4781 11330l33-242-85-20-33 241zM1583 12428l33 215-85-22-33-213zM5253 11688l33-238-84-19-33 236zM2121 12762l33 210-84-20-33-209zM6114 12354l33-228-85-17-33 226zM3113 13384l33 200-84-19-33-199z"/><path fill="#99c847" stroke="#99c847" d="M5725 12035l33-234-84-18-33 232zM2659 13086l33 207-84-20-33-205zM4392 10985l33-248-84-20-33 246zM1128 12104l33 221-84-22-33-219zM4865 11351l33-243-84-20-33 242zM1667 12447l33 217-84-21-33-215zM5337 11708l33-240-84-18-33 238zM2205 12780l33 213-84-21-33-210zM6198 12372l33-229-84-17-33 228zM3198 13400l33 203-85-19-33-200zM5810 12054l33-235-85-18-33 234zM2744 13104l32 208-84-19-33-207zM4477 11007l33-250-85-20-33 248zM1213 12124l33 222-85-21-33-221zM4949 11372l33-246-84-18-33 243zM1751 12466l33 218-84-20-33-217z"/><path fill="#a8c73b" stroke="#a8c73b" d="M5422 11727l32-241-84-18-33 240zM2289 12798l33 214-84-19-33-213zM6282 12391l33-232-84-16-33 229zM3282 13417l33 204-84-18-33-203zM5894 12073l33-237-84-17-33 235zM2828 13121l33 209-85-18-32-208zM4561 11028l33-252-84-19-33 250zM1297 12143l33 224-84-21-33-222zM5033 11392l33-247-84-19-33 246zM1835 12485l33 219-84-20-33-218zM5506 11746l33-242-85-18-32 241zM2374 12816l33 215-85-19-33-214z"/><path fill="#b3c639" stroke="#b3c639" d="M4645 11048l33-253-84-19-33 252zM1381 12162l33 226-84-21-33-224zM5978 12091l33-239-84-16-33 237zM2912 13137l33 211-84-18-33-209zM5118 11412l33-249-85-18-33 247zM1919 12503l33 221-84-20-33-219zM5590 11765l33-244-84-17-33 242zM2458 12833l33 217-84-19-33-215zM4729 11068l33-255-84-18-33 253zM1465 12180l33 228-84-20-33-226zM6062 12109l33-240-84-17-33 239zM2996 13154l33 212-84-18-33-211zM5202 11431l33-250-84-18-33 249zM2004 12520l33 223-85-19-33-221z"/><path fill="#bcc639" stroke="#bcc639" d="M5674 11783l33-245-84-17-33 244zM2542 12850l33 218-84-18-33-217zM4814 11088l33-257-85-18-33 255zM1550 12198l33 230-85-20-33-228zM6147 12126l33-242-85-15-33 240zM3080 13169l33 215-84-18-33-212zM5286 11450l33-252-84-17-33 250zM2088 12537l33 225-84-19-33-223zM5758 11801l33-247-84-16-33 245zM2626 12866l33 220-84-18-33-218z"/><path fill="#c5c639" stroke="#c5c639" d="M4898 11108l33-259-84-18-33 257zM1634 12216l33 231-84-19-33-230zM5370 11468l33-254-84-16-33 252zM2172 12554l33 226-84-18-33-225zM6231 12143l33-243-84-16-33 242zM3165 13185l33 215-85-16-33-215zM5843 11819l33-249-85-16-33 247zM2711 12882l33 222-85-18-33-220zM4982 11126l33-260-84-17-33 259zM1718 12233l33 233-84-19-33-231zM5454 11486l33-255-84-17-33 254zM2256 12570l33 228-84-18-33-226z"/><path fill="#cec538" stroke="#cec538" d="M6315 12159l33-244-84-15-33 243zM3249 13200l33 217-84-17-33-215zM5927 11836l33-251-84-15-33 249zM2795 12897l33 224-84-17-33-222zM5066 11145l33-262-84-17-33 260zM1802 12250l33 235-84-19-33-233zM5539 11504l33-257-85-16-33 255zM2341 12586l33 230-85-18-33-228zM6011 11852l33-252-84-15-33 251zM2879 12912l33 225-84-16-33-224z"/><path fill="#d7c538" stroke="#d7c538" d="M5151 11163l33-264-85-16-33 262zM1886 12266l33 237-84-18-33-235zM5623 11521l33-259-84-15-33 257zM2425 12602l33 231-84-17-33-230zM6095 11869l33-254-84-15-33 252zM2963 12927l33 227-84-17-33-225zM5235 11181l33-266-84-16-33 264zM1971 12282l33 238-85-17-33-237z"/><path fill="#e0c538" stroke="#e0c538" d="M5707 11538l33-261-84-15-33 259zM2509 12617l33 233-84-17-33-231zM6180 11884l33-255-85-14-33 254zM3047 12941l33 228-84-15-33-227zM5319 11198l33-267-84-16-33 266zM2055 12298l33 239-84-17-33-238zM5791 11554l33-262-84-15-33 261zM2593 12631l33 235-84-16-33-233z"/><path fill="#e9c438" stroke="#e9c438" d="M6264 11900l33-258-84-13-33 255zM3132 12955l33 230-85-16-33-228zM5403 11214l33-268-84-15-33 267zM2139 12313l33 241-84-17-33-239zM5876 11570l33-264-85-14-33 262zM2678 12646l33 236-85-16-33-235zM6348 11915l33-259-84-14-33 258zM3216 12968l33 232-84-15-33-230z"/><path fill="#f2c438" stroke="#f2c438" d="M5487 11231l33-271-84-14-33 268zM2223 12327l33 243-84-16-33-241zM5960 11585l33-265-84-14-33 264zM2762 12659l33 238-84-15-33-236zM5572 11247l33-272-85-15-33 271zM2308 12342l33 244-85-16-33-243zM6044 11600l33-267-84-13-33 265zM2846 12673l33 239-84-15-33-238z"/><path fill="#fbc338" stroke="#fbc338" d="M5656 11262l33-274-84-13-33 272zM2392 12355l33 247-84-16-33-244zM6128 11615l33-269-84-13-33 267zM2930 12685l33 242-84-15-33-239z"/><path fill="#fec736" stroke="#fec736" d="M5740 11277l33-275-84-14-33 274zM2476 12369l33 248-84-15-33-247zM6213 11629l33-271-85-12-33 269zM3015 12698l32 243-84-14-33-242zM5824 11292l33-277-84-13-33 275zM2560 12382l33 249-84-14-33-248z"/><path fill="#fdcd32" stroke="#fdcd32" d="M6297 11642l33-272-84-12-33 271zM3099 12710l33 245-85-14-32-243zM5909 11306l33-279-85-12-33 277zM2645 12394l33 252-85-15-33-249zM6381 11656l33-274-84-12-33 272zM3183 12722l33 246-84-13-33-245z"/><path fill="#fdd32e" stroke="#fdd32e" d="M5993 11320l33-281-84-12-33 279zM2729 12406l33 253-84-13-33-252z"/><path fill="#fcd92a" stroke="#fcd92a" d="M6077 11333l33-282-84-12-33 281zM2813 12418l33 255-84-14-33-253zM6161 11346l33-284-84-11-33 282zM2897 12429l33 256-84-12-33-255z"/><path fill="#fce026" stroke="#fce026" d="M6246 11358l33-285-85-11-33 284zM2982 12440l33 258-85-13-33-256z"/><path fill="#fbe622" stroke="#fbe622" d="M6330 11370l33-287-84-10-33 285zM3066 12450l33 260-84-12-33-258z"/><path fill="#fbec1e" stroke="#fbec1e" d="M6414 11382l33-289-84-10-33 287zM3150 12460l33 262-84-12-33-260z"/></g>
<clipPath id="c1"><rect x="830.5" y="18.5" width="583.5" height="705.5"/></clipPath><g clip-path="url(#c1)" fill="none" stroke-width="4.3" stroke-linejoin="round"><path d="M830.5 118.0 836.7 120.8 840.8 133.3 848.0 166.7 854.4 197.9 858.5 225.0 860.6 266.7 862.7 297.9 864.8 339.6 867.0 388.2 870.3 399.4 874.8 464.4 879.3 520.4 882.6 576.4 886.0 621.2 889.4 666.0 893.8 726.0" stroke="#ff0000"/><path d="M830.5 114.5 1100.0 116.2 1413.8 119.6" stroke="#ffd700"/><path d="M830.0 117.7 832.5 139.6 840.8 183.3 847.0 225.0 855.4 266.7 861.7 297.9 868.1 330.0 874.8 352.4 879.3 374.8 883.8 408.4 891.6 453.2 899.4 482.3 906.2 520.4 914.0 560.7 921.8 598.8 928.6 643.6 935.3 683.9 941.2 726.0" stroke="#000080"/><path d="M830.5 116.0 1000.0 121.0 1166.7 126.2 1413.8 131.1" stroke="#008000"/><path d="M830.5 117.7 861.7 125.0 924.0 129.0 986.7 136.5 1038.8 144.8 1090.8 154.2 1100.0 157.3 1144.4 164.4 1211.0 178.9 1277.8 192.2 1344.4 201.1 1388.9 205.6 1413.8 205.6" stroke="#ff6600"/><path d="M830.5 117.0 861.7 122.9 945.0 127.0 1028.3 131.3 1100.0 134.4 1413.8 142.7" stroke="#9933cc"/><path d="M830.0 117.7 851.0 121.9 901.0 124.0 904.4 130.2 945.0 131.3 986.7 139.6 1028.3 149.0 1070.0 159.4 1090.8 166.7 1100.0 171.1 1117.8 177.8 1144.4 191.1 1177.8 204.4 1222.2 224.4 1266.7 238.9 1288.9 245.6 1315.6 252.2 1333.3 261.1 1355.6 264.4 1397.8 266.7 1413.8 269.3" stroke="#1e90ff"/><path d="M830.5 115.5 1100.0 120.4 1255.6 122.2 1413.8 124.9" stroke="#20b2aa"/><path d="M830.0 117.7 861.7 130.2 888.8 139.6 913.8 142.7 945.0 149.0 986.7 155.8 1028.3 162.5 1049.2 169.8 1080.4 174.0 1100.0 177.8 1144.4 184.4 1182.2 193.3 1206.7 195.6 1224.4 201.1 1255.6 204.4 1277.8 210.0 1311.0 214.4 1344.4 221.1 1366.7 225.6 1386.7 232.2 1413.8 232.9" stroke="#ff3399"/><path d="M830.5 116.0 861.7 118.8 986.7 121.9 1100.0 125.1 1133.0 127.8 1277.8 131.1 1413.8 133.3" stroke="#4d4d4d"/><path d="M831.5 114.6 861.7 127.0 890.8 138.5 928.3 151.0 986.7 172.9 1038.8 191.7 1090.8 210.4 1100.0 215.6 1144.4 235.6 1166.7 244.4 1177.8 251.1 1211.0 263.3 1244.4 277.8 1266.7 286.7 1322.2 298.9 1335.6 306.7 1362.2 315.6 1380.0 320.0 1413.8 320.4" stroke="#990050"/></g><rect x="830.5" y="18.5" width="583.5" height="705.5" fill="none" stroke="#262626" stroke-width="1"/><line x1="830.5" y1="724.0" x2="830.5" y2="718.0" stroke="#262626" stroke-width="1"/><line x1="830.5" y1="18.5" x2="830.5" y2="24.5" stroke="#262626" stroke-width="1"/><text x="830.5" y="742.8" text-anchor="middle" font-family="Liberation Sans, sans-serif" font-size="11.8" fill="#262626">0</text><line x1="888.9" y1="724.0" x2="888.9" y2="718.0" stroke="#262626" stroke-width="1"/><line x1="888.9" y1="18.5" x2="888.9" y2="24.5" stroke="#262626" stroke-width="1"/><text x="888.9" y="742.8" text-anchor="middle" font-family="Liberation Sans, sans-serif" font-size="11.8" fill="#262626">50</text><line x1="947.2" y1="724.0" x2="947.2" y2="718.0" stroke="#262626" stroke-width="1"/><line x1="947.2" y1="18.5" x2="947.2" y2="24.5" stroke="#262626" stroke-width="1"/><text x="947.2" y="742.8" text-anchor="middle" font-family="Liberation Sans, sans-serif" font-size="11.8" fill="#262626">100</text><line x1="1005.5" y1="724.0" x2="1005.5" y2="718.0" stroke="#262626" stroke-width="1"/><line x1="1005.5" y1="18.5" x2="1005.5" y2="24.5" stroke="#262626" stroke-width="1"/><text x="1005.5" y="742.8" text-anchor="middle" font-family="Liberation Sans, sans-serif" font-size="11.8" fill="#262626">150</text><line x1="1063.9" y1="724.0" x2="1063.9" y2="718.0" stroke="#262626" stroke-width="1"/><line x1="1063.9" y1="18.5" x2="1063.9" y2="24.5" stroke="#262626" stroke-width="1"/><text x="1063.9" y="742.8" text-anchor="middle" font-family="Liberation Sans, sans-serif" font-size="11.8" fill="#262626">200</text><line x1="1122.2" y1="724.0" x2="1122.2" y2="718.0" stroke="#262626" stroke-width="1"/><line x1="1122.2" y1="18.5" x2="1122.2" y2="24.5" stroke="#262626" stroke-width="1"/><text x="1122.2" y="742.8" text-anchor="middle" font-family="Liberation Sans, sans-serif" font-size="11.8" fill="#262626">250</text><line x1="1180.6" y1="724.0" x2="1180.6" y2="718.0" stroke="#262626" stroke-width="1"/><line x1="1180.6" y1="18.5" x2="1180.6" y2="24.5" stroke="#262626" stroke-width="1"/><text x="1180.6" y="742.8" text-anchor="middle" font-family="Liberation Sans, sans-serif" font-size="11.8" fill="#262626">300</text><line x1="1239.0" y1="724.0" x2="1239.0" y2="718.0" stroke="#262626" stroke-width="1"/><line x1="1239.0" y1="18.5" x2="1239.0" y2="24.5" stroke="#262626" stroke-width="1"/><text x="1239.0" y="742.8" text-anchor="middle" font-family="Liberation Sans, sans-serif" font-size="11.8" fill="#262626">350</text><line x1="1297.3" y1="724.0" x2="1297.3" y2="718.0" stroke="#262626" stroke-width="1"/><line x1="1297.3" y1="18.5" x2="1297.3" y2="24.5" stroke="#262626" stroke-width="1"/><text x="1297.3" y="742.8" text-anchor="middle" font-family="Liberation Sans, sans-serif" font-size="11.8" fill="#262626">400</text><line x1="1355.7" y1="724.0" x2="1355.7" y2="718.0" stroke="#262626" stroke-width="1"/><line x1="1355.7" y1="18.5" x2="1355.7" y2="24.5" stroke="#262626" stroke-width="1"/><text x="1355.7" y="742.8" text-anchor="middle" font-family="Liberation Sans, sans-serif" font-size="11.8" fill="#262626">450</text><line x1="1414.0" y1="724.0" x2="1414.0" y2="718.0" stroke="#262626" stroke-width="1"/><line x1="1414.0" y1="18.5" x2="1414.0" y2="24.5" stroke="#262626" stroke-width="1"/><text x="1414.0" y="742.8" text-anchor="middle" font-family="Liberation Sans, sans-serif" font-size="11.8" fill="#262626">500</text><line x1="830.5" y1="28.5" x2="836.5" y2="28.5" stroke="#262626" stroke-width="1"/><line x1="1414.0" y1="28.5" x2="1408.0" y2="28.5" stroke="#262626" stroke-width="1"/><text x="824.5" y="35.7" text-anchor="end" font-family="Liberation Sans, sans-serif" font-size="11.8" fill="#262626">10<tspan dy="-5.5" font-size="8.6">50</tspan></text><line x1="830.5" y1="123.2" x2="836.5" y2="123.2" stroke="#262626" stroke-width="1"/><line x1="1414.0" y1="123.2" x2="1408.0" y2="123.2" stroke="#262626" stroke-width="1"/><text x="824.5" y="130.4" text-anchor="end" font-family="Liberation Sans, sans-serif" font-size="11.8" fill="#262626">10<tspan dy="-5.5" font-size="8.6">0</tspan></text><line x1="830.5" y1="217.9" x2="836.5" y2="217.9" stroke="#262626" stroke-width="1"/><line x1="1414.0" y1="217.9" x2="1408.0" y2="217.9" stroke="#262626" stroke-width="1"/><text x="824.5" y="225.1" text-anchor="end" font-family="Liberation Sans, sans-serif" font-size="11.8" fill="#262626">10<tspan dy="-5.5" font-size="8.6">−50</tspan></text><line x1="830.5" y1="312.6" x2="836.5" y2="312.6" stroke="#262626" stroke-width="1"/><line x1="1414.0" y1="312.6" x2="1408.0" y2="312.6" stroke="#262626" stroke-width="1"/><text x="824.5" y="319.8" text-anchor="end" font-family="Liberation Sans, sans-serif" font-size="11.8" fill="#262626">10<tspan dy="-5.5" font-size="8.6">−100</tspan></text><line x1="830.5" y1="407.3" x2="836.5" y2="407.3" stroke="#262626" stroke-width="1"/><line x1="1414.0" y1="407.3" x2="1408.0" y2="407.3" stroke="#262626" stroke-width="1"/><text x="824.5" y="414.5" text-anchor="end" font-family="Liberation Sans, sans-serif" font-size="11.8" fill="#262626">10<tspan dy="-5.5" font-size="8.6">−150</tspan></text><line x1="830.5" y1="502.1" x2="836.5" y2="502.1" stroke="#262626" stroke-width="1"/><line x1="1414.0" y1="502.1" x2="1408.0" y2="502.1" stroke="#262626" stroke-width="1"/><text x="824.5" y="509.3" text-anchor="end" font-family="Liberation Sans, sans-serif" font-size="11.8" fill="#262626">10<tspan dy="-5.5" font-size="8.6">−200</tspan></text><line x1="830.5" y1="596.8" x2="836.5" y2="596.8" stroke="#262626" stroke-width="1"/><line x1="1414.0" y1="596.8" x2="1408.0" y2="596.8" stroke="#262626" stroke-width="1"/><text x="824.5" y="604.0" text-anchor="end" font-family="Liberation Sans, sans-serif" font-size="11.8" fill="#262626">10<tspan dy="-5.5" font-size="8.6">−250</tspan></text><line x1="830.5" y1="691.5" x2="836.5" y2="691.5" stroke="#262626" stroke-width="1"/><line x1="1414.0" y1="691.5" x2="1408.0" y2="691.5" stroke="#262626" stroke-width="1"/><text x="824.5" y="698.7" text-anchor="end" font-family="Liberation Sans, sans-serif" font-size="11.8" fill="#262626">10<tspan dy="-5.5" font-size="8.6">−300</tspan></text><line x1="830.5" y1="47.4" x2="833.5" y2="47.4" stroke="#262626" stroke-width="1"/><line x1="1414.0" y1="47.4" x2="1411.0" y2="47.4" stroke="#262626" stroke-width="1"/><line x1="830.5" y1="66.4" x2="833.5" y2="66.4" stroke="#262626" stroke-width="1"/><line x1="1414.0" y1="66.4" x2="1411.0" y2="66.4" stroke="#262626" stroke-width="1"/><line x1="830.5" y1="85.3" x2="833.5" y2="85.3" stroke="#262626" stroke-width="1"/><line x1="1414.0" y1="85.3" x2="1411.0" y2="85.3" stroke="#262626" stroke-width="1"/><line x1="830.5" y1="104.3" x2="833.5" y2="104.3" stroke="#262626" stroke-width="1"/><line x1="1414.0" y1="104.3" x2="1411.0" y2="104.3" stroke="#262626" stroke-width="1"/><line x1="830.5" y1="142.1" x2="833.5" y2="142.1" stroke="#262626" stroke-width="1"/><line x1="1414.0" y1="142.1" x2="1411.0" y2="142.1" stroke="#262626" stroke-width="1"/><line x1="830.5" y1="161.1" x2="833.5" y2="161.1" stroke="#262626" stroke-width="1"/><line x1="1414.0" y1="161.1" x2="1411.0" y2="161.1" stroke="#262626" stroke-width="1"/><line x1="830.5" y1="180.0" x2="833.5" y2="180.0" stroke="#262626" stroke-width="1"/><line x1="1414.0" y1="180.0" x2="1411.0" y2="180.0" stroke="#262626" stroke-width="1"/><line x1="830.5" y1="199.0" x2="833.5" y2="199.0" stroke="#262626" stroke-width="1"/><line x1="1414.0" y1="199.0" x2="1411.0" y2="199.0" stroke="#262626" stroke-width="1"/><line x1="830.5" y1="236.9" x2="833.5" y2="236.9" stroke="#262626" stroke-width="1"/><line x1="1414.0" y1="236.9" x2="1411.0" y2="236.9" stroke="#262626" stroke-width="1"/><line x1="830.5" y1="255.8" x2="833.5" y2="255.8" stroke="#262626" stroke-width="1"/><line x1="1414.0" y1="255.8" x2="1411.0" y2="255.8" stroke="#262626" stroke-width="1"/><line x1="830.5" y1="274.7" x2="833.5" y2="274.7" stroke="#262626" stroke-width="1"/><line x1="1414.0" y1="274.7" x2="1411.0" y2="274.7" stroke="#262626" stroke-width="1"/><line x1="830.5" y1="293.7" x2="833.5" y2="293.7" stroke="#262626" stroke-width="1"/><line x1="1414.0" y1="293.7" x2="1411.0" y2="293.7" stroke="#262626" stroke-width="1"/><line x1="830.5" y1="331.6" x2="833.5" y2="331.6" stroke="#262626" stroke-width="1"/><line x1="1414.0" y1="331.6" x2="1411.0" y2="331.6" stroke="#262626" stroke-width="1"/><line x1="830.5" y1="350.5" x2="833.5" y2="350.5" stroke="#262626" stroke-width="1"/><line x1="1414.0" y1="350.5" x2="1411.0" y2="350.5" stroke="#262626" stroke-width="1"/><line x1="830.5" y1="369.5" x2="833.5" y2="369.5" stroke="#262626" stroke-width="1"/><line x1="1414.0" y1="369.5" x2="1411.0" y2="369.5" stroke="#262626" stroke-width="1"/><line x1="830.5" y1="388.4" x2="833.5" y2="388.4" stroke="#262626" stroke-width="1"/><line x1="1414.0" y1="388.4" x2="1411.0" y2="388.4" stroke="#262626" stroke-width="1"/><line x1="830.5" y1="426.3" x2="833.5" y2="426.3" stroke="#262626" stroke-width="1"/><line x1="1414.0" y1="426.3" x2="1411.0" y2="426.3" stroke="#262626" stroke-width="1"/><line x1="830.5" y1="445.2" x2="833.5" y2="445.2" stroke="#262626" stroke-width="1"/><line x1="1414.0" y1="445.2" x2="1411.0" y2="445.2" stroke="#262626" stroke-width="1"/><line x1="830.5" y1="464.2" x2="833.5" y2="464.2" stroke="#262626" stroke-width="1"/><line x1="1414.0" y1="464.2" x2="1411.0" y2="464.2" stroke="#262626" stroke-width="1"/><line x1="830.5" y1="483.1" x2="833.5" y2="483.1" stroke="#262626" stroke-width="1"/><line x1="1414.0" y1="483.1" x2="1411.0" y2="483.1" stroke="#262626" stroke-width="1"/><line x1="830.5" y1="521.0" x2="833.5" y2="521.0" stroke="#262626" stroke-width="1"/><line x1="1414.0" y1="521.0" x2="1411.0" y2="521.0" stroke="#262626" stroke-width="1"/><line x1="830.5" y1="539.9" x2="833.5" y2="539.9" stroke="#262626" stroke-width="1"/><line x1="1414.0" y1="539.9" x2="1411.0" y2="539.9" stroke="#262626" stroke-width="1"/><line x1="830.5" y1="558.9" x2="833.5" y2="558.9" stroke="#262626" stroke-width="1"/><line x1="1414.0" y1="558.9" x2="1411.0" y2="558.9" stroke="#262626" stroke-width="1"/><line x1="830.5" y1="577.8" x2="833.5" y2="577.8" stroke="#262626" stroke-width="1"/><line x1="1414.0" y1="577.8" x2="1411.0" y2="577.8" stroke="#262626" stroke-width="1"/><line x1="830.5" y1="615.7" x2="833.5" y2="615.7" stroke="#262626" stroke-width="1"/><line x1="1414.0" y1="615.7" x2="1411.0" y2="615.7" stroke="#262626" stroke-width="1"/><line x1="830.5" y1="634.7" x2="833.5" y2="634.7" stroke="#262626" stroke-width="1"/><line x1="1414.0" y1="634.7" x2="1411.0" y2="634.7" stroke="#262626" stroke-width="1"/><line x1="830.5" y1="653.6" x2="833.5" y2="653.6" stroke="#262626" stroke-width="1"/><line x1="1414.0" y1="653.6" x2="1411.0" y2="653.6" stroke="#262626" stroke-width="1"/><line x1="830.5" y1="672.5" x2="833.5" y2="672.5" stroke="#262626" stroke-width="1"/><line x1="1414.0" y1="672.5" x2="1411.0" y2="672.5" stroke="#262626" stroke-width="1"/><line x1="830.5" y1="710.4" x2="833.5" y2="710.4" stroke="#262626" stroke-width="1"/><line x1="1414.0" y1="710.4" x2="1411.0" y2="710.4" stroke="#262626" stroke-width="1"/><rect x="1104.6" y="443.7" width="125.5" height="217.1" fill="#fff" stroke="#262626" stroke-width="1"/><line x1="1108.4" y1="454.6" x2="1144.7" y2="454.6" stroke="#ff0000" stroke-width="4.3"/><text x="1147.7" y="460.3" font-family="Liberation Sans, sans-serif" font-size="14.3" font-weight="bold" fill="#000">AP-IVYPSO</text><line x1="1108.4" y1="474.3" x2="1144.7" y2="474.3" stroke="#ffd700" stroke-width="4.3"/><text x="1147.7" y="480.0" font-family="Liberation Sans, sans-serif" font-size="14.3" font-weight="bold" fill="#000">PSO</text><line x1="1108.4" y1="493.9" x2="1144.7" y2="493.9" stroke="#000080" stroke-width="4.3"/><text x="1147.7" y="499.6" font-family="Liberation Sans, sans-serif" font-size="14.3" font-weight="bold" fill="#000">IVY</text><line x1="1108.4" y1="513.6" x2="1144.7" y2="513.6" stroke="#008000" stroke-width="4.3"/><text x="1147.7" y="519.3" font-family="Liberation Sans, sans-serif" font-size="14.3" font-weight="bold" fill="#000">HFPSO</text><line x1="1108.4" y1="532.7" x2="1144.7" y2="532.7" stroke="#ff6600" stroke-width="4.3"/><text x="1147.7" y="538.4" font-family="Liberation Sans, sans-serif" font-size="14.3" font-weight="bold" fill="#000">HJSPSO</text><line x1="1108.4" y1="552.9" x2="1144.7" y2="552.9" stroke="#9933cc" stroke-width="4.3"/><text x="1147.7" y="558.6" font-family="Liberation Sans, sans-serif" font-size="14.3" font-weight="bold" fill="#000">BOA</text><line x1="1108.4" y1="572.5" x2="1144.7" y2="572.5" stroke="#1e90ff" stroke-width="4.3"/><text x="1147.7" y="578.2" font-family="Liberation Sans, sans-serif" font-size="14.3" font-weight="bold" fill="#000">WOA</text><line x1="1108.4" y1="591.7" x2="1144.7" y2="591.7" stroke="#20b2aa" stroke-width="4.3"/><text x="1147.7" y="597.4" font-family="Liberation Sans, sans-serif" font-size="14.3" font-weight="bold" fill="#000">GOOSE</text><line x1="1108.4" y1="611.3" x2="1144.7" y2="611.3" stroke="#ff3399" stroke-width="4.3"/><text x="1147.7" y="617.0" font-family="Liberation Sans, sans-serif" font-size="14.3" font-weight="bold" fill="#000">PSOBOA</text><line x1="1108.4" y1="631.0" x2="1144.7" y2="631.0" stroke="#4d4d4d" stroke-width="4.3"/><text x="1147.7" y="636.7" font-family="Liberation Sans, sans-serif" font-size="14.3" font-weight="bold" fill="#000">NSM-BO</text><line x1="1108.4" y1="651.1" x2="1144.7" y2="651.1" stroke="#990050" stroke-width="4.3"/><text x="1147.7" y="656.8" font-family="Liberation Sans, sans-serif" font-size="14.3" font-weight="bold" fill="#000">FDB-AGSK</text><g font-family="Liberation Sans, sans-serif" font-size="21.6" font-weight="bold" fill="#262626"><text x="975.1" y="770.0">Function Evaluations</text><text x="1206.5" y="770.0">(</text><text x="1216.7" y="770.0">/30</text><text x="1251" y="770.0">)</text></g><text transform="translate(780.5 371.8) rotate(-90)" text-anchor="middle" font-family="Liberation Sans, sans-serif" font-size="21.9" font-weight="bold" fill="#262626">Average Fitness Value</text>
<clipPath id="c2"><rect x="830.4" y="931.3" width="583.6" height="706.2"/></clipPath><g clip-path="url(#c2)" fill="none" stroke-width="4.3" stroke-linejoin="round"><path d="M830.5 1100.0 834.6 1200.0 836.5 1535.6 850.3 1539.6 858.5 1543.7 865.0 1548.6 874.7 1554.2 890.0 1555.0 1414.0 1555.0" stroke="#ff0000"/><path d="M830.5 1040.0 831.5 1023.3 833.2 1061.0 977.2 1061.1 982.0 1063.5 991.4 1063.5 991.4 1071.5 1004.6 1071.5 1005.6 1081.0 1033.0 1081.0 1034.8 1090.4 1043.3 1091.3 1043.3 1095.1 1055.1 1095.1 1056.6 1116.8 1118.9 1116.8 1123.6 1126.3 1130.7 1134.3 1152.0 1134.3 1155.7 1136.7 1168.5 1136.7 1169.9 1146.1 1192.1 1146.1 1194.4 1160.3 1203.9 1160.3 1206.3 1174.5 1226.6 1174.5 1229.9 1207.5 1241.7 1214.6 1260.6 1216.0 1270.0 1221.7 1298.3 1222.6 1307.8 1231.1 1326.7 1235.8 1333.8 1245.3 1345.6 1246.2 1355.0 1253.8 1373.9 1260.4 1402.2 1261.8 1407.0 1268.9 1414.0 1276.0" stroke="#ffd700"/><path d="M830.5 1060.0 831.5 1200.0 832.2 1536.4 850.3 1539.6 858.5 1543.7 871.4 1546.1 887.7 1554.2 907.1 1555.4 960.0 1555.0 1414.0 1555.0" stroke="#000080"/><path d="M830.5 1042.0 842.6 1188.6 847.9 1237.2 851.1 1260.7 852.0 1280.0 860.9 1289.7 864.9 1317.3 876.3 1320.6 879.5 1328.7 884.4 1333.6 889.3 1343.3 902.3 1344.9 907.1 1351.4 913.6 1353.0 916.9 1359.5 923.4 1360.3 928.2 1364.4 936.3 1366.0 938.0 1377.4 942.8 1380.6 951.0 1382.2 952.6 1396.8 963.9 1398.5 972.0 1403.3 975.3 1413.1 996.1 1417.0 1005.6 1424.0 1024.5 1431.1 1043.3 1435.8 1048.0 1442.9 1062.2 1447.6 1071.7 1457.1 1085.8 1461.8 1095.3 1473.6 1109.5 1478.3 1118.9 1494.9 1133.0 1502.0 1152.0 1511.4 1161.4 1523.2 1170.8 1532.6 1180.3 1537.4 1199.2 1546.8 1222.8 1551.5 1255.8 1553.0 1414.0 1554.8" stroke="#008000"/><path d="M830.5 1080.0 835.0 1150.0 840.0 1230.0 845.0 1290.0 849.5 1307.6 850.3 1361.1 855.2 1366.0 860.1 1377.4 861.7 1442.3 864.9 1465.0 869.0 1466.6 870.6 1491.0 874.7 1494.2 879.5 1516.9 886.0 1520.2 890.9 1529.9 891.7 1539.6 899.0 1543.7 916.9 1547.7 939.6 1552.6 955.8 1555.0 1414.0 1555.0" stroke="#ff6600"/><path d="M830.5 1050.0 837.0 1096.2 841.7 1135.3 846.4 1182.3 851.1 1213.7 853.4 1229.3 856.8 1280.0 861.7 1312.5 865.0 1336.8 871.4 1377.4 874.7 1401.7 879.5 1417.9 882.8 1442.3 890.9 1482.8 899.0 1503.9 907.1 1520.2 916.9 1531.5 931.5 1535.6 960.0 1537.6 1414.0 1537.6" stroke="#9933cc"/><path d="M830.5 1045.0 835.0 1120.0 840.0 1200.0 846.3 1288.1 848.7 1361.1 852.0 1442.3 854.4 1491.0 858.5 1502.3 860.9 1520.2 865.0 1529.9 873.1 1534.8 890.9 1541.3 916.9 1544.5 952.6 1547.0 957.4 1551.0 972.0 1552.6 996.1 1554.8 1414.0 1554.8" stroke="#1e90ff"/><path d="M830.5 1040.0 832.3 1028.8 837.0 1083.6 841.7 1093.0 844.8 1116.5 848.0 1140.0 850.3 1166.7 854.2 1171.4 856.5 1180.8 861.3 1188.6 864.4 1196.4 874.6 1198.0 877.7 1201.1 879.3 1209.0 884.0 1210.5 884.7 1227.8 901.2 1228.5 903.6 1233.3 915.3 1234.0 918.4 1245.0 946.5 1245.5 948.9 1268.9 958.3 1269.8 959.5 1284.5 996.1 1284.5 1000.8 1294.2 1007.9 1302.7 1041.0 1302.7 1042.4 1316.4 1074.0 1316.4 1076.4 1327.2 1088.2 1327.2 1090.6 1339.0 1133.0 1341.4 1135.4 1350.8 1159.0 1352.3 1161.4 1354.1 1193.5 1354.1 1196.8 1365.0 1203.9 1369.7 1203.9 1391.0 1244.0 1391.0 1246.4 1397.1 1265.3 1400.4 1293.6 1402.8 1298.3 1407.5 1298.3 1419.3 1310.2 1421.7 1326.7 1424.0 1333.8 1431.1 1347.9 1435.8 1355.0 1442.9 1364.5 1454.7 1369.2 1459.4 1378.6 1461.8 1392.8 1468.9 1402.2 1478.3 1414.0 1485.4" stroke="#20b2aa"/><path d="M830.5 1110.0 830.7 1124.4 832.3 1166.7 834.1 1280.0 839.0 1507.2 842.2 1528.3 847.1 1536.4 860.0 1537.2 1414.0 1537.2" stroke="#ff3399"/><path d="M830.5 1060.0 833.2 1028.0 835.4 1116.5 841.7 1143.2 846.4 1158.8 849.5 1185.5 854.2 1196.4 858.9 1204.3 863.6 1221.5 869.9 1241.9 873.0 1260.7 877.9 1280.0 881.2 1289.7 895.8 1299.5 901.5 1309.2 902.3 1320.6 913.6 1330.3 921.7 1348.2 923.4 1366.0 929.9 1387.1 934.7 1401.7 942.8 1409.8 946.1 1416.3 954.2 1419.6 968.8 1427.7 986.7 1440.6 1015.0 1447.6 1043.3 1457.1 1062.2 1459.4 1090.6 1468.9 1118.9 1470.3 1185.0 1471.3 1251.1 1471.3 1260.6 1473.6 1414.0 1475.0" stroke="#4d4d4d"/><path d="M830.5 1040.0 832.3 1027.2 834.6 1057.0 835.4 1135.3 838.5 1182.3 841.7 1260.7 843.0 1280.0 843.8 1377.4 847.1 1393.6 848.7 1491.0 852.0 1512.0 856.8 1520.2 858.5 1533.1 865.0 1538.0 880.0 1539.6 1414.0 1539.6" stroke="#990050"/></g><rect x="830.4" y="931.3" width="583.6" height="706.2" fill="none" stroke="#262626" stroke-width="1"/><line x1="830.4" y1="1637.5" x2="830.4" y2="1631.5" stroke="#262626" stroke-width="1"/><line x1="830.4" y1="931.3" x2="830.4" y2="937.3" stroke="#262626" stroke-width="1"/><text x="830.4" y="1656.6" text-anchor="middle" font-family="Liberation Sans, sans-serif" font-size="11.8" fill="#262626">0</text><line x1="888.8" y1="1637.5" x2="888.8" y2="1631.5" stroke="#262626" stroke-width="1"/><line x1="888.8" y1="931.3" x2="888.8" y2="937.3" stroke="#262626" stroke-width="1"/><text x="888.8" y="1656.6" text-anchor="middle" font-family="Liberation Sans, sans-serif" font-size="11.8" fill="#262626">50</text><line x1="947.1" y1="1637.5" x2="947.1" y2="1631.5" stroke="#262626" stroke-width="1"/><line x1="947.1" y1="931.3" x2="947.1" y2="937.3" stroke="#262626" stroke-width="1"/><text x="947.1" y="1656.6" text-anchor="middle" font-family="Liberation Sans, sans-serif" font-size="11.8" fill="#262626">100</text><line x1="1005.5" y1="1637.5" x2="1005.5" y2="1631.5" stroke="#262626" stroke-width="1"/><line x1="1005.5" y1="931.3" x2="1005.5" y2="937.3" stroke="#262626" stroke-width="1"/><text x="1005.5" y="1656.6" text-anchor="middle" font-family="Liberation Sans, sans-serif" font-size="11.8" fill="#262626">150</text><line x1="1063.8" y1="1637.5" x2="1063.8" y2="1631.5" stroke="#262626" stroke-width="1"/><line x1="1063.8" y1="931.3" x2="1063.8" y2="937.3" stroke="#262626" stroke-width="1"/><text x="1063.8" y="1656.6" text-anchor="middle" font-family="Liberation Sans, sans-serif" font-size="11.8" fill="#262626">200</text><line x1="1122.2" y1="1637.5" x2="1122.2" y2="1631.5" stroke="#262626" stroke-width="1"/><line x1="1122.2" y1="931.3" x2="1122.2" y2="937.3" stroke="#262626" stroke-width="1"/><text x="1122.2" y="1656.6" text-anchor="middle" font-family="Liberation Sans, sans-serif" font-size="11.8" fill="#262626">250</text><line x1="1180.6" y1="1637.5" x2="1180.6" y2="1631.5" stroke="#262626" stroke-width="1"/><line x1="1180.6" y1="931.3" x2="1180.6" y2="937.3" stroke="#262626" stroke-width="1"/><text x="1180.6" y="1656.6" text-anchor="middle" font-family="Liberation Sans, sans-serif" font-size="11.8" fill="#262626">300</text><line x1="1238.9" y1="1637.5" x2="1238.9" y2="1631.5" stroke="#262626" stroke-width="1"/><line x1="1238.9" y1="931.3" x2="1238.9" y2="937.3" stroke="#262626" stroke-width="1"/><text x="1238.9" y="1656.6" text-anchor="middle" font-family="Liberation Sans, sans-serif" font-size="11.8" fill="#262626">350</text><line x1="1297.3" y1="1637.5" x2="1297.3" y2="1631.5" stroke="#262626" stroke-width="1"/><line x1="1297.3" y1="931.3" x2="1297.3" y2="937.3" stroke="#262626" stroke-width="1"/><text x="1297.3" y="1656.6" text-anchor="middle" font-family="Liberation Sans, sans-serif" font-size="11.8" fill="#262626">400</text><line x1="1355.6" y1="1637.5" x2="1355.6" y2="1631.5" stroke="#262626" stroke-width="1"/><line x1="1355.6" y1="931.3" x2="1355.6" y2="937.3" stroke="#262626" stroke-width="1"/><text x="1355.6" y="1656.6" text-anchor="middle" font-family="Liberation Sans, sans-serif" font-size="11.8" fill="#262626">450</text><line x1="1414.0" y1="1637.5" x2="1414.0" y2="1631.5" stroke="#262626" stroke-width="1"/><line x1="1414.0" y1="931.3" x2="1414.0" y2="937.3" stroke="#262626" stroke-width="1"/><text x="1414.0" y="1656.6" text-anchor="middle" font-family="Liberation Sans, sans-serif" font-size="11.8" fill="#262626">500</text><line x1="830.4" y1="931.3" x2="836.4" y2="931.3" stroke="#262626" stroke-width="1"/><line x1="1414.0" y1="931.3" x2="1408.0" y2="931.3" stroke="#262626" stroke-width="1"/><text x="824.4" y="938.5" text-anchor="end" font-family="Liberation Sans, sans-serif" font-size="11.8" fill="#262626">10<tspan dy="-5.5" font-size="8.6">6</tspan></text><line x1="830.4" y1="1032.2" x2="836.4" y2="1032.2" stroke="#262626" stroke-width="1"/><line x1="1414.0" y1="1032.2" x2="1408.0" y2="1032.2" stroke="#262626" stroke-width="1"/><text x="824.4" y="1039.4" text-anchor="end" font-family="Liberation Sans, sans-serif" font-size="11.8" fill="#262626">10<tspan dy="-5.5" font-size="8.6">5</tspan></text><line x1="830.4" y1="1133.1" x2="836.4" y2="1133.1" stroke="#262626" stroke-width="1"/><line x1="1414.0" y1="1133.1" x2="1408.0" y2="1133.1" stroke="#262626" stroke-width="1"/><text x="824.4" y="1140.3" text-anchor="end" font-family="Liberation Sans, sans-serif" font-size="11.8" fill="#262626">10<tspan dy="-5.5" font-size="8.6">4</tspan></text><line x1="830.4" y1="1233.9" x2="836.4" y2="1233.9" stroke="#262626" stroke-width="1"/><line x1="1414.0" y1="1233.9" x2="1408.0" y2="1233.9" stroke="#262626" stroke-width="1"/><text x="824.4" y="1241.1" text-anchor="end" font-family="Liberation Sans, sans-serif" font-size="11.8" fill="#262626">10<tspan dy="-5.5" font-size="8.6">3</tspan></text><line x1="830.4" y1="1334.8" x2="836.4" y2="1334.8" stroke="#262626" stroke-width="1"/><line x1="1414.0" y1="1334.8" x2="1408.0" y2="1334.8" stroke="#262626" stroke-width="1"/><text x="824.4" y="1342.0" text-anchor="end" font-family="Liberation Sans, sans-serif" font-size="11.8" fill="#262626">10<tspan dy="-5.5" font-size="8.6">2</tspan></text><line x1="830.4" y1="1435.7" x2="836.4" y2="1435.7" stroke="#262626" stroke-width="1"/><line x1="1414.0" y1="1435.7" x2="1408.0" y2="1435.7" stroke="#262626" stroke-width="1"/><text x="824.4" y="1442.9" text-anchor="end" font-family="Liberation Sans, sans-serif" font-size="11.8" fill="#262626">10<tspan dy="-5.5" font-size="8.6">1</tspan></text><line x1="830.4" y1="1536.6" x2="836.4" y2="1536.6" stroke="#262626" stroke-width="1"/><line x1="1414.0" y1="1536.6" x2="1408.0" y2="1536.6" stroke="#262626" stroke-width="1"/><text x="824.4" y="1543.8" text-anchor="end" font-family="Liberation Sans, sans-serif" font-size="11.8" fill="#262626">10<tspan dy="-5.5" font-size="8.6">0</tspan></text><line x1="830.4" y1="1637.5" x2="836.4" y2="1637.5" stroke="#262626" stroke-width="1"/><line x1="1414.0" y1="1637.5" x2="1408.0" y2="1637.5" stroke="#262626" stroke-width="1"/><text x="824.4" y="1644.7" text-anchor="end" font-family="Liberation Sans, sans-serif" font-size="11.8" fill="#262626">10<tspan dy="-5.5" font-size="8.6">−1</tspan></text><line x1="830.4" y1="1607.1" x2="833.4" y2="1607.1" stroke="#262626" stroke-width="1"/><line x1="1414.0" y1="1607.1" x2="1411.0" y2="1607.1" stroke="#262626" stroke-width="1"/><line x1="830.4" y1="1589.4" x2="833.4" y2="1589.4" stroke="#262626" stroke-width="1"/><line x1="1414.0" y1="1589.4" x2="1411.0" y2="1589.4" stroke="#262626" stroke-width="1"/><line x1="830.4" y1="1576.7" x2="833.4" y2="1576.7" stroke="#262626" stroke-width="1"/><line x1="1414.0" y1="1576.7" x2="1411.0" y2="1576.7" stroke="#262626" stroke-width="1"/><line x1="830.4" y1="1567.0" x2="833.4" y2="1567.0" stroke="#262626" stroke-width="1"/><line x1="1414.0" y1="1567.0" x2="1411.0" y2="1567.0" stroke="#262626" stroke-width="1"/><line x1="830.4" y1="1559.0" x2="833.4" y2="1559.0" stroke="#262626" stroke-width="1"/><line x1="1414.0" y1="1559.0" x2="1411.0" y2="1559.0" stroke="#262626" stroke-width="1"/><line x1="830.4" y1="1552.2" x2="833.4" y2="1552.2" stroke="#262626" stroke-width="1"/><line x1="1414.0" y1="1552.2" x2="1411.0" y2="1552.2" stroke="#262626" stroke-width="1"/><line x1="830.4" y1="1546.4" x2="833.4" y2="1546.4" stroke="#262626" stroke-width="1"/><line x1="1414.0" y1="1546.4" x2="1411.0" y2="1546.4" stroke="#262626" stroke-width="1"/><line x1="830.4" y1="1541.2" x2="833.4" y2="1541.2" stroke="#262626" stroke-width="1"/><line x1="1414.0" y1="1541.2" x2="1411.0" y2="1541.2" stroke="#262626" stroke-width="1"/><line x1="830.4" y1="1506.2" x2="833.4" y2="1506.2" stroke="#262626" stroke-width="1"/><line x1="1414.0" y1="1506.2" x2="1411.0" y2="1506.2" stroke="#262626" stroke-width="1"/><line x1="830.4" y1="1488.5" x2="833.4" y2="1488.5" stroke="#262626" stroke-width="1"/><line x1="1414.0" y1="1488.5" x2="1411.0" y2="1488.5" stroke="#262626" stroke-width="1"/><line x1="830.4" y1="1475.9" x2="833.4" y2="1475.9" stroke="#262626" stroke-width="1"/><line x1="1414.0" y1="1475.9" x2="1411.0" y2="1475.9" stroke="#262626" stroke-width="1"/><line x1="830.4" y1="1466.1" x2="833.4" y2="1466.1" stroke="#262626" stroke-width="1"/><line x1="1414.0" y1="1466.1" x2="1411.0" y2="1466.1" stroke="#262626" stroke-width="1"/><line x1="830.4" y1="1458.1" x2="833.4" y2="1458.1" stroke="#262626" stroke-width="1"/><line x1="1414.0" y1="1458.1" x2="1411.0" y2="1458.1" stroke="#262626" stroke-width="1"/><line x1="830.4" y1="1451.3" x2="833.4" y2="1451.3" stroke="#262626" stroke-width="1"/><line x1="1414.0" y1="1451.3" x2="1411.0" y2="1451.3" stroke="#262626" stroke-width="1"/><line x1="830.4" y1="1445.5" x2="833.4" y2="1445.5" stroke="#262626" stroke-width="1"/><line x1="1414.0" y1="1445.5" x2="1411.0" y2="1445.5" stroke="#262626" stroke-width="1"/><line x1="830.4" y1="1440.3" x2="833.4" y2="1440.3" stroke="#262626" stroke-width="1"/><line x1="1414.0" y1="1440.3" x2="1411.0" y2="1440.3" stroke="#262626" stroke-width="1"/><line x1="830.4" y1="1405.3" x2="833.4" y2="1405.3" stroke="#262626" stroke-width="1"/><line x1="1414.0" y1="1405.3" x2="1411.0" y2="1405.3" stroke="#262626" stroke-width="1"/><line x1="830.4" y1="1387.6" x2="833.4" y2="1387.6" stroke="#262626" stroke-width="1"/><line x1="1414.0" y1="1387.6" x2="1411.0" y2="1387.6" stroke="#262626" stroke-width="1"/><line x1="830.4" y1="1375.0" x2="833.4" y2="1375.0" stroke="#262626" stroke-width="1"/><line x1="1414.0" y1="1375.0" x2="1411.0" y2="1375.0" stroke="#262626" stroke-width="1"/><line x1="830.4" y1="1365.2" x2="833.4" y2="1365.2" stroke="#262626" stroke-width="1"/><line x1="1414.0" y1="1365.2" x2="1411.0" y2="1365.2" stroke="#262626" stroke-width="1"/><line x1="830.4" y1="1357.2" x2="833.4" y2="1357.2" stroke="#262626" stroke-width="1"/><line x1="1414.0" y1="1357.2" x2="1411.0" y2="1357.2" stroke="#262626" stroke-width="1"/><line x1="830.4" y1="1350.5" x2="833.4" y2="1350.5" stroke="#262626" stroke-width="1"/><line x1="1414.0" y1="1350.5" x2="1411.0" y2="1350.5" stroke="#262626" stroke-width="1"/><line x1="830.4" y1="1344.6" x2="833.4" y2="1344.6" stroke="#262626" stroke-width="1"/><line x1="1414.0" y1="1344.6" x2="1411.0" y2="1344.6" stroke="#262626" stroke-width="1"/><line x1="830.4" y1="1339.4" x2="833.4" y2="1339.4" stroke="#262626" stroke-width="1"/><line x1="1414.0" y1="1339.4" x2="1411.0" y2="1339.4" stroke="#262626" stroke-width="1"/><line x1="830.4" y1="1304.5" x2="833.4" y2="1304.5" stroke="#262626" stroke-width="1"/><line x1="1414.0" y1="1304.5" x2="1411.0" y2="1304.5" stroke="#262626" stroke-width="1"/><line x1="830.4" y1="1286.7" x2="833.4" y2="1286.7" stroke="#262626" stroke-width="1"/><line x1="1414.0" y1="1286.7" x2="1411.0" y2="1286.7" stroke="#262626" stroke-width="1"/><line x1="830.4" y1="1274.1" x2="833.4" y2="1274.1" stroke="#262626" stroke-width="1"/><line x1="1414.0" y1="1274.1" x2="1411.0" y2="1274.1" stroke="#262626" stroke-width="1"/><line x1="830.4" y1="1264.3" x2="833.4" y2="1264.3" stroke="#262626" stroke-width="1"/><line x1="1414.0" y1="1264.3" x2="1411.0" y2="1264.3" stroke="#262626" stroke-width="1"/><line x1="830.4" y1="1256.3" x2="833.4" y2="1256.3" stroke="#262626" stroke-width="1"/><line x1="1414.0" y1="1256.3" x2="1411.0" y2="1256.3" stroke="#262626" stroke-width="1"/><line x1="830.4" y1="1249.6" x2="833.4" y2="1249.6" stroke="#262626" stroke-width="1"/><line x1="1414.0" y1="1249.6" x2="1411.0" y2="1249.6" stroke="#262626" stroke-width="1"/><line x1="830.4" y1="1243.7" x2="833.4" y2="1243.7" stroke="#262626" stroke-width="1"/><line x1="1414.0" y1="1243.7" x2="1411.0" y2="1243.7" stroke="#262626" stroke-width="1"/><line x1="830.4" y1="1238.6" x2="833.4" y2="1238.6" stroke="#262626" stroke-width="1"/><line x1="1414.0" y1="1238.6" x2="1411.0" y2="1238.6" stroke="#262626" stroke-width="1"/><line x1="830.4" y1="1203.6" x2="833.4" y2="1203.6" stroke="#262626" stroke-width="1"/><line x1="1414.0" y1="1203.6" x2="1411.0" y2="1203.6" stroke="#262626" stroke-width="1"/><line x1="830.4" y1="1185.8" x2="833.4" y2="1185.8" stroke="#262626" stroke-width="1"/><line x1="1414.0" y1="1185.8" x2="1411.0" y2="1185.8" stroke="#262626" stroke-width="1"/><line x1="830.4" y1="1173.2" x2="833.4" y2="1173.2" stroke="#262626" stroke-width="1"/><line x1="1414.0" y1="1173.2" x2="1411.0" y2="1173.2" stroke="#262626" stroke-width="1"/><line x1="830.4" y1="1163.4" x2="833.4" y2="1163.4" stroke="#262626" stroke-width="1"/><line x1="1414.0" y1="1163.4" x2="1411.0" y2="1163.4" stroke="#262626" stroke-width="1"/><line x1="830.4" y1="1155.4" x2="833.4" y2="1155.4" stroke="#262626" stroke-width="1"/><line x1="1414.0" y1="1155.4" x2="1411.0" y2="1155.4" stroke="#262626" stroke-width="1"/><line x1="830.4" y1="1148.7" x2="833.4" y2="1148.7" stroke="#262626" stroke-width="1"/><line x1="1414.0" y1="1148.7" x2="1411.0" y2="1148.7" stroke="#262626" stroke-width="1"/><line x1="830.4" y1="1142.8" x2="833.4" y2="1142.8" stroke="#262626" stroke-width="1"/><line x1="1414.0" y1="1142.8" x2="1411.0" y2="1142.8" stroke="#262626" stroke-width="1"/><line x1="830.4" y1="1137.7" x2="833.4" y2="1137.7" stroke="#262626" stroke-width="1"/><line x1="1414.0" y1="1137.7" x2="1411.0" y2="1137.7" stroke="#262626" stroke-width="1"/><line x1="830.4" y1="1102.7" x2="833.4" y2="1102.7" stroke="#262626" stroke-width="1"/><line x1="1414.0" y1="1102.7" x2="1411.0" y2="1102.7" stroke="#262626" stroke-width="1"/><line x1="830.4" y1="1084.9" x2="833.4" y2="1084.9" stroke="#262626" stroke-width="1"/><line x1="1414.0" y1="1084.9" x2="1411.0" y2="1084.9" stroke="#262626" stroke-width="1"/><line x1="830.4" y1="1072.3" x2="833.4" y2="1072.3" stroke="#262626" stroke-width="1"/><line x1="1414.0" y1="1072.3" x2="1411.0" y2="1072.3" stroke="#262626" stroke-width="1"/><line x1="830.4" y1="1062.5" x2="833.4" y2="1062.5" stroke="#262626" stroke-width="1"/><line x1="1414.0" y1="1062.5" x2="1411.0" y2="1062.5" stroke="#262626" stroke-width="1"/><line x1="830.4" y1="1054.6" x2="833.4" y2="1054.6" stroke="#262626" stroke-width="1"/><line x1="1414.0" y1="1054.6" x2="1411.0" y2="1054.6" stroke="#262626" stroke-width="1"/><line x1="830.4" y1="1047.8" x2="833.4" y2="1047.8" stroke="#262626" stroke-width="1"/><line x1="1414.0" y1="1047.8" x2="1411.0" y2="1047.8" stroke="#262626" stroke-width="1"/><line x1="830.4" y1="1041.9" x2="833.4" y2="1041.9" stroke="#262626" stroke-width="1"/><line x1="1414.0" y1="1041.9" x2="1411.0" y2="1041.9" stroke="#262626" stroke-width="1"/><line x1="830.4" y1="1036.8" x2="833.4" y2="1036.8" stroke="#262626" stroke-width="1"/><line x1="1414.0" y1="1036.8" x2="1411.0" y2="1036.8" stroke="#262626" stroke-width="1"/><line x1="830.4" y1="1001.8" x2="833.4" y2="1001.8" stroke="#262626" stroke-width="1"/><line x1="1414.0" y1="1001.8" x2="1411.0" y2="1001.8" stroke="#262626" stroke-width="1"/><line x1="830.4" y1="984.0" x2="833.4" y2="984.0" stroke="#262626" stroke-width="1"/><line x1="1414.0" y1="984.0" x2="1411.0" y2="984.0" stroke="#262626" stroke-width="1"/><line x1="830.4" y1="971.4" x2="833.4" y2="971.4" stroke="#262626" stroke-width="1"/><line x1="1414.0" y1="971.4" x2="1411.0" y2="971.4" stroke="#262626" stroke-width="1"/><line x1="830.4" y1="961.7" x2="833.4" y2="961.7" stroke="#262626" stroke-width="1"/><line x1="1414.0" y1="961.7" x2="1411.0" y2="961.7" stroke="#262626" stroke-width="1"/><line x1="830.4" y1="953.7" x2="833.4" y2="953.7" stroke="#262626" stroke-width="1"/><line x1="1414.0" y1="953.7" x2="1411.0" y2="953.7" stroke="#262626" stroke-width="1"/><line x1="830.4" y1="946.9" x2="833.4" y2="946.9" stroke="#262626" stroke-width="1"/><line x1="1414.0" y1="946.9" x2="1411.0" y2="946.9" stroke="#262626" stroke-width="1"/><line x1="830.4" y1="941.1" x2="833.4" y2="941.1" stroke="#262626" stroke-width="1"/><line x1="1414.0" y1="941.1" x2="1411.0" y2="941.1" stroke="#262626" stroke-width="1"/><line x1="830.4" y1="935.9" x2="833.4" y2="935.9" stroke="#262626" stroke-width="1"/><line x1="1414.0" y1="935.9" x2="1411.0" y2="935.9" stroke="#262626" stroke-width="1"/><rect x="1240.7" y="970.4" width="125.6" height="218.2" fill="#fff" stroke="#262626" stroke-width="1"/><line x1="1244.0" y1="981.7" x2="1280.3" y2="981.7" stroke="#ff0000" stroke-width="4.3"/><text x="1283.2" y="987.4" font-family="Liberation Sans, sans-serif" font-size="14.3" font-weight="bold" fill="#000">AP-IVYPSO</text><line x1="1244.0" y1="1001.5" x2="1280.3" y2="1001.5" stroke="#ffd700" stroke-width="4.3"/><text x="1283.2" y="1007.2" font-family="Liberation Sans, sans-serif" font-size="14.3" font-weight="bold" fill="#000">PSO</text><line x1="1244.0" y1="1020.8" x2="1280.3" y2="1020.8" stroke="#000080" stroke-width="4.3"/><text x="1283.2" y="1026.5" font-family="Liberation Sans, sans-serif" font-size="14.3" font-weight="bold" fill="#000">IVY</text><line x1="1244.0" y1="1040.7" x2="1280.3" y2="1040.7" stroke="#008000" stroke-width="4.3"/><text x="1283.2" y="1046.4" font-family="Liberation Sans, sans-serif" font-size="14.3" font-weight="bold" fill="#000">HFPSO</text><line x1="1244.0" y1="1060.0" x2="1280.3" y2="1060.0" stroke="#ff6600" stroke-width="4.3"/><text x="1283.2" y="1065.7" font-family="Liberation Sans, sans-serif" font-size="14.3" font-weight="bold" fill="#000">HJSPSO</text><line x1="1244.0" y1="1079.9" x2="1280.3" y2="1079.9" stroke="#9933cc" stroke-width="4.3"/><text x="1283.2" y="1085.6" font-family="Liberation Sans, sans-serif" font-size="14.3" font-weight="bold" fill="#000">BOA</text><line x1="1244.0" y1="1099.7" x2="1280.3" y2="1099.7" stroke="#1e90ff" stroke-width="4.3"/><text x="1283.2" y="1105.4" font-family="Liberation Sans, sans-serif" font-size="14.3" font-weight="bold" fill="#000">WOA</text><line x1="1244.0" y1="1118.6" x2="1280.3" y2="1118.6" stroke="#20b2aa" stroke-width="4.3"/><text x="1283.2" y="1124.3" font-family="Liberation Sans, sans-serif" font-size="14.3" font-weight="bold" fill="#000">GOOSE</text><line x1="1244.0" y1="1138.4" x2="1280.3" y2="1138.4" stroke="#ff3399" stroke-width="4.3"/><text x="1283.2" y="1144.1" font-family="Liberation Sans, sans-serif" font-size="14.3" font-weight="bold" fill="#000">PSOBOA</text><line x1="1244.0" y1="1158.3" x2="1280.3" y2="1158.3" stroke="#4d4d4d" stroke-width="4.3"/><text x="1283.2" y="1164.0" font-family="Liberation Sans, sans-serif" font-size="14.3" font-weight="bold" fill="#000">NSM-BO</text><line x1="1244.0" y1="1178.1" x2="1280.3" y2="1178.1" stroke="#990050" stroke-width="4.3"/><text x="1283.2" y="1183.8" font-family="Liberation Sans, sans-serif" font-size="14.3" font-weight="bold" fill="#000">FDB-AGSK</text><g font-family="Liberation Sans, sans-serif" font-size="21.6" font-weight="bold" fill="#262626"><text x="975.1" y="1682.9">Function Evaluations</text><text x="1206.5" y="1682.9">(</text><text x="1216.7" y="1682.9">/30</text><text x="1251" y="1682.9">)</text></g><text transform="translate(795.3 1285.3) rotate(-90)" text-anchor="middle" font-family="Liberation Sans, sans-serif" font-size="21.9" font-weight="bold" fill="#262626">Average Fitness Value</text>
<text x="656.3" y="855.6" font-family="Liberation Serif, serif" font-size="33" fill="#000">(<tspan font-weight="bold">k</tspan>) f11.</text><text x="661.3" y="1768.75" font-family="Liberation Serif, serif" font-size="33" fill="#000">(<tspan font-weight="bold">l</tspan>) f12.</text>
</svg>
<canvas id="cv1" width="720" height="800" style="top:0;width:720px;height:800px"></canvas>
<canvas id="cv2" width="720" height="800" style="top:900px;width:720px;height:800px"></canvas>
<svg width="720" height="1787" viewBox="0 0 720 1787" style="top:0"><line x1="62.5" y1="547.2" x2="62.5" y2="155.2" stroke="#262626" stroke-width="1"/><line x1="315.4" y1="722.9" x2="63.3" y2="547.2" stroke="#262626" stroke-width="1"/><line x1="315.4" y1="722.9" x2="642.8" y2="588.3" stroke="#262626" stroke-width="1"/><line x1="62.5" y1="494.2" x2="54.0" y2="488.2" stroke="#262626" stroke-width="1"/><text x="49.5" y="492.4" text-anchor="end" font-family="Liberation Sans, sans-serif" font-size="11.8" fill="#262626">200</text><line x1="62.5" y1="441.1" x2="54.0" y2="435.1" stroke="#262626" stroke-width="1"/><text x="49.5" y="439.3" text-anchor="end" font-family="Liberation Sans, sans-serif" font-size="11.8" fill="#262626">400</text><line x1="62.5" y1="388.1" x2="54.0" y2="382.1" stroke="#262626" stroke-width="1"/><text x="49.5" y="386.3" text-anchor="end" font-family="Liberation Sans, sans-serif" font-size="11.8" fill="#262626">600</text><line x1="62.5" y1="335.0" x2="54.0" y2="329.0" stroke="#262626" stroke-width="1"/><text x="49.5" y="333.2" text-anchor="end" font-family="Liberation Sans, sans-serif" font-size="11.8" fill="#262626">800</text><line x1="62.5" y1="282.0" x2="54.0" y2="276.0" stroke="#262626" stroke-width="1"/><text x="49.5" y="280.2" text-anchor="end" font-family="Liberation Sans, sans-serif" font-size="11.8" fill="#262626">1000</text><line x1="62.5" y1="229.0" x2="54.0" y2="223.0" stroke="#262626" stroke-width="1"/><text x="49.5" y="227.2" text-anchor="end" font-family="Liberation Sans, sans-serif" font-size="11.8" fill="#262626">1200</text><line x1="62.5" y1="175.9" x2="54.0" y2="169.9" stroke="#262626" stroke-width="1"/><text x="49.5" y="174.1" text-anchor="end" font-family="Liberation Sans, sans-serif" font-size="11.8" fill="#262626">1400</text><line x1="315.4" y1="722.9" x2="306.7" y2="727.3" stroke="#262626" stroke-width="1"/><line x1="189.3" y1="635.0" x2="180.7" y2="639.4" stroke="#262626" stroke-width="1"/><line x1="63.3" y1="547.2" x2="54.6" y2="551.6" stroke="#262626" stroke-width="1"/><line x1="315.4" y1="722.9" x2="323.2" y2="728.3" stroke="#262626" stroke-width="1"/><line x1="479.1" y1="655.6" x2="486.9" y2="661.0" stroke="#262626" stroke-width="1"/><line x1="642.8" y1="588.3" x2="650.6" y2="593.7" stroke="#262626" stroke-width="1"/><text x="46.1" y="565.9" text-anchor="middle" font-family="Liberation Sans, sans-serif" font-size="11.8" fill="#262626">5</text><text x="170.7" y="653.4" text-anchor="middle" font-family="Liberation Sans, sans-serif" font-size="11.8" fill="#262626">0</text><text x="291.5" y="741.7" text-anchor="middle" font-family="Liberation Sans, sans-serif" font-size="11.8" fill="#262626">−5</text><text x="334.2" y="744.2" text-anchor="middle" font-family="Liberation Sans, sans-serif" font-size="11.8" fill="#262626">−5</text><text x="494.2" y="678.0" text-anchor="middle" font-family="Liberation Sans, sans-serif" font-size="11.8" fill="#262626">0</text><text x="657.9" y="610.7" text-anchor="middle" font-family="Liberation Sans, sans-serif" font-size="11.8" fill="#262626">5</text><line x1="62.3" y1="1459.4" x2="62.3" y2="1067.6" stroke="#262626" stroke-width="1"/><line x1="315.0" y1="1637.8" x2="62.3" y2="1459.4" stroke="#262626" stroke-width="1"/><line x1="315.0" y1="1637.8" x2="644.7" y2="1501.1" stroke="#262626" stroke-width="1"/><line x1="62.3" y1="1395.0" x2="53.8" y2="1389.0" stroke="#262626" stroke-width="1"/><text x="49.3" y="1393.2" text-anchor="end" font-family="Liberation Sans, sans-serif" font-size="11.8" fill="#262626">1000</text><line x1="62.3" y1="1330.6" x2="53.8" y2="1324.6" stroke="#262626" stroke-width="1"/><text x="49.3" y="1328.8" text-anchor="end" font-family="Liberation Sans, sans-serif" font-size="11.8" fill="#262626">2000</text><line x1="62.3" y1="1266.3" x2="53.8" y2="1260.3" stroke="#262626" stroke-width="1"/><text x="49.3" y="1264.5" text-anchor="end" font-family="Liberation Sans, sans-serif" font-size="11.8" fill="#262626">3000</text><line x1="62.3" y1="1201.9" x2="53.8" y2="1195.9" stroke="#262626" stroke-width="1"/><text x="49.3" y="1200.1" text-anchor="end" font-family="Liberation Sans, sans-serif" font-size="11.8" fill="#262626">4000</text><line x1="62.3" y1="1137.5" x2="53.8" y2="1131.5" stroke="#262626" stroke-width="1"/><text x="49.3" y="1135.7" text-anchor="end" font-family="Liberation Sans, sans-serif" font-size="11.8" fill="#262626">5000</text><line x1="62.3" y1="1073.1" x2="53.8" y2="1067.1" stroke="#262626" stroke-width="1"/><text x="49.3" y="1071.3" text-anchor="end" font-family="Liberation Sans, sans-serif" font-size="11.8" fill="#262626">6000</text><line x1="315.0" y1="1637.8" x2="306.3" y2="1642.2" stroke="#262626" stroke-width="1"/><line x1="188.7" y1="1548.6" x2="180.0" y2="1553.0" stroke="#262626" stroke-width="1"/><line x1="62.3" y1="1459.4" x2="53.6" y2="1463.8" stroke="#262626" stroke-width="1"/><line x1="315.0" y1="1637.8" x2="322.8" y2="1643.2" stroke="#262626" stroke-width="1"/><line x1="479.9" y1="1569.4" x2="487.7" y2="1574.8" stroke="#262626" stroke-width="1"/><line x1="644.7" y1="1501.1" x2="652.5" y2="1506.5" stroke="#262626" stroke-width="1"/><text x="45.1" y="1478.1" text-anchor="middle" font-family="Liberation Sans, sans-serif" font-size="11.8" fill="#262626">5</text><text x="170.0" y="1567.0" text-anchor="middle" font-family="Liberation Sans, sans-serif" font-size="11.8" fill="#262626">0</text><text x="291.1" y="1656.6" text-anchor="middle" font-family="Liberation Sans, sans-serif" font-size="11.8" fill="#262626">−5</text><text x="333.8" y="1659.1" text-anchor="middle" font-family="Liberation Sans, sans-serif" font-size="11.8" fill="#262626">−5</text><text x="495.0" y="1591.8" text-anchor="middle" font-family="Liberation Sans, sans-serif" font-size="11.8" fill="#262626">0</text><text x="659.8" y="1523.5" text-anchor="middle" font-family="Liberation Sans, sans-serif" font-size="11.8" fill="#262626">5</text></svg>
<script>
var CM=["#3e27aa", "#3e28ad", "#3f29af", "#3f2ab2", "#402bb5", "#402cb8", "#412dba", "#412ebd", "#422fc0", "#4230c3", "#4231c5", "#4332c8", "#4333cb", "#4434ce", "#4435d0", "#4536d3", "#4537d5", "#4538d7", "#453ad8", "#453bda", "#463cdc", "#463edd", "#463fdf", "#4641e0", "#4642e2", "#4643e3", "#4645e5", "#4646e6", "#4747e8", "#4749e9", "#474aeb", "#474bec", "#474dee", "#474eef", "#474ff1", "#4851f3", "#4852f4", "#4753f5", "#4755f5", "#4756f6", "#4757f7", "#4659f7", "#465af8", "#465bf8", "#465df9", "#455efa", "#455ffa", "#4560fb", "#4562fb", "#4563fc", "#4464fd", "#4466fd", "#4368fd", "#4169fe", "#406bfe", "#3f6dfe", "#3e6ffe", "#3d70ff", "#3b72ff", "#3a74ff", "#3975fe", "#3876fd", "#3878fd", "#3779fc", "#367bfc", "#357cfb", "#347dfb", "#337ffa", "#3280fa", "#3182f9", "#3083f8", "#2f84f8", "#2e86f7", "#2d87f7", "#2d89f6", "#2c8af5", "#2c8bf4", "#2b8df3", "#2b8ef2", "#2a90f1", "#2991f0", "#2992ef", "#2894ee", "#2895ed", "#2796ec", "#2798eb", "#2699ea", "#259be9", "#259ce8", "#249de7", "#249fe6", "#23a0e5", "#22a1e4", "#21a2e3", "#20a3e2", "#1fa4e2", "#1ea5e1", "#1da6e0", "#1ca7df", "#1ba8de", "#1ba8de", "#1aa9dd", "#19aadc", "#18abdb", "#17acda", "#16adda", "#15aed9", "#14afd8", "#13b0d7", "#12b1d6", "#10b2d5", "#0fb2d4", "#0db3d2", "#0bb4d1", "#0ab5cf", "#08b5ce", "#07b6cd", "#05b7cb", "#03b7ca", "#02b8c8", "#01b9c7", "#03bac5", "#06bac3", "#08bbc2", "#0bbcc0", "#0dbcbe", "#10bdbc", "#12beba", "#15beb8", "#17bfb7", "#1abfb5", "#1cc0b3", "#1ec1b1", "#20c1af", "#21c2ad", "#23c2ab", "#25c3a9", "#27c3a8", "#29c4a6", "#2bc4a4", "#2dc5a2", "#2ec5a0", "#30c69e", "#32c79c", "#34c79a", "#36c898", "#38c896", "#3ac894", "#3dc992", "#3fc990", "#42c98d", "#44c98b", "#47ca89", "#49ca87", "#4bca85", "#4eca82", "#50ca80", "#53cb7e", "#55cb7c", "#58cb7a", "#5acb77", "#5ccc75", "#5fcc73", "#61cc71", "#64cc6f", "#67cc6c", "#6bcc69", "#6fcb66", "#73cb63", "#77cb60", "#7bcb5d", "#7fca5a", "#83ca57", "#87ca54", "#8bc951", "#8fc94e", "#93c94b", "#97c848", "#9bc845", "#9ec842", "#a2c740", "#a6c73d", "#aac73a", "#adc739", "#afc739", "#b2c639", "#b4c639", "#b6c639", "#b8c639", "#bbc639", "#bdc639", "#bfc639", "#c1c639", "#c4c639", "#c6c639", "#c8c639", "#cac539", "#cdc539", "#cfc538", "#d1c538", "#d3c538", "#d6c538", "#d8c538", "#dac538", "#ddc538", "#dfc538", "#e1c538", "#e3c438", "#e6c438", "#e8c438", "#eac438", "#ecc438", "#efc438", "#f1c438", "#f3c438", "#f5c438", "#f8c438", "#fac338", "#fcc338", "#fec338", "#fec537", "#fec736", "#fec835", "#feca34", "#fecb33", "#fdcd32", "#fdce31", "#fdd030", "#fdd12f", "#fdd32e", "#fdd42d", "#fdd62c", "#fcd72b", "#fcd92a", "#fcda29", "#fcdc28", "#fcdd27", "#fcdf26", "#fce026", "#fbe225", "#fbe324", "#fbe523", "#fbe622", "#fbe821", "#fbe920", "#fbeb1f", "#faec1e", "#faee1d", "#faf01c", "#faf11b", "#faf31a", "#faf419", "#faf618", "#f9f717", "#f9f916", "#f9fa15"];
(function(){
function P(F,L,R,zs){
  var ex=[(R[0]-F[0])/10,(R[1]-F[1])/10], ey=[(L[0]-F[0])/10,(L[1]-F[1])/10];
  // null vector of [[ex0,ey0,0],[ex1,ey1,-zs]]
  var a=1, b=-ex[0]/ey[0]*a; // ex0*a+ey0*b=0
  var c=(ex[1]*a+ey[1]*b)/zs; // ex1*a+ey1*b - zs*c=0
  var n=[a,b,c]; if(n[2]<0){n=[-a,-b,-c];}
  return {F:F,ex:ex,ey:ey,zs:zs,n:n};
}
function surf(id, f, pr, cmax, N, yoff){
  var cv=document.getElementById(id); if(!cv||!cv.getContext) return;
  var ctx=cv.getContext('2d');
  var M=N+1, X=new Float64Array(M*M), Y=new Float64Array(M*M), Z=new Float64Array(M*M), SX=new Float64Array(M*M), SY=new Float64Array(M*M);
  for(var i=0;i<M;i++){ for(var j=0;j<M;j++){
    var x=-5+10*i/N, y=-5+10*j/N, z=f(x,y), k=i*M+j;
    X[k]=x;Y[k]=y;Z[k]=z;
    SX[k]=pr.F[0]+(x+5)*pr.ex[0]+(y+5)*pr.ey[0];
    SY[k]=pr.F[1]+(x+5)*pr.ex[1]+(y+5)*pr.ey[1]-z*pr.zs-yoff;
  }}
  var q=[];
  for(var i=0;i<N;i++){ for(var j=0;j<N;j++){
    var k0=i*M+j,k1=(i+1)*M+j,k2=(i+1)*M+j+1,k3=i*M+j+1;
    var zc=(Z[k0]+Z[k1]+Z[k2]+Z[k3])/4, xc=(X[k0]+X[k2])/2, yc=(Y[k0]+Y[k2])/2, zcol=Z[k0];
    var d=pr.n[0]*xc+pr.n[1]*yc+pr.n[2]*zc;
    var ci=Math.floor(zcol/cmax*256); if(ci>255)ci=255; if(ci<0)ci=0;
    q.push([d,ci,k0,k1,k2,k3]);
  }}
  q.sort(function(a,b){return a[0]-b[0];});
  ctx.lineJoin='round'; ctx.lineWidth=0.7;
  var cur=-1;
  for(var t=0;t<q.length;t++){
    var e=q[t];
    if(e[1]!==cur){ if(cur>=0){ctx.fill();ctx.stroke();} cur=e[1]; ctx.fillStyle=CM[cur]; ctx.strokeStyle=CM[cur]; ctx.beginPath(); }
    ctx.moveTo(SX[e[2]],SY[e[2]]); ctx.lineTo(SX[e[3]],SY[e[3]]); ctx.lineTo(SX[e[4]],SY[e[4]]); ctx.lineTo(SX[e[5]],SY[e[5]]); ctx.closePath();
  }
  if(cur>=0){ctx.fill();ctx.stroke();}
}
try{
surf('cv1',function(x,y){return 1.09*(x*x*x*x+y*y*y*y)+1.95*(x*x+y*y);},P([315.4,722.9],[63.3,547.2],[642.8,588.3],0.2652),1460,200,0);
surf('cv2',function(x,y){var u=2*x*x-y;return (y-1)*(y-1)+2*u*u;},P([315,1637.8],[62.3,1459.4],[644.7,1501.1],0.06438),6086,200,900);
}catch(err){}
})();

</script>
</body></html>
